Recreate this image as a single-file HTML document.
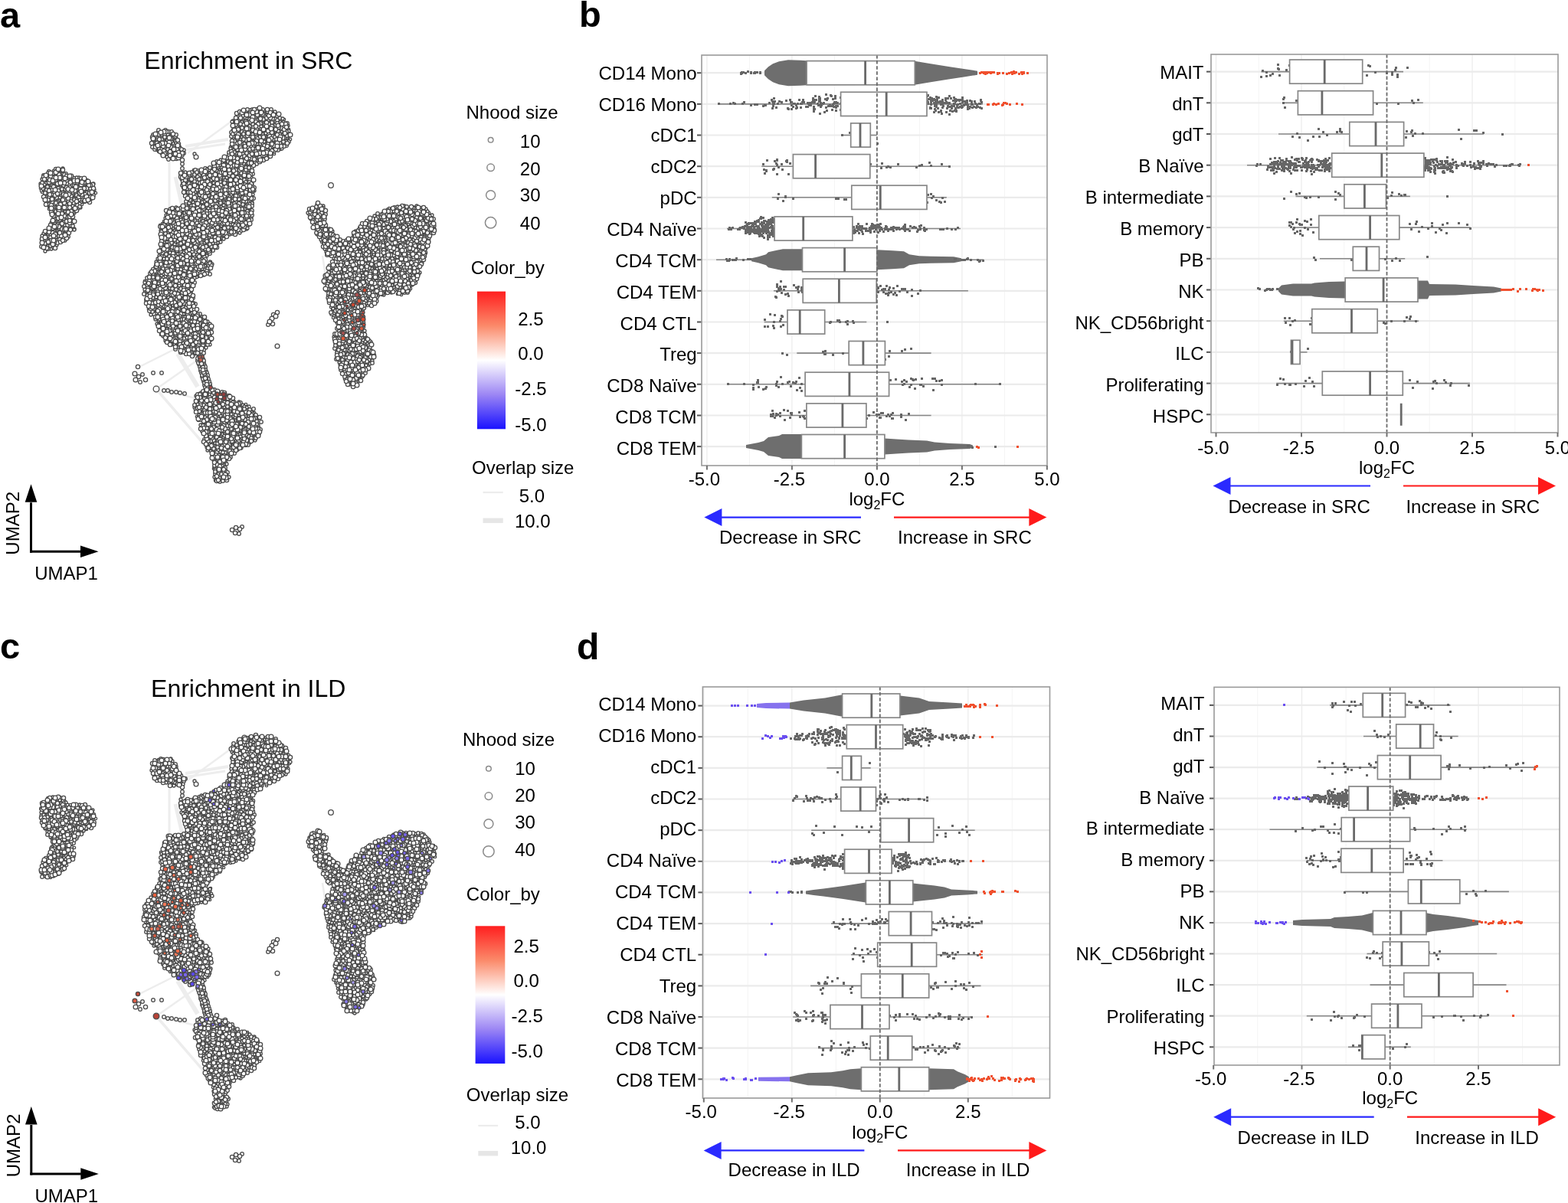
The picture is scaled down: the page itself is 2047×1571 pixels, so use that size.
<!DOCTYPE html>
<html><head><meta charset="utf-8"><title>Figure</title><style>html,body{margin:0;padding:0;background:#fff;overflow:hidden}svg{display:block}</style></head><body>
<svg width="2047" height="1571" viewBox="0 0 2047 1571" font-family='"Liberation Sans", Arial, Helvetica, sans-serif' font-size="24">
<rect width="2047" height="1571" fill="#fff"/>
<text x="0" y="35.6" font-size="47" font-weight="bold">a</text>
<text x="756" y="34.9" font-size="47" font-weight="bold">b</text>
<text x="0" y="860" font-size="47" font-weight="bold">c</text>
<text x="753" y="861" font-size="48" font-weight="bold">d</text>
<text x="324.4" y="89.8" font-size="32" text-anchor="middle">Enrichment in SRC</text>
<text x="324.2" y="909.8" font-size="32" text-anchor="middle">Enrichment in ILD</text>
<line x1="204" y1="508" x2="268" y2="582" stroke="#ededed" stroke-width="3.5"/>
<line x1="204" y1="508" x2="258" y2="470" stroke="#ededed" stroke-width="2.5"/>
<line x1="242" y1="191" x2="298" y2="182" stroke="#ededed" stroke-width="4"/>
<line x1="240" y1="196" x2="294" y2="188" stroke="#ededed" stroke-width="3"/>
<line x1="221" y1="211" x2="221" y2="271" stroke="#ededed" stroke-width="3"/>
<line x1="229" y1="231" x2="238" y2="270" stroke="#ededed" stroke-width="5"/>
<line x1="180" y1="480" x2="230" y2="455" stroke="#ededed" stroke-width="2.5"/>
<line x1="421" y1="334" x2="425" y2="360" stroke="#ededed" stroke-width="2.5"/>
<line x1="214" y1="510" x2="255" y2="520" stroke="#ededed" stroke-width="2.5"/>
<line x1="232" y1="462" x2="258" y2="505" stroke="#ededed" stroke-width="6"/>
<line x1="268" y1="330" x2="262" y2="345" stroke="#ededed" stroke-width="5"/>
<line x1="300" y1="160" x2="245" y2="200" stroke="#ededed" stroke-width="2.5"/>
<g class="q0a" fill="#ffffff" stroke="#4a4a4a" stroke-width="1.3"><circle cx=207 cy=198 r=1.7 /><circle cx=308 cy=212 r=1.7 /><circle cx=276 cy=222 r=1.7 /><circle cx=205 cy=374 r=1.7 /><circle cx=332 cy=160 r=1.7 /><circle cx=211 cy=385 r=1.7 /><circle cx=233 cy=276 r=1.7 /><circle cx=313 cy=159 r=1.7 /><circle cx=465 cy=362 r=1.7 /><circle cx=492 cy=338 r=1.7 /><circle cx=245 cy=384 r=1.7 /><circle cx=352 cy=159 r=1.7 /><circle cx=282 cy=324 r=1.7 /><circle cx=292 cy=607 r=1.7 /><circle cx=113 cy=263 r=1.7 /><circle cx=358 cy=152 r=1.7 /><circle cx=93 cy=266 r=1.7 /><circle cx=329 cy=538 r=1.7 /><circle cx=494 cy=386 r=1.7 /><circle cx=341 cy=173 r=1.7 /><circle cx=488 cy=347 r=1.7 /><circle cx=283 cy=252 r=1.7 /><circle cx=279 cy=273 r=1.7 /><circle cx=199 cy=360 r=1.7 /><circle cx=529 cy=354 r=1.7 /><circle cx=314 cy=581 r=1.7 /><circle cx=420 cy=316 r=1.7 /><circle cx=219 cy=409 r=1.7 /><circle cx=436 cy=412 r=1.7 /><circle cx=540 cy=318 r=1.7 /><circle cx=368 cy=172 r=1.7 /><circle cx=357 cy=184 r=1.7 /><circle cx=524 cy=385 r=1.7 /><circle cx=364 cy=153 r=1.7 /><circle cx=307 cy=195 r=1.7 /><circle cx=514 cy=362 r=1.7 /><circle cx=312 cy=558 r=1.7 /><circle cx=230 cy=441 r=1.7 /><circle cx=215 cy=317 r=1.7 /><circle cx=530 cy=322 r=1.7 /><circle cx=502 cy=333 r=1.7 /><circle cx=297 cy=213 r=1.7 /><circle cx=501 cy=374 r=1.7 /><circle cx=452 cy=323 r=1.7 /><circle cx=319 cy=185 r=1.7 /><circle cx=289 cy=625 r=1.7 /><circle cx=255 cy=272 r=1.7 /><circle cx=472 cy=450 r=1.7 /><circle cx=249 cy=413 r=1.7 /><circle cx=476 cy=308 r=1.7 /><circle cx=254 cy=348 r=1.7 /><circle cx=319 cy=556 r=1.7 /><circle cx=516 cy=355 r=1.7 /><circle cx=360 cy=185 r=1.7 /><circle cx=297 cy=572 r=1.7 /><circle cx=473 cy=366 r=1.7 /><circle cx=289 cy=589 r=1.7 /><circle cx=460 cy=408 r=1.7 /><circle cx=474 cy=334 r=1.7 /><circle cx=499 cy=385 r=1.7 /><circle cx=454 cy=391 r=1.7 /><circle cx=247 cy=366 r=1.7 /><circle cx=247 cy=423 r=1.7 /><circle cx=295 cy=273 r=1.7 /><circle cx=311 cy=219 r=1.7 /><circle cx=464 cy=446 r=1.7 /><circle cx=322 cy=564 r=1.7 /><circle cx=558 cy=307 r=1.7 /><circle cx=80 cy=310 r=1.7 /><circle cx=450 cy=495 r=1.7 /><circle cx=514 cy=352 r=1.7 /><circle cx=536 cy=377 r=1.7 /><circle cx=275 cy=589 r=1.7 /><circle cx=546 cy=326 r=1.7 /><circle cx=483 cy=329 r=1.7 /><circle cx=323 cy=565 r=1.7 /><circle cx=208 cy=373 r=1.7 /><circle cx=492 cy=356 r=1.7 /><circle cx=475 cy=321 r=1.7 /><circle cx=227 cy=396 r=1.7 /><circle cx=119 cy=260 r=1.7 /><circle cx=458 cy=404 r=1.7 /><circle cx=422 cy=277 r=1.7 /><circle cx=258 cy=278 r=1.7 /><circle cx=91 cy=237 r=1.7 /><circle cx=70 cy=277 r=1.7 /><circle cx=461 cy=382 r=1.7 /><circle cx=93 cy=286 r=1.7 /><circle cx=93 cy=274 r=1.7 /><circle cx=432 cy=401 r=1.7 /><circle cx=220 cy=304 r=1.7 /><circle cx=428 cy=386 r=1.7 /><circle cx=267 cy=343 r=1.7 /><circle cx=288 cy=599 r=1.7 /><circle cx=504 cy=358 r=1.7 /><circle cx=414 cy=277 r=1.7 /><circle cx=225 cy=411 r=1.7 /><circle cx=268 cy=349 r=1.7 /><circle cx=290 cy=243 r=1.7 /><circle cx=291 cy=298 r=1.7 /><circle cx=286 cy=273 r=1.7 /><circle cx=291 cy=521 r=1.7 /><circle cx=314 cy=282 r=1.7 /><circle cx=479 cy=304 r=1.7 /><circle cx=273 cy=310 r=1.7 /><circle cx=194 cy=361 r=1.7 /><circle cx=503 cy=317 r=1.7 /><circle cx=420 cy=291 r=1.7 /><circle cx=232 cy=427 r=1.7 /><circle cx=267 cy=450 r=1.7 /><circle cx=70 cy=223 r=1.7 /><circle cx=480 cy=399 r=1.7 /><circle cx=86 cy=285 r=1.7 /><circle cx=458 cy=335 r=1.7 /><circle cx=503 cy=326 r=1.7 /><circle cx=218 cy=328 r=1.7 /><circle cx=218 cy=196 r=1.7 /><circle cx=535 cy=295 r=1.7 /><circle cx=451 cy=443 r=1.7 /><circle cx=512 cy=321 r=1.7 /><circle cx=278 cy=297 r=1.7 /><circle cx=244 cy=311 r=1.7 /><circle cx=206 cy=388 r=1.7 /><circle cx=220 cy=339 r=1.7 /><circle cx=463 cy=359 r=1.7 /><circle cx=68 cy=252 r=1.7 /><circle cx=214 cy=289 r=1.7 /><circle cx=321 cy=543 r=1.7 /><circle cx=306 cy=173 r=1.7 /><circle cx=333 cy=209 r=1.7 /><circle cx=475 cy=421 r=1.7 /><circle cx=262 cy=335 r=1.7 /><circle cx=236 cy=311 r=1.7 /><circle cx=322 cy=163 r=1.7 /><circle cx=64 cy=273 r=1.7 /><circle cx=354 cy=158 r=1.7 /><circle cx=546 cy=351 r=1.7 /><circle cx=227 cy=439 r=1.7 /><circle cx=224 cy=326 r=1.7 /><circle cx=460 cy=376 r=1.7 /><circle cx=256 cy=408 r=1.7 /><circle cx=210 cy=437 r=1.7 /><circle cx=80 cy=274 r=1.7 /><circle cx=556 cy=302 r=1.7 /><circle cx=309 cy=184 r=1.7 /><circle cx=459 cy=430 r=1.7 /><circle cx=236 cy=433 r=1.7 /><circle cx=503 cy=378 r=1.7 /><circle cx=252 cy=411 r=1.7 /><circle cx=442 cy=346 r=1.7 /><circle cx=269 cy=272 r=1.7 /><circle cx=340 cy=194 r=1.7 /><circle cx=472 cy=440 r=1.7 /><circle cx=241 cy=348 r=1.7 /><circle cx=200 cy=391 r=1.7 /><circle cx=536 cy=338 r=1.7 /><circle cx=315 cy=560 r=1.7 /><circle cx=328 cy=563 r=1.7 /><circle cx=463 cy=348 r=1.7 /><circle cx=473 cy=466 r=1.7 /><circle cx=290 cy=537 r=1.7 /><circle cx=200 cy=370 r=1.7 /><circle cx=312 cy=570 r=1.7 /><circle cx=543 cy=332 r=1.7 /><circle cx=311 cy=226 r=1.7 /><circle cx=538 cy=311 r=1.7 /><circle cx=261 cy=431 r=1.7 /><circle cx=501 cy=349 r=1.7 /><circle cx=341 cy=154 r=1.7 /><circle cx=287 cy=624 r=1.7 /><circle cx=209 cy=294 r=1.7 /><circle cx=517 cy=308 r=1.7 /><circle cx=58 cy=255 r=1.7 /><circle cx=263 cy=413 r=1.7 /><circle cx=441 cy=442 r=1.7 /><circle cx=524 cy=284 r=1.7 /><circle cx=288 cy=554 r=1.7 /><circle cx=303 cy=556 r=1.7 /><circle cx=255 cy=523 r=1.7 /><circle cx=465 cy=354 r=1.7 /><circle cx=286 cy=594 r=1.7 /><circle cx=348 cy=145 r=1.7 /><circle cx=247 cy=308 r=1.7 /><circle cx=497 cy=295 r=1.7 /><circle cx=257 cy=544 r=1.7 /><circle cx=261 cy=428 r=1.7 /><circle cx=314 cy=264 r=1.7 /><circle cx=289 cy=295 r=1.7 /><circle cx=435 cy=415 r=1.7 /><circle cx=456 cy=442 r=1.7 /><circle cx=506 cy=368 r=1.7 /><circle cx=317 cy=232 r=1.7 /><circle cx=312 cy=210 r=1.7 /><circle cx=306 cy=288 r=1.7 /><circle cx=357 cy=175 r=1.7 /><circle cx=419 cy=296 r=1.7 /><circle cx=555 cy=284 r=1.7 /><circle cx=534 cy=310 r=1.7 /><circle cx=538 cy=354 r=1.7 /><circle cx=218 cy=316 r=1.7 /><circle cx=270 cy=240 r=1.7 /><circle cx=55 cy=251 r=1.7 /><circle cx=278 cy=215 r=1.7 /><circle cx=240 cy=351 r=1.7 /><circle cx=479 cy=374 r=1.7 /><circle cx=441 cy=328 r=1.7 /><circle cx=512 cy=358 r=1.7 /><circle cx=204 cy=196 r=1.7 /><circle cx=359 cy=172 r=1.7 /><circle cx=238 cy=276 r=1.7 /><circle cx=377 cy=169 r=1.7 /><circle cx=458 cy=388 r=1.7 /><circle cx=464 cy=396 r=1.7 /><circle cx=499 cy=300 r=1.7 /><circle cx=238 cy=322 r=1.7 /><circle cx=308 cy=292 r=1.7 /><circle cx=253 cy=222 r=1.7 /><circle cx=449 cy=377 r=1.7 /><circle cx=61 cy=235 r=1.7 /><circle cx=438 cy=358 r=1.7 /><circle cx=220 cy=332 r=1.7 /><circle cx=214 cy=376 r=1.7 /><circle cx=112 cy=248 r=1.7 /><circle cx=441 cy=393 r=1.7 /><circle cx=522 cy=326 r=1.7 /><circle cx=235 cy=192 r=1.7 /><circle cx=258 cy=254 r=1.7 /><circle cx=246 cy=295 r=1.7 /><circle cx=215 cy=382 r=1.7 /><circle cx=292 cy=232 r=1.7 /><circle cx=494 cy=373 r=1.7 /><circle cx=439 cy=330 r=1.7 /><circle cx=449 cy=438 r=1.7 /><circle cx=103 cy=265 r=1.7 /><circle cx=537 cy=329 r=1.7 /><circle cx=292 cy=235 r=1.7 /><circle cx=283 cy=617 r=1.7 /><circle cx=237 cy=366 r=1.7 /><circle cx=312 cy=240 r=1.7 /><circle cx=265 cy=538 r=1.7 /><circle cx=191 cy=384 r=1.7 /><circle cx=259 cy=361 r=1.7 /><circle cx=265 cy=553 r=1.7 /><circle cx=75 cy=246 r=1.7 /><circle cx=212 cy=342 r=1.7 /><circle cx=323 cy=152 r=1.7 /><circle cx=551 cy=276 r=1.7 /><circle cx=531 cy=273 r=1.7 /><circle cx=301 cy=192 r=1.7 /><circle cx=297 cy=287 r=1.7 /><circle cx=64 cy=252 r=1.7 /><circle cx=256 cy=462 r=1.7 /><circle cx=57 cy=248 r=1.7 /><circle cx=306 cy=159 r=1.7 /><circle cx=288 cy=235 r=1.7 /><circle cx=469 cy=326 r=1.7 /><circle cx=363 cy=178 r=1.7 /><circle cx=314 cy=531 r=1.7 /><circle cx=317 cy=220 r=1.7 /><circle cx=96 cy=256 r=1.7 /><circle cx=459 cy=470 r=1.7 /><circle cx=451 cy=324 r=1.7 /><circle cx=429 cy=374 r=1.7 /><circle cx=220 cy=325 r=1.7 /><circle cx=249 cy=231 r=1.7 /><circle cx=293 cy=275 r=1.7 /><circle cx=322 cy=225 r=1.7 /><circle cx=481 cy=342 r=1.7 /><circle cx=209 cy=430 r=1.7 /><circle cx=219 cy=292 r=1.7 /><circle cx=313 cy=567 r=1.7 /><circle cx=90 cy=299 r=1.7 /><circle cx=238 cy=432 r=1.7 /><circle cx=287 cy=270 r=1.7 /><circle cx=84 cy=293 r=1.7 /><circle cx=481 cy=478 r=1.7 /><circle cx=322 cy=190 r=1.7 /><circle cx=112 cy=241 r=1.7 /><circle cx=270 cy=569 r=1.7 /><circle cx=265 cy=550 r=1.7 /><circle cx=295 cy=604 r=1.7 /><circle cx=270 cy=220 r=1.7 /><circle cx=498 cy=341 r=1.7 /><circle cx=290 cy=542 r=1.7 /><circle cx=238 cy=318 r=1.7 /><circle cx=464 cy=426 r=1.7 /><circle cx=540 cy=288 r=1.7 /><circle cx=212 cy=292 r=1.7 /><circle cx=546 cy=345 r=1.7 /><circle cx=221 cy=364 r=1.7 /><circle cx=259 cy=549 r=1.7 /><circle cx=513 cy=305 r=1.7 /><circle cx=214 cy=392 r=1.7 /><circle cx=223 cy=400 r=1.7 /><circle cx=366 cy=156 r=1.7 /><circle cx=438 cy=401 r=1.7 /><circle cx=417 cy=299 r=1.7 /><circle cx=508 cy=336 r=1.7 /><circle cx=310 cy=149 r=1.7 /><circle cx=449 cy=470 r=1.7 /><circle cx=454 cy=414 r=1.7 /><circle cx=323 cy=210 r=1.7 /><circle cx=560 cy=313 r=1.7 /><circle cx=308 cy=232 r=1.7 /><circle cx=300 cy=570 r=1.7 /><circle cx=475 cy=427 r=1.7 /><circle cx=193 cy=397 r=1.7 /><circle cx=257 cy=362 r=1.7 /><circle cx=459 cy=487 r=1.7 /><circle cx=306 cy=237 r=1.7 /><circle cx=446 cy=468 r=1.7 /><circle cx=271 cy=302 r=1.7 /><circle cx=301 cy=203 r=1.7 /><circle cx=515 cy=374 r=1.7 /><circle cx=216 cy=428 r=1.7 /><circle cx=501 cy=341 r=1.7 /><circle cx=446 cy=329 r=1.7 /><circle cx=288 cy=579 r=1.7 /><circle cx=265 cy=267 r=1.7 /><circle cx=227 cy=352 r=1.7 /><circle cx=252 cy=360 r=1.7 /><circle cx=264 cy=306 r=1.7 /><circle cx=495 cy=360 r=1.7 /><circle cx=222 cy=303 r=1.7 /><circle cx=231 cy=320 r=1.7 /><circle cx=223 cy=378 r=1.7 /><circle cx=53 cy=246 r=1.7 /><circle cx=452 cy=349 r=1.7 /><circle cx=291 cy=266 r=1.7 /><circle cx=499 cy=295 r=1.7 /><circle cx=260 cy=535 r=1.7 /><circle cx=515 cy=319 r=1.7 /><circle cx=247 cy=395 r=1.7 /><circle cx=240 cy=246 r=1.7 /><circle cx=514 cy=295 r=1.7 /><circle cx=321 cy=582 r=1.7 /><circle cx=440 cy=344 r=1.7 /><circle cx=342 cy=164 r=1.7 /><circle cx=327 cy=561 r=1.7 /><circle cx=450 cy=385 r=1.7 /><circle cx=300 cy=550 r=1.7 /><circle cx=546 cy=318 r=1.7 /><circle cx=224 cy=319 r=1.7 /><circle cx=472 cy=420 r=1.7 /><circle cx=301 cy=259 r=1.7 /><circle cx=215 cy=324 r=1.7 /><circle cx=461 cy=492 r=1.7 /><circle cx=343 cy=175 r=1.7 /><circle cx=365 cy=168 r=1.7 /><circle cx=250 cy=316 r=1.7 /><circle cx=243 cy=391 r=1.7 /><circle cx=277 cy=240 r=1.7 /><circle cx=211 cy=351 r=1.7 /><circle cx=201 cy=380 r=1.7 /><circle cx=297 cy=600 r=1.7 /><circle cx=68 cy=307 r=1.7 /><circle cx=288 cy=214 r=1.7 /><circle cx=75 cy=305 r=1.7 /><circle cx=460 cy=484 r=1.7 /><circle cx=374 cy=184 r=1.7 /><circle cx=314 cy=155 r=1.7 /><circle cx=493 cy=289 r=1.7 /><circle cx=249 cy=406 r=1.7 /><circle cx=252 cy=275 r=1.7 /><circle cx=451 cy=417 r=1.7 /><circle cx=258 cy=435 r=1.7 /><circle cx=470 cy=327 r=1.7 /><circle cx=293 cy=532 r=1.7 /><circle cx=476 cy=305 r=1.7 /><circle cx=261 cy=355 r=1.7 /><circle cx=250 cy=336 r=1.7 /><circle cx=366 cy=195 r=1.7 /><circle cx=64 cy=270 r=1.7 /><circle cx=227 cy=344 r=1.7 /><circle cx=303 cy=227 r=1.7 /><circle cx=202 cy=408 r=1.7 /><circle cx=226 cy=298 r=1.7 /><circle cx=478 cy=321 r=1.7 /><circle cx=444 cy=379 r=1.7 /><circle cx=256 cy=338 r=1.7 /><circle cx=300 cy=531 r=1.7 /><circle cx=265 cy=547 r=1.7 /><circle cx=274 cy=284 r=1.7 /><circle cx=305 cy=291 r=1.7 /><circle cx=220 cy=200 r=1.7 /><circle cx=107 cy=267 r=1.7 /><circle cx=314 cy=256 r=1.7 /><circle cx=250 cy=356 r=1.7 /><circle cx=291 cy=584 r=1.7 /><circle cx=287 cy=239 r=1.7 /><circle cx=223 cy=359 r=1.7 /><circle cx=279 cy=533 r=1.7 /><circle cx=211 cy=179 r=1.7 /><circle cx=528 cy=356 r=1.7 /><circle cx=264 cy=532 r=1.7 /><circle cx=535 cy=283 r=1.7 /><circle cx=299 cy=553 r=1.7 /><circle cx=550 cy=271 r=1.7 /><circle cx=481 cy=356 r=1.7 /><circle cx=433 cy=367 r=1.7 /><circle cx=261 cy=464 r=1.7 /><circle cx=463 cy=392 r=1.7 /><circle cx=321 cy=528 r=1.7 /><circle cx=337 cy=197 r=1.7 /><circle cx=271 cy=345 r=1.7 /><circle cx=504 cy=383 r=1.7 /><circle cx=275 cy=554 r=1.7 /><circle cx=451 cy=367 r=1.7 /><circle cx=458 cy=438 r=1.7 /><circle cx=233 cy=353 r=1.7 /><circle cx=420 cy=283 r=1.7 /><circle cx=289 cy=569 r=1.7 /><circle cx=189 cy=381 r=1.7 /><circle cx=243 cy=444 r=1.7 /><circle cx=292 cy=299 r=1.7 /><circle cx=260 cy=310 r=1.7 /><circle cx=211 cy=370 r=1.7 /><circle cx=307 cy=568 r=1.7 /><circle cx=321 cy=248 r=1.7 /><circle cx=438 cy=409 r=1.7 /><circle cx=340 cy=149 r=1.7 /><circle cx=422 cy=317 r=1.7 /><circle cx=527 cy=279 r=1.7 /><circle cx=286 cy=264 r=1.7 /><circle cx=490 cy=317 r=1.7 /><circle cx=225 cy=377 r=1.7 /><circle cx=445 cy=409 r=1.7 /><circle cx=269 cy=320 r=1.7 /><circle cx=268 cy=329 r=1.7 /><circle cx=334 cy=190 r=1.7 /><circle cx=209 cy=332 r=1.7 /><circle cx=508 cy=272 r=1.7 /><circle cx=317 cy=239 r=1.7 /><circle cx=484 cy=347 r=1.7 /><circle cx=321 cy=288 r=1.7 /><circle cx=294 cy=523 r=1.7 /><circle cx=285 cy=300 r=1.7 /><circle cx=329 cy=226 r=1.7 /><circle cx=432 cy=392 r=1.7 /><circle cx=213 cy=426 r=1.7 /><circle cx=504 cy=294 r=1.7 /><circle cx=72 cy=242 r=1.7 /><circle cx=340 cy=168 r=1.7 /><circle cx=555 cy=286 r=1.7 /><circle cx=215 cy=345 r=1.7 /><circle cx=546 cy=322 r=1.7 /><circle cx=306 cy=233 r=1.7 /><circle cx=527 cy=318 r=1.7 /><circle cx=272 cy=347 r=1.7 /><circle cx=215 cy=416 r=1.7 /><circle cx=504 cy=282 r=1.7 /><circle cx=262 cy=540 r=1.7 /><circle cx=451 cy=398 r=1.7 /><circle cx=267 cy=317 r=1.7 /><circle cx=454 cy=461 r=1.7 /><circle cx=344 cy=165 r=1.7 /><circle cx=254 cy=335 r=1.7 /><circle cx=189 cy=367 r=1.7 /><circle cx=471 cy=368 r=1.7 /><circle cx=495 cy=307 r=1.7 /><circle cx=494 cy=349 r=1.7 /><circle cx=512 cy=349 r=1.7 /><circle cx=546 cy=289 r=1.7 /><circle cx=96 cy=255 r=1.7 /><circle cx=337 cy=174 r=1.7 /><circle cx=565 cy=289 r=1.7 /><circle cx=451 cy=404 r=1.7 /><circle cx=240 cy=410 r=1.7 /><circle cx=448 cy=320 r=1.7 /><circle cx=555 cy=318 r=1.7 /><circle cx=338 cy=558 r=1.7 /><circle cx=214 cy=312 r=1.7 /><circle cx=252 cy=261 r=1.7 /><circle cx=533 cy=294 r=1.7 /><circle cx=429 cy=379 r=1.7 /><circle cx=484 cy=379 r=1.7 /><circle cx=480 cy=391 r=1.7 /><circle cx=426 cy=297 r=1.7 /><circle cx=222 cy=444 r=1.7 /><circle cx=461 cy=354 r=1.7 /><circle cx=230 cy=359 r=1.7 /><circle cx=318 cy=206 r=1.7 /><circle cx=519 cy=384 r=1.7 /><circle cx=207 cy=419 r=1.7 /><circle cx=301 cy=300 r=1.7 /><circle cx=555 cy=335 r=1.7 /><circle cx=548 cy=309 r=1.7 /><circle cx=412 cy=299 r=1.7 /><circle cx=90 cy=262 r=1.7 /><circle cx=371 cy=156 r=1.7 /><circle cx=295 cy=210 r=1.7 /><circle cx=233 cy=285 r=1.7 /><circle cx=479 cy=382 r=1.7 /><circle cx=296 cy=548 r=1.7 /><circle cx=476 cy=361 r=1.7 /><circle cx=236 cy=403 r=1.7 /><circle cx=439 cy=378 r=1.7 /><circle cx=216 cy=363 r=1.7 /><circle cx=268 cy=347 r=1.7 /><circle cx=210 cy=325 r=1.7 /><circle cx=469 cy=415 r=1.7 /><circle cx=279 cy=612 r=1.7 /><circle cx=560 cy=278 r=1.7 /><circle cx=255 cy=282 r=1.7 /><circle cx=274 cy=323 r=1.7 /><circle cx=227 cy=192 r=1.7 /><circle cx=125 cy=252 r=1.7 /><circle cx=481 cy=327 r=1.7 /><circle cx=250 cy=362 r=1.7 /><circle cx=323 cy=580 r=1.7 /><circle cx=446 cy=339 r=1.7 /><circle cx=272 cy=526 r=1.7 /><circle cx=551 cy=285 r=1.7 /><circle cx=249 cy=450 r=1.7 /><circle cx=54 cy=249 r=1.7 /><circle cx=345 cy=171 r=1.7 /><circle cx=442 cy=388 r=1.7 /><circle cx=457 cy=349 r=1.7 /><circle cx=412 cy=284 r=1.7 /><circle cx=81 cy=300 r=1.7 /><circle cx=434 cy=404 r=1.7 /><circle cx=525 cy=295 r=1.7 /><circle cx=60 cy=244 r=1.7 /><circle cx=211 cy=313 r=1.7 /><circle cx=216 cy=328 r=1.7 /><circle cx=261 cy=448 r=1.7 /><circle cx=519 cy=321 r=1.7 /><circle cx=259 cy=231 r=1.7 /><circle cx=60 cy=239 r=1.7 /><circle cx=86 cy=292 r=1.7 /><circle cx=223 cy=174 r=1.7 /><circle cx=379 cy=182 r=1.7 /><circle cx=310 cy=251 r=1.7 /><circle cx=445 cy=446 r=1.7 /><circle cx=263 cy=310 r=1.7 /><circle cx=465 cy=374 r=1.7 /><circle cx=472 cy=359 r=1.7 /><circle cx=228 cy=301 r=1.7 /><circle cx=82 cy=280 r=1.7 /><circle cx=451 cy=448 r=1.7 /><circle cx=324 cy=259 r=1.7 /><circle cx=520 cy=353 r=1.7 /><circle cx=358 cy=201 r=1.7 /><circle cx=497 cy=367 r=1.7 /><circle cx=232 cy=439 r=1.7 /><circle cx=246 cy=275 r=1.7 /><circle cx=231 cy=281 r=1.7 /><circle cx=297 cy=586 r=1.7 /><circle cx=525 cy=277 r=1.7 /><circle cx=223 cy=423 r=1.7 /><circle cx=63 cy=306 r=1.7 /><circle cx=335 cy=557 r=1.7 /><circle cx=503 cy=288 r=1.7 /><circle cx=499 cy=336 r=1.7 /><circle cx=236 cy=407 r=1.7 /><circle cx=319 cy=538 r=1.7 /><circle cx=231 cy=445 r=1.7 /><circle cx=250 cy=265 r=1.7 /><circle cx=62 cy=253 r=1.7 /><circle cx=484 cy=333 r=1.7 /><circle cx=249 cy=455 r=1.7 /><circle cx=482 cy=300 r=1.7 /><circle cx=69 cy=228 r=1.7 /><circle cx=327 cy=208 r=1.7 /><circle cx=272 cy=308 r=1.7 /><circle cx=533 cy=293 r=1.7 /><circle cx=419 cy=309 r=1.7 /><circle cx=254 cy=437 r=1.7 /><circle cx=245 cy=370 r=1.7 /><circle cx=480 cy=468 r=1.7 /><circle cx=478 cy=389 r=1.7 /><circle cx=321 cy=257 r=1.7 /><circle cx=197 cy=380 r=1.7 /><circle cx=275 cy=342 r=1.7 /><circle cx=474 cy=405 r=1.7 /><circle cx=346 cy=187 r=1.7 /><circle cx=494 cy=315 r=1.7 /><circle cx=236 cy=284 r=1.7 /><circle cx=442 cy=439 r=1.7 /><circle cx=459 cy=324 r=1.7 /><circle cx=226 cy=360 r=1.7 /><circle cx=323 cy=157 r=1.7 /><circle cx=476 cy=448 r=1.7 /><circle cx=489 cy=388 r=1.7 /><circle cx=459 cy=417 r=1.7 /><circle cx=332 cy=539 r=1.7 /><circle cx=282 cy=320 r=1.7 /><circle cx=349 cy=178 r=1.7 /><circle cx=194 cy=404 r=1.7 /><circle cx=467 cy=322 r=1.7 /><circle cx=190 cy=372 r=1.7 /><circle cx=224 cy=370 r=1.7 /><circle cx=479 cy=451 r=1.7 /><circle cx=100 cy=258 r=1.7 /><circle cx=265 cy=522 r=1.7 /><circle cx=468 cy=383 r=1.7 /><circle cx=289 cy=270 r=1.7 /><circle cx=508 cy=351 r=1.7 /><circle cx=463 cy=404 r=1.7 /><circle cx=85 cy=276 r=1.7 /><circle cx=316 cy=294 r=1.7 /><circle cx=282 cy=231 r=1.7 /></g>
<g class="q1a" fill="#ffffff" stroke="#4a4a4a" stroke-width="1.3"><circle cx=332 cy=249 r=2 /><circle cx=331 cy=191 r=2 /><circle cx=226 cy=203 r=2 /><circle cx=324 cy=275 r=2 /><circle cx=322 cy=568 r=2 /><circle cx=296 cy=606 r=2 /><circle cx=488 cy=313 r=2 /><circle cx=267 cy=263 r=2 /><circle cx=214 cy=400 r=2 /><circle cx=247 cy=426 r=2 /><circle cx=358 cy=162 r=2 /><circle cx=482 cy=388 r=2 /><circle cx=261 cy=356 r=2 /><circle cx=337 cy=555 r=2 /><circle cx=233 cy=328 r=2 /><circle cx=315 cy=174 r=2 /><circle cx=71 cy=267 r=2 /><circle cx=329 cy=143 r=2 /><circle cx=376 cy=164 r=2 /><circle cx=488 cy=364 r=2 /><circle cx=472 cy=328 r=2 /><circle cx=440 cy=397 r=2 /><circle cx=302 cy=212 r=2 /><circle cx=241 cy=318 r=2 /><circle cx=296 cy=249 r=2 /><circle cx=489 cy=282 r=2 /><circle cx=295 cy=264 r=2 /><circle cx=489 cy=345 r=2 /><circle cx=220 cy=187 r=2 /><circle cx=422 cy=282 r=2 /><circle cx=447 cy=370 r=2 /><circle cx=297 cy=236 r=2 /><circle cx=265 cy=425 r=2 /><circle cx=445 cy=414 r=2 /><circle cx=252 cy=264 r=2 /><circle cx=192 cy=389 r=2 /><circle cx=452 cy=408 r=2 /><circle cx=316 cy=203 r=2 /><circle cx=485 cy=357 r=2 /><circle cx=435 cy=309 r=2 /><circle cx=273 cy=573 r=2 /><circle cx=197 cy=411 r=2 /><circle cx=285 cy=572 r=2 /><circle cx=562 cy=294 r=2 /><circle cx=232 cy=197 r=2 /><circle cx=304 cy=193 r=2 /><circle cx=444 cy=476 r=2 /><circle cx=406 cy=286 r=2 /><circle cx=546 cy=282 r=2 /><circle cx=525 cy=351 r=2 /><circle cx=262 cy=286 r=2 /><circle cx=312 cy=550 r=2 /><circle cx=226 cy=202 r=2 /><circle cx=218 cy=369 r=2 /><circle cx=211 cy=414 r=2 /><circle cx=288 cy=543 r=2 /><circle cx=63 cy=321 r=2 /><circle cx=249 cy=342 r=2 /><circle cx=81 cy=276 r=2 /><circle cx=455 cy=499 r=2 /><circle cx=481 cy=344 r=2 /><circle cx=264 cy=338 r=2 /><circle cx=445 cy=431 r=2 /><circle cx=429 cy=367 r=2 /><circle cx=354 cy=202 r=2 /><circle cx=440 cy=385 r=2 /><circle cx=252 cy=353 r=2 /><circle cx=254 cy=363 r=2 /><circle cx=236 cy=228 r=2 /><circle cx=375 cy=180 r=2 /><circle cx=344 cy=182 r=2 /><circle cx=302 cy=279 r=2 /><circle cx=484 cy=374 r=2 /><circle cx=347 cy=174 r=2 /><circle cx=514 cy=288 r=2 /><circle cx=245 cy=348 r=2 /><circle cx=236 cy=372 r=2 /><circle cx=312 cy=278 r=2 /><circle cx=325 cy=531 r=2 /><circle cx=67 cy=325 r=2 /><circle cx=518 cy=289 r=2 /><circle cx=103 cy=232 r=2 /><circle cx=315 cy=236 r=2 /><circle cx=304 cy=539 r=2 /><circle cx=226 cy=187 r=2 /><circle cx=262 cy=535 r=2 /><circle cx=294 cy=259 r=2 /><circle cx=511 cy=382 r=2 /><circle cx=272 cy=581 r=2 /><circle cx=538 cy=372 r=2 /><circle cx=290 cy=600 r=2 /><circle cx=310 cy=534 r=2 /><circle cx=272 cy=559 r=2 /><circle cx=313 cy=304 r=2 /><circle cx=345 cy=204 r=2 /><circle cx=324 cy=165 r=2 /><circle cx=66 cy=257 r=2 /><circle cx=487 cy=335 r=2 /><circle cx=260 cy=542 r=2 /><circle cx=470 cy=336 r=2 /><circle cx=422 cy=305 r=2 /><circle cx=322 cy=532 r=2 /><circle cx=443 cy=411 r=2 /><circle cx=522 cy=352 r=2 /><circle cx=265 cy=299 r=2 /><circle cx=467 cy=458 r=2 /><circle cx=288 cy=209 r=2 /><circle cx=512 cy=372 r=2 /><circle cx=75 cy=301 r=2 /><circle cx=205 cy=183 r=2 /><circle cx=258 cy=528 r=2 /><circle cx=450 cy=427 r=2 /><circle cx=208 cy=334 r=2 /><circle cx=201 cy=360 r=2 /><circle cx=248 cy=304 r=2 /><circle cx=259 cy=242 r=2 /><circle cx=57 cy=305 r=2 /><circle cx=255 cy=461 r=2 /><circle cx=227 cy=442 r=2 /><circle cx=281 cy=237 r=2 /><circle cx=216 cy=445 r=2 /><circle cx=511 cy=293 r=2 /><circle cx=528 cy=289 r=2 /><circle cx=416 cy=271 r=2 /><circle cx=315 cy=572 r=2 /><circle cx=315 cy=535 r=2 /><circle cx=294 cy=576 r=2 /><circle cx=440 cy=413 r=2 /><circle cx=247 cy=416 r=2 /><circle cx=444 cy=460 r=2 /><circle cx=284 cy=260 r=2 /><circle cx=264 cy=418 r=2 /><circle cx=544 cy=329 r=2 /><circle cx=544 cy=269 r=2 /><circle cx=271 cy=289 r=2 /><circle cx=463 cy=501 r=2 /><circle cx=376 cy=178 r=2 /><circle cx=285 cy=295 r=2 /><circle cx=261 cy=251 r=2 /><circle cx=231 cy=381 r=2 /><circle cx=445 cy=417 r=2 /><circle cx=329 cy=240 r=2 /><circle cx=443 cy=452 r=2 /><circle cx=514 cy=327 r=2 /><circle cx=282 cy=575 r=2 /><circle cx=404 cy=280 r=2 /><circle cx=471 cy=444 r=2 /><circle cx=102 cy=241 r=2 /><circle cx=251 cy=436 r=2 /><circle cx=555 cy=304 r=2 /><circle cx=192 cy=381 r=2 /><circle cx=109 cy=241 r=2 /><circle cx=501 cy=365 r=2 /><circle cx=210 cy=192 r=2 /><circle cx=476 cy=463 r=2 /><circle cx=271 cy=268 r=2 /><circle cx=270 cy=529 r=2 /><circle cx=435 cy=403 r=2 /><circle cx=306 cy=525 r=2 /><circle cx=341 cy=165 r=2 /><circle cx=311 cy=165 r=2 /><circle cx=282 cy=227 r=2 /><circle cx=73 cy=274 r=2 /><circle cx=316 cy=191 r=2 /><circle cx=288 cy=312 r=2 /><circle cx=81 cy=260 r=2 /><circle cx=524 cy=355 r=2 /><circle cx=259 cy=224 r=2 /><circle cx=75 cy=289 r=2 /><circle cx=351 cy=169 r=2 /><circle cx=324 cy=161 r=2 /><circle cx=299 cy=283 r=2 /><circle cx=297 cy=522 r=2 /><circle cx=270 cy=514 r=2 /><circle cx=254 cy=201 r=2 /><circle cx=496 cy=354 r=2 /><circle cx=70 cy=285 r=2 /><circle cx=256 cy=517 r=2 /><circle cx=250 cy=325 r=2 /><circle cx=460 cy=465 r=2 /><circle cx=333 cy=212 r=2 /><circle cx=465 cy=349 r=2 /><circle cx=483 cy=475 r=2 /><circle cx=443 cy=473 r=2 /><circle cx=430 cy=299 r=2 /><circle cx=462 cy=328 r=2 /><circle cx=232 cy=375 r=2 /><circle cx=235 cy=331 r=2 /><circle cx=485 cy=297 r=2 /><circle cx=476 cy=342 r=2 /><circle cx=453 cy=457 r=2 /><circle cx=472 cy=335 r=2 /><circle cx=62 cy=264 r=2 /><circle cx=263 cy=228 r=2 /><circle cx=510 cy=294 r=2 /><circle cx=567 cy=299 r=2 /><circle cx=206 cy=338 r=2 /><circle cx=304 cy=564 r=2 /><circle cx=328 cy=569 r=2 /><circle cx=436 cy=322 r=2 /><circle cx=222 cy=330 r=2 /><circle cx=266 cy=453 r=2 /><circle cx=304 cy=582 r=2 /><circle cx=467 cy=432 r=2 /><circle cx=248 cy=376 r=2 /><circle cx=288 cy=264 r=2 /><circle cx=347 cy=150 r=2 /><circle cx=330 cy=254 r=2 /><circle cx=232 cy=295 r=2 /><circle cx=554 cy=308 r=2 /><circle cx=456 cy=458 r=2 /><circle cx=508 cy=301 r=2 /><circle cx=447 cy=354 r=2 /><circle cx=259 cy=354 r=2 /><circle cx=413 cy=273 r=2 /><circle cx=283 cy=266 r=2 /><circle cx=548 cy=313 r=2 /><circle cx=68 cy=310 r=2 /><circle cx=116 cy=254 r=2 /><circle cx=498 cy=373 r=2 /><circle cx=254 cy=300 r=2 /><circle cx=290 cy=311 r=2 /><circle cx=528 cy=292 r=2 /><circle cx=209 cy=360 r=2 /><circle cx=299 cy=304 r=2 /><circle cx=524 cy=348 r=2 /><circle cx=481 cy=308 r=2 /><circle cx=549 cy=274 r=2 /><circle cx=107 cy=248 r=2 /><circle cx=551 cy=343 r=2 /><circle cx=475 cy=346 r=2 /><circle cx=479 cy=294 r=2 /><circle cx=238 cy=425 r=2 /><circle cx=528 cy=315 r=2 /><circle cx=440 cy=421 r=2 /><circle cx=222 cy=428 r=2 /><circle cx=307 cy=157 r=2 /><circle cx=447 cy=351 r=2 /><circle cx=260 cy=256 r=2 /><circle cx=288 cy=299 r=2 /><circle cx=275 cy=444 r=2 /><circle cx=219 cy=367 r=2 /><circle cx=468 cy=440 r=2 /><circle cx=470 cy=323 r=2 /><circle cx=441 cy=324 r=2 /><circle cx=257 cy=444 r=2 /><circle cx=245 cy=269 r=2 /><circle cx=232 cy=360 r=2 /><circle cx=355 cy=154 r=2 /><circle cx=453 cy=394 r=2 /><circle cx=338 cy=202 r=2 /><circle cx=283 cy=542 r=2 /><circle cx=438 cy=360 r=2 /><circle cx=247 cy=433 r=2 /><circle cx=325 cy=543 r=2 /><circle cx=303 cy=276 r=2 /><circle cx=320 cy=273 r=2 /><circle cx=521 cy=276 r=2 /><circle cx=265 cy=234 r=2 /><circle cx=80 cy=222 r=2 /><circle cx=531 cy=317 r=2 /><circle cx=465 cy=476 r=2 /><circle cx=438 cy=448 r=2 /><circle cx=269 cy=229 r=2 /><circle cx=448 cy=477 r=2 /><circle cx=301 cy=222 r=2 /><circle cx=472 cy=465 r=2 /><circle cx=540 cy=362 r=2 /><circle cx=476 cy=377 r=2 /><circle cx=448 cy=414 r=2 /><circle cx=276 cy=564 r=2 /><circle cx=225 cy=389 r=2 /><circle cx=548 cy=331 r=2 /><circle cx=272 cy=318 r=2 /><circle cx=558 cy=276 r=2 /><circle cx=308 cy=566 r=2 /><circle cx=280 cy=559 r=2 /><circle cx=341 cy=196 r=2 /><circle cx=278 cy=261 r=2 /><circle cx=204 cy=404 r=2 /><circle cx=489 cy=376 r=2 /><circle cx=444 cy=386 r=2 /><circle cx=238 cy=203 r=2 /><circle cx=258 cy=324 r=2 /><circle cx=488 cy=343 r=2 /><circle cx=249 cy=335 r=2 /><circle cx=506 cy=274 r=2 /><circle cx=295 cy=554 r=2 /><circle cx=540 cy=301 r=2 /><circle cx=310 cy=262 r=2 /><circle cx=295 cy=535 r=2 /><circle cx=443 cy=470 r=2 /><circle cx=460 cy=379 r=2 /><circle cx=222 cy=273 r=2 /><circle cx=525 cy=382 r=2 /><circle cx=536 cy=332 r=2 /><circle cx=237 cy=304 r=2 /><circle cx=272 cy=540 r=2 /><circle cx=465 cy=460 r=2 /><circle cx=282 cy=219 r=2 /><circle cx=455 cy=454 r=2 /><circle cx=450 cy=433 r=2 /><circle cx=77 cy=301 r=2 /><circle cx=285 cy=278 r=2 /><circle cx=243 cy=429 r=2 /><circle cx=281 cy=579 r=2 /><circle cx=247 cy=418 r=2 /><circle cx=326 cy=578 r=2 /><circle cx=527 cy=311 r=2 /><circle cx=234 cy=420 r=2 /><circle cx=314 cy=173 r=2 /><circle cx=224 cy=431 r=2 /><circle cx=273 cy=548 r=2 /><circle cx=556 cy=324 r=2 /><circle cx=319 cy=216 r=2 /><circle cx=285 cy=254 r=2 /><circle cx=258 cy=522 r=2 /><circle cx=315 cy=585 r=2 /><circle cx=71 cy=280 r=2 /><circle cx=53 cy=240 r=2 /><circle cx=470 cy=347 r=2 /><circle cx=465 cy=332 r=2 /><circle cx=357 cy=189 r=2 /><circle cx=222 cy=194 r=2 /><circle cx=477 cy=473 r=2 /><circle cx=276 cy=429 r=2 /><circle cx=309 cy=266 r=2 /><circle cx=271 cy=235 r=2 /><circle cx=317 cy=282 r=2 /><circle cx=314 cy=150 r=2 /><circle cx=61 cy=264 r=2 /><circle cx=532 cy=334 r=2 /><circle cx=238 cy=447 r=2 /><circle cx=283 cy=552 r=2 /><circle cx=307 cy=181 r=2 /><circle cx=237 cy=278 r=2 /><circle cx=533 cy=286 r=2 /><circle cx=67 cy=233 r=2 /><circle cx=275 cy=232 r=2 /><circle cx=238 cy=377 r=2 /><circle cx=499 cy=348 r=2 /><circle cx=241 cy=278 r=2 /><circle cx=328 cy=232 r=2 /><circle cx=448 cy=349 r=2 /><circle cx=293 cy=264 r=2 /><circle cx=480 cy=449 r=2 /><circle cx=494 cy=366 r=2 /><circle cx=305 cy=179 r=2 /><circle cx=216 cy=404 r=2 /><circle cx=484 cy=462 r=2 /><circle cx=269 cy=454 r=2 /><circle cx=522 cy=316 r=2 /><circle cx=526 cy=333 r=2 /><circle cx=295 cy=257 r=2 /><circle cx=214 cy=396 r=2 /><circle cx=539 cy=273 r=2 /><circle cx=490 cy=347 r=2 /><circle cx=490 cy=323 r=2 /><circle cx=311 cy=163 r=2 /><circle cx=293 cy=525 r=2 /><circle cx=328 cy=191 r=2 /><circle cx=301 cy=194 r=2 /><circle cx=249 cy=347 r=2 /><circle cx=325 cy=540 r=2 /><circle cx=228 cy=413 r=2 /><circle cx=472 cy=389 r=2 /><circle cx=450 cy=346 r=2 /><circle cx=243 cy=363 r=2 /><circle cx=534 cy=379 r=2 /><circle cx=495 cy=285 r=2 /><circle cx=487 cy=303 r=2 /><circle cx=66 cy=241 r=2 /><circle cx=332 cy=181 r=2 /><circle cx=464 cy=338 r=2 /><circle cx=84 cy=304 r=2 /><circle cx=254 cy=410 r=2 /><circle cx=434 cy=364 r=2 /><circle cx=310 cy=544 r=2 /><circle cx=318 cy=169 r=2 /><circle cx=234 cy=440 r=2 /><circle cx=229 cy=386 r=2 /><circle cx=329 cy=203 r=2 /><circle cx=265 cy=525 r=2 /><circle cx=468 cy=495 r=2 /><circle cx=537 cy=324 r=2 /><circle cx=301 cy=578 r=2 /><circle cx=520 cy=379 r=2 /><circle cx=507 cy=339 r=2 /><circle cx=271 cy=588 r=2 /><circle cx=520 cy=291 r=2 /><circle cx=270 cy=334 r=2 /><circle cx=452 cy=316 r=2 /><circle cx=319 cy=148 r=2 /><circle cx=531 cy=305 r=2 /><circle cx=355 cy=174 r=2 /><circle cx=211 cy=176 r=2 /><circle cx=95 cy=236 r=2 /><circle cx=429 cy=302 r=2 /><circle cx=349 cy=146 r=2 /><circle cx=292 cy=312 r=2 /><circle cx=319 cy=249 r=2 /><circle cx=93 cy=260 r=2 /><circle cx=278 cy=220 r=2 /><circle cx=261 cy=412 r=2 /><circle cx=247 cy=243 r=2 /><circle cx=238 cy=452 r=2 /><circle cx=314 cy=563 r=2 /><circle cx=537 cy=325 r=2 /><circle cx=461 cy=454 r=2 /><circle cx=223 cy=200 r=2 /><circle cx=63 cy=315 r=2 /><circle cx=452 cy=320 r=2 /><circle cx=200 cy=389 r=2 /><circle cx=324 cy=573 r=2 /><circle cx=303 cy=262 r=2 /><circle cx=273 cy=291 r=2 /><circle cx=477 cy=446 r=2 /><circle cx=453 cy=339 r=2 /><circle cx=279 cy=263 r=2 /><circle cx=59 cy=320 r=2 /><circle cx=317 cy=529 r=2 /><circle cx=402 cy=278 r=2 /><circle cx=290 cy=306 r=2 /><circle cx=470 cy=364 r=2 /><circle cx=450 cy=455 r=2 /><circle cx=231 cy=370 r=2 /><circle cx=469 cy=399 r=2 /><circle cx=423 cy=303 r=2 /><circle cx=329 cy=219 r=2 /><circle cx=301 cy=293 r=2 /><circle cx=306 cy=166 r=2 /><circle cx=239 cy=287 r=2 /><circle cx=461 cy=313 r=2 /><circle cx=240 cy=455 r=2 /><circle cx=239 cy=448 r=2 /><circle cx=216 cy=361 r=2 /><circle cx=454 cy=445 r=2 /><circle cx=328 cy=257 r=2 /><circle cx=207 cy=184 r=2 /><circle cx=504 cy=307 r=2 /><circle cx=233 cy=453 r=2 /><circle cx=274 cy=275 r=2 /><circle cx=290 cy=567 r=2 /><circle cx=316 cy=159 r=2 /><circle cx=296 cy=299 r=2 /><circle cx=304 cy=158 r=2 /><circle cx=542 cy=338 r=2 /><circle cx=359 cy=146 r=2 /><circle cx=446 cy=324 r=2 /><circle cx=542 cy=296 r=2 /><circle cx=250 cy=420 r=2 /><circle cx=358 cy=194 r=2 /><circle cx=276 cy=256 r=2 /><circle cx=334 cy=552 r=2 /><circle cx=465 cy=367 r=2 /><circle cx=250 cy=394 r=2 /><circle cx=443 cy=468 r=2 /><circle cx=551 cy=333 r=2 /><circle cx=430 cy=333 r=2 /><circle cx=97 cy=299 r=2 /><circle cx=80 cy=255 r=2 /><circle cx=242 cy=439 r=2 /><circle cx=280 cy=588 r=2 /><circle cx=207 cy=370 r=2 /><circle cx=242 cy=312 r=2 /><circle cx=446 cy=375 r=2 /><circle cx=264 cy=351 r=2 /><circle cx=61 cy=311 r=2 /><circle cx=431 cy=378 r=2 /><circle cx=75 cy=292 r=2 /><circle cx=278 cy=319 r=2 /><circle cx=268 cy=314 r=2 /><circle cx=448 cy=386 r=2 /><circle cx=312 cy=525 r=2 /><circle cx=341 cy=159 r=2 /><circle cx=305 cy=541 r=2 /><circle cx=204 cy=399 r=2 /><circle cx=247 cy=328 r=2 /><circle cx=231 cy=300 r=2 /><circle cx=191 cy=370 r=2 /><circle cx=488 cy=332 r=2 /><circle cx=216 cy=388 r=2 /><circle cx=267 cy=259 r=2 /><circle cx=82 cy=220 r=2 /><circle cx=521 cy=329 r=2 /><circle cx=305 cy=191 r=2 /><circle cx=548 cy=356 r=2 /><circle cx=215 cy=333 r=2 /><circle cx=468 cy=498 r=2 /><circle cx=286 cy=537 r=2 /><circle cx=282 cy=518 r=2 /><circle cx=257 cy=264 r=2 /><circle cx=274 cy=342 r=2 /><circle cx=262 cy=259 r=2 /><circle cx=288 cy=552 r=2 /><circle cx=196 cy=372 r=2 /><circle cx=319 cy=266 r=2 /><circle cx=229 cy=316 r=2 /><circle cx=284 cy=318 r=2 /><circle cx=288 cy=316 r=2 /><circle cx=560 cy=311 r=2 /><circle cx=249 cy=429 r=2 /><circle cx=263 cy=265 r=2 /><circle cx=246 cy=451 r=2 /><circle cx=471 cy=402 r=2 /><circle cx=300 cy=237 r=2 /><circle cx=229 cy=184 r=2 /><circle cx=564 cy=281 r=2 /><circle cx=466 cy=342 r=2 /><circle cx=266 cy=359 r=2 /><circle cx=274 cy=269 r=2 /><circle cx=332 cy=163 r=2 /><circle cx=470 cy=380 r=2 /><circle cx=254 cy=352 r=2 /><circle cx=272 cy=234 r=2 /><circle cx=293 cy=544 r=2 /><circle cx=504 cy=314 r=2 /><circle cx=359 cy=166 r=2 /><circle cx=269 cy=437 r=2 /><circle cx=203 cy=186 r=2 /><circle cx=317 cy=552 r=2 /><circle cx=470 cy=329 r=2 /><circle cx=71 cy=301 r=2 /><circle cx=352 cy=191 r=2 /><circle cx=464 cy=458 r=2 /><circle cx=226 cy=353 r=2 /><circle cx=274 cy=238 r=2 /><circle cx=291 cy=553 r=2 /><circle cx=450 cy=457 r=2 /><circle cx=291 cy=278 r=2 /><circle cx=538 cy=292 r=2 /><circle cx=259 cy=259 r=2 /><circle cx=457 cy=453 r=2 /><circle cx=236 cy=316 r=2 /><circle cx=240 cy=335 r=2 /><circle cx=542 cy=297 r=2 /><circle cx=245 cy=360 r=2 /><circle cx=293 cy=214 r=2 /><circle cx=216 cy=307 r=2 /><circle cx=83 cy=311 r=2 /><circle cx=64 cy=258 r=2 /><circle cx=556 cy=273 r=2 /><circle cx=472 cy=408 r=2 /><circle cx=267 cy=237 r=2 /><circle cx=230 cy=405 r=2 /><circle cx=218 cy=430 r=2 /><circle cx=282 cy=589 r=2 /><circle cx=452 cy=467 r=2 /><circle cx=294 cy=589 r=2 /><circle cx=210 cy=301 r=2 /><circle cx=494 cy=304 r=2 /><circle cx=537 cy=351 r=2 /><circle cx=518 cy=314 r=2 /><circle cx=61 cy=313 r=2 /><circle cx=307 cy=243 r=2 /><circle cx=309 cy=227 r=2 /><circle cx=249 cy=333 r=2 /><circle cx=250 cy=228 r=2 /><circle cx=249 cy=239 r=2 /><circle cx=267 cy=288 r=2 /><circle cx=519 cy=286 r=2 /><circle cx=245 cy=439 r=2 /><circle cx=292 cy=248 r=2 /><circle cx=326 cy=144 r=2 /><circle cx=304 cy=577 r=2 /><circle cx=461 cy=337 r=2 /><circle cx=267 cy=275 r=2 /><circle cx=251 cy=425 r=2 /><circle cx=253 cy=231 r=2 /><circle cx=456 cy=436 r=2 /><circle cx=261 cy=331 r=2 /><circle cx=436 cy=440 r=2 /><circle cx=296 cy=232 r=2 /><circle cx=442 cy=413 r=2 /><circle cx=313 cy=254 r=2 /><circle cx=492 cy=351 r=2 /><circle cx=314 cy=570 r=2 /><circle cx=303 cy=243 r=2 /><circle cx=287 cy=222 r=2 /><circle cx=323 cy=197 r=2 /><circle cx=86 cy=273 r=2 /><circle cx=232 cy=314 r=2 /><circle cx=316 cy=548 r=2 /><circle cx=254 cy=340 r=2 /><circle cx=304 cy=544 r=2 /><circle cx=280 cy=610 r=2 /><circle cx=516 cy=310 r=2 /><circle cx=449 cy=486 r=2 /><circle cx=284 cy=309 r=2 /><circle cx=540 cy=271 r=2 /><circle cx=119 cy=255 r=2 /><circle cx=300 cy=306 r=2 /><circle cx=284 cy=603 r=2 /><circle cx=269 cy=298 r=2 /><circle cx=360 cy=159 r=2 /><circle cx=452 cy=376 r=2 /><circle cx=225 cy=182 r=2 /><circle cx=279 cy=582 r=2 /><circle cx=254 cy=306 r=2 /><circle cx=315 cy=179 r=2 /><circle cx=315 cy=169 r=2 /><circle cx=231 cy=387 r=2 /><circle cx=467 cy=344 r=2 /><circle cx=461 cy=370 r=2 /><circle cx=316 cy=185 r=2 /><circle cx=272 cy=281 r=2 /><circle cx=476 cy=432 r=2 /><circle cx=339 cy=160 r=2 /><circle cx=286 cy=549 r=2 /><circle cx=323 cy=272 r=2 /><circle cx=461 cy=479 r=2 /><circle cx=233 cy=203 r=2 /><circle cx=228 cy=432 r=2 /><circle cx=263 cy=293 r=2 /><circle cx=328 cy=284 r=2 /><circle cx=227 cy=198 r=2 /><circle cx=67 cy=291 r=2 /><circle cx=254 cy=292 r=2 /><circle cx=264 cy=264 r=2 /><circle cx=215 cy=378 r=2 /><circle cx=309 cy=209 r=2 /><circle cx=95 cy=254 r=2 /><circle cx=252 cy=464 r=2 /><circle cx=319 cy=531 r=2 /><circle cx=468 cy=474 r=2 /><circle cx=70 cy=257 r=2 /><circle cx=563 cy=305 r=2 /><circle cx=274 cy=226 r=2 /><circle cx=77 cy=289 r=2 /><circle cx=201 cy=398 r=2 /><circle cx=269 cy=435 r=2 /><circle cx=304 cy=293 r=2 /><circle cx=333 cy=569 r=2 /><circle cx=285 cy=588 r=2 /><circle cx=217 cy=425 r=2 /><circle cx=79 cy=230 r=2 /><circle cx=206 cy=375 r=2 /><circle cx=322 cy=248 r=2 /><circle cx=478 cy=441 r=2 /><circle cx=333 cy=544 r=2 /><circle cx=540 cy=358 r=2 /><circle cx=272 cy=272 r=2 /><circle cx=528 cy=269 r=2 /><circle cx=280 cy=247 r=2 /><circle cx=282 cy=556 r=2 /><circle cx=301 cy=534 r=2 /><circle cx=216 cy=301 r=2 /><circle cx=333 cy=575 r=2 /><circle cx=218 cy=205 r=2 /><circle cx=281 cy=573 r=2 /><circle cx=547 cy=302 r=2 /><circle cx=261 cy=514 r=2 /><circle cx=454 cy=363 r=2 /><circle cx=216 cy=285 r=2 /><circle cx=324 cy=215 r=2 /><circle cx=512 cy=351 r=2 /><circle cx=236 cy=197 r=2 /><circle cx=243 cy=331 r=2 /><circle cx=433 cy=369 r=2 /><circle cx=238 cy=387 r=2 /><circle cx=293 cy=307 r=2 /><circle cx=212 cy=378 r=2 /><circle cx=464 cy=302 r=2 /><circle cx=542 cy=357 r=2 /><circle cx=552 cy=298 r=2 /><circle cx=456 cy=502 r=2 /><circle cx=510 cy=311 r=2 /><circle cx=456 cy=383 r=2 /><circle cx=440 cy=459 r=2 /><circle cx=447 cy=389 r=2 /><circle cx=316 cy=259 r=2 /><circle cx=375 cy=176 r=2 /><circle cx=300 cy=594 r=2 /><circle cx=422 cy=269 r=2 /><circle cx=307 cy=545 r=2 /><circle cx=516 cy=274 r=2 /><circle cx=92 cy=295 r=2 /><circle cx=245 cy=298 r=2 /><circle cx=477 cy=324 r=2 /><circle cx=208 cy=417 r=2 /><circle cx=430 cy=347 r=2 /><circle cx=258 cy=238 r=2 /><circle cx=205 cy=423 r=2 /><circle cx=501 cy=298 r=2 /><circle cx=426 cy=379 r=2 /><circle cx=282 cy=213 r=2 /><circle cx=225 cy=285 r=2 /><circle cx=105 cy=271 r=2 /><circle cx=104 cy=266 r=2 /><circle cx=244 cy=441 r=2 /><circle cx=309 cy=204 r=2 /><circle cx=271 cy=443 r=2 /><circle cx=276 cy=512 r=2 /><circle cx=283 cy=223 r=2 /><circle cx=528 cy=371 r=2 /><circle cx=107 cy=257 r=2 /><circle cx=313 cy=291 r=2 /><circle cx=216 cy=296 r=2 /><circle cx=377 cy=171 r=2 /><circle cx=228 cy=450 r=2 /><circle cx=250 cy=337 r=2 /><circle cx=422 cy=287 r=2 /><circle cx=290 cy=610 r=2 /><circle cx=305 cy=297 r=2 /><circle cx=227 cy=275 r=2 /><circle cx=517 cy=358 r=2 /><circle cx=240 cy=329 r=2 /><circle cx=214 cy=335 r=2 /><circle cx=74 cy=320 r=2 /><circle cx=430 cy=309 r=2 /><circle cx=495 cy=379 r=2 /><circle cx=355 cy=146 r=2 /><circle cx=246 cy=376 r=2 /><circle cx=304 cy=170 r=2 /><circle cx=459 cy=385 r=2 /><circle cx=189 cy=369 r=2 /><circle cx=239 cy=291 r=2 /><circle cx=508 cy=293 r=2 /><circle cx=275 cy=525 r=2 /><circle cx=467 cy=311 r=2 /><circle cx=555 cy=326 r=2 /><circle cx=443 cy=454 r=2 /><circle cx=303 cy=256 r=2 /><circle cx=304 cy=228 r=2 /><circle cx=326 cy=575 r=2 /><circle cx=426 cy=329 r=2 /><circle cx=301 cy=228 r=2 /><circle cx=231 cy=328 r=2 /><circle cx=67 cy=245 r=2 /><circle cx=217 cy=295 r=2 /><circle cx=260 cy=439 r=2 /><circle cx=274 cy=423 r=2 /><circle cx=527 cy=344 r=2 /><circle cx=485 cy=301 r=2 /><circle cx=314 cy=551 r=2 /><circle cx=424 cy=325 r=2 /><circle cx=497 cy=324 r=2 /><circle cx=445 cy=459 r=2 /><circle cx=369 cy=155 r=2 /><circle cx=534 cy=305 r=2 /><circle cx=288 cy=590 r=2 /><circle cx=261 cy=440 r=2 /><circle cx=313 cy=297 r=2 /><circle cx=286 cy=246 r=2 /><circle cx=249 cy=312 r=2 /><circle cx=467 cy=388 r=2 /><circle cx=487 cy=379 r=2 /><circle cx=98 cy=267 r=2 /><circle cx=450 cy=485 r=2 /><circle cx=462 cy=486 r=2 /><circle cx=68 cy=242 r=2 /><circle cx=302 cy=541 r=2 /><circle cx=436 cy=337 r=2 /><circle cx=284 cy=317 r=2 /><circle cx=358 cy=198 r=2 /><circle cx=285 cy=619 r=2 /><circle cx=307 cy=250 r=2 /><circle cx=232 cy=332 r=2 /><circle cx=514 cy=276 r=2 /><circle cx=541 cy=286 r=2 /><circle cx=301 cy=527 r=2 /><circle cx=547 cy=339 r=2 /><circle cx=235 cy=381 r=2 /><circle cx=256 cy=454 r=2 /><circle cx=433 cy=354 r=2 /><circle cx=213 cy=439 r=2 /><circle cx=550 cy=325 r=2 /><circle cx=287 cy=290 r=2 /><circle cx=468 cy=477 r=2 /><circle cx=230 cy=181 r=2 /><circle cx=211 cy=185 r=2 /><circle cx=228 cy=319 r=2 /><circle cx=472 cy=353 r=2 /><circle cx=345 cy=197 r=2 /><circle cx=203 cy=364 r=2 /><circle cx=281 cy=535 r=2 /><circle cx=322 cy=187 r=2 /><circle cx=240 cy=414 r=2 /><circle cx=478 cy=477 r=2 /><circle cx=353 cy=193 r=2 /><circle cx=78 cy=226 r=2 /><circle cx=68 cy=254 r=2 /><circle cx=250 cy=453 r=2 /><circle cx=557 cy=293 r=2 /><circle cx=446 cy=356 r=2 /><circle cx=264 cy=456 r=2 /><circle cx=433 cy=316 r=2 /><circle cx=260 cy=426 r=2 /><circle cx=254 cy=253 r=2 /><circle cx=334 cy=203 r=2 /><circle cx=519 cy=364 r=2 /><circle cx=322 cy=550 r=2 /><circle cx=272 cy=354 r=2 /><circle cx=286 cy=298 r=2 /><circle cx=518 cy=345 r=2 /><circle cx=490 cy=320 r=2 /><circle cx=276 cy=235 r=2 /><circle cx=254 cy=234 r=2 /><circle cx=467 cy=479 r=2 /><circle cx=368 cy=194 r=2 /><circle cx=510 cy=345 r=2 /><circle cx=216 cy=386 r=2 /><circle cx=323 cy=185 r=2 /><circle cx=55 cy=234 r=2 /><circle cx=441 cy=456 r=2 /><circle cx=343 cy=188 r=2 /><circle cx=519 cy=270 r=2 /><circle cx=240 cy=196 r=2 /><circle cx=453 cy=326 r=2 /><circle cx=433 cy=357 r=2 /><circle cx=307 cy=560 r=2 /><circle cx=427 cy=311 r=2 /><circle cx=264 cy=231 r=2 /><circle cx=304 cy=522 r=2 /><circle cx=214 cy=338 r=2 /><circle cx=502 cy=354 r=2 /><circle cx=274 cy=515 r=2 /><circle cx=300 cy=256 r=2 /><circle cx=438 cy=395 r=2 /><circle cx=196 cy=381 r=2 /><circle cx=257 cy=269 r=2 /><circle cx=219 cy=278 r=2 /><circle cx=279 cy=239 r=2 /><circle cx=262 cy=279 r=2 /><circle cx=218 cy=379 r=2 /><circle cx=497 cy=376 r=2 /><circle cx=97 cy=300 r=2 /><circle cx=277 cy=232 r=2 /><circle cx=496 cy=314 r=2 /><circle cx=293 cy=563 r=2 /><circle cx=523 cy=291 r=2 /><circle cx=237 cy=234 r=2 /><circle cx=260 cy=445 r=2 /><circle cx=410 cy=294 r=2 /><circle cx=523 cy=312 r=2 /><circle cx=55 cy=308 r=2 /><circle cx=515 cy=305 r=2 /><circle cx=205 cy=365 r=2 /><circle cx=431 cy=351 r=2 /><circle cx=232 cy=315 r=2 /><circle cx=291 cy=272 r=2 /><circle cx=204 cy=194 r=2 /><circle cx=297 cy=306 r=2 /><circle cx=243 cy=375 r=2 /><circle cx=225 cy=295 r=2 /><circle cx=252 cy=444 r=2 /><circle cx=270 cy=226 r=2 /><circle cx=261 cy=339 r=2 /><circle cx=436 cy=326 r=2 /><circle cx=474 cy=363 r=2 /><circle cx=234 cy=303 r=2 /><circle cx=494 cy=343 r=2 /><circle cx=221 cy=295 r=2 /><circle cx=276 cy=309 r=2 /><circle cx=310 cy=240 r=2 /><circle cx=447 cy=404 r=2 /><circle cx=271 cy=420 r=2 /><circle cx=459 cy=318 r=2 /><circle cx=426 cy=311 r=2 /><circle cx=495 cy=338 r=2 /><circle cx=429 cy=307 r=2 /><circle cx=243 cy=228 r=2 /><circle cx=232 cy=401 r=2 /><circle cx=73 cy=224 r=2 /><circle cx=259 cy=419 r=2 /><circle cx=119 cy=248 r=2 /><circle cx=427 cy=303 r=2 /><circle cx=285 cy=272 r=2 /><circle cx=316 cy=240 r=2 /><circle cx=280 cy=298 r=2 /><circle cx=348 cy=182 r=2 /><circle cx=537 cy=299 r=2 /><circle cx=242 cy=414 r=2 /><circle cx=201 cy=366 r=2 /><circle cx=482 cy=470 r=2 /><circle cx=82 cy=273 r=2 /><circle cx=530 cy=293 r=2 /><circle cx=223 cy=290 r=2 /><circle cx=467 cy=314 r=2 /><circle cx=234 cy=307 r=2 /><circle cx=466 cy=404 r=2 /><circle cx=205 cy=392 r=2 /><circle cx=204 cy=409 r=2 /><circle cx=224 cy=450 r=2 /><circle cx=56 cy=319 r=2 /><circle cx=479 cy=396 r=2 /><circle cx=330 cy=540 r=2 /><circle cx=245 cy=355 r=2 /><circle cx=250 cy=415 r=2 /><circle cx=474 cy=393 r=2 /><circle cx=315 cy=578 r=2 /><circle cx=469 cy=412 r=2 /><circle cx=271 cy=535 r=2 /><circle cx=481 cy=379 r=2 /><circle cx=221 cy=381 r=2 /><circle cx=204 cy=388 r=2 /><circle cx=454 cy=489 r=2 /><circle cx=312 cy=284 r=2 /><circle cx=236 cy=287 r=2 /><circle cx=338 cy=153 r=2 /><circle cx=494 cy=323 r=2 /><circle cx=294 cy=574 r=2 /><circle cx=82 cy=227 r=2 /><circle cx=533 cy=331 r=2 /><circle cx=315 cy=269 r=2 /><circle cx=300 cy=245 r=2 /><circle cx=272 cy=545 r=2 /><circle cx=252 cy=278 r=2 /><circle cx=503 cy=351 r=2 /><circle cx=295 cy=265 r=2 /><circle cx=345 cy=148 r=2 /><circle cx=292 cy=616 r=2 /><circle cx=567 cy=295 r=2 /><circle cx=267 cy=299 r=2 /><circle cx=314 cy=251 r=2 /><circle cx=324 cy=547 r=2 /><circle cx=437 cy=334 r=2 /><circle cx=230 cy=187 r=2 /><circle cx=450 cy=354 r=2 /><circle cx=436 cy=351 r=2 /><circle cx=224 cy=301 r=2 /><circle cx=509 cy=329 r=2 /><circle cx=271 cy=551 r=2 /><circle cx=469 cy=492 r=2 /><circle cx=64 cy=323 r=2 /><circle cx=323 cy=536 r=2 /><circle cx=86 cy=280 r=2 /><circle cx=561 cy=289 r=2 /><circle cx=501 cy=366 r=2 /><circle cx=292 cy=284 r=2 /><circle cx=80 cy=235 r=2 /><circle cx=459 cy=449 r=2 /><circle cx=66 cy=306 r=2 /><circle cx=264 cy=463 r=2 /><circle cx=280 cy=290 r=2 /><circle cx=486 cy=471 r=2 /><circle cx=244 cy=247 r=2 /><circle cx=474 cy=360 r=2 /><circle cx=450 cy=462 r=2 /><circle cx=453 cy=351 r=2 /><circle cx=326 cy=565 r=2 /><circle cx=224 cy=185 r=2 /><circle cx=243 cy=345 r=2 /><circle cx=328 cy=153 r=2 /><circle cx=328 cy=237 r=2 /><circle cx=273 cy=266 r=2 /><circle cx=449 cy=329 r=2 /><circle cx=324 cy=264 r=2 /><circle cx=250 cy=424 r=2 /><circle cx=247 cy=310 r=2 /><circle cx=331 cy=572 r=2 /><circle cx=257 cy=450 r=2 /><circle cx=218 cy=373 r=2 /><circle cx=62 cy=243 r=2 /><circle cx=243 cy=266 r=2 /><circle cx=58 cy=241 r=2 /><circle cx=302 cy=523 r=2 /><circle cx=289 cy=526 r=2 /><circle cx=287 cy=310 r=2 /><circle cx=519 cy=318 r=2 /><circle cx=419 cy=275 r=2 /><circle cx=271 cy=231 r=2 /><circle cx=247 cy=350 r=2 /><circle cx=506 cy=324 r=2 /><circle cx=295 cy=595 r=2 /><circle cx=409 cy=287 r=2 /><circle cx=197 cy=376 r=2 /><circle cx=238 cy=419 r=2 /><circle cx=292 cy=268 r=2 /><circle cx=478 cy=377 r=2 /><circle cx=290 cy=608 r=2 /><circle cx=431 cy=324 r=2 /><circle cx=321 cy=231 r=2 /><circle cx=553 cy=289 r=2 /><circle cx=245 cy=404 r=2 /><circle cx=475 cy=330 r=2 /><circle cx=419 cy=313 r=2 /><circle cx=276 cy=542 r=2 /><circle cx=263 cy=303 r=2 /><circle cx=353 cy=163 r=2 /><circle cx=230 cy=428 r=2 /><circle cx=535 cy=359 r=2 /><circle cx=463 cy=402 r=2 /><circle cx=434 cy=302 r=2 /><circle cx=271 cy=556 r=2 /><circle cx=217 cy=281 r=2 /><circle cx=345 cy=185 r=2 /><circle cx=541 cy=272 r=2 /><circle cx=219 cy=359 r=2 /><circle cx=484 cy=464 r=2 /><circle cx=274 cy=580 r=2 /><circle cx=322 cy=299 r=2 /><circle cx=465 cy=499 r=2 /><circle cx=229 cy=420 r=2 /><circle cx=237 cy=361 r=2 /><circle cx=414 cy=306 r=2 /><circle cx=302 cy=254 r=2 /><circle cx=260 cy=287 r=2 /><circle cx=297 cy=240 r=2 /><circle cx=215 cy=342 r=2 /><circle cx=442 cy=416 r=2 /><circle cx=438 cy=438 r=2 /><circle cx=222 cy=322 r=2 /><circle cx=298 cy=560 r=2 /><circle cx=231 cy=354 r=2 /><circle cx=123 cy=248 r=2 /><circle cx=461 cy=400 r=2 /><circle cx=225 cy=316 r=2 /><circle cx=501 cy=385 r=2 /><circle cx=476 cy=439 r=2 /><circle cx=100 cy=232 r=2 /><circle cx=280 cy=529 r=2 /><circle cx=321 cy=165 r=2 /><circle cx=260 cy=343 r=2 /><circle cx=516 cy=324 r=2 /><circle cx=410 cy=278 r=2 /><circle cx=280 cy=623 r=2 /><circle cx=311 cy=573 r=2 /><circle cx=211 cy=328 r=2 /><circle cx=273 cy=222 r=2 /><circle cx=292 cy=571 r=2 /><circle cx=297 cy=270 r=2 /><circle cx=210 cy=395 r=2 /><circle cx=209 cy=354 r=2 /><circle cx=486 cy=351 r=2 /><circle cx=223 cy=385 r=2 /><circle cx=302 cy=298 r=2 /><circle cx=307 cy=188 r=2 /><circle cx=246 cy=263 r=2 /><circle cx=480 cy=473 r=2 /><circle cx=242 cy=275 r=2 /><circle cx=314 cy=553 r=2 /><circle cx=512 cy=315 r=2 /><circle cx=301 cy=290 r=2 /><circle cx=301 cy=232 r=2 /><circle cx=81 cy=290 r=2 /><circle cx=473 cy=492 r=2 /><circle cx=298 cy=548 r=2 /><circle cx=231 cy=448 r=2 /><circle cx=308 cy=264 r=2 /><circle cx=541 cy=275 r=2 /><circle cx=238 cy=439 r=2 /><circle cx=326 cy=179 r=2 /><circle cx=367 cy=185 r=2 /><circle cx=449 cy=369 r=2 /><circle cx=209 cy=348 r=2 /><circle cx=249 cy=300 r=2 /><circle cx=434 cy=396 r=2 /><circle cx=221 cy=405 r=2 /><circle cx=82 cy=258 r=2 /><circle cx=254 cy=284 r=2 /><circle cx=122 cy=240 r=2 /><circle cx=455 cy=493 r=2 /><circle cx=449 cy=343 r=2 /><circle cx=232 cy=335 r=2 /><circle cx=99 cy=271 r=2 /><circle cx=323 cy=295 r=2 /><circle cx=561 cy=282 r=2 /><circle cx=528 cy=287 r=2 /><circle cx=222 cy=448 r=2 /><circle cx=275 cy=550 r=2 /><circle cx=78 cy=265 r=2 /><circle cx=87 cy=241 r=2 /><circle cx=283 cy=601 r=2 /><circle cx=303 cy=159 r=2 /><circle cx=457 cy=363 r=2 /><circle cx=459 cy=340 r=2 /><circle cx=317 cy=156 r=2 /><circle cx=508 cy=299 r=2 /><circle cx=234 cy=403 r=2 /><circle cx=497 cy=327 r=2 /><circle cx=461 cy=435 r=2 /><circle cx=277 cy=580 r=2 /><circle cx=281 cy=540 r=2 /><circle cx=204 cy=342 r=2 /><circle cx=277 cy=595 r=2 /><circle cx=252 cy=431 r=2 /><circle cx=83 cy=286 r=2 /><circle cx=97 cy=278 r=2 /><circle cx=371 cy=173 r=2 /><circle cx=95 cy=269 r=2 /><circle cx=490 cy=291 r=2 /><circle cx=234 cy=323 r=2 /><circle cx=474 cy=301 r=2 /><circle cx=349 cy=184 r=2 /><circle cx=453 cy=420 r=2 /><circle cx=276 cy=278 r=2 /><circle cx=296 cy=295 r=2 /><circle cx=473 cy=486 r=2 /><circle cx=259 cy=466 r=2 /><circle cx=78 cy=258 r=2 /><circle cx=237 cy=386 r=2 /><circle cx=238 cy=313 r=2 /><circle cx=334 cy=199 r=2 /><circle cx=230 cy=411 r=2 /><circle cx=225 cy=357 r=2 /><circle cx=89 cy=263 r=2 /><circle cx=428 cy=389 r=2 /><circle cx=423 cy=298 r=2 /><circle cx=459 cy=497 r=2 /><circle cx=526 cy=343 r=2 /><circle cx=371 cy=187 r=2 /><circle cx=470 cy=312 r=2 /><circle cx=230 cy=452 r=2 /><circle cx=257 cy=287 r=2 /><circle cx=272 cy=519 r=2 /><circle cx=304 cy=300 r=2 /><circle cx=270 cy=448 r=2 /><circle cx=75 cy=260 r=2 /><circle cx=189 cy=378 r=2 /><circle cx=497 cy=359 r=2 /><circle cx=104 cy=261 r=2 /><circle cx=291 cy=561 r=2 /><circle cx=262 cy=272 r=2 /><circle cx=364 cy=183 r=2 /><circle cx=454 cy=405 r=2 /><circle cx=457 cy=346 r=2 /><circle cx=346 cy=152 r=2 /><circle cx=285 cy=568 r=2 /><circle cx=273 cy=315 r=2 /><circle cx=300 cy=562 r=2 /><circle cx=236 cy=295 r=2 /><circle cx=436 cy=409 r=2 /><circle cx=284 cy=290 r=2 /><circle cx=272 cy=331 r=2 /><circle cx=512 cy=280 r=2 /><circle cx=111 cy=252 r=2 /><circle cx=295 cy=615 r=2 /><circle cx=243 cy=338 r=2 /><circle cx=474 cy=444 r=2 /><circle cx=100 cy=260 r=2 /><circle cx=59 cy=308 r=2 /><circle cx=295 cy=529 r=2 /><circle cx=479 cy=324 r=2 /><circle cx=473 cy=298 r=2 /><circle cx=463 cy=447 r=2 /><circle cx=456 cy=317 r=2 /><circle cx=303 cy=272 r=2 /><circle cx=317 cy=274 r=2 /><circle cx=278 cy=295 r=2 /><circle cx=444 cy=399 r=2 /><circle cx=244 cy=254 r=2 /><circle cx=440 cy=335 r=2 /><circle cx=466 cy=378 r=2 /><circle cx=308 cy=259 r=2 /><circle cx=516 cy=279 r=2 /><circle cx=430 cy=361 r=2 /><circle cx=305 cy=196 r=2 /><circle cx=521 cy=324 r=2 /><circle cx=508 cy=344 r=2 /><circle cx=442 cy=449 r=2 /><circle cx=459 cy=357 r=2 /><circle cx=290 cy=604 r=2 /><circle cx=274 cy=450 r=2 /><circle cx=70 cy=263 r=2 /><circle cx=449 cy=463 r=2 /><circle cx=278 cy=306 r=2 /><circle cx=449 cy=411 r=2 /><circle cx=539 cy=335 r=2 /><circle cx=532 cy=314 r=2 /><circle cx=81 cy=233 r=2 /><circle cx=75 cy=267 r=2 /><circle cx=509 cy=287 r=2 /><circle cx=230 cy=271 r=2 /><circle cx=492 cy=367 r=2 /><circle cx=329 cy=264 r=2 /><circle cx=451 cy=327 r=2 /><circle cx=547 cy=297 r=2 /><circle cx=227 cy=436 r=2 /><circle cx=414 cy=267 r=2 /><circle cx=277 cy=345 r=2 /><circle cx=446 cy=396 r=2 /><circle cx=211 cy=200 r=2 /><circle cx=368 cy=168 r=2 /><circle cx=294 cy=286 r=2 /><circle cx=204 cy=345 r=2 /><circle cx=242 cy=369 r=2 /><circle cx=299 cy=623 r=2 /><circle cx=490 cy=288 r=2 /><circle cx=489 cy=352 r=2 /><circle cx=242 cy=225 r=2 /><circle cx=324 cy=148 r=2 /><circle cx=481 cy=386 r=2 /><circle cx=250 cy=370 r=2 /><circle cx=477 cy=345 r=2 /><circle cx=540 cy=313 r=2 /><circle cx=334 cy=567 r=2 /><circle cx=463 cy=416 r=2 /><circle cx=446 cy=319 r=2 /><circle cx=472 cy=473 r=2 /><circle cx=346 cy=160 r=2 /><circle cx=254 cy=532 r=2 /><circle cx=323 cy=298 r=2 /><circle cx=270 cy=584 r=2 /><circle cx=433 cy=387 r=2 /><circle cx=434 cy=349 r=2 /><circle cx=258 cy=458 r=2 /><circle cx=551 cy=320 r=2 /><circle cx=221 cy=438 r=2 /><circle cx=298 cy=535 r=2 /><circle cx=450 cy=357 r=2 /><circle cx=263 cy=513 r=2 /><circle cx=82 cy=296 r=2 /><circle cx=93 cy=298 r=2 /><circle cx=304 cy=525 r=2 /><circle cx=496 cy=363 r=2 /><circle cx=525 cy=301 r=2 /><circle cx=303 cy=269 r=2 /><circle cx=203 cy=417 r=2 /><circle cx=308 cy=576 r=2 /><circle cx=276 cy=528 r=2 /><circle cx=431 cy=322 r=2 /><circle cx=85 cy=314 r=2 /><circle cx=509 cy=347 r=2 /><circle cx=461 cy=445 r=2 /><circle cx=59 cy=328 r=2 /><circle cx=282 cy=583 r=2 /><circle cx=308 cy=197 r=2 /><circle cx=479 cy=335 r=2 /><circle cx=274 cy=557 r=2 /><circle cx=234 cy=373 r=2 /><circle cx=262 cy=555 r=2 /><circle cx=323 cy=555 r=2 /><circle cx=221 cy=188 r=2 /><circle cx=314 cy=229 r=2 /><circle cx=203 cy=357 r=2 /><circle cx=297 cy=255 r=2 /><circle cx=287 cy=514 r=2 /><circle cx=73 cy=260 r=2 /><circle cx=369 cy=176 r=2 /><circle cx=224 cy=197 r=2 /><circle cx=244 cy=422 r=2 /><circle cx=326 cy=251 r=2 /><circle cx=291 cy=578 r=2 /><circle cx=326 cy=172 r=2 /><circle cx=279 cy=601 r=2 /><circle cx=282 cy=274 r=2 /><circle cx=268 cy=286 r=2 /><circle cx=248 cy=354 r=2 /><circle cx=73 cy=312 r=2 /><circle cx=293 cy=569 r=2 /><circle cx=76 cy=310 r=2 /><circle cx=226 cy=367 r=2 /><circle cx=539 cy=360 r=2 /><circle cx=95 cy=244 r=2 /><circle cx=207 cy=385 r=2 /><circle cx=325 cy=226 r=2 /></g>
<g class="q2a" fill="#ffffff" stroke="#4a4a4a" stroke-width="1.3"><circle cx=117 cy=248 r=2.3 /><circle cx=286 cy=518 r=2.3 /><circle cx=324 cy=581 r=2.3 /><circle cx=245 cy=454 r=2.3 /><circle cx=366 cy=160 r=2.3 /><circle cx=447 cy=427 r=2.3 /><circle cx=262 cy=320 r=2.3 /><circle cx=213 cy=363 r=2.3 /><circle cx=253 cy=226 r=2.3 /><circle cx=492 cy=388 r=2.3 /><circle cx=313 cy=575 r=2.3 /><circle cx=253 cy=430 r=2.3 /><circle cx=340 cy=561 r=2.3 /><circle cx=324 cy=290 r=2.3 /><circle cx=302 cy=560 r=2.3 /><circle cx=416 cy=276 r=2.3 /><circle cx=438 cy=406 r=2.3 /><circle cx=341 cy=178 r=2.3 /><circle cx=232 cy=394 r=2.3 /><circle cx=411 cy=289 r=2.3 /><circle cx=488 cy=329 r=2.3 /><circle cx=234 cy=193 r=2.3 /><circle cx=99 cy=252 r=2.3 /><circle cx=278 cy=525 r=2.3 /><circle cx=82 cy=245 r=2.3 /><circle cx=313 cy=182 r=2.3 /><circle cx=464 cy=439 r=2.3 /><circle cx=321 cy=183 r=2.3 /><circle cx=293 cy=293 r=2.3 /><circle cx=520 cy=279 r=2.3 /><circle cx=350 cy=424 r=2.3 /><circle cx=245 cy=345 r=2.3 /><circle cx=530 cy=335 r=2.3 /><circle cx=463 cy=465 r=2.3 /><circle cx=422 cy=312 r=2.3 /><circle cx=116 cy=239 r=2.3 /><circle cx=310 cy=587 r=2.3 /><circle cx=236 cy=350 r=2.3 /><circle cx=278 cy=252 r=2.3 /><circle cx=530 cy=308 r=2.3 /><circle cx=329 cy=266 r=2.3 /><circle cx=222 cy=278 r=2.3 /><circle cx=357 cy=182 r=2.3 /><circle cx=331 cy=534 r=2.3 /><circle cx=288 cy=531 r=2.3 /><circle cx=293 cy=537 r=2.3 /><circle cx=254 cy=228 r=2.3 /><circle cx=227 cy=389 r=2.3 /><circle cx=285 cy=581 r=2.3 /><circle cx=219 cy=510 r=2.3 /><circle cx=64 cy=224 r=2.3 /><circle cx=238 cy=333 r=2.3 /><circle cx=236 cy=346 r=2.3 /><circle cx=264 cy=492 r=2.3 /><circle cx=306 cy=199 r=2.3 /><circle cx=440 cy=429 r=2.3 /><circle cx=497 cy=298 r=2.3 /><circle cx=261 cy=248 r=2.3 /><circle cx=535 cy=313 r=2.3 /><circle cx=59 cy=257 r=2.3 /><circle cx=413 cy=270 r=2.3 /><circle cx=237 cy=423 r=2.3 /><circle cx=68 cy=248 r=2.3 /><circle cx=482 cy=451 r=2.3 /><circle cx=240 cy=442 r=2.3 /><circle cx=475 cy=352 r=2.3 /><circle cx=236 cy=352 r=2.3 /><circle cx=526 cy=354 r=2.3 /><circle cx=312 cy=697 r=2.3 /><circle cx=371 cy=166 r=2.3 /><circle cx=471 cy=333 r=2.3 /><circle cx=259 cy=451 r=2.3 /><circle cx=278 cy=327 r=2.3 /><circle cx=446 cy=316 r=2.3 /><circle cx=270 cy=559 r=2.3 /><circle cx=199 cy=192 r=2.3 /><circle cx=461 cy=341 r=2.3 /><circle cx=212 cy=431 r=2.3 /><circle cx=246 cy=287 r=2.3 /><circle cx=214 cy=320 r=2.3 /><circle cx=86 cy=227 r=2.3 /><circle cx=341 cy=192 r=2.3 /><circle cx=515 cy=376 r=2.3 /><circle cx=198 cy=397 r=2.3 /><circle cx=286 cy=257 r=2.3 /><circle cx=551 cy=289 r=2.3 /><circle cx=315 cy=301 r=2.3 /><circle cx=462 cy=306 r=2.3 /><circle cx=332 cy=564 r=2.3 /><circle cx=233 cy=345 r=2.3 /><circle cx=234 cy=379 r=2.3 /><circle cx=485 cy=364 r=2.3 /><circle cx=439 cy=338 r=2.3 /><circle cx=269 cy=485 r=2.3 /><circle cx=87 cy=236 r=2.3 /><circle cx=298 cy=590 r=2.3 /><circle cx=196 cy=357 r=2.3 /><circle cx=311 cy=287 r=2.3 /><circle cx=484 cy=355 r=2.3 /><circle cx=258 cy=296 r=2.3 /><circle cx=247 cy=265 r=2.3 /><circle cx=250 cy=269 r=2.3 /><circle cx=454 cy=474 r=2.3 /><circle cx=288 cy=238 r=2.3 /><circle cx=227 cy=369 r=2.3 /><circle cx=303 cy=305 r=2.3 /><circle cx=303 cy=585 r=2.3 /><circle cx=331 cy=196 r=2.3 /><circle cx=335 cy=554 r=2.3 /><circle cx=446 cy=363 r=2.3 /><circle cx=455 cy=448 r=2.3 /><circle cx=441 cy=342 r=2.3 /><circle cx=297 cy=556 r=2.3 /><circle cx=459 cy=363 r=2.3 /><circle cx=529 cy=279 r=2.3 /><circle cx=465 cy=468 r=2.3 /><circle cx=348 cy=203 r=2.3 /><circle cx=330 cy=172 r=2.3 /><circle cx=268 cy=325 r=2.3 /><circle cx=326 cy=535 r=2.3 /><circle cx=490 cy=337 r=2.3 /><circle cx=270 cy=431 r=2.3 /><circle cx=280 cy=509 r=2.3 /><circle cx=300 cy=577 r=2.3 /><circle cx=329 cy=281 r=2.3 /><circle cx=85 cy=294 r=2.3 /><circle cx=64 cy=267 r=2.3 /><circle cx=193 cy=376 r=2.3 /><circle cx=481 cy=463 r=2.3 /><circle cx=70 cy=323 r=2.3 /><circle cx=93 cy=256 r=2.3 /><circle cx=62 cy=244 r=2.3 /><circle cx=316 cy=172 r=2.3 /><circle cx=330 cy=185 r=2.3 /><circle cx=284 cy=584 r=2.3 /><circle cx=283 cy=307 r=2.3 /><circle cx=276 cy=250 r=2.3 /><circle cx=238 cy=382 r=2.3 /><circle cx=316 cy=228 r=2.3 /><circle cx=214 cy=181 r=2.3 /><circle cx=317 cy=258 r=2.3 /><circle cx=326 cy=165 r=2.3 /><circle cx=339 cy=182 r=2.3 /><circle cx=537 cy=364 r=2.3 /><circle cx=374 cy=172 r=2.3 /><circle cx=474 cy=323 r=2.3 /><circle cx=467 cy=482 r=2.3 /><circle cx=494 cy=307 r=2.3 /><circle cx=515 cy=271 r=2.3 /><circle cx=261 cy=240 r=2.3 /><circle cx=327 cy=197 r=2.3 /><circle cx=319 cy=188 r=2.3 /><circle cx=343 cy=143 r=2.3 /><circle cx=332 cy=245 r=2.3 /><circle cx=286 cy=225 r=2.3 /><circle cx=301 cy=545 r=2.3 /><circle cx=260 cy=476 r=2.3 /><circle cx=240 cy=316 r=2.3 /><circle cx=326 cy=195 r=2.3 /><circle cx=557 cy=282 r=2.3 /><circle cx=487 cy=367 r=2.3 /><circle cx=222 cy=366 r=2.3 /><circle cx=437 cy=373 r=2.3 /><circle cx=277 cy=258 r=2.3 /><circle cx=303 cy=283 r=2.3 /><circle cx=250 cy=441 r=2.3 /><circle cx=77 cy=282 r=2.3 /><circle cx=318 cy=182 r=2.3 /><circle cx=507 cy=314 r=2.3 /><circle cx=84 cy=247 r=2.3 /><circle cx=322 cy=269 r=2.3 /><circle cx=262 cy=234 r=2.3 /><circle cx=267 cy=417 r=2.3 /><circle cx=254 cy=319 r=2.3 /><circle cx=207 cy=172 r=2.3 /><circle cx=321 cy=219 r=2.3 /><circle cx=255 cy=397 r=2.3 /><circle cx=277 cy=516 r=2.3 /><circle cx=207 cy=358 r=2.3 /><circle cx=483 cy=393 r=2.3 /><circle cx=465 cy=469 r=2.3 /><circle cx=293 cy=581 r=2.3 /><circle cx=298 cy=282 r=2.3 /><circle cx=528 cy=382 r=2.3 /><circle cx=289 cy=613 r=2.3 /><circle cx=63 cy=233 r=2.3 /><circle cx=280 cy=592 r=2.3 /><circle cx=292 cy=254 r=2.3 /><circle cx=485 cy=396 r=2.3 /><circle cx=446 cy=402 r=2.3 /><circle cx=248 cy=240 r=2.3 /><circle cx=236 cy=338 r=2.3 /><circle cx=559 cy=291 r=2.3 /><circle cx=312 cy=179 r=2.3 /><circle cx=337 cy=546 r=2.3 /><circle cx=268 cy=545 r=2.3 /><circle cx=407 cy=280 r=2.3 /><circle cx=66 cy=302 r=2.3 /><circle cx=452 cy=335 r=2.3 /><circle cx=450 cy=482 r=2.3 /><circle cx=505 cy=355 r=2.3 /><circle cx=285 cy=218 r=2.3 /><circle cx=245 cy=241 r=2.3 /><circle cx=263 cy=487 r=2.3 /><circle cx=216 cy=179 r=2.3 /><circle cx=453 cy=319 r=2.3 /><circle cx=258 cy=333 r=2.3 /><circle cx=246 cy=363 r=2.3 /><circle cx=229 cy=178 r=2.3 /><circle cx=352 cy=166 r=2.3 /><circle cx=263 cy=436 r=2.3 /><circle cx=218 cy=434 r=2.3 /><circle cx=496 cy=350 r=2.3 /><circle cx=81 cy=247 r=2.3 /><circle cx=492 cy=363 r=2.3 /><circle cx=523 cy=299 r=2.3 /><circle cx=476 cy=386 r=2.3 /><circle cx=283 cy=228 r=2.3 /><circle cx=529 cy=352 r=2.3 /><circle cx=460 cy=393 r=2.3 /><circle cx=265 cy=469 r=2.3 /><circle cx=470 cy=449 r=2.3 /><circle cx=332 cy=150 r=2.3 /><circle cx=254 cy=414 r=2.3 /><circle cx=479 cy=298 r=2.3 /><circle cx=431 cy=318 r=2.3 /><circle cx=463 cy=385 r=2.3 /><circle cx=261 cy=479 r=2.3 /><circle cx=237 cy=429 r=2.3 /><circle cx=200 cy=362 r=2.3 /><circle cx=325 cy=570 r=2.3 /><circle cx=219 cy=336 r=2.3 /><circle cx=281 cy=619 r=2.3 /><circle cx=271 cy=351 r=2.3 /><circle cx=274 cy=503 r=2.3 /><circle cx=88 cy=284 r=2.3 /><circle cx=481 cy=370 r=2.3 /><circle cx=265 cy=511 r=2.3 /><circle cx=533 cy=321 r=2.3 /><circle cx=299 cy=229 r=2.3 /><circle cx=328 cy=572 r=2.3 /><circle cx=317 cy=567 r=2.3 /><circle cx=483 cy=288 r=2.3 /><circle cx=405 cy=277 r=2.3 /><circle cx=531 cy=270 r=2.3 /><circle cx=333 cy=195 r=2.3 /><circle cx=266 cy=540 r=2.3 /><circle cx=483 cy=454 r=2.3 /><circle cx=513 cy=336 r=2.3 /><circle cx=435 cy=388 r=2.3 /><circle cx=299 cy=202 r=2.3 /><circle cx=233 cy=341 r=2.3 /><circle cx=101 cy=268 r=2.3 /><circle cx=480 cy=360 r=2.3 /><circle cx=336 cy=545 r=2.3 /><circle cx=505 cy=280 r=2.3 /><circle cx=274 cy=358 r=2.3 /><circle cx=495 cy=318 r=2.3 /><circle cx=294 cy=236 r=2.3 /><circle cx=205 cy=179 r=2.3 /><circle cx=223 cy=286 r=2.3 /><circle cx=199 cy=376 r=2.3 /><circle cx=510 cy=364 r=2.3 /><circle cx=242 cy=394 r=2.3 /><circle cx=515 cy=369 r=2.3 /><circle cx=215 cy=193 r=2.3 /><circle cx=478 cy=457 r=2.3 /><circle cx=249 cy=456 r=2.3 /><circle cx=324 cy=203 r=2.3 /><circle cx=217 cy=420 r=2.3 /><circle cx=451 cy=328 r=2.3 /><circle cx=86 cy=268 r=2.3 /><circle cx=470 cy=305 r=2.3 /><circle cx=305 cy=529 r=2.3 /><circle cx=256 cy=314 r=2.3 /><circle cx=547 cy=341 r=2.3 /><circle cx=524 cy=360 r=2.3 /><circle cx=289 cy=249 r=2.3 /><circle cx=528 cy=337 r=2.3 /><circle cx=274 cy=439 r=2.3 /><circle cx=438 cy=317 r=2.3 /><circle cx=288 cy=261 r=2.3 /><circle cx=296 cy=220 r=2.3 /><circle cx=202 cy=382 r=2.3 /><circle cx=320 cy=253 r=2.3 /><circle cx=535 cy=279 r=2.3 /><circle cx=333 cy=557 r=2.3 /><circle cx=271 cy=533 r=2.3 /><circle cx=215 cy=410 r=2.3 /><circle cx=266 cy=457 r=2.3 /><circle cx=472 cy=441 r=2.3 /><circle cx=329 cy=544 r=2.3 /><circle cx=503 cy=335 r=2.3 /><circle cx=316 cy=688 r=2.3 /><circle cx=216 cy=170 r=2.3 /><circle cx=221 cy=335 r=2.3 /><circle cx=266 cy=222 r=2.3 /><circle cx=207 cy=379 r=2.3 /><circle cx=329 cy=150 r=2.3 /><circle cx=278 cy=271 r=2.3 /><circle cx=483 cy=375 r=2.3 /><circle cx=238 cy=242 r=2.3 /><circle cx=305 cy=203 r=2.3 /><circle cx=458 cy=367 r=2.3 /><circle cx=527 cy=367 r=2.3 /><circle cx=306 cy=301 r=2.3 /><circle cx=68 cy=264 r=2.3 /><circle cx=264 cy=344 r=2.3 /><circle cx=460 cy=414 r=2.3 /><circle cx=59 cy=318 r=2.3 /><circle cx=250 cy=225 r=2.3 /><circle cx=308 cy=304 r=2.3 /><circle cx=413 cy=304 r=2.3 /><circle cx=221 cy=398 r=2.3 /><circle cx=327 cy=147 r=2.3 /><circle cx=202 cy=195 r=2.3 /><circle cx=263 cy=313 r=2.3 /><circle cx=522 cy=329 r=2.3 /><circle cx=549 cy=316 r=2.3 /><circle cx=236 cy=328 r=2.3 /><circle cx=200 cy=176 r=2.3 /><circle cx=470 cy=487 r=2.3 /><circle cx=339 cy=188 r=2.3 /><circle cx=287 cy=215 r=2.3 /><circle cx=304 cy=220 r=2.3 /><circle cx=315 cy=188 r=2.3 /><circle cx=77 cy=298 r=2.3 /><circle cx=224 cy=382 r=2.3 /><circle cx=319 cy=235 r=2.3 /><circle cx=311 cy=294 r=2.3 /><circle cx=263 cy=292 r=2.3 /><circle cx=61 cy=248 r=2.3 /><circle cx=281 cy=317 r=2.3 /><circle cx=308 cy=207 r=2.3 /><circle cx=54 cy=322 r=2.3 /><circle cx=228 cy=332 r=2.3 /><circle cx=80 cy=238 r=2.3 /><circle cx=66 cy=261 r=2.3 /><circle cx=320 cy=285 r=2.3 /><circle cx=75 cy=271 r=2.3 /><circle cx=256 cy=250 r=2.3 /><circle cx=233 cy=429 r=2.3 /><circle cx=73 cy=309 r=2.3 /><circle cx=454 cy=382 r=2.3 /><circle cx=191 cy=392 r=2.3 /><circle cx=441 cy=374 r=2.3 /><circle cx=246 cy=446 r=2.3 /><circle cx=517 cy=286 r=2.3 /><circle cx=71 cy=251 r=2.3 /><circle cx=435 cy=377 r=2.3 /><circle cx=238 cy=220 r=2.3 /><circle cx=246 cy=239 r=2.3 /><circle cx=356 cy=178 r=2.3 /><circle cx=530 cy=330 r=2.3 /><circle cx=320 cy=540 r=2.3 /><circle cx=349 cy=206 r=2.3 /><circle cx=443 cy=330 r=2.3 /><circle cx=214 cy=510 r=2.3 /><circle cx=75 cy=234 r=2.3 /><circle cx=484 cy=343 r=2.3 /><circle cx=299 cy=578 r=2.3 /><circle cx=333 cy=153 r=2.3 /><circle cx=424 cy=369 r=2.3 /><circle cx=237 cy=195 r=2.3 /><circle cx=360 cy=163 r=2.3 /><circle cx=321 cy=263 r=2.3 /><circle cx=273 cy=279 r=2.3 /><circle cx=314 cy=526 r=2.3 /><circle cx=279 cy=575 r=2.3 /><circle cx=271 cy=262 r=2.3 /><circle cx=260 cy=229 r=2.3 /><circle cx=227 cy=446 r=2.3 /><circle cx=326 cy=201 r=2.3 /><circle cx=522 cy=290 r=2.3 /><circle cx=294 cy=591 r=2.3 /><circle cx=535 cy=346 r=2.3 /><circle cx=256 cy=256 r=2.3 /><circle cx=279 cy=513 r=2.3 /><circle cx=547 cy=296 r=2.3 /><circle cx=433 cy=410 r=2.3 /><circle cx=550 cy=302 r=2.3 /><circle cx=225 cy=276 r=2.3 /><circle cx=532 cy=382 r=2.3 /><circle cx=489 cy=362 r=2.3 /><circle cx=330 cy=249 r=2.3 /><circle cx=279 cy=284 r=2.3 /><circle cx=331 cy=166 r=2.3 /><circle cx=451 cy=489 r=2.3 /><circle cx=241 cy=514 r=2.3 /><circle cx=482 cy=350 r=2.3 /><circle cx=305 cy=182 r=2.3 /><circle cx=510 cy=307 r=2.3 /><circle cx=449 cy=363 r=2.3 /><circle cx=236 cy=280 r=2.3 /><circle cx=432 cy=408 r=2.3 /><circle cx=444 cy=404 r=2.3 /><circle cx=258 cy=471 r=2.3 /><circle cx=326 cy=271 r=2.3 /><circle cx=278 cy=568 r=2.3 /><circle cx=298 cy=527 r=2.3 /><circle cx=224 cy=512 r=2.3 /><circle cx=267 cy=251 r=2.3 /><circle cx=274 cy=219 r=2.3 /><circle cx=335 cy=157 r=2.3 /><circle cx=261 cy=410 r=2.3 /><circle cx=492 cy=295 r=2.3 /><circle cx=254 cy=244 r=2.3 /><circle cx=557 cy=294 r=2.3 /><circle cx=105 cy=237 r=2.3 /><circle cx=540 cy=339 r=2.3 /><circle cx=220 cy=389 r=2.3 /><circle cx=197 cy=366 r=2.3 /><circle cx=256 cy=351 r=2.3 /><circle cx=249 cy=262 r=2.3 /><circle cx=531 cy=374 r=2.3 /><circle cx=536 cy=287 r=2.3 /><circle cx=274 cy=501 r=2.3 /><circle cx=454 cy=430 r=2.3 /><circle cx=201 cy=410 r=2.3 /><circle cx=285 cy=600 r=2.3 /><circle cx=283 cy=591 r=2.3 /><circle cx=375 cy=161 r=2.3 /><circle cx=240 cy=417 r=2.3 /><circle cx=470 cy=490 r=2.3 /><circle cx=254 cy=237 r=2.3 /><circle cx=441 cy=315 r=2.3 /><circle cx=317 cy=222 r=2.3 /><circle cx=516 cy=343 r=2.3 /><circle cx=529 cy=321 r=2.3 /><circle cx=220 cy=340 r=2.3 /><circle cx=248 cy=247 r=2.3 /><circle cx=265 cy=289 r=2.3 /><circle cx=514 cy=340 r=2.3 /><circle cx=482 cy=396 r=2.3 /><circle cx=218 cy=184 r=2.3 /><circle cx=281 cy=614 r=2.3 /><circle cx=317 cy=201 r=2.3 /><circle cx=282 cy=563 r=2.3 /><circle cx=546 cy=358 r=2.3 /><circle cx=425 cy=280 r=2.3 /><circle cx=228 cy=313 r=2.3 /><circle cx=503 cy=338 r=2.3 /><circle cx=280 cy=260 r=2.3 /><circle cx=330 cy=194 r=2.3 /><circle cx=306 cy=210 r=2.3 /><circle cx=441 cy=411 r=2.3 /><circle cx=550 cy=282 r=2.3 /><circle cx=258 cy=223 r=2.3 /><circle cx=319 cy=173 r=2.3 /><circle cx=233 cy=435 r=2.3 /><circle cx=317 cy=268 r=2.3 /><circle cx=323 cy=276 r=2.3 /><circle cx=248 cy=254 r=2.3 /><circle cx=303 cy=237 r=2.3 /><circle cx=255 cy=248 r=2.3 /><circle cx=262 cy=298 r=2.3 /><circle cx=474 cy=490 r=2.3 /><circle cx=500 cy=308 r=2.3 /><circle cx=491 cy=328 r=2.3 /><circle cx=350 cy=157 r=2.3 /><circle cx=314 cy=275 r=2.3 /><circle cx=248 cy=307 r=2.3 /><circle cx=325 cy=281 r=2.3 /><circle cx=252 cy=345 r=2.3 /><circle cx=485 cy=326 r=2.3 /><circle cx=519 cy=347 r=2.3 /><circle cx=308 cy=220 r=2.3 /><circle cx=472 cy=469 r=2.3 /><circle cx=55 cy=239 r=2.3 /><circle cx=448 cy=361 r=2.3 /><circle cx=219 cy=384 r=2.3 /><circle cx=417 cy=287 r=2.3 /><circle cx=267 cy=536 r=2.3 /><circle cx=266 cy=498 r=2.3 /><circle cx=222 cy=376 r=2.3 /><circle cx=95 cy=277 r=2.3 /><circle cx=441 cy=405 r=2.3 /><circle cx=270 cy=554 r=2.3 /><circle cx=279 cy=282 r=2.3 /><circle cx=314 cy=217 r=2.3 /><circle cx=495 cy=302 r=2.3 /><circle cx=436 cy=384 r=2.3 /><circle cx=333 cy=170 r=2.3 /><circle cx=272 cy=252 r=2.3 /><circle cx=326 cy=156 r=2.3 /><circle cx=237 cy=445 r=2.3 /><circle cx=88 cy=250 r=2.3 /><circle cx=243 cy=419 r=2.3 /><circle cx=271 cy=293 r=2.3 /><circle cx=453 cy=478 r=2.3 /><circle cx=186 cy=489 r=2.3 /><circle cx=285 cy=281 r=2.3 /><circle cx=330 cy=209 r=2.3 /><circle cx=222 cy=206 r=2.3 /><circle cx=457 cy=420 r=2.3 /><circle cx=218 cy=191 r=2.3 /><circle cx=250 cy=462 r=2.3 /><circle cx=264 cy=490 r=2.3 /><circle cx=274 cy=344 r=2.3 /><circle cx=230 cy=512 r=2.3 /><circle cx=84 cy=290 r=2.3 /><circle cx=490 cy=310 r=2.3 /><circle cx=229 cy=362 r=2.3 /><circle cx=248 cy=290 r=2.3 /><circle cx=263 cy=317 r=2.3 /><circle cx=213 cy=308 r=2.3 /><circle cx=476 cy=337 r=2.3 /><circle cx=242 cy=458 r=2.3 /><circle cx=78 cy=287 r=2.3 /><circle cx=107 cy=245 r=2.3 /><circle cx=302 cy=178 r=2.3 /><circle cx=335 cy=550 r=2.3 /><circle cx=316 cy=273 r=2.3 /><circle cx=88 cy=240 r=2.3 /><circle cx=429 cy=383 r=2.3 /><circle cx=295 cy=216 r=2.3 /><circle cx=534 cy=335 r=2.3 /><circle cx=313 cy=289 r=2.3 /><circle cx=287 cy=629 r=2.3 /><circle cx=363 cy=196 r=2.3 /><circle cx=317 cy=298 r=2.3 /><circle cx=479 cy=456 r=2.3 /><circle cx=273 cy=523 r=2.3 /><circle cx=356 cy=191 r=2.3 /><circle cx=277 cy=585 r=2.3 /><circle cx=537 cy=366 r=2.3 /><circle cx=339 cy=179 r=2.3 /><circle cx=504 cy=348 r=2.3 /><circle cx=542 cy=323 r=2.3 /><circle cx=322 cy=556 r=2.3 /><circle cx=89 cy=232 r=2.3 /><circle cx=510 cy=278 r=2.3 /><circle cx=231 cy=420 r=2.3 /><circle cx=287 cy=566 r=2.3 /><circle cx=219 cy=195 r=2.3 /><circle cx=218 cy=397 r=2.3 /><circle cx=200 cy=357 r=2.3 /><circle cx=272 cy=260 r=2.3 /><circle cx=255 cy=329 r=2.3 /><circle cx=219 cy=175 r=2.3 /><circle cx=267 cy=444 r=2.3 /><circle cx=508 cy=327 r=2.3 /><circle cx=545 cy=285 r=2.3 /><circle cx=294 cy=611 r=2.3 /><circle cx=288 cy=265 r=2.3 /><circle cx=548 cy=335 r=2.3 /><circle cx=440 cy=461 r=2.3 /><circle cx=268 cy=220 r=2.3 /><circle cx=274 cy=440 r=2.3 /><circle cx=230 cy=416 r=2.3 /><circle cx=301 cy=251 r=2.3 /><circle cx=238 cy=298 r=2.3 /><circle cx=319 cy=195 r=2.3 /><circle cx=511 cy=330 r=2.3 /><circle cx=441 cy=422 r=2.3 /><circle cx=204 cy=355 r=2.3 /><circle cx=313 cy=544 r=2.3 /><circle cx=218 cy=312 r=2.3 /><circle cx=250 cy=448 r=2.3 /><circle cx=209 cy=382 r=2.3 /><circle cx=324 cy=222 r=2.3 /><circle cx=213 cy=185 r=2.3 /><circle cx=233 cy=309 r=2.3 /><circle cx=437 cy=436 r=2.3 /><circle cx=475 cy=327 r=2.3 /><circle cx=280 cy=252 r=2.3 /><circle cx=272 cy=255 r=2.3 /><circle cx=546 cy=321 r=2.3 /><circle cx=340 cy=144 r=2.3 /><circle cx=222 cy=309 r=2.3 /><circle cx=458 cy=332 r=2.3 /><circle cx=320 cy=176 r=2.3 /><circle cx=502 cy=305 r=2.3 /><circle cx=294 cy=542 r=2.3 /><circle cx=262 cy=484 r=2.3 /><circle cx=319 cy=177 r=2.3 /><circle cx=118 cy=246 r=2.3 /><circle cx=224 cy=364 r=2.3 /><circle cx=533 cy=317 r=2.3 /><circle cx=219 cy=183 r=2.3 /><circle cx=553 cy=272 r=2.3 /><circle cx=363 cy=171 r=2.3 /><circle cx=66 cy=310 r=2.3 /><circle cx=537 cy=316 r=2.3 /><circle cx=276 cy=322 r=2.3 /><circle cx=529 cy=281 r=2.3 /><circle cx=76 cy=246 r=2.3 /><circle cx=330 cy=162 r=2.3 /><circle cx=335 cy=214 r=2.3 /><circle cx=220 cy=347 r=2.3 /><circle cx=331 cy=259 r=2.3 /><circle cx=323 cy=279 r=2.3 /><circle cx=258 cy=515 r=2.3 /><circle cx=319 cy=153 r=2.3 /><circle cx=257 cy=357 r=2.3 /><circle cx=477 cy=464 r=2.3 /><circle cx=57 cy=229 r=2.3 /><circle cx=238 cy=392 r=2.3 /><circle cx=211 cy=487 r=2.3 /><circle cx=106 cy=233 r=2.3 /><circle cx=328 cy=182 r=2.3 /><circle cx=457 cy=371 r=2.3 /><circle cx=227 cy=294 r=2.3 /><circle cx=239 cy=364 r=2.3 /><circle cx=482 cy=457 r=2.3 /><circle cx=451 cy=429 r=2.3 /><circle cx=457 cy=338 r=2.3 /><circle cx=337 cy=146 r=2.3 /><circle cx=337 cy=166 r=2.3 /><circle cx=445 cy=483 r=2.3 /><circle cx=238 cy=290 r=2.3 /><circle cx=437 cy=455 r=2.3 /><circle cx=493 cy=284 r=2.3 /><circle cx=319 cy=197 r=2.3 /><circle cx=247 cy=392 r=2.3 /><circle cx=269 cy=508 r=2.3 /><circle cx=281 cy=293 r=2.3 /><circle cx=311 cy=276 r=2.3 /><circle cx=540 cy=348 r=2.3 /><circle cx=225 cy=371 r=2.3 /><circle cx=263 cy=275 r=2.3 /><circle cx=544 cy=272 r=2.3 /><circle cx=243 cy=289 r=2.3 /><circle cx=550 cy=339 r=2.3 /><circle cx=236 cy=417 r=2.3 /><circle cx=238 cy=214 r=2.3 /><circle cx=270 cy=354 r=2.3 /><circle cx=223 cy=296 r=2.3 /><circle cx=472 cy=479 r=2.3 /><circle cx=208 cy=194 r=2.3 /><circle cx=454 cy=432 r=2.3 /><circle cx=321 cy=222 r=2.3 /><circle cx=97 cy=261 r=2.3 /><circle cx=312 cy=156 r=2.3 /><circle cx=102 cy=239 r=2.3 /><circle cx=315 cy=226 r=2.3 /><circle cx=370 cy=178 r=2.3 /><circle cx=466 cy=329 r=2.3 /><circle cx=310 cy=239 r=2.3 /><circle cx=453 cy=483 r=2.3 /><circle cx=477 cy=467 r=2.3 /><circle cx=542 cy=279 r=2.3 /><circle cx=250 cy=320 r=2.3 /><circle cx=429 cy=356 r=2.3 /><circle cx=256 cy=319 r=2.3 /><circle cx=88 cy=294 r=2.3 /><circle cx=226 cy=329 r=2.3 /><circle cx=441 cy=321 r=2.3 /><circle cx=319 cy=226 r=2.3 /><circle cx=86 cy=260 r=2.3 /><circle cx=471 cy=344 r=2.3 /><circle cx=240 cy=429 r=2.3 /><circle cx=454 cy=463 r=2.3 /><circle cx=284 cy=232 r=2.3 /><circle cx=460 cy=326 r=2.3 /><circle cx=286 cy=540 r=2.3 /><circle cx=513 cy=298 r=2.3 /><circle cx=84 cy=252 r=2.3 /><circle cx=73 cy=276 r=2.3 /><circle cx=472 cy=376 r=2.3 /><circle cx=258 cy=231 r=2.3 /><circle cx=321 cy=238 r=2.3 /><circle cx=323 cy=173 r=2.3 /><circle cx=253 cy=456 r=2.3 /><circle cx=288 cy=529 r=2.3 /><circle cx=211 cy=335 r=2.3 /><circle cx=461 cy=457 r=2.3 /><circle cx=506 cy=371 r=2.3 /><circle cx=346 cy=155 r=2.3 /><circle cx=316 cy=154 r=2.3 /><circle cx=326 cy=215 r=2.3 /><circle cx=493 cy=279 r=2.3 /><circle cx=350 cy=188 r=2.3 /><circle cx=456 cy=401 r=2.3 /><circle cx=234 cy=447 r=2.3 /><circle cx=452 cy=452 r=2.3 /><circle cx=95 cy=295 r=2.3 /><circle cx=476 cy=316 r=2.3 /><circle cx=263 cy=519 r=2.3 /><circle cx=228 cy=338 r=2.3 /><circle cx=544 cy=284 r=2.3 /><circle cx=312 cy=579 r=2.3 /><circle cx=335 cy=179 r=2.3 /><circle cx=243 cy=401 r=2.3 /><circle cx=200 cy=184 r=2.3 /><circle cx=310 cy=201 r=2.3 /><circle cx=440 cy=368 r=2.3 /><circle cx=327 cy=222 r=2.3 /><circle cx=535 cy=297 r=2.3 /><circle cx=478 cy=326 r=2.3 /><circle cx=315 cy=205 r=2.3 /><circle cx=255 cy=222 r=2.3 /><circle cx=328 cy=551 r=2.3 /><circle cx=71 cy=298 r=2.3 /><circle cx=290 cy=229 r=2.3 /><circle cx=248 cy=234 r=2.3 /><circle cx=199 cy=407 r=2.3 /><circle cx=318 cy=163 r=2.3 /><circle cx=229 cy=349 r=2.3 /><circle cx=71 cy=286 r=2.3 /><circle cx=258 cy=438 r=2.3 /><circle cx=300 cy=262 r=2.3 /><circle cx=460 cy=426 r=2.3 /><circle cx=276 cy=347 r=2.3 /><circle cx=195 cy=406 r=2.3 /><circle cx=243 cy=263 r=2.3 /><circle cx=266 cy=474 r=2.3 /><circle cx=270 cy=222 r=2.3 /><circle cx=247 cy=410 r=2.3 /><circle cx=192 cy=372 r=2.3 /><circle cx=212 cy=348 r=2.3 /><circle cx=458 cy=456 r=2.3 /><circle cx=281 cy=517 r=2.3 /><circle cx=282 cy=594 r=2.3 /><circle cx=492 cy=326 r=2.3 /><circle cx=255 cy=297 r=2.3 /><circle cx=297 cy=280 r=2.3 /><circle cx=497 cy=318 r=2.3 /><circle cx=263 cy=459 r=2.3 /><circle cx=338 cy=184 r=2.3 /><circle cx=199 cy=396 r=2.3 /><circle cx=220 cy=425 r=2.3 /><circle cx=487 cy=288 r=2.3 /><circle cx=323 cy=143 r=2.3 /><circle cx=297 cy=617 r=2.3 /><circle cx=295 cy=239 r=2.3 /><circle cx=217 cy=332 r=2.3 /><circle cx=532 cy=351 r=2.3 /><circle cx=239 cy=282 r=2.3 /><circle cx=450 cy=320 r=2.3 /><circle cx=316 cy=167 r=2.3 /><circle cx=374 cy=190 r=2.3 /><circle cx=552 cy=303 r=2.3 /><circle cx=236 cy=318 r=2.3 /><circle cx=267 cy=503 r=2.3 /><circle cx=296 cy=226 r=2.3 /><circle cx=484 cy=447 r=2.3 /><circle cx=340 cy=161 r=2.3 /><circle cx=215 cy=292 r=2.3 /><circle cx=225 cy=342 r=2.3 /><circle cx=525 cy=289 r=2.3 /><circle cx=346 cy=163 r=2.3 /><circle cx=232 cy=351 r=2.3 /><circle cx=448 cy=479 r=2.3 /><circle cx=242 cy=251 r=2.3 /><circle cx=58 cy=233 r=2.3 /><circle cx=84 cy=228 r=2.3 /><circle cx=254 cy=293 r=2.3 /><circle cx=468 cy=338 r=2.3 /><circle cx=329 cy=275 r=2.3 /><circle cx=200 cy=187 r=2.3 /><circle cx=225 cy=344 r=2.3 /><circle cx=268 cy=482 r=2.3 /><circle cx=304 cy=531 r=2.3 /><circle cx=356 cy=155 r=2.3 /><circle cx=435 cy=319 r=2.3 /><circle cx=318 cy=175 r=2.3 /><circle cx=102 cy=247 r=2.3 /><circle cx=267 cy=556 r=2.3 /><circle cx=217 cy=401 r=2.3 /><circle cx=203 cy=349 r=2.3 /><circle cx=95 cy=251 r=2.3 /><circle cx=265 cy=556 r=2.3 /><circle cx=200 cy=487 r=2.3 /><circle cx=79 cy=241 r=2.3 /><circle cx=275 cy=576 r=2.3 /><circle cx=324 cy=234 r=2.3 /><circle cx=501 cy=324 r=2.3 /><circle cx=298 cy=297 r=2.3 /><circle cx=266 cy=529 r=2.3 /><circle cx=220 cy=414 r=2.3 /><circle cx=322 cy=200 r=2.3 /><circle cx=321 cy=538 r=2.3 /><circle cx=359 cy=179 r=2.3 /><circle cx=462 cy=368 r=2.3 /><circle cx=428 cy=371 r=2.3 /><circle cx=464 cy=364 r=2.3 /><circle cx=488 cy=316 r=2.3 /><circle cx=281 cy=606 r=2.3 /><circle cx=228 cy=376 r=2.3 /><circle cx=220 cy=172 r=2.3 /><circle cx=100 cy=239 r=2.3 /><circle cx=122 cy=255 r=2.3 /><circle cx=218 cy=338 r=2.3 /><circle cx=249 cy=282 r=2.3 /><circle cx=74 cy=258 r=2.3 /><circle cx=308 cy=586 r=2.3 /><circle cx=268 cy=525 r=2.3 /><circle cx=280 cy=608 r=2.3 /><circle cx=528 cy=365 r=2.3 /><circle cx=270 cy=313 r=2.3 /><circle cx=267 cy=247 r=2.3 /><circle cx=265 cy=495 r=2.3 /><circle cx=515 cy=357 r=2.3 /><circle cx=537 cy=349 r=2.3 /><circle cx=499 cy=286 r=2.3 /><circle cx=493 cy=377 r=2.3 /><circle cx=254 cy=369 r=2.3 /><circle cx=230 cy=296 r=2.3 /><circle cx=210 cy=433 r=2.3 /><circle cx=446 cy=451 r=2.3 /><circle cx=244 cy=379 r=2.3 /><circle cx=470 cy=484 r=2.3 /><circle cx=349 cy=194 r=2.3 /><circle cx=221 cy=312 r=2.3 /><circle cx=491 cy=286 r=2.3 /><circle cx=286 cy=249 r=2.3 /><circle cx=267 cy=336 r=2.3 /><circle cx=257 cy=303 r=2.3 /><circle cx=522 cy=380 r=2.3 /><circle cx=451 cy=423 r=2.3 /><circle cx=205 cy=378 r=2.3 /><circle cx=266 cy=292 r=2.3 /><circle cx=312 cy=527 r=2.3 /><circle cx=268 cy=270 r=2.3 /><circle cx=311 cy=283 r=2.3 /><circle cx=499 cy=338 r=2.3 /><circle cx=76 cy=274 r=2.3 /><circle cx=370 cy=160 r=2.3 /><circle cx=486 cy=320 r=2.3 /><circle cx=225 cy=412 r=2.3 /><circle cx=420 cy=271 r=2.3 /><circle cx=504 cy=364 r=2.3 /><circle cx=308 cy=222 r=2.3 /><circle cx=265 cy=348 r=2.3 /><circle cx=482 cy=445 r=2.3 /><circle cx=273 cy=498 r=2.3 /><circle cx=257 cy=225 r=2.3 /><circle cx=236 cy=377 r=2.3 /><circle cx=442 cy=457 r=2.3 /><circle cx=211 cy=359 r=2.3 /><circle cx=246 cy=251 r=2.3 /><circle cx=305 cy=284 r=2.3 /><circle cx=438 cy=342 r=2.3 /><circle cx=459 cy=466 r=2.3 /><circle cx=266 cy=471 r=2.3 /><circle cx=367 cy=187 r=2.3 /><circle cx=512 cy=338 r=2.3 /><circle cx=319 cy=204 r=2.3 /><circle cx=541 cy=342 r=2.3 /><circle cx=262 cy=548 r=2.3 /><circle cx=519 cy=339 r=2.3 /><circle cx=299 cy=199 r=2.3 /><circle cx=291 cy=591 r=2.3 /><circle cx=334 cy=198 r=2.3 /><circle cx=241 cy=366 r=2.3 /><circle cx=525 cy=320 r=2.3 /><circle cx=241 cy=284 r=2.3 /><circle cx=454 cy=355 r=2.3 /><circle cx=318 cy=263 r=2.3 /><circle cx=306 cy=592 r=2.3 /><circle cx=234 cy=409 r=2.3 /><circle cx=235 cy=400 r=2.3 /><circle cx=271 cy=450 r=2.3 /><circle cx=268 cy=506 r=2.3 /><circle cx=228 cy=307 r=2.3 /><circle cx=255 cy=422 r=2.3 /><circle cx=477 cy=487 r=2.3 /><circle cx=225 cy=391 r=2.3 /><circle cx=447 cy=448 r=2.3 /><circle cx=371 cy=191 r=2.3 /><circle cx=208 cy=390 r=2.3 /><circle cx=542 cy=352 r=2.3 /><circle cx=328 cy=555 r=2.3 /><circle cx=258 cy=294 r=2.3 /><circle cx=215 cy=176 r=2.3 /><circle cx=270 cy=487 r=2.3 /><circle cx=248 cy=261 r=2.3 /><circle cx=100 cy=255 r=2.3 /><circle cx=320 cy=213 r=2.3 /><circle cx=205 cy=350 r=2.3 /><circle cx=450 cy=492 r=2.3 /><circle cx=261 cy=239 r=2.3 /><circle cx=324 cy=267 r=2.3 /><circle cx=439 cy=361 r=2.3 /><circle cx=261 cy=269 r=2.3 /><circle cx=408 cy=283 r=2.3 /><circle cx=278 cy=317 r=2.3 /><circle cx=275 cy=532 r=2.3 /><circle cx=456 cy=409 r=2.3 /><circle cx=323 cy=285 r=2.3 /><circle cx=327 cy=184 r=2.3 /><circle cx=268 cy=342 r=2.3 /><circle cx=270 cy=566 r=2.3 /><circle cx=545 cy=311 r=2.3 /><circle cx=320 cy=548 r=2.3 /><circle cx=77 cy=308 r=2.3 /><circle cx=504 cy=320 r=2.3 /><circle cx=231 cy=391 r=2.3 /><circle cx=257 cy=248 r=2.3 /><circle cx=508 cy=363 r=2.3 /><circle cx=245 cy=411 r=2.3 /><circle cx=66 cy=321 r=2.3 /><circle cx=476 cy=298 r=2.3 /><circle cx=229 cy=456 r=2.3 /><circle cx=253 cy=268 r=2.3 /><circle cx=118 cy=257 r=2.3 /><circle cx=260 cy=234 r=2.3 /><circle cx=535 cy=349 r=2.3 /><circle cx=318 cy=569 r=2.3 /><circle cx=235 cy=513 r=2.3 /><circle cx=302 cy=173 r=2.3 /><circle cx=274 cy=519 r=2.3 /><circle cx=249 cy=272 r=2.3 /><circle cx=218 cy=438 r=2.3 /><circle cx=301 cy=597 r=2.3 /><circle cx=188 cy=374 r=2.3 /><circle cx=493 cy=301 r=2.3 /><circle cx=267 cy=574 r=2.3 /><circle cx=351 cy=198 r=2.3 /><circle cx=223 cy=416 r=2.3 /><circle cx=238 cy=456 r=2.3 /><circle cx=91 cy=242 r=2.3 /><circle cx=258 cy=315 r=2.3 /><circle cx=220 cy=208 r=2.3 /><circle cx=298 cy=248 r=2.3 /><circle cx=256 cy=420 r=2.3 /><circle cx=226 cy=403 r=2.3 /><circle cx=473 cy=460 r=2.3 /><circle cx=317 cy=267 r=2.3 /><circle cx=439 cy=469 r=2.3 /><circle cx=225 cy=323 r=2.3 /><circle cx=336 cy=181 r=2.3 /><circle cx=522 cy=321 r=2.3 /><circle cx=430 cy=325 r=2.3 /><circle cx=355 cy=160 r=2.3 /><circle cx=250 cy=460 r=2.3 /><circle cx=234 cy=299 r=2.3 /><circle cx=310 cy=548 r=2.3 /><circle cx=345 cy=190 r=2.3 /><circle cx=495 cy=336 r=2.3 /><circle cx=507 cy=296 r=2.3 /><circle cx=317 cy=151 r=2.3 /><circle cx=290 cy=512 r=2.3 /><circle cx=259 cy=447 r=2.3 /><circle cx=256 cy=265 r=2.3 /><circle cx=524 cy=375 r=2.3 /><circle cx=279 cy=586 r=2.3 /><circle cx=274 cy=331 r=2.3 /><circle cx=272 cy=298 r=2.3 /><circle cx=250 cy=294 r=2.3 /><circle cx=279 cy=537 r=2.3 /><circle cx=354 cy=143 r=2.3 /><circle cx=280 cy=563 r=2.3 /><circle cx=207 cy=170 r=2.3 /><circle cx=484 cy=366 r=2.3 /><circle cx=461 cy=390 r=2.3 /><circle cx=271 cy=493 r=2.3 /><circle cx=526 cy=346 r=2.3 /><circle cx=524 cy=272 r=2.3 /><circle cx=419 cy=302 r=2.3 /><circle cx=454 cy=410 r=2.3 /><circle cx=420 cy=278 r=2.3 /><circle cx=230 cy=378 r=2.3 /><circle cx=241 cy=326 r=2.3 /><circle cx=540 cy=346 r=2.3 /><circle cx=299 cy=260 r=2.3 /><circle cx=208 cy=366 r=2.3 /><circle cx=476 cy=356 r=2.3 /><circle cx=428 cy=377 r=2.3 /><circle cx=528 cy=349 r=2.3 /><circle cx=323 cy=560 r=2.3 /><circle cx=249 cy=461 r=2.3 /><circle cx=287 cy=523 r=2.3 /><circle cx=442 cy=369 r=2.3 /><circle cx=334 cy=572 r=2.3 /><circle cx=293 cy=250 r=2.3 /><circle cx=240 cy=200 r=2.3 /><circle cx=90 cy=273 r=2.3 /><circle cx=104 cy=270 r=2.3 /><circle cx=73 cy=265 r=2.3 /><circle cx=90 cy=286 r=2.3 /><circle cx=63 cy=261 r=2.3 /><circle cx=85 cy=305 r=2.3 /><circle cx=81 cy=270 r=2.3 /><circle cx=261 cy=515 r=2.3 /><circle cx=216 cy=347 r=2.3 /><circle cx=553 cy=310 r=2.3 /><circle cx=506 cy=379 r=2.3 /><circle cx=338 cy=566 r=2.3 /><circle cx=515 cy=379 r=2.3 /><circle cx=262 cy=482 r=2.3 /><circle cx=84 cy=258 r=2.3 /><circle cx=456 cy=320 r=2.3 /><circle cx=295 cy=566 r=2.3 /><circle cx=284 cy=216 r=2.3 /><circle cx=510 cy=276 r=2.3 /><circle cx=293 cy=625 r=2.3 /><circle cx=254 cy=317 r=2.3 /><circle cx=271 cy=490 r=2.3 /><circle cx=436 cy=367 r=2.3 /><circle cx=292 cy=243 r=2.3 /><circle cx=543 cy=302 r=2.3 /><circle cx=441 cy=335 r=2.3 /><circle cx=201 cy=403 r=2.3 /><circle cx=281 cy=242 r=2.3 /><circle cx=85 cy=245 r=2.3 /><circle cx=469 cy=460 r=2.3 /><circle cx=216 cy=422 r=2.3 /><circle cx=252 cy=323 r=2.3 /><circle cx=265 cy=451 r=2.3 /><circle cx=275 cy=433 r=2.3 /><circle cx=249 cy=381 r=2.3 /><circle cx=468 cy=369 r=2.3 /><circle cx=221 cy=343 r=2.3 /><circle cx=295 cy=241 r=2.3 /><circle cx=486 cy=474 r=2.3 /><circle cx=443 cy=407 r=2.3 /><circle cx=281 cy=262 r=2.3 /><circle cx=448 cy=373 r=2.3 /><circle cx=463 cy=424 r=2.3 /><circle cx=305 cy=535 r=2.3 /><circle cx=470 cy=477 r=2.3 /><circle cx=89 cy=309 r=2.3 /><circle cx=254 cy=355 r=2.3 /><circle cx=354 cy=151 r=2.3 /><circle cx=358 cy=170 r=2.3 /><circle cx=449 cy=419 r=2.3 /><circle cx=229 cy=279 r=2.3 /><circle cx=439 cy=388 r=2.3 /><circle cx=298 cy=211 r=2.3 /><circle cx=245 cy=281 r=2.3 /><circle cx=274 cy=307 r=2.3 /><circle cx=512 cy=318 r=2.3 /><circle cx=476 cy=296 r=2.3 /><circle cx=301 cy=211 r=2.3 /><circle cx=238 cy=406 r=2.3 /><circle cx=505 cy=317 r=2.3 /><circle cx=231 cy=323 r=2.3 /><circle cx=107 cy=263 r=2.3 /><circle cx=75 cy=251 r=2.3 /><circle cx=83 cy=242 r=2.3 /><circle cx=438 cy=365 r=2.3 /><circle cx=432 cy=312 r=2.3 /><circle cx=290 cy=287 r=2.3 /><circle cx=432 cy=384 r=2.3 /><circle cx=267 cy=500 r=2.3 /><circle cx=422 cy=272 r=2.3 /><circle cx=330 cy=227 r=2.3 /><circle cx=278 cy=268 r=2.3 /><circle cx=279 cy=554 r=2.3 /><circle cx=204 cy=400 r=2.3 /><circle cx=264 cy=563 r=2.3 /><circle cx=96 cy=265 r=2.3 /><circle cx=303 cy=589 r=2.3 /><circle cx=480 cy=291 r=2.3 /><circle cx=434 cy=357 r=2.3 /><circle cx=227 cy=425 r=2.3 /><circle cx=350 cy=182 r=2.3 /><circle cx=258 cy=468 r=2.3 /><circle cx=462 cy=373 r=2.3 /><circle cx=252 cy=311 r=2.3 /><circle cx=518 cy=376 r=2.3 /><circle cx=262 cy=529 r=2.3 /><circle cx=243 cy=294 r=2.3 /><circle cx=423 cy=295 r=2.3 /><circle cx=417 cy=291 r=2.3 /><circle cx=224 cy=317 r=2.3 /><circle cx=230 cy=176 r=2.3 /><circle cx=424 cy=286 r=2.3 /><circle cx=326 cy=267 r=2.3 /><circle cx=473 cy=310 r=2.3 /><circle cx=332 cy=156 r=2.3 /><circle cx=314 cy=162 r=2.3 /><circle cx=240 cy=391 r=2.3 /><circle cx=478 cy=349 r=2.3 /><circle cx=344 cy=156 r=2.3 /><circle cx=445 cy=374 r=2.3 /><circle cx=275 cy=244 r=2.3 /><circle cx=445 cy=336 r=2.3 /><circle cx=334 cy=159 r=2.3 /><circle cx=474 cy=339 r=2.3 /><circle cx=351 cy=162 r=2.3 /><circle cx=370 cy=185 r=2.3 /><circle cx=291 cy=628 r=2.3 /><circle cx=235 cy=364 r=2.3 /><circle cx=306 cy=266 r=2.3 /><circle cx=336 cy=189 r=2.3 /><circle cx=281 cy=616 r=2.3 /><circle cx=365 cy=154 r=2.3 /><circle cx=211 cy=195 r=2.3 /><circle cx=85 cy=247 r=2.3 /><circle cx=216 cy=305 r=2.3 /><circle cx=463 cy=452 r=2.3 /><circle cx=506 cy=362 r=2.3 /><circle cx=73 cy=235 r=2.3 /><circle cx=282 cy=538 r=2.3 /><circle cx=93 cy=263 r=2.3 /><circle cx=269 cy=311 r=2.3 /><circle cx=301 cy=218 r=2.3 /><circle cx=240 cy=376 r=2.3 /><circle cx=310 cy=187 r=2.3 /><circle cx=254 cy=529 r=2.3 /><circle cx=488 cy=297 r=2.3 /><circle cx=516 cy=335 r=2.3 /><circle cx=329 cy=269 r=2.3 /><circle cx=263 cy=341 r=2.3 /><circle cx=223 cy=179 r=2.3 /><circle cx=465 cy=399 r=2.3 /><circle cx=519 cy=367 r=2.3 /><circle cx=192 cy=395 r=2.3 /><circle cx=290 cy=536 r=2.3 /><circle cx=250 cy=388 r=2.3 /><circle cx=283 cy=211 r=2.3 /><circle cx=472 cy=454 r=2.3 /><circle cx=79 cy=252 r=2.3 /><circle cx=192 cy=363 r=2.3 /><circle cx=229 cy=292 r=2.3 /><circle cx=215 cy=179 r=2.3 /><circle cx=448 cy=315 r=2.3 /><circle cx=289 cy=619 r=2.3 /><circle cx=247 cy=317 r=2.3 /><circle cx=510 cy=301 r=2.3 /><circle cx=443 cy=465 r=2.3 /><circle cx=337 cy=206 r=2.3 /><circle cx=464 cy=369 r=2.3 /><circle cx=183 cy=499 r=2.3 /><circle cx=427 cy=374 r=2.3 /><circle cx=447 cy=470 r=2.3 /><circle cx=278 cy=544 r=2.3 /><circle cx=329 cy=243 r=2.3 /><circle cx=61 cy=303 r=2.3 /><circle cx=362 cy=157 r=2.3 /><circle cx=83 cy=298 r=2.3 /><circle cx=334 cy=542 r=2.3 /><circle cx=257 cy=291 r=2.3 /><circle cx=113 cy=252 r=2.3 /><circle cx=258 cy=421 r=2.3 /><circle cx=264 cy=328 r=2.3 /><circle cx=228 cy=407 r=2.3 /><circle cx=319 cy=534 r=2.3 /><circle cx=467 cy=411 r=2.3 /><circle cx=448 cy=474 r=2.3 /><circle cx=377 cy=185 r=2.3 /><circle cx=477 cy=393 r=2.3 /><circle cx=444 cy=368 r=2.3 /><circle cx=305 cy=216 r=2.3 /><circle cx=308 cy=174 r=2.3 /><circle cx=234 cy=390 r=2.3 /><circle cx=456 cy=349 r=2.3 /><circle cx=297 cy=531 r=2.3 /><circle cx=215 cy=354 r=2.3 /><circle cx=308 cy=163 r=2.3 /><circle cx=501 cy=311 r=2.3 /><circle cx=463 cy=413 r=2.3 /><circle cx=284 cy=579 r=2.3 /><circle cx=297 cy=588 r=2.3 /><circle cx=251 cy=303 r=2.3 /><circle cx=56 cy=246 r=2.3 /><circle cx=270 cy=276 r=2.3 /><circle cx=310 cy=167 r=2.3 /><circle cx=108 cy=261 r=2.3 /><circle cx=277 cy=572 r=2.3 /><circle cx=524 cy=373 r=2.3 /><circle cx=325 cy=219 r=2.3 /><circle cx=477 cy=356 r=2.3 /><circle cx=519 cy=274 r=2.3 /><circle cx=75 cy=314 r=2.3 /><circle cx=361 cy=182 r=2.3 /><circle cx=260 cy=351 r=2.3 /><circle cx=280 cy=267 r=2.3 /><circle cx=244 cy=317 r=2.3 /><circle cx=470 cy=442 r=2.3 /><circle cx=456 cy=361 r=2.3 /><circle cx=101 cy=273 r=2.3 /><circle cx=433 cy=327 r=2.3 /><circle cx=427 cy=333 r=2.3 /><circle cx=474 cy=424 r=2.3 /><circle cx=293 cy=551 r=2.3 /><circle cx=63 cy=226 r=2.3 /><circle cx=209 cy=400 r=2.3 /><circle cx=206 cy=400 r=2.3 /><circle cx=290 cy=259 r=2.3 /><circle cx=209 cy=296 r=2.3 /><circle cx=438 cy=451 r=2.3 /><circle cx=83 cy=236 r=2.3 /><circle cx=465 cy=496 r=2.3 /><circle cx=272 cy=495 r=2.3 /><circle cx=348 cy=154 r=2.3 /><circle cx=320 cy=241 r=2.3 /><circle cx=476 cy=368 r=2.3 /><circle cx=259 cy=474 r=2.3 /><circle cx=266 cy=461 r=2.3 /><circle cx=196 cy=391 r=2.3 /><circle cx=265 cy=355 r=2.3 /><circle cx=263 cy=225 r=2.3 /><circle cx=211 cy=182 r=2.3 /><circle cx=92 cy=232 r=2.3 /><circle cx=566 cy=286 r=2.3 /><circle cx=448 cy=422 r=2.3 /><circle cx=304 cy=175 r=2.3 /><circle cx=306 cy=279 r=2.3 /><circle cx=274 cy=319 r=2.3 /><circle cx=276 cy=293 r=2.3 /><circle cx=533 cy=368 r=2.3 /><circle cx=63 cy=325 r=2.3 /><circle cx=319 cy=278 r=2.3 /><circle cx=267 cy=477 r=2.3 /><circle cx=254 cy=288 r=2.3 /><circle cx=224 cy=172 r=2.3 /><circle cx=337 cy=560 r=2.3 /><circle cx=229 cy=435 r=2.3 /><circle cx=59 cy=252 r=2.3 /><circle cx=82 cy=252 r=2.3 /><circle cx=533 cy=362 r=2.3 /><circle cx=249 cy=321 r=2.3 /><circle cx=521 cy=359 r=2.3 /><circle cx=312 cy=260 r=2.3 /><circle cx=499 cy=332 r=2.3 /><circle cx=520 cy=361 r=2.3 /><circle cx=252 cy=338 r=2.3 /><circle cx=270 cy=279 r=2.3 /><circle cx=218 cy=326 r=2.3 /><circle cx=459 cy=491 r=2.3 /><circle cx=258 cy=454 r=2.3 /><circle cx=313 cy=561 r=2.3 /><circle cx=308 cy=542 r=2.3 /><circle cx=444 cy=313 r=2.3 /><circle cx=270 cy=315 r=2.3 /><circle cx=527 cy=324 r=2.3 /><circle cx=291 cy=240 r=2.3 /><circle cx=546 cy=298 r=2.3 /><circle cx=249 cy=285 r=2.3 /><circle cx=499 cy=313 r=2.3 /><circle cx=213 cy=405 r=2.3 /><circle cx=272 cy=426 r=2.3 /><circle cx=531 cy=277 r=2.3 /><circle cx=483 cy=304 r=2.3 /><circle cx=531 cy=349 r=2.3 /><circle cx=487 cy=373 r=2.3 /><circle cx=262 cy=423 r=2.3 /><circle cx=270 cy=438 r=2.3 /><circle cx=274 cy=511 r=2.3 /><circle cx=341 cy=551 r=2.3 /><circle cx=251 cy=348 r=2.3 /><circle cx=213 cy=351 r=2.3 /><circle cx=188 cy=384 r=2.3 /><circle cx=268 cy=479 r=2.3 /><circle cx=449 cy=453 r=2.3 /><circle cx=285 cy=609 r=2.3 /><circle cx=501 cy=379 r=2.3 /><circle cx=252 cy=389 r=2.3 /><circle cx=272 cy=576 r=2.3 /><circle cx=69 cy=238 r=2.3 /><circle cx=69 cy=270 r=2.3 /><circle cx=454 cy=342 r=2.3 /><circle cx=522 cy=375 r=2.3 /><circle cx=471 cy=432 r=2.3 /><circle cx=76 cy=241 r=2.3 /><circle cx=270 cy=253 r=2.3 /><circle cx=282 cy=244 r=2.3 /><circle cx=279 cy=558 r=2.3 /><circle cx=238 cy=226 r=2.3 /><circle cx=312 cy=532 r=2.3 /><circle cx=494 cy=382 r=2.3 /><circle cx=487 cy=382 r=2.3 /><circle cx=456 cy=418 r=2.3 /><circle cx=225 cy=377 r=2.3 /><circle cx=362 cy=161 r=2.3 /><circle cx=330 cy=176 r=2.3 /><circle cx=456 cy=380 r=2.3 /><circle cx=277 cy=229 r=2.3 /><circle cx=479 cy=472 r=2.3 /><circle cx=483 cy=336 r=2.3 /><circle cx=328 cy=287 r=2.3 /><circle cx=434 cy=379 r=2.3 /><circle cx=446 cy=321 r=2.3 /><circle cx=507 cy=310 r=2.3 /><circle cx=253 cy=332 r=2.3 /><circle cx=206 cy=381 r=2.3 /><circle cx=265 cy=447 r=2.3 /><circle cx=231 cy=356 r=2.3 /><circle cx=325 cy=293 r=2.3 /><circle cx=270 cy=357 r=2.3 /><circle cx=443 cy=394 r=2.3 /><circle cx=94 cy=291 r=2.3 /><circle cx=414 cy=287 r=2.3 /><circle cx=535 cy=373 r=2.3 /><circle cx=305 cy=573 r=2.3 /><circle cx=479 cy=351 r=2.3 /><circle cx=495 cy=310 r=2.3 /></g>
<g class="q3a" fill="#ffffff" stroke="#4a4a4a" stroke-width="1.3"><circle cx=326 cy=235 r=2.6 /><circle cx=324 cy=230 r=2.6 /><circle cx=535 cy=371 r=2.6 /><circle cx=328 cy=207 r=2.6 /><circle cx=316 cy=216 r=2.6 /><circle cx=509 cy=341 r=2.6 /><circle cx=472 cy=451 r=2.6 /><circle cx=307 cy=696 r=2.6 /><circle cx=327 cy=159 r=2.6 /><circle cx=272 cy=507 r=2.6 /><circle cx=336 cy=150 r=2.6 /><circle cx=247 cy=300 r=2.6 /><circle cx=275 cy=570 r=2.6 /><circle cx=484 cy=387 r=2.6 /><circle cx=555 cy=319 r=2.6 /><circle cx=324 cy=551 r=2.6 /><circle cx=268 cy=491 r=2.6 /><circle cx=255 cy=436 r=2.6 /><circle cx=269 cy=496 r=2.6 /><circle cx=488 cy=464 r=2.6 /><circle cx=214 cy=357 r=2.6 /><circle cx=296 cy=575 r=2.6 /><circle cx=270 cy=541 r=2.6 /><circle cx=292 cy=595 r=2.6 /><circle cx=312 cy=266 r=2.6 /><circle cx=311 cy=582 r=2.6 /><circle cx=519 cy=335 r=2.6 /><circle cx=514 cy=333 r=2.6 /><circle cx=231 cy=195 r=2.6 /><circle cx=422 cy=322 r=2.6 /><circle cx=241 cy=406 r=2.6 /><circle cx=427 cy=308 r=2.6 /><circle cx=467 cy=465 r=2.6 /><circle cx=362 cy=408 r=2.6 /><circle cx=293 cy=513 r=2.6 /><circle cx=238 cy=400 r=2.6 /><circle cx=295 cy=577 r=2.6 /><circle cx=448 cy=329 r=2.6 /><circle cx=271 cy=251 r=2.6 /><circle cx=228 cy=395 r=2.6 /><circle cx=531 cy=364 r=2.6 /><circle cx=88 cy=271 r=2.6 /><circle cx=550 cy=279 r=2.6 /><circle cx=454 cy=324 r=2.6 /><circle cx=269 cy=322 r=2.6 /><circle cx=81 cy=263 r=2.6 /><circle cx=296 cy=627 r=2.6 /><circle cx=459 cy=342 r=2.6 /><circle cx=71 cy=230 r=2.6 /><circle cx=221 cy=401 r=2.6 /><circle cx=68 cy=317 r=2.6 /><circle cx=432 cy=306 r=2.6 /><circle cx=550 cy=306 r=2.6 /><circle cx=290 cy=583 r=2.6 /><circle cx=268 cy=539 r=2.6 /><circle cx=486 cy=308 r=2.6 /><circle cx=465 cy=304 r=2.6 /><circle cx=506 cy=330 r=2.6 /><circle cx=456 cy=446 r=2.6 /><circle cx=204 cy=348 r=2.6 /><circle cx=246 cy=257 r=2.6 /><circle cx=113 cy=236 r=2.6 /><circle cx=266 cy=254 r=2.6 /><circle cx=404 cy=273 r=2.6 /><circle cx=283 cy=571 r=2.6 /><circle cx=328 cy=259 r=2.6 /><circle cx=314 cy=191 r=2.6 /><circle cx=468 cy=301 r=2.6 /><circle cx=450 cy=401 r=2.6 /><circle cx=373 cy=162 r=2.6 /><circle cx=222 cy=342 r=2.6 /><circle cx=235 cy=445 r=2.6 /><circle cx=243 cy=237 r=2.6 /><circle cx=534 cy=343 r=2.6 /><circle cx=285 cy=575 r=2.6 /><circle cx=470 cy=298 r=2.6 /><circle cx=214 cy=197 r=2.6 /><circle cx=465 cy=419 r=2.6 /><circle cx=226 cy=428 r=2.6 /><circle cx=457 cy=489 r=2.6 /><circle cx=91 cy=251 r=2.6 /><circle cx=322 cy=282 r=2.6 /><circle cx=260 cy=537 r=2.6 /><circle cx=209 cy=409 r=2.6 /><circle cx=535 cy=308 r=2.6 /><circle cx=203 cy=414 r=2.6 /><circle cx=553 cy=339 r=2.6 /><circle cx=82 cy=222 r=2.6 /><circle cx=245 cy=416 r=2.6 /><circle cx=456 cy=377 r=2.6 /><circle cx=450 cy=437 r=2.6 /><circle cx=280 cy=604 r=2.6 /><circle cx=236 cy=336 r=2.6 /><circle cx=445 cy=343 r=2.6 /><circle cx=533 cy=356 r=2.6 /><circle cx=218 cy=311 r=2.6 /><circle cx=462 cy=443 r=2.6 /><circle cx=312 cy=541 r=2.6 /><circle cx=316 cy=291 r=2.6 /><circle cx=72 cy=255 r=2.6 /><circle cx=471 cy=296 r=2.6 /><circle cx=484 cy=324 r=2.6 /><circle cx=245 cy=231 r=2.6 /><circle cx=535 cy=354 r=2.6 /><circle cx=453 cy=496 r=2.6 /><circle cx=471 cy=459 r=2.6 /><circle cx=439 cy=312 r=2.6 /><circle cx=308 cy=226 r=2.6 /><circle cx=276 cy=434 r=2.6 /><circle cx=233 cy=188 r=2.6 /><circle cx=348 cy=169 r=2.6 /><circle cx=408 cy=290 r=2.6 /><circle cx=303 cy=692 r=2.6 /><circle cx=444 cy=355 r=2.6 /><circle cx=67 cy=277 r=2.6 /><circle cx=334 cy=174 r=2.6 /><circle cx=316 cy=553 r=2.6 /><circle cx=276 cy=534 r=2.6 /><circle cx=243 cy=321 r=2.6 /><circle cx=313 cy=539 r=2.6 /><circle cx=191 cy=396 r=2.6 /><circle cx=308 cy=254 r=2.6 /><circle cx=498 cy=283 r=2.6 /><circle cx=241 cy=297 r=2.6 /><circle cx=226 cy=348 r=2.6 /><circle cx=490 cy=358 r=2.6 /><circle cx=434 cy=342 r=2.6 /><circle cx=440 cy=371 r=2.6 /><circle cx=459 cy=480 r=2.6 /><circle cx=322 cy=575 r=2.6 /><circle cx=305 cy=206 r=2.6 /><circle cx=314 cy=233 r=2.6 /><circle cx=248 cy=384 r=2.6 /><circle cx=447 cy=330 r=2.6 /><circle cx=304 cy=570 r=2.6 /><circle cx=465 cy=456 r=2.6 /><circle cx=258 cy=442 r=2.6 /><circle cx=467 cy=359 r=2.6 /><circle cx=121 cy=241 r=2.6 /><circle cx=301 cy=276 r=2.6 /><circle cx=236 cy=435 r=2.6 /><circle cx=286 cy=278 r=2.6 /><circle cx=328 cy=278 r=2.6 /><circle cx=271 cy=539 r=2.6 /><circle cx=501 cy=352 r=2.6 /><circle cx=535 cy=274 r=2.6 /><circle cx=461 cy=380 r=2.6 /><circle cx=469 cy=360 r=2.6 /><circle cx=229 cy=400 r=2.6 /><circle cx=493 cy=370 r=2.6 /><circle cx=514 cy=307 r=2.6 /><circle cx=305 cy=273 r=2.6 /><circle cx=306 cy=184 r=2.6 /><circle cx=462 cy=462 r=2.6 /><circle cx=277 cy=509 r=2.6 /><circle cx=555 cy=330 r=2.6 /><circle cx=481 cy=333 r=2.6 /><circle cx=57 cy=231 r=2.6 /><circle cx=507 cy=358 r=2.6 /><circle cx=229 cy=288 r=2.6 /><circle cx=469 cy=428 r=2.6 /><circle cx=480 cy=311 r=2.6 /><circle cx=417 cy=309 r=2.6 /><circle cx=296 cy=309 r=2.6 /><circle cx=352 cy=171 r=2.6 /><circle cx=321 cy=554 r=2.6 /><circle cx=472 cy=338 r=2.6 /><circle cx=335 cy=169 r=2.6 /><circle cx=539 cy=295 r=2.6 /><circle cx=443 cy=445 r=2.6 /><circle cx=430 cy=395 r=2.6 /><circle cx=347 cy=195 r=2.6 /><circle cx=199 cy=179 r=2.6 /><circle cx=205 cy=187 r=2.6 /><circle cx=312 cy=547 r=2.6 /><circle cx=458 cy=470 r=2.6 /><circle cx=455 cy=385 r=2.6 /><circle cx=306 cy=537 r=2.6 /><circle cx=295 cy=244 r=2.6 /><circle cx=267 cy=520 r=2.6 /><circle cx=351 cy=176 r=2.6 /><circle cx=82 cy=266 r=2.6 /><circle cx=273 cy=247 r=2.6 /><circle cx=435 cy=307 r=2.6 /><circle cx=326 cy=238 r=2.6 /><circle cx=274 cy=327 r=2.6 /><circle cx=257 cy=276 r=2.6 /><circle cx=533 cy=325 r=2.6 /><circle cx=231 cy=341 r=2.6 /><circle cx=314 cy=196 r=2.6 /><circle cx=447 cy=420 r=2.6 /><circle cx=473 cy=387 r=2.6 /><circle cx=274 cy=534 r=2.6 /><circle cx=306 cy=252 r=2.6 /><circle cx=465 cy=488 r=2.6 /><circle cx=248 cy=404 r=2.6 /><circle cx=252 cy=396 r=2.6 /><circle cx=483 cy=313 r=2.6 /><circle cx=229 cy=453 r=2.6 /><circle cx=454 cy=370 r=2.6 /><circle cx=218 cy=442 r=2.6 /><circle cx=266 cy=331 r=2.6 /><circle cx=499 cy=383 r=2.6 /><circle cx=367 cy=167 r=2.6 /><circle cx=360 cy=169 r=2.6 /><circle cx=536 cy=319 r=2.6 /><circle cx=485 cy=459 r=2.6 /><circle cx=353 cy=204 r=2.6 /><circle cx=519 cy=283 r=2.6 /><circle cx=211 cy=406 r=2.6 /><circle cx=471 cy=352 r=2.6 /><circle cx=288 cy=231 r=2.6 /><circle cx=302 cy=198 r=2.6 /><circle cx=254 cy=251 r=2.6 /><circle cx=240 cy=396 r=2.6 /><circle cx=477 cy=454 r=2.6 /><circle cx=284 cy=607 r=2.6 /><circle cx=286 cy=286 r=2.6 /><circle cx=453 cy=359 r=2.6 /><circle cx=471 cy=315 r=2.6 /><circle cx=341 cy=203 r=2.6 /><circle cx=463 cy=473 r=2.6 /><circle cx=267 cy=488 r=2.6 /><circle cx=475 cy=470 r=2.6 /><circle cx=305 cy=223 r=2.6 /><circle cx=297 cy=566 r=2.6 /><circle cx=333 cy=546 r=2.6 /><circle cx=238 cy=209 r=2.6 /><circle cx=303 cy=201 r=2.6 /><circle cx=280 cy=217 r=2.6 /><circle cx=320 cy=195 r=2.6 /><circle cx=264 cy=238 r=2.6 /><circle cx=547 cy=332 r=2.6 /><circle cx=281 cy=302 r=2.6 /><circle cx=69 cy=232 r=2.6 /><circle cx=310 cy=256 r=2.6 /><circle cx=466 cy=442 r=2.6 /><circle cx=229 cy=335 r=2.6 /><circle cx=478 cy=301 r=2.6 /><circle cx=433 cy=361 r=2.6 /><circle cx=320 cy=191 r=2.6 /><circle cx=283 cy=323 r=2.6 /><circle cx=111 cy=258 r=2.6 /><circle cx=217 cy=172 r=2.6 /><circle cx=95 cy=242 r=2.6 /><circle cx=297 cy=541 r=2.6 /><circle cx=513 cy=381 r=2.6 /><circle cx=554 cy=332 r=2.6 /><circle cx=471 cy=497 r=2.6 /><circle cx=103 cy=257 r=2.6 /><circle cx=454 cy=389 r=2.6 /><circle cx=344 cy=208 r=2.6 /><circle cx=525 cy=307 r=2.6 /><circle cx=454 cy=471 r=2.6 /><circle cx=69 cy=298 r=2.6 /><circle cx=318 cy=300 r=2.6 /><circle cx=297 cy=526 r=2.6 /><circle cx=473 cy=292 r=2.6 /><circle cx=258 cy=425 r=2.6 /><circle cx=325 cy=557 r=2.6 /><circle cx=550 cy=345 r=2.6 /><circle cx=195 cy=367 r=2.6 /><circle cx=327 cy=248 r=2.6 /><circle cx=561 cy=308 r=2.6 /><circle cx=470 cy=431 r=2.6 /><circle cx=223 cy=347 r=2.6 /><circle cx=242 cy=451 r=2.6 /><circle cx=195 cy=395 r=2.6 /><circle cx=217 cy=343 r=2.6 /><circle cx=457 cy=432 r=2.6 /><circle cx=256 cy=535 r=2.6 /><circle cx=318 cy=213 r=2.6 /><circle cx=294 cy=248 r=2.6 /><circle cx=448 cy=368 r=2.6 /><circle cx=308 cy=285 r=2.6 /><circle cx=510 cy=360 r=2.6 /><circle cx=291 cy=292 r=2.6 /><circle cx=335 cy=184 r=2.6 /><circle cx=292 cy=219 r=2.6 /><circle cx=343 cy=149 r=2.6 /><circle cx=280 cy=519 r=2.6 /><circle cx=286 cy=275 r=2.6 /><circle cx=232 cy=337 r=2.6 /><circle cx=87 cy=230 r=2.6 /><circle cx=368 cy=162 r=2.6 /><circle cx=225 cy=304 r=2.6 /><circle cx=224 cy=307 r=2.6 /><circle cx=424 cy=318 r=2.6 /><circle cx=230 cy=304 r=2.6 /><circle cx=320 cy=561 r=2.6 /><circle cx=466 cy=423 r=2.6 /><circle cx=447 cy=391 r=2.6 /><circle cx=551 cy=279 r=2.6 /><circle cx=360 cy=195 r=2.6 /><circle cx=559 cy=315 r=2.6 /><circle cx=541 cy=306 r=2.6 /><circle cx=454 cy=479 r=2.6 /><circle cx=544 cy=315 r=2.6 /><circle cx=66 cy=270 r=2.6 /><circle cx=105 cy=254 r=2.6 /><circle cx=478 cy=339 r=2.6 /><circle cx=225 cy=349 r=2.6 /><circle cx=258 cy=411 r=2.6 /><circle cx=415 cy=293 r=2.6 /><circle cx=311 cy=576 r=2.6 /><circle cx=328 cy=576 r=2.6 /><circle cx=75 cy=317 r=2.6 /><circle cx=111 cy=254 r=2.6 /><circle cx=365 cy=187 r=2.6 /><circle cx=490 cy=386 r=2.6 /><circle cx=364 cy=166 r=2.6 /><circle cx=223 cy=181 r=2.6 /><circle cx=263 cy=320 r=2.6 /><circle cx=517 cy=371 r=2.6 /><circle cx=87 cy=289 r=2.6 /><circle cx=266 cy=229 r=2.6 /><circle cx=309 cy=148 r=2.6 /><circle cx=258 cy=284 r=2.6 /><circle cx=311 cy=300 r=2.6 /><circle cx=226 cy=331 r=2.6 /><circle cx=450 cy=389 r=2.6 /><circle cx=250 cy=391 r=2.6 /><circle cx=511 cy=286 r=2.6 /><circle cx=425 cy=367 r=2.6 /><circle cx=521 cy=284 r=2.6 /><circle cx=566 cy=304 r=2.6 /><circle cx=118 cy=242 r=2.6 /><circle cx=251 cy=328 r=2.6 /><circle cx=538 cy=308 r=2.6 /><circle cx=267 cy=432 r=2.6 /><circle cx=245 cy=407 r=2.6 /><circle cx=225 cy=415 r=2.6 /><circle cx=443 cy=382 r=2.6 /><circle cx=349 cy=143 r=2.6 /><circle cx=559 cy=299 r=2.6 /><circle cx=250 cy=274 r=2.6 /><circle cx=458 cy=476 r=2.6 /><circle cx=193 cy=386 r=2.6 /><circle cx=447 cy=330 r=2.6 /><circle cx=497 cy=380 r=2.6 /><circle cx=318 cy=577 r=2.6 /><circle cx=299 cy=537 r=2.6 /><circle cx=266 cy=486 r=2.6 /><circle cx=486 cy=376 r=2.6 /><circle cx=319 cy=296 r=2.6 /><circle cx=491 cy=343 r=2.6 /><circle cx=371 cy=169 r=2.6 /><circle cx=243 cy=236 r=2.6 /><circle cx=315 cy=212 r=2.6 /><circle cx=254 cy=309 r=2.6 /><circle cx=448 cy=462 r=2.6 /><circle cx=541 cy=330 r=2.6 /><circle cx=228 cy=204 r=2.6 /><circle cx=344 cy=179 r=2.6 /><circle cx=308 cy=689 r=2.6 /><circle cx=557 cy=288 r=2.6 /><circle cx=232 cy=384 r=2.6 /><circle cx=447 cy=454 r=2.6 /><circle cx=258 cy=461 r=2.6 /><circle cx=279 cy=244 r=2.6 /><circle cx=521 cy=313 r=2.6 /><circle cx=550 cy=310 r=2.6 /><circle cx=77 cy=228 r=2.6 /><circle cx=462 cy=310 r=2.6 /><circle cx=281 cy=289 r=2.6 /><circle cx=356 cy=423 r=2.6 /><circle cx=202 cy=375 r=2.6 /><circle cx=417 cy=301 r=2.6 /><circle cx=337 cy=162 r=2.6 /><circle cx=492 cy=346 r=2.6 /><circle cx=250 cy=404 r=2.6 /><circle cx=270 cy=548 r=2.6 /><circle cx=331 cy=547 r=2.6 /><circle cx=308 cy=588 r=2.6 /><circle cx=424 cy=365 r=2.6 /><circle cx=264 cy=478 r=2.6 /><circle cx=233 cy=422 r=2.6 /><circle cx=251 cy=465 r=2.6 /><circle cx=488 cy=354 r=2.6 /><circle cx=541 cy=293 r=2.6 /><circle cx=240 cy=434 r=2.6 /><circle cx=236 cy=410 r=2.6 /><circle cx=437 cy=309 r=2.6 /><circle cx=220 cy=352 r=2.6 /><circle cx=290 cy=276 r=2.6 /><circle cx=293 cy=291 r=2.6 /><circle cx=247 cy=228 r=2.6 /><circle cx=292 cy=556 r=2.6 /><circle cx=258 cy=533 r=2.6 /><circle cx=545 cy=291 r=2.6 /><circle cx=541 cy=319 r=2.6 /><circle cx=245 cy=389 r=2.6 /><circle cx=198 cy=187 r=2.6 /><circle cx=308 cy=256 r=2.6 /><circle cx=209 cy=198 r=2.6 /><circle cx=81 cy=299 r=2.6 /><circle cx=497 cy=320 r=2.6 /><circle cx=252 cy=450 r=2.6 /><circle cx=307 cy=306 r=2.6 /><circle cx=243 cy=270 r=2.6 /><circle cx=76 cy=249 r=2.6 /><circle cx=481 cy=329 r=2.6 /><circle cx=485 cy=399 r=2.6 /><circle cx=443 cy=377 r=2.6 /><circle cx=278 cy=275 r=2.6 /><circle cx=209 cy=364 r=2.6 /><circle cx=328 cy=240 r=2.6 /><circle cx=500 cy=321 r=2.6 /><circle cx=306 cy=549 r=2.6 /><circle cx=284 cy=546 r=2.6 /><circle cx=200 cy=352 r=2.6 /><circle cx=288 cy=560 r=2.6 /><circle cx=240 cy=422 r=2.6 /><circle cx=444 cy=349 r=2.6 /><circle cx=487 cy=311 r=2.6 /><circle cx=479 cy=369 r=2.6 /><circle cx=454 cy=424 r=2.6 /><circle cx=252 cy=253 r=2.6 /><circle cx=264 cy=432 r=2.6 /><circle cx=299 cy=581 r=2.6 /><circle cx=266 cy=279 r=2.6 /><circle cx=479 cy=289 r=2.6 /><circle cx=455 cy=487 r=2.6 /><circle cx=444 cy=423 r=2.6 /><circle cx=507 cy=276 r=2.6 /><circle cx=516 cy=299 r=2.6 /><circle cx=355 cy=165 r=2.6 /><circle cx=531 cy=360 r=2.6 /><circle cx=294 cy=560 r=2.6 /><circle cx=274 cy=566 r=2.6 /><circle cx=240 cy=379 r=2.6 /><circle cx=451 cy=391 r=2.6 /><circle cx=321 cy=159 r=2.6 /><circle cx=256 cy=431 r=2.6 /><circle cx=516 cy=349 r=2.6 /><circle cx=448 cy=445 r=2.6 /><circle cx=245 cy=460 r=2.6 /><circle cx=58 cy=234 r=2.6 /><circle cx=240 cy=324 r=2.6 /><circle cx=248 cy=434 r=2.6 /><circle cx=280 cy=523 r=2.6 /><circle cx=84 cy=300 r=2.6 /><circle cx=467 cy=448 r=2.6 /><circle cx=491 cy=374 r=2.6 /><circle cx=265 cy=356 r=2.6 /><circle cx=254 cy=359 r=2.6 /><circle cx=266 cy=245 r=2.6 /><circle cx=504 cy=346 r=2.6 /><circle cx=278 cy=247 r=2.6 /><circle cx=223 cy=192 r=2.6 /><circle cx=512 cy=283 r=2.6 /><circle cx=478 cy=461 r=2.6 /><circle cx=433 cy=334 r=2.6 /><circle cx=309 cy=579 r=2.6 /><circle cx=84 cy=265 r=2.6 /><circle cx=270 cy=573 r=2.6 /><circle cx=498 cy=330 r=2.6 /><circle cx=281 cy=565 r=2.6 /><circle cx=523 cy=335 r=2.6 /><circle cx=66 cy=294 r=2.6 /><circle cx=215 cy=201 r=2.6 /><circle cx=490 cy=305 r=2.6 /><circle cx=250 cy=399 r=2.6 /><circle cx=238 cy=341 r=2.6 /><circle cx=84 cy=282 r=2.6 /><circle cx=238 cy=294 r=2.6 /><circle cx=286 cy=615 r=2.6 /><circle cx=365 cy=176 r=2.6 /><circle cx=505 cy=374 r=2.6 /><circle cx=271 cy=504 r=2.6 /><circle cx=272 cy=245 r=2.6 /><circle cx=305 cy=288 r=2.6 /><circle cx=284 cy=285 r=2.6 /><circle cx=241 cy=372 r=2.6 /><circle cx=282 cy=283 r=2.6 /><circle cx=332 cy=208 r=2.6 /><circle cx=291 cy=528 r=2.6 /><circle cx=331 cy=216 r=2.6 /><circle cx=415 cy=296 r=2.6 /><circle cx=462 cy=360 r=2.6 /><circle cx=450 cy=338 r=2.6 /><circle cx=506 cy=382 r=2.6 /><circle cx=270 cy=499 r=2.6 /><circle cx=443 cy=338 r=2.6 /><circle cx=59 cy=302 r=2.6 /><circle cx=114 cy=239 r=2.6 /><circle cx=289 cy=585 r=2.6 /><circle cx=325 cy=213 r=2.6 /><circle cx=304 cy=251 r=2.6 /><circle cx=285 cy=529 r=2.6 /><circle cx=459 cy=425 r=2.6 /><circle cx=263 cy=282 r=2.6 /><circle cx=226 cy=385 r=2.6 /><circle cx=413 cy=281 r=2.6 /><circle cx=474 cy=382 r=2.6 /><circle cx=247 cy=356 r=2.6 /><circle cx=327 cy=228 r=2.6 /><circle cx=328 cy=542 r=2.6 /><circle cx=91 cy=266 r=2.6 /><circle cx=524 cy=371 r=2.6 /><circle cx=418 cy=269 r=2.6 /><circle cx=456 cy=373 r=2.6 /><circle cx=292 cy=613 r=2.6 /><circle cx=309 cy=554 r=2.6 /><circle cx=254 cy=420 r=2.6 /><circle cx=255 cy=440 r=2.6 /><circle cx=510 cy=289 r=2.6 /><circle cx=300 cy=226 r=2.6 /><circle cx=468 cy=355 r=2.6 /><circle cx=478 cy=332 r=2.6 /><circle cx=312 cy=248 r=2.6 /><circle cx=256 cy=524 r=2.6 /><circle cx=294 cy=586 r=2.6 /><circle cx=232 cy=183 r=2.6 /><circle cx=271 cy=237 r=2.6 /><circle cx=84 cy=239 r=2.6 /><circle cx=73 cy=221 r=2.6 /><circle cx=501 cy=293 r=2.6 /><circle cx=274 cy=539 r=2.6 /><circle cx=78 cy=313 r=2.6 /><circle cx=68 cy=260 r=2.6 /><circle cx=483 cy=358 r=2.6 /><circle cx=501 cy=327 r=2.6 /><circle cx=299 cy=273 r=2.6 /><circle cx=207 cy=398 r=2.6 /><circle cx=249 cy=372 r=2.6 /><circle cx=249 cy=432 r=2.6 /><circle cx=236 cy=398 r=2.6 /><circle cx=458 cy=441 r=2.6 /><circle cx=529 cy=301 r=2.6 /><circle cx=540 cy=335 r=2.6 /><circle cx=549 cy=296 r=2.6 /><circle cx=259 cy=348 r=2.6 /><circle cx=529 cy=367 r=2.6 /><circle cx=553 cy=302 r=2.6 /><circle cx=301 cy=556 r=2.6 /><circle cx=544 cy=348 r=2.6 /><circle cx=310 cy=563 r=2.6 /><circle cx=498 cy=311 r=2.6 /><circle cx=203 cy=192 r=2.6 /><circle cx=314 cy=154 r=2.6 /><circle cx=533 cy=308 r=2.6 /><circle cx=285 cy=548 r=2.6 /><circle cx=262 cy=525 r=2.6 /><circle cx=65 cy=254 r=2.6 /><circle cx=472 cy=308 r=2.6 /><circle cx=559 cy=285 r=2.6 /><circle cx=261 cy=329 r=2.6 /><circle cx=212 cy=391 r=2.6 /><circle cx=544 cy=342 r=2.6 /><circle cx=235 cy=276 r=2.6 /><circle cx=374 cy=177 r=2.6 /><circle cx=542 cy=288 r=2.6 /><circle cx=526 cy=273 r=2.6 /><circle cx=270 cy=248 r=2.6 /><circle cx=232 cy=407 r=2.6 /><circle cx=304 cy=520 r=2.6 /><circle cx=216 cy=187 r=2.6 /><circle cx=242 cy=307 r=2.6 /><circle cx=474 cy=378 r=2.6 /><circle cx=563 cy=286 r=2.6 /><circle cx=469 cy=343 r=2.6 /><circle cx=304 cy=549 r=2.6 /><circle cx=280 cy=314 r=2.6 /><circle cx=266 cy=577 r=2.6 /><circle cx=541 cy=350 r=2.6 /><circle cx=293 cy=256 r=2.6 /><circle cx=87 cy=301 r=2.6 /><circle cx=312 cy=203 r=2.6 /><circle cx=461 cy=505 r=2.6 /><circle cx=532 cy=380 r=2.6 /><circle cx=221 cy=408 r=2.6 /><circle cx=117 cy=264 r=2.6 /><circle cx=553 cy=271 r=2.6 /><circle cx=234 cy=395 r=2.6 /><circle cx=523 cy=322 r=2.6 /><circle cx=530 cy=342 r=2.6 /><circle cx=91 cy=291 r=2.6 /><circle cx=474 cy=390 r=2.6 /><circle cx=262 cy=322 r=2.6 /><circle cx=552 cy=336 r=2.6 /><circle cx=340 cy=155 r=2.6 /><circle cx=440 cy=347 r=2.6 /><circle cx=269 cy=441 r=2.6 /><circle cx=91 cy=280 r=2.6 /><circle cx=301 cy=217 r=2.6 /><circle cx=434 cy=371 r=2.6 /><circle cx=289 cy=562 r=2.6 /><circle cx=239 cy=338 r=2.6 /><circle cx=203 cy=395 r=2.6 /><circle cx=500 cy=361 r=2.6 /><circle cx=73 cy=282 r=2.6 /><circle cx=242 cy=256 r=2.6 /><circle cx=454 cy=330 r=2.6 /><circle cx=216 cy=441 r=2.6 /><circle cx=274 cy=229 r=2.6 /><circle cx=55 cy=313 r=2.6 /><circle cx=91 cy=245 r=2.6 /><circle cx=522 cy=343 r=2.6 /><circle cx=447 cy=336 r=2.6 /><circle cx=260 cy=306 r=2.6 /><circle cx=218 cy=447 r=2.6 /><circle cx=461 cy=432 r=2.6 /><circle cx=117 cy=252 r=2.6 /><circle cx=313 cy=186 r=2.6 /><circle cx=564 cy=300 r=2.6 /><circle cx=250 cy=344 r=2.6 /><circle cx=209 cy=356 r=2.6 /><circle cx=516 cy=330 r=2.6 /><circle cx=66 cy=316 r=2.6 /><circle cx=280 cy=304 r=2.6 /><circle cx=281 cy=310 r=2.6 /><circle cx=224 cy=439 r=2.6 /><circle cx=249 cy=351 r=2.6 /><circle cx=305 cy=584 r=2.6 /><circle cx=211 cy=322 r=2.6 /><circle cx=75 cy=240 r=2.6 /><circle cx=290 cy=558 r=2.6 /><circle cx=251 cy=287 r=2.6 /><circle cx=523 cy=285 r=2.6 /><circle cx=476 cy=481 r=2.6 /><circle cx=268 cy=424 r=2.6 /><circle cx=81 cy=292 r=2.6 /><circle cx=239 cy=237 r=2.6 /><circle cx=274 cy=303 r=2.6 /><circle cx=466 cy=486 r=2.6 /><circle cx=426 cy=316 r=2.6 /><circle cx=430 cy=327 r=2.6 /><circle cx=266 cy=559 r=2.6 /><circle cx=501 cy=370 r=2.6 /><circle cx=262 cy=560 r=2.6 /><circle cx=411 cy=280 r=2.6 /><circle cx=206 cy=361 r=2.6 /><circle cx=267 cy=358 r=2.6 /><circle cx=493 cy=329 r=2.6 /><circle cx=260 cy=295 r=2.6 /><circle cx=525 cy=364 r=2.6 /><circle cx=417 cy=281 r=2.6 /><circle cx=263 cy=523 r=2.6 /><circle cx=236 cy=231 r=2.6 /><circle cx=242 cy=235 r=2.6 /><circle cx=82 cy=261 r=2.6 /><circle cx=298 cy=284 r=2.6 /><circle cx=466 cy=430 r=2.6 /><circle cx=567 cy=301 r=2.6 /><circle cx=241 cy=354 r=2.6 /><circle cx=548 cy=322 r=2.6 /><circle cx=249 cy=439 r=2.6 /><circle cx=497 cy=360 r=2.6 /><circle cx=64 cy=303 r=2.6 /><circle cx=454 cy=502 r=2.6 /><circle cx=268 cy=420 r=2.6 /><circle cx=328 cy=213 r=2.6 /><circle cx=339 cy=174 r=2.6 /><circle cx=350 cy=200 r=2.6 /><circle cx=485 cy=389 r=2.6 /><circle cx=220 cy=281 r=2.6 /><circle cx=259 cy=416 r=2.6 /><circle cx=246 cy=449 r=2.6 /><circle cx=261 cy=519 r=2.6 /><circle cx=308 cy=273 r=2.6 /><circle cx=296 cy=206 r=2.6 /><circle cx=297 cy=564 r=2.6 /><circle cx=266 cy=272 r=2.6 /><circle cx=66 cy=238 r=2.6 /><circle cx=464 cy=389 r=2.6 /><circle cx=276 cy=560 r=2.6 /><circle cx=241 cy=342 r=2.6 /><circle cx=202 cy=354 r=2.6 /><circle cx=514 cy=313 r=2.6 /><circle cx=285 cy=558 r=2.6 /><circle cx=476 cy=437 r=2.6 /><circle cx=508 cy=355 r=2.6 /><circle cx=525 cy=269 r=2.6 /><circle cx=543 cy=327 r=2.6 /><circle cx=432 cy=300 r=2.6 /><circle cx=230 cy=399 r=2.6 /><circle cx=411 cy=275 r=2.6 /><circle cx=465 cy=318 r=2.6 /><circle cx=236 cy=272 r=2.6 /><circle cx=352 cy=178 r=2.6 /><circle cx=311 cy=169 r=2.6 /><circle cx=330 cy=170 r=2.6 /><circle cx=545 cy=354 r=2.6 /><circle cx=235 cy=426 r=2.6 /><circle cx=242 cy=282 r=2.6 /><circle cx=310 cy=195 r=2.6 /><circle cx=470 cy=317 r=2.6 /><circle cx=116 cy=242 r=2.6 /><circle cx=415 cy=265 r=2.6 /><circle cx=260 cy=532 r=2.6 /><circle cx=472 cy=320 r=2.6 /><circle cx=464 cy=382 r=2.6 /><circle cx=312 cy=235 r=2.6 /><circle cx=334 cy=165 r=2.6 /><circle cx=254 cy=404 r=2.6 /><circle cx=374 cy=166 r=2.6 /><circle cx=540 cy=281 r=2.6 /><circle cx=560 cy=301 r=2.6 /><circle cx=77 cy=296 r=2.6 /><circle cx=77 cy=275 r=2.6 /><circle cx=258 cy=519 r=2.6 /><circle cx=57 cy=257 r=2.6 /><circle cx=60 cy=267 r=2.6 /><circle cx=452 cy=474 r=2.6 /><circle cx=221 cy=420 r=2.6 /><circle cx=317 cy=287 r=2.6 /><circle cx=263 cy=325 r=2.6 /><circle cx=513 cy=342 r=2.6 /><circle cx=225 cy=423 r=2.6 /><circle cx=91 cy=271 r=2.6 /><circle cx=268 cy=494 r=2.6 /><circle cx=260 cy=327 r=2.6 /><circle cx=522 cy=340 r=2.6 /><circle cx=287 cy=603 r=2.6 /><circle cx=483 cy=292 r=2.6 /><circle cx=475 cy=402 r=2.6 /><circle cx=336 cy=143 r=2.6 /><circle cx=240 cy=240 r=2.6 /><circle cx=208 cy=424 r=2.6 /><circle cx=209 cy=377 r=2.6 /><circle cx=299 cy=599 r=2.6 /><circle cx=371 cy=180 r=2.6 /><circle cx=226 cy=426 r=2.6 /><circle cx=480 cy=317 r=2.6 /><circle cx=505 cy=291 r=2.6 /><circle cx=238 cy=232 r=2.6 /><circle cx=309 cy=216 r=2.6 /><circle cx=431 cy=315 r=2.6 /><circle cx=278 cy=253 r=2.6 /><circle cx=122 cy=246 r=2.6 /><circle cx=458 cy=473 r=2.6 /><circle cx=252 cy=314 r=2.6 /><circle cx=93 cy=276 r=2.6 /><circle cx=91 cy=283 r=2.6 /><circle cx=72 cy=324 r=2.6 /><circle cx=239 cy=273 r=2.6 /><circle cx=467 cy=337 r=2.6 /><circle cx=244 cy=292 r=2.6 /><circle cx=193 cy=379 r=2.6 /><circle cx=461 cy=396 r=2.6 /><circle cx=440 cy=464 r=2.6 /><circle cx=244 cy=305 r=2.6 /><circle cx=197 cy=403 r=2.6 /><circle cx=320 cy=210 r=2.6 /><circle cx=297 cy=292 r=2.6 /><circle cx=443 cy=363 r=2.6 /><circle cx=256 cy=538 r=2.6 /><circle cx=305 cy=303 r=2.6 /><circle cx=288 cy=242 r=2.6 /><circle cx=273 cy=328 r=2.6 /><circle cx=64 cy=238 r=2.6 /><circle cx=195 cy=362 r=2.6 /><circle cx=90 cy=254 r=2.6 /><circle cx=418 cy=306 r=2.6 /><circle cx=542 cy=369 r=2.6 /><circle cx=522 cy=304 r=2.6 /><circle cx=424 cy=308 r=2.6 /><circle cx=222 cy=450 r=2.6 /><circle cx=500 cy=287 r=2.6 /><circle cx=507 cy=297 r=2.6 /><circle cx=308 cy=173 r=2.6 /><circle cx=542 cy=321 r=2.6 /><circle cx=533 cy=338 r=2.6 /><circle cx=232 cy=273 r=2.6 /><circle cx=296 cy=275 r=2.6 /><circle cx=272 cy=326 r=2.6 /><circle cx=302 cy=303 r=2.6 /><circle cx=506 cy=288 r=2.6 /><circle cx=260 cy=328 r=2.6 /><circle cx=358 cy=190 r=2.6 /><circle cx=276 cy=582 r=2.6 /><circle cx=310 cy=269 r=2.6 /><circle cx=436 cy=399 r=2.6 /><circle cx=499 cy=280 r=2.6 /><circle cx=349 cy=197 r=2.6 /><circle cx=437 cy=443 r=2.6 /><circle cx=490 cy=326 r=2.6 /><circle cx=211 cy=355 r=2.6 /><circle cx=310 cy=181 r=2.6 /><circle cx=297 cy=537 r=2.6 /><circle cx=249 cy=379 r=2.6 /><circle cx=238 cy=394 r=2.6 /><circle cx=452 cy=498 r=2.6 /><circle cx=261 cy=417 r=2.6 /><circle cx=448 cy=324 r=2.6 /><circle cx=215 cy=434 r=2.6 /><circle cx=316 cy=252 r=2.6 /><circle cx=452 cy=342 r=2.6 /><circle cx=458 cy=396 r=2.6 /><circle cx=461 cy=352 r=2.6 /><circle cx=258 cy=272 r=2.6 /><circle cx=468 cy=353 r=2.6 /><circle cx=335 cy=146 r=2.6 /><circle cx=322 cy=254 r=2.6 /><circle cx=279 cy=233 r=2.6 /><circle cx=496 cy=370 r=2.6 /><circle cx=70 cy=226 r=2.6 /><circle cx=310 cy=232 r=2.6 /><circle cx=415 cy=299 r=2.6 /><circle cx=249 cy=256 r=2.6 /><circle cx=265 cy=441 r=2.6 /><circle cx=537 cy=343 r=2.6 /><circle cx=313 cy=691 r=2.6 /><circle cx=211 cy=303 r=2.6 /><circle cx=254 cy=408 r=2.6 /><circle cx=301 cy=547 r=2.6 /><circle cx=497 cy=290 r=2.6 /><circle cx=207 cy=394 r=2.6 /><circle cx=293 cy=239 r=2.6 /><circle cx=245 cy=277 r=2.6 /><circle cx=474 cy=414 r=2.6 /><circle cx=450 cy=381 r=2.6 /><circle cx=252 cy=325 r=2.6 /><circle cx=265 cy=434 r=2.6 /><circle cx=300 cy=589 r=2.6 /><circle cx=235 cy=450 r=2.6 /><circle cx=200 cy=383 r=2.6 /><circle cx=497 cy=333 r=2.6 /><circle cx=282 cy=627 r=2.6 /><circle cx=260 cy=335 r=2.6 /><circle cx=305 cy=240 r=2.6 /><circle cx=234 cy=369 r=2.6 /><circle cx=295 cy=620 r=2.6 /><circle cx=438 cy=418 r=2.6 /><circle cx=218 cy=417 r=2.6 /><circle cx=240 cy=304 r=2.6 /><circle cx=296 cy=549 r=2.6 /><circle cx=462 cy=304 r=2.6 /><circle cx=298 cy=217 r=2.6 /><circle cx=473 cy=305 r=2.6 /><circle cx=353 cy=154 r=2.6 /><circle cx=231 cy=285 r=2.6 /><circle cx=310 cy=248 r=2.6 /><circle cx=234 cy=366 r=2.6 /><circle cx=222 cy=358 r=2.6 /><circle cx=524 cy=278 r=2.6 /><circle cx=554 cy=311 r=2.6 /><circle cx=246 cy=381 r=2.6 /><circle cx=95 cy=283 r=2.6 /><circle cx=461 cy=468 r=2.6 /><circle cx=332 cy=143 r=2.6 /><circle cx=87 cy=311 r=2.6 /><circle cx=304 cy=230 r=2.6 /><circle cx=97 cy=242 r=2.6 /><circle cx=326 cy=564 r=2.6 /><circle cx=310 cy=212 r=2.6 /><circle cx=549 cy=313 r=2.6 /><circle cx=243 cy=350 r=2.6 /><circle cx=262 cy=472 r=2.6 /><circle cx=475 cy=396 r=2.6 /><circle cx=310 cy=207 r=2.6 /><circle cx=461 cy=498 r=2.6 /><circle cx=539 cy=325 r=2.6 /><circle cx=211 cy=315 r=2.6 /><circle cx=194 cy=370 r=2.6 /><circle cx=243 cy=231 r=2.6 /><circle cx=354 cy=181 r=2.6 /><circle cx=268 cy=308 r=2.6 /><circle cx=444 cy=441 r=2.6 /><circle cx=431 cy=389 r=2.6 /><circle cx=457 cy=427 r=2.6 /><circle cx=301 cy=267 r=2.6 /><circle cx=459 cy=360 r=2.6 /><circle cx=281 cy=314 r=2.6 /><circle cx=351 cy=151 r=2.6 /><circle cx=501 cy=330 r=2.6 /><circle cx=348 cy=160 r=2.6 /><circle cx=476 cy=310 r=2.6 /><circle cx=243 cy=462 r=2.6 /><circle cx=532 cy=300 r=2.6 /><circle cx=269 cy=569 r=2.6 /><circle cx=538 cy=286 r=2.6 /><circle cx=469 cy=405 r=2.6 /><circle cx=522 cy=307 r=2.6 /><circle cx=445 cy=392 r=2.6 /><circle cx=190 cy=496 r=2.6 /><circle cx=508 cy=379 r=2.6 /><circle cx=252 cy=242 r=2.6 /><circle cx=512 cy=354 r=2.6 /><circle cx=216 cy=376 r=2.6 /><circle cx=233 cy=362 r=2.6 /><circle cx=96 cy=233 r=2.6 /><circle cx=303 cy=576 r=2.6 /><circle cx=67 cy=314 r=2.6 /><circle cx=267 cy=232 r=2.6 /><circle cx=355 cy=188 r=2.6 /><circle cx=66 cy=230 r=2.6 /><circle cx=544 cy=276 r=2.6 /><circle cx=292 cy=282 r=2.6 /><circle cx=280 cy=597 r=2.6 /><circle cx=334 cy=560 r=2.6 /><circle cx=483 cy=294 r=2.6 /><circle cx=222 cy=301 r=2.6 /><circle cx=325 cy=206 r=2.6 /><circle cx=71 cy=316 r=2.6 /><circle cx=326 cy=203 r=2.6 /><circle cx=445 cy=463 r=2.6 /><circle cx=214 cy=389 r=2.6 /><circle cx=521 cy=296 r=2.6 /><circle cx=223 cy=436 r=2.6 /><circle cx=224 cy=395 r=2.6 /><circle cx=69 cy=304 r=2.6 /><circle cx=321 cy=580 r=2.6 /><circle cx=310 cy=279 r=2.6 /><circle cx=463 cy=407 r=2.6 /><circle cx=362 cy=151 r=2.6 /><circle cx=227 cy=282 r=2.6 /><circle cx=558 cy=304 r=2.6 /><circle cx=541 cy=355 r=2.6 /><circle cx=223 cy=282 r=2.6 /><circle cx=287 cy=229 r=2.6 /><circle cx=63 cy=316 r=2.6 /><circle cx=508 cy=367 r=2.6 /><circle cx=225 cy=444 r=2.6 /><circle cx=303 cy=184 r=2.6 /><circle cx=81 cy=279 r=2.6 /><circle cx=277 cy=224 r=2.6 /><circle cx=459 cy=353 r=2.6 /><circle cx=465 cy=494 r=2.6 /><circle cx=215 cy=372 r=2.6 /><circle cx=238 cy=357 r=2.6 /><circle cx=519 cy=295 r=2.6 /><circle cx=530 cy=299 r=2.6 /><circle cx=256 cy=306 r=2.6 /><circle cx=501 cy=377 r=2.6 /><circle cx=211 cy=421 r=2.6 /><circle cx=220 cy=297 r=2.6 /><circle cx=226 cy=290 r=2.6 /><circle cx=267 cy=414 r=2.6 /><circle cx=459 cy=312 r=2.6 /><circle cx=216 cy=406 r=2.6 /><circle cx=321 cy=291 r=2.6 /><circle cx=285 cy=535 r=2.6 /><circle cx=319 cy=573 r=2.6 /><circle cx=286 cy=307 r=2.6 /><circle cx=265 cy=480 r=2.6 /><circle cx=506 cy=336 r=2.6 /><circle cx=497 cy=291 r=2.6 /><circle cx=456 cy=414 r=2.6 /><circle cx=514 cy=364 r=2.6 /><circle cx=510 cy=333 r=2.6 /><circle cx=265 cy=483 r=2.6 /><circle cx=357 cy=411 r=2.6 /><circle cx=425 cy=294 r=2.6 /><circle cx=229 cy=373 r=2.6 /><circle cx=543 cy=345 r=2.6 /><circle cx=83 cy=254 r=2.6 /><circle cx=221 cy=432 r=2.6 /><circle cx=484 cy=310 r=2.6 /><circle cx=110 cy=238 r=2.6 /><circle cx=536 cy=300 r=2.6 /><circle cx=471 cy=394 r=2.6 /><circle cx=273 cy=428 r=2.6 /><circle cx=270 cy=502 r=2.6 /><circle cx=479 cy=364 r=2.6 /><circle cx=445 cy=346 r=2.6 /><circle cx=336 cy=564 r=2.6 /><circle cx=486 cy=340 r=2.6 /><circle cx=238 cy=306 r=2.6 /><circle cx=454 cy=332 r=2.6 /><circle cx=249 cy=251 r=2.6 /><circle cx=478 cy=357 r=2.6 /><circle cx=459 cy=319 r=2.6 /><circle cx=349 cy=191 r=2.6 /><circle cx=467 cy=472 r=2.6 /><circle cx=490 cy=296 r=2.6 /><circle cx=107 cy=254 r=2.6 /><circle cx=519 cy=297 r=2.6 /><circle cx=508 cy=305 r=2.6 /><circle cx=208 cy=404 r=2.6 /><circle cx=208 cy=182 r=2.6 /><circle cx=501 cy=279 r=2.6 /><circle cx=271 cy=564 r=2.6 /><circle cx=97 cy=238 r=2.6 /><circle cx=355 cy=197 r=2.6 /><circle cx=222 cy=198 r=2.6 /><circle cx=110 cy=263 r=2.6 /><circle cx=521 cy=383 r=2.6 /><circle cx=243 cy=284 r=2.6 /><circle cx=284 cy=297 r=2.6 /><circle cx=485 cy=345 r=2.6 /><circle cx=297 cy=545 r=2.6 /><circle cx=470 cy=467 r=2.6 /><circle cx=194 cy=400 r=2.6 /><circle cx=307 cy=260 r=2.6 /><circle cx=209 cy=425 r=2.6 /><circle cx=562 cy=292 r=2.6 /><circle cx=272 cy=585 r=2.6 /><circle cx=289 cy=258 r=2.6 /><circle cx=225 cy=407 r=2.6 /><circle cx=375 cy=187 r=2.6 /><circle cx=310 cy=538 r=2.6 /><circle cx=274 cy=241 r=2.6 /><circle cx=474 cy=453 r=2.6 /><circle cx=269 cy=291 r=2.6 /><circle cx=250 cy=378 r=2.6 /><circle cx=538 cy=280 r=2.6 /><circle cx=505 cy=286 r=2.6 /><circle cx=339 cy=564 r=2.6 /><circle cx=302 cy=573 r=2.6 /><circle cx=489 cy=302 r=2.6 /><circle cx=518 cy=326 r=2.6 /><circle cx=344 cy=209 r=2.6 /><circle cx=472 cy=437 r=2.6 /><circle cx=70 cy=282 r=2.6 /><circle cx=453 cy=314 r=2.6 /><circle cx=113 cy=246 r=2.6 /><circle cx=251 cy=397 r=2.6 /><circle cx=283 cy=622 r=2.6 /><circle cx=222 cy=203 r=2.6 /><circle cx=67 cy=268 r=2.6 /><circle cx=326 cy=150 r=2.6 /><circle cx=275 cy=350 r=2.6 /><circle cx=542 cy=310 r=2.6 /><circle cx=475 cy=399 r=2.6 /><circle cx=530 cy=311 r=2.6 /><circle cx=240 cy=245 r=2.6 /><circle cx=362 cy=176 r=2.6 /><circle cx=209 cy=342 r=2.6 /><circle cx=490 cy=381 r=2.6 /><circle cx=104 cy=245 r=2.6 /><circle cx=367 cy=191 r=2.6 /><circle cx=70 cy=244 r=2.6 /><circle cx=283 cy=628 r=2.6 /><circle cx=528 cy=372 r=2.6 /><circle cx=325 cy=182 r=2.6 /><circle cx=303 cy=188 r=2.6 /><circle cx=236 cy=226 r=2.6 /><circle cx=277 cy=266 r=2.6 /><circle cx=307 cy=295 r=2.6 /><circle cx=65 cy=235 r=2.6 /><circle cx=224 cy=288 r=2.6 /><circle cx=269 cy=580 r=2.6 /><circle cx=529 cy=295 r=2.6 /><circle cx=508 cy=317 r=2.6 /><circle cx=180 cy=479 r=2.6 /><circle cx=450 cy=332 r=2.6 /><circle cx=528 cy=329 r=2.6 /><circle cx=339 cy=545 r=2.6 /><circle cx=453 cy=427 r=2.6 /><circle cx=492 cy=320 r=2.6 /><circle cx=425 cy=322 r=2.6 /><circle cx=469 cy=445 r=2.6 /><circle cx=321 cy=251 r=2.6 /><circle cx=79 cy=267 r=2.6 /><circle cx=252 cy=425 r=2.6 /><circle cx=280 cy=221 r=2.6 /><circle cx=372 cy=174 r=2.6 /><circle cx=330 cy=247 r=2.6 /><circle cx=266 cy=550 r=2.6 /><circle cx=217 cy=275 r=2.6 /><circle cx=495 cy=293 r=2.6 /><circle cx=259 cy=244 r=2.6 /><circle cx=322 cy=207 r=2.6 /><circle cx=266 cy=284 r=2.6 /><circle cx=518 cy=276 r=2.6 /><circle cx=228 cy=383 r=2.6 /><circle cx=526 cy=313 r=2.6 /><circle cx=424 cy=314 r=2.6 /><circle cx=220 cy=394 r=2.6 /><circle cx=282 cy=270 r=2.6 /><circle cx=260 cy=275 r=2.6 /><circle cx=233 cy=199 r=2.6 /><circle cx=220 cy=422 r=2.6 /><circle cx=227 cy=309 r=2.6 /><circle cx=451 cy=412 r=2.6 /><circle cx=223 cy=313 r=2.6 /><circle cx=457 cy=352 r=2.6 /><circle cx=324 cy=257 r=2.6 /><circle cx=527 cy=297 r=2.6 /><circle cx=447 cy=488 r=2.6 /><circle cx=236 cy=460 r=2.6 /><circle cx=260 cy=545 r=2.6 /><circle cx=226 cy=175 r=2.6 /><circle cx=91 cy=288 r=2.6 /><circle cx=265 cy=424 r=2.6 /><circle cx=429 cy=363 r=2.6 /><circle cx=299 cy=222 r=2.6 /><circle cx=425 cy=275 r=2.6 /><circle cx=502 cy=286 r=2.6 /><circle cx=244 cy=328 r=2.6 /><circle cx=290 cy=281 r=2.6 /><circle cx=225 cy=419 r=2.6 /><circle cx=90 cy=304 r=2.6 /><circle cx=242 cy=385 r=2.6 /><circle cx=214 cy=294 r=2.6 /><circle cx=87 cy=245 r=2.6 /><circle cx=263 cy=475 r=2.6 /><circle cx=55 cy=312 r=2.6 /><circle cx=79 cy=316 r=2.6 /><circle cx=355 cy=173 r=2.6 /><circle cx=218 cy=392 r=2.6 /><circle cx=274 cy=289 r=2.6 /><circle cx=472 cy=349 r=2.6 /><circle cx=479 cy=348 r=2.6 /><circle cx=487 cy=313 r=2.6 /><circle cx=244 cy=272 r=2.6 /><circle cx=313 cy=146 r=2.6 /><circle cx=76 cy=285 r=2.6 /><circle cx=100 cy=275 r=2.6 /><circle cx=287 cy=609 r=2.6 /><circle cx=510 cy=369 r=2.6 /><circle cx=256 cy=447 r=2.6 /><circle cx=292 cy=209 r=2.6 /><circle cx=299 cy=268 r=2.6 /><circle cx=466 cy=377 r=2.6 /><circle cx=329 cy=201 r=2.6 /><circle cx=181 cy=492 r=2.6 /><circle cx=353 cy=147 r=2.6 /><circle cx=198 cy=355 r=2.6 /><circle cx=259 cy=456 r=2.6 /><circle cx=531 cy=286 r=2.6 /><circle cx=465 cy=320 r=2.6 /><circle cx=443 cy=433 r=2.6 /><circle cx=325 cy=539 r=2.6 /><circle cx=301 cy=285 r=2.6 /><circle cx=269 cy=532 r=2.6 /><circle cx=265 cy=323 r=2.6 /><circle cx=350 cy=171 r=2.6 /><circle cx=233 cy=417 r=2.6 /><circle cx=329 cy=223 r=2.6 /><circle cx=253 cy=400 r=2.6 /><circle cx=265 cy=270 r=2.6 /><circle cx=270 cy=267 r=2.6 /><circle cx=474 cy=458 r=2.6 /><circle cx=541 cy=366 r=2.6 /><circle cx=196 cy=384 r=2.6 /><circle cx=309 cy=528 r=2.6 /><circle cx=269 cy=564 r=2.6 /><circle cx=519 cy=374 r=2.6 /><circle cx=315 cy=248 r=2.6 /><circle cx=206 cy=406 r=2.6 /><circle cx=313 cy=222 r=2.6 /><circle cx=517 cy=361 r=2.6 /><circle cx=257 cy=299 r=2.6 /><circle cx=104 cy=252 r=2.6 /><circle cx=480 cy=367 r=2.6 /><circle cx=428 cy=319 r=2.6 /><circle cx=521 cy=364 r=2.6 /><circle cx=313 cy=585 r=2.6 /><circle cx=437 cy=349 r=2.6 /><circle cx=248 cy=441 r=2.6 /><circle cx=513 cy=272 r=2.6 /><circle cx=89 cy=277 r=2.6 /><circle cx=268 cy=339 r=2.6 /><circle cx=468 cy=480 r=2.6 /><circle cx=109 cy=235 r=2.6 /><circle cx=447 cy=400 r=2.6 /><circle cx=544 cy=364 r=2.6 /><circle cx=266 cy=341 r=2.6 /><circle cx=480 cy=443 r=2.6 /><circle cx=203 cy=177 r=2.6 /><circle cx=206 cy=384 r=2.6 /><circle cx=465 cy=432 r=2.6 /><circle cx=251 cy=297 r=2.6 /><circle cx=440 cy=381 r=2.6 /><circle cx=235 cy=356 r=2.6 /><circle cx=286 cy=245 r=2.6 /><circle cx=431 cy=331 r=2.6 /><circle cx=477 cy=315 r=2.6 /><circle cx=405 cy=284 r=2.6 /><circle cx=511 cy=327 r=2.6 /><circle cx=262 cy=360 r=2.6 /><circle cx=533 cy=370 r=2.6 /><circle cx=506 cy=319 r=2.6 /><circle cx=259 cy=262 r=2.6 /><circle cx=301 cy=248 r=2.6 /><circle cx=290 cy=596 r=2.6 /><circle cx=247 cy=337 r=2.6 /><circle cx=210 cy=345 r=2.6 /><circle cx=323 cy=177 r=2.6 /><circle cx=451 cy=479 r=2.6 /><circle cx=247 cy=226 r=2.6 /><circle cx=261 cy=254 r=2.6 /><circle cx=230 cy=309 r=2.6 /><circle cx=225 cy=272 r=2.6 /><circle cx=226 cy=278 r=2.6 /><circle cx=92 cy=238 r=2.6 /><circle cx=514 cy=301 r=2.6 /><circle cx=312 cy=273 r=2.6 /><circle cx=200 cy=385 r=2.6 /><circle cx=307 cy=563 r=2.6 /><circle cx=498 cy=305 r=2.6 /><circle cx=283 cy=234 r=2.6 /><circle cx=295 cy=253 r=2.6 /><circle cx=469 cy=470 r=2.6 /><circle cx=75 cy=253 r=2.6 /><circle cx=250 cy=234 r=2.6 /><circle cx=240 cy=251 r=2.6 /><circle cx=525 cy=357 r=2.6 /><circle cx=80 cy=308 r=2.6 /><circle cx=540 cy=363 r=2.6 /><circle cx=330 cy=179 r=2.6 /><circle cx=467 cy=392 r=2.6 /><circle cx=456 cy=313 r=2.6 /><circle cx=461 cy=496 r=2.6 /><circle cx=475 cy=314 r=2.6 /><circle cx=438 cy=392 r=2.6 /><circle cx=549 cy=285 r=2.6 /><circle cx=213 cy=191 r=2.6 /><circle cx=535 cy=324 r=2.6 /><circle cx=230 cy=207 r=2.6 /><circle cx=257 cy=344 r=2.6 /><circle cx=522 cy=271 r=2.6 /><circle cx=110 cy=246 r=2.6 /><circle cx=281 cy=545 r=2.6 /><circle cx=363 cy=164 r=2.6 /><circle cx=547 cy=276 r=2.6 /><circle cx=100 cy=263 r=2.6 /><circle cx=468 cy=401 r=2.6 /><circle cx=299 cy=517 r=2.6 /><circle cx=64 cy=249 r=2.6 /><circle cx=407 cy=274 r=2.6 /><circle cx=238 cy=200 r=2.6 /><circle cx=72 cy=293 r=2.6 /><circle cx=247 cy=462 r=2.6 /><circle cx=553 cy=330 r=2.6 /><circle cx=484 cy=466 r=2.6 /><circle cx=61 cy=324 r=2.6 /><circle cx=548 cy=348 r=2.6 /><circle cx=285 cy=627 r=2.6 /><circle cx=537 cy=270 r=2.6 /><circle cx=277 cy=291 r=2.6 /><circle cx=521 cy=332 r=2.6 /><circle cx=332 cy=187 r=2.6 /><circle cx=482 cy=365 r=2.6 /><circle cx=448 cy=380 r=2.6 /><circle cx=89 cy=259 r=2.6 /><circle cx=257 cy=404 r=2.6 /><circle cx=92 cy=300 r=2.6 /><circle cx=277 cy=284 r=2.6 /><circle cx=441 cy=468 r=2.6 /><circle cx=464 cy=325 r=2.6 /><circle cx=98 cy=249 r=2.6 /><circle cx=301 cy=213 r=2.6 /><circle cx=325 cy=288 r=2.6 /><circle cx=211 cy=397 r=2.6 /><circle cx=252 cy=386 r=2.6 /><circle cx=275 cy=300 r=2.6 /><circle cx=264 cy=439 r=2.6 /><circle cx=499 cy=358 r=2.6 /><circle cx=471 cy=383 r=2.6 /><circle cx=443 cy=449 r=2.6 /><circle cx=82 cy=314 r=2.6 /><circle cx=247 cy=326 r=2.6 /><circle cx=449 cy=429 r=2.6 /><circle cx=78 cy=304 r=2.6 /><circle cx=314 cy=558 r=2.6 /><circle cx=261 cy=313 r=2.6 /><circle cx=305 cy=553 r=2.6 /><circle cx=303 cy=566 r=2.6 /><circle cx=284 cy=287 r=2.6 /><circle cx=474 cy=373 r=2.6 /><circle cx=449 cy=384 r=2.6 /><circle cx=257 cy=244 r=2.6 /><circle cx=212 cy=411 r=2.6 /><circle cx=223 cy=353 r=2.6 /><circle cx=348 cy=207 r=2.6 /><circle cx=460 cy=462 r=2.6 /><circle cx=314 cy=193 r=2.6 /><circle cx=467 cy=452 r=2.6 /><circle cx=217 cy=357 r=2.6 /><circle cx=486 cy=291 r=2.6 /><circle cx=208 cy=432 r=2.6 /><circle cx=470 cy=370 r=2.6 /><circle cx=339 cy=206 r=2.6 /><circle cx=450 cy=328 r=2.6 /><circle cx=482 cy=383 r=2.6 /><circle cx=308 cy=154 r=2.6 /><circle cx=226 cy=335 r=2.6 /><circle cx=476 cy=372 r=2.6 /><circle cx=464 cy=308 r=2.6 /><circle cx=544 cy=307 r=2.6 /><circle cx=293 cy=298 r=2.6 /><circle cx=442 cy=357 r=2.6 /></g>
<g class="q4a" fill="#ffffff" stroke="#4a4a4a" stroke-width="1.3"><circle cx=552 cy=323 r=2.9 /><circle cx=244 cy=367 r=2.9 /><circle cx=331 cy=565 r=2.9 /><circle cx=296 cy=597 r=2.9 /><circle cx=460 cy=490 r=2.9 /><circle cx=495 cy=298 r=2.9 /><circle cx=440 cy=309 r=2.9 /><circle cx=291 cy=597 r=2.9 /><circle cx=199 cy=401 r=2.9 /><circle cx=316 cy=540 r=2.9 /><circle cx=275 cy=544 r=2.9 /><circle cx=477 cy=292 r=2.9 /><circle cx=246 cy=314 r=2.9 /><circle cx=243 cy=425 r=2.9 /><circle cx=362 cy=187 r=2.9 /><circle cx=519 cy=341 r=2.9 /><circle cx=524 cy=338 r=2.9 /><circle cx=326 cy=254 r=2.9 /><circle cx=468 cy=333 r=2.9 /><circle cx=434 cy=398 r=2.9 /><circle cx=304 cy=247 r=2.9 /><circle cx=501 cy=345 r=2.9 /><circle cx=121 cy=258 r=2.9 /><circle cx=245 cy=398 r=2.9 /><circle cx=241 cy=229 r=2.9 /><circle cx=111 cy=262 r=2.9 /><circle cx=266 cy=309 r=2.9 /><circle cx=531 cy=283 r=2.9 /><circle cx=289 cy=536 r=2.9 /><circle cx=113 cy=257 r=2.9 /><circle cx=229 cy=201 r=2.9 /><circle cx=305 cy=566 r=2.9 /><circle cx=526 cy=380 r=2.9 /><circle cx=256 cy=325 r=2.9 /><circle cx=275 cy=522 r=2.9 /><circle cx=232 cy=289 r=2.9 /><circle cx=339 cy=200 r=2.9 /><circle cx=289 cy=225 r=2.9 /><circle cx=313 cy=534 r=2.9 /><circle cx=235 cy=325 r=2.9 /><circle cx=284 cy=240 r=2.9 /><circle cx=498 cy=354 r=2.9 /><circle cx=339 cy=211 r=2.9 /><circle cx=283 cy=247 r=2.9 /><circle cx=275 cy=263 r=2.9 /><circle cx=454 cy=367 r=2.9 /><circle cx=528 cy=305 r=2.9 /><circle cx=97 cy=236 r=2.9 /><circle cx=270 cy=260 r=2.9 /><circle cx=292 cy=216 r=2.9 /><circle cx=306 cy=532 r=2.9 /><circle cx=254 cy=430 r=2.9 /><circle cx=487 cy=323 r=2.9 /><circle cx=66 cy=226 r=2.9 /><circle cx=242 cy=383 r=2.9 /><circle cx=274 cy=528 r=2.9 /><circle cx=287 cy=574 r=2.9 /><circle cx=210 cy=306 r=2.9 /><circle cx=492 cy=380 r=2.9 /><circle cx=244 cy=448 r=2.9 /><circle cx=552 cy=316 r=2.9 /><circle cx=348 cy=199 r=2.9 /><circle cx=325 cy=230 r=2.9 /><circle cx=233 cy=298 r=2.9 /><circle cx=218 cy=414 r=2.9 /><circle cx=325 cy=270 r=2.9 /><circle cx=202 cy=369 r=2.9 /><circle cx=532 cy=287 r=2.9 /><circle cx=218 cy=433 r=2.9 /><circle cx=252 cy=248 r=2.9 /><circle cx=294 cy=620 r=2.9 /><circle cx=241 cy=358 r=2.9 /><circle cx=263 cy=222 r=2.9 /><circle cx=282 cy=526 r=2.9 /><circle cx=207 cy=175 r=2.9 /><circle cx=214 cy=325 r=2.9 /><circle cx=240 cy=323 r=2.9 /><circle cx=319 cy=563 r=2.9 /><circle cx=302 cy=528 r=2.9 /><circle cx=473 cy=343 r=2.9 /><circle cx=294 cy=288 r=2.9 /><circle cx=306 cy=275 r=2.9 /><circle cx=491 cy=393 r=2.9 /><circle cx=503 cy=302 r=2.9 /><circle cx=200 cy=181 r=2.9 /><circle cx=482 cy=338 r=2.9 /><circle cx=536 cy=277 r=2.9 /><circle cx=214 cy=172 r=2.9 /><circle cx=337 cy=192 r=2.9 /><circle cx=320 cy=259 r=2.9 /><circle cx=267 cy=241 r=2.9 /><circle cx=324 cy=168 r=2.9 /><circle cx=316 cy=147 r=2.9 /><circle cx=501 cy=283 r=2.9 /><circle cx=213 cy=407 r=2.9 /><circle cx=458 cy=330 r=2.9 /><circle cx=473 cy=477 r=2.9 /><circle cx=64 cy=298 r=2.9 /><circle cx=80 cy=284 r=2.9 /><circle cx=101 cy=236 r=2.9 /><circle cx=538 cy=305 r=2.9 /><circle cx=215 cy=311 r=2.9 /><circle cx=437 cy=379 r=2.9 /><circle cx=218 cy=352 r=2.9 /><circle cx=73 cy=295 r=2.9 /><circle cx=438 cy=385 r=2.9 /><circle cx=487 cy=460 r=2.9 /><circle cx=259 cy=342 r=2.9 /><circle cx=334 cy=172 r=2.9 /><circle cx=232 cy=432 r=2.9 /><circle cx=259 cy=547 r=2.9 /><circle cx=201 cy=374 r=2.9 /><circle cx=230 cy=367 r=2.9 /><circle cx=239 cy=459 r=2.9 /><circle cx=248 cy=297 r=2.9 /><circle cx=466 cy=503 r=2.9 /><circle cx=284 cy=511 r=2.9 /><circle cx=205 cy=345 r=2.9 /><circle cx=456 cy=483 r=2.9 /><circle cx=433 cy=322 r=2.9 /><circle cx=491 cy=299 r=2.9 /><circle cx=59 cy=261 r=2.9 /><circle cx=93 cy=230 r=2.9 /><circle cx=270 cy=302 r=2.9 /><circle cx=270 cy=523 r=2.9 /><circle cx=212 cy=414 r=2.9 /><circle cx=278 cy=304 r=2.9 /><circle cx=514 cy=282 r=2.9 /><circle cx=522 cy=344 r=2.9 /><circle cx=217 cy=320 r=2.9 /><circle cx=469 cy=455 r=2.9 /><circle cx=379 cy=176 r=2.9 /><circle cx=488 cy=307 r=2.9 /><circle cx=506 cy=305 r=2.9 /><circle cx=324 cy=174 r=2.9 /><circle cx=337 cy=193 r=2.9 /><circle cx=251 cy=292 r=2.9 /><circle cx=284 cy=597 r=2.9 /><circle cx=213 cy=203 r=2.9 /><circle cx=268 cy=514 r=2.9 /><circle cx=69 cy=288 r=2.9 /><circle cx=59 cy=310 r=2.9 /><circle cx=99 cy=244 r=2.9 /><circle cx=318 cy=144 r=2.9 /><circle cx=295 cy=624 r=2.9 /><circle cx=234 cy=413 r=2.9 /><circle cx=330 cy=147 r=2.9 /><circle cx=486 cy=295 r=2.9 /><circle cx=503 cy=370 r=2.9 /><circle cx=431 cy=363 r=2.9 /><circle cx=446 cy=477 r=2.9 /><circle cx=208 cy=328 r=2.9 /><circle cx=324 cy=242 r=2.9 /><circle cx=530 cy=276 r=2.9 /><circle cx=564 cy=294 r=2.9 /><circle cx=425 cy=360 r=2.9 /><circle cx=330 cy=557 r=2.9 /><circle cx=297 cy=520 r=2.9 /><circle cx=517 cy=366 r=2.9 /><circle cx=262 cy=348 r=2.9 /><circle cx=507 cy=377 r=2.9 /><circle cx=455 cy=312 r=2.9 /><circle cx=243 cy=301 r=2.9 /><circle cx=255 cy=277 r=2.9 /><circle cx=283 cy=561 r=2.9 /><circle cx=294 cy=304 r=2.9 /><circle cx=115 cy=237 r=2.9 /><circle cx=322 cy=168 r=2.9 /><circle cx=468 cy=435 r=2.9 /><circle cx=249 cy=445 r=2.9 /><circle cx=239 cy=269 r=2.9 /><circle cx=241 cy=245 r=2.9 /><circle cx=328 cy=547 r=2.9 /><circle cx=557 cy=280 r=2.9 /><circle cx=539 cy=332 r=2.9 /><circle cx=462 cy=316 r=2.9 /><circle cx=558 cy=321 r=2.9 /><circle cx=247 cy=400 r=2.9 /><circle cx=286 cy=531 r=2.9 /><circle cx=348 cy=165 r=2.9 /><circle cx=286 cy=212 r=2.9 /><circle cx=57 cy=323 r=2.9 /><circle cx=520 cy=310 r=2.9 /><circle cx=306 cy=170 r=2.9 /><circle cx=450 cy=374 r=2.9 /><circle cx=226 cy=207 r=2.9 /><circle cx=486 cy=286 r=2.9 /><circle cx=239 cy=344 r=2.9 /><circle cx=457 cy=358 r=2.9 /><circle cx=435 cy=330 r=2.9 /><circle cx=246 cy=457 r=2.9 /><circle cx=228 cy=357 r=2.9 /><circle cx=467 cy=320 r=2.9 /><circle cx=467 cy=364 r=2.9 /><circle cx=250 cy=341 r=2.9 /><circle cx=267 cy=516 r=2.9 /><circle cx=441 cy=355 r=2.9 /><circle cx=229 cy=324 r=2.9 /><circle cx=213 cy=373 r=2.9 /><circle cx=232 cy=347 r=2.9 /><circle cx=263 cy=544 r=2.9 /><circle cx=464 cy=313 r=2.9 /><circle cx=307 cy=281 r=2.9 /><circle cx=276 cy=426 r=2.9 /><circle cx=69 cy=236 r=2.9 /><circle cx=275 cy=282 r=2.9 /><circle cx=303 cy=550 r=2.9 /><circle cx=284 cy=554 r=2.9 /><circle cx=222 cy=442 r=2.9 /><circle cx=468 cy=490 r=2.9 /><circle cx=76 cy=279 r=2.9 /><circle cx=206 cy=363 r=2.9 /><circle cx=217 cy=382 r=2.9 /><circle cx=483 cy=285 r=2.9 /><circle cx=439 cy=382 r=2.9 /><circle cx=427 cy=359 r=2.9 /><circle cx=69 cy=319 r=2.9 /><circle cx=518 cy=302 r=2.9 /><circle cx=192 cy=390 r=2.9 /><circle cx=472 cy=316 r=2.9 /><circle cx=288 cy=518 r=2.9 /><circle cx=554 cy=313 r=2.9 /><circle cx=460 cy=477 r=2.9 /><circle cx=212 cy=187 r=2.9 /><circle cx=258 cy=266 r=2.9 /><circle cx=290 cy=220 r=2.9 /><circle cx=362 cy=452 r=2.9 /><circle cx=310 cy=561 r=2.9 /><circle cx=465 cy=375 r=2.9 /><circle cx=554 cy=294 r=2.9 /><circle cx=489 cy=391 r=2.9 /><circle cx=266 cy=428 r=2.9 /><circle cx=279 cy=279 r=2.9 /><circle cx=213 cy=417 r=2.9 /><circle cx=279 cy=287 r=2.9 /><circle cx=248 cy=244 r=2.9 /><circle cx=415 cy=283 r=2.9 /><circle cx=304 cy=164 r=2.9 /><circle cx=458 cy=326 r=2.9 /><circle cx=515 cy=293 r=2.9 /><circle cx=520 cy=303 r=2.9 /><circle cx=308 cy=298 r=2.9 /><circle cx=263 cy=455 r=2.9 /><circle cx=85 cy=307 r=2.9 /><circle cx=354 cy=168 r=2.9 /><circle cx=288 cy=254 r=2.9 /><circle cx=472 cy=301 r=2.9 /><circle cx=528 cy=332 r=2.9 /><circle cx=489 cy=370 r=2.9 /><circle cx=443 cy=361 r=2.9 /><circle cx=340 cy=209 r=2.9 /><circle cx=552 cy=292 r=2.9 /><circle cx=270 cy=509 r=2.9 /><circle cx=302 cy=592 r=2.9 /><circle cx=442 cy=332 r=2.9 /><circle cx=369 cy=180 r=2.9 /><circle cx=265 cy=256 r=2.9 /><circle cx=72 cy=306 r=2.9 /><circle cx=220 cy=369 r=2.9 /><circle cx=223 cy=391 r=2.9 /><circle cx=446 cy=439 r=2.9 /><circle cx=464 cy=345 r=2.9 /><circle cx=254 cy=281 r=2.9 /><circle cx=479 cy=307 r=2.9 /><circle cx=292 cy=623 r=2.9 /><circle cx=301 cy=287 r=2.9 /><circle cx=483 cy=361 r=2.9 /><circle cx=286 cy=613 r=2.9 /><circle cx=351 cy=183 r=2.9 /><circle cx=481 cy=481 r=2.9 /><circle cx=245 cy=373 r=2.9 /><circle cx=105 cy=247 r=2.9 /><circle cx=78 cy=232 r=2.9 /><circle cx=329 cy=187 r=2.9 /><circle cx=291 cy=222 r=2.9 /><circle cx=463 cy=411 r=2.9 /><circle cx=309 cy=159 r=2.9 /><circle cx=429 cy=350 r=2.9 /><circle cx=68 cy=280 r=2.9 /><circle cx=252 cy=373 r=2.9 /><circle cx=497 cy=383 r=2.9 /><circle cx=232 cy=190 r=2.9 /><circle cx=423 cy=367 r=2.9 /><circle cx=528 cy=361 r=2.9 /><circle cx=71 cy=296 r=2.9 /><circle cx=357 cy=150 r=2.9 /><circle cx=322 cy=150 r=2.9 /><circle cx=72 cy=248 r=2.9 /><circle cx=248 cy=360 r=2.9 /><circle cx=212 cy=423 r=2.9 /><circle cx=232 cy=414 r=2.9 /><circle cx=317 cy=581 r=2.9 /><circle cx=472 cy=400 r=2.9 /><circle cx=343 cy=194 r=2.9 /><circle cx=265 cy=445 r=2.9 /><circle cx=508 cy=372 r=2.9 /><circle cx=67 cy=272 r=2.9 /><circle cx=485 cy=369 r=2.9 /><circle cx=213 cy=394 r=2.9 /><circle cx=514 cy=346 r=2.9 /><circle cx=235 cy=312 r=2.9 /><circle cx=508 cy=307 r=2.9 /><circle cx=423 cy=283 r=2.9 /><circle cx=267 cy=295 r=2.9 /><circle cx=301 cy=235 r=2.9 /><circle cx=303 cy=554 r=2.9 /><circle cx=272 cy=554 r=2.9 /><circle cx=313 cy=201 r=2.9 /><circle cx=214 cy=420 r=2.9 /><circle cx=445 cy=480 r=2.9 /><circle cx=549 cy=304 r=2.9 /><circle cx=266 cy=425 r=2.9 /><circle cx=269 cy=428 r=2.9 /><circle cx=453 cy=344 r=2.9 /><circle cx=315 cy=220 r=2.9 /><circle cx=355 cy=416 r=2.9 /><circle cx=227 cy=195 r=2.9 /><circle cx=77 cy=271 r=2.9 /><circle cx=457 cy=495 r=2.9 /><circle cx=285 cy=551 r=2.9 /><circle cx=256 cy=205 r=2.9 /><circle cx=84 cy=271 r=2.9 /><circle cx=255 cy=260 r=2.9 /><circle cx=546 cy=305 r=2.9 /><circle cx=440 cy=436 r=2.9 /><circle cx=485 cy=316 r=2.9 /><circle cx=330 cy=153 r=2.9 /><circle cx=487 cy=386 r=2.9 /><circle cx=86 cy=255 r=2.9 /><circle cx=421 cy=294 r=2.9 /><circle cx=120 cy=251 r=2.9 /><circle cx=247 cy=396 r=2.9 /><circle cx=490 cy=362 r=2.9 /><circle cx=325 cy=188 r=2.9 /><circle cx=280 cy=551 r=2.9 /><circle cx=315 cy=210 r=2.9 /><circle cx=106 cy=250 r=2.9 /><circle cx=98 cy=272 r=2.9 /><circle cx=295 cy=278 r=2.9 /><circle cx=319 cy=565 r=2.9 /><circle cx=222 cy=289 r=2.9 /><circle cx=528 cy=327 r=2.9 /><circle cx=279 cy=548 r=2.9 /><circle cx=209 cy=389 r=2.9 /><circle cx=75 cy=223 r=2.9 /><circle cx=106 cy=241 r=2.9 /><circle cx=260 cy=281 r=2.9 /><circle cx=277 cy=598 r=2.9 /><circle cx=435 cy=346 r=2.9 /><circle cx=247 cy=332 r=2.9 /><circle cx=443 cy=401 r=2.9 /><circle cx=308 cy=235 r=2.9 /><circle cx=208 cy=189 r=2.9 /><circle cx=442 cy=427 r=2.9 /><circle cx=341 cy=184 r=2.9 /><circle cx=545 cy=279 r=2.9 /><circle cx=301 cy=241 r=2.9 /><circle cx=364 cy=149 r=2.9 /><circle cx=454 cy=335 r=2.9 /><circle cx=252 cy=273 r=2.9 /><circle cx=297 cy=583 r=2.9 /><circle cx=73 cy=225 r=2.9 /><circle cx=322 cy=243 r=2.9 /><circle cx=258 cy=429 r=2.9 /><circle cx=493 cy=333 r=2.9 /><circle cx=244 cy=340 r=2.9 /><circle cx=254 cy=242 r=2.9 /><circle cx=60 cy=229 r=2.9 /><circle cx=452 cy=360 r=2.9 /><circle cx=467 cy=407 r=2.9 /><circle cx=331 cy=553 r=2.9 /><circle cx=533 cy=375 r=2.9 /><circle cx=462 cy=322 r=2.9 /><circle cx=461 cy=501 r=2.9 /><circle cx=231 cy=325 r=2.9 /><circle cx=212 cy=366 r=2.9 /><circle cx=276 cy=314 r=2.9 /><circle cx=223 cy=411 r=2.9 /><circle cx=457 cy=465 r=2.9 /><circle cx=215 cy=300 r=2.9 /><circle cx=242 cy=432 r=2.9 /><circle cx=326 cy=292 r=2.9 /><circle cx=224 cy=338 r=2.9 /><circle cx=247 cy=278 r=2.9 /><circle cx=196 cy=387 r=2.9 /><circle cx=530 cy=376 r=2.9 /><circle cx=230 cy=422 r=2.9 /><circle cx=221 cy=186 r=2.9 /><circle cx=444 cy=319 r=2.9 /><circle cx=89 cy=247 r=2.9 /><circle cx=242 cy=311 r=2.9 /><circle cx=310 cy=572 r=2.9 /><circle cx=216 cy=366 r=2.9 /><circle cx=292 cy=225 r=2.9 /><circle cx=267 cy=282 r=2.9 /><circle cx=530 cy=339 r=2.9 /><circle cx=563 cy=299 r=2.9 /><circle cx=445 cy=333 r=2.9 /><circle cx=516 cy=317 r=2.9 /><circle cx=238 cy=368 r=2.9 /><circle cx=240 cy=405 r=2.9 /><circle cx=461 cy=451 r=2.9 /><circle cx=268 cy=515 r=2.9 /><circle cx=319 cy=229 r=2.9 /><circle cx=288 cy=303 r=2.9 /><circle cx=452 cy=438 r=2.9 /><circle cx=206 cy=190 r=2.9 /><circle cx=335 cy=201 r=2.9 /><circle cx=428 cy=331 r=2.9 /><circle cx=548 cy=292 r=2.9 /><circle cx=110 cy=233 r=2.9 /><circle cx=461 cy=346 r=2.9 /><circle cx=292 cy=601 r=2.9 /><circle cx=235 cy=397 r=2.9 /><circle cx=546 cy=271 r=2.9 /><circle cx=207 cy=426 r=2.9 /><circle cx=483 cy=321 r=2.9 /><circle cx=322 cy=161 r=2.9 /><circle cx=250 cy=285 r=2.9 /><circle cx=420 cy=273 r=2.9 /><circle cx=456 cy=467 r=2.9 /><circle cx=282 cy=533 r=2.9 /><circle cx=474 cy=369 r=2.9 /><circle cx=265 cy=331 r=2.9 /><circle cx=317 cy=545 r=2.9 /><circle cx=236 cy=441 r=2.9 /><circle cx=213 cy=429 r=2.9 /><circle cx=259 cy=300 r=2.9 /><circle cx=285 cy=312 r=2.9 /><circle cx=553 cy=277 r=2.9 /><circle cx=209 cy=337 r=2.9 /><circle cx=254 cy=302 r=2.9 /><circle cx=254 cy=358 r=2.9 /><circle cx=263 cy=244 r=2.9 /><circle cx=461 cy=332 r=2.9 /><circle cx=442 cy=332 r=2.9 /><circle cx=442 cy=325 r=2.9 /><circle cx=556 cy=297 r=2.9 /><circle cx=307 cy=269 r=2.9 /><circle cx=545 cy=360 r=2.9 /><circle cx=315 cy=196 r=2.9 /><circle cx=539 cy=370 r=2.9 /><circle cx=512 cy=367 r=2.9 /><circle cx=221 cy=277 r=2.9 /><circle cx=219 cy=354 r=2.9 /><circle cx=447 cy=382 r=2.9 /><circle cx=469 cy=424 r=2.9 /><circle cx=495 cy=345 r=2.9 /><circle cx=219 cy=284 r=2.9 /><circle cx=234 cy=388 r=2.9 /><circle cx=317 cy=294 r=2.9 /><circle cx=311 cy=176 r=2.9 /><circle cx=522 cy=371 r=2.9 /><circle cx=489 cy=396 r=2.9 /><circle cx=488 cy=466 r=2.9 /><circle cx=94 cy=248 r=2.9 /><circle cx=281 cy=228 r=2.9 /><circle cx=505 cy=343 r=2.9 /><circle cx=329 cy=157 r=2.9 /><circle cx=468 cy=421 r=2.9 /><circle cx=219 cy=403 r=2.9 /><circle cx=439 cy=314 r=2.9 /><circle cx=73 cy=232 r=2.9 /><circle cx=257 cy=413 r=2.9 /><circle cx=266 cy=566 r=2.9 /><circle cx=454 cy=399 r=2.9 /><circle cx=432 cy=373 r=2.9 /><circle cx=91 cy=230 r=2.9 /><circle cx=331 cy=235 r=2.9 /><circle cx=308 cy=192 r=2.9 /><circle cx=86 cy=299 r=2.9 /><circle cx=277 cy=301 r=2.9 /><circle cx=430 cy=392 r=2.9 /><circle cx=222 cy=372 r=2.9 /><circle cx=220 cy=190 r=2.9 /><circle cx=206 cy=414 r=2.9 /><circle cx=310 cy=245 r=2.9 /><circle cx=438 cy=446 r=2.9 /><circle cx=460 cy=372 r=2.9 /><circle cx=408 cy=272 r=2.9 /><circle cx=512 cy=312 r=2.9 /><circle cx=316 cy=278 r=2.9 /><circle cx=435 cy=312 r=2.9 /><circle cx=425 cy=377 r=2.9 /><circle cx=255 cy=323 r=2.9 /><circle cx=301 cy=206 r=2.9 /><circle cx=85 cy=233 r=2.9 /><circle cx=237 cy=453 r=2.9 /><circle cx=467 cy=307 r=2.9 /><circle cx=266 cy=304 r=2.9 /><circle cx=245 cy=435 r=2.9 /><circle cx=423 cy=291 r=2.9 /><circle cx=220 cy=308 r=2.9 /><circle cx=282 cy=257 r=2.9 /><circle cx=507 cy=333 r=2.9 /><circle cx=418 cy=292 r=2.9 /><circle cx=236 cy=344 r=2.9 /><circle cx=308 cy=581 r=2.9 /><circle cx=238 cy=301 r=2.9 /><circle cx=444 cy=436 r=2.9 /><circle cx=210 cy=173 r=2.9 /><circle cx=277 cy=592 r=2.9 /><circle cx=502 cy=276 r=2.9 /><circle cx=437 cy=324 r=2.9 /><circle cx=234 cy=279 r=2.9 /><circle cx=458 cy=435 r=2.9 /><circle cx=426 cy=306 r=2.9 /><circle cx=268 cy=257 r=2.9 /><circle cx=291 cy=548 r=2.9 /><circle cx=425 cy=300 r=2.9 /><circle cx=255 cy=415 r=2.9 /><circle cx=76 cy=221 r=2.9 /><circle cx=229 cy=446 r=2.9 /><circle cx=272 cy=446 r=2.9 /><circle cx=341 cy=147 r=2.9 /><circle cx=514 cy=324 r=2.9 /><circle cx=297 cy=570 r=2.9 /><circle cx=366 cy=179 r=2.9 /><circle cx=177 cy=496 r=2.9 /><circle cx=293 cy=221 r=2.9 /><circle cx=310 cy=179 r=2.9 /><circle cx=279 cy=213 r=2.9 /><circle cx=93 cy=280 r=2.9 /><circle cx=107 cy=238 r=2.9 /><circle cx=414 cy=296 r=2.9 /><circle cx=344 cy=200 r=2.9 /><circle cx=211 cy=310 r=2.9 /><circle cx=272 cy=435 r=2.9 /><circle cx=212 cy=296 r=2.9 /><circle cx=437 cy=355 r=2.9 /><circle cx=464 cy=483 r=2.9 /><circle cx=443 cy=351 r=2.9 /><circle cx=216 cy=393 r=2.9 /><circle cx=277 cy=547 r=2.9 /><circle cx=220 cy=320 r=2.9 /><circle cx=115 cy=261 r=2.9 /><circle cx=233 cy=206 r=2.9 /><circle cx=235 cy=439 r=2.9 /><circle cx=508 cy=282 r=2.9 /><circle cx=490 cy=355 r=2.9 /><circle cx=566 cy=292 r=2.9 /><circle cx=245 cy=259 r=2.9 /><circle cx=472 cy=427 r=2.9 /><circle cx=217 cy=289 r=2.9 /><circle cx=55 cy=317 r=2.9 /><circle cx=525 cy=327 r=2.9 /><circle cx=544 cy=335 r=2.9 /><circle cx=450 cy=352 r=2.9 /><circle cx=459 cy=438 r=2.9 /><circle cx=263 cy=251 r=2.9 /><circle cx=464 cy=351 r=2.9 /><circle cx=286 cy=563 r=2.9 /><circle cx=293 cy=205 r=2.9 /><circle cx=339 cy=173 r=2.9 /><circle cx=285 cy=566 r=2.9 /><circle cx=519 cy=352 r=2.9 /><circle cx=439 cy=352 r=2.9 /><circle cx=265 cy=298 r=2.9 /><circle cx=70 cy=308 r=2.9 /><circle cx=314 cy=237 r=2.9 /><circle cx=523 cy=367 r=2.9 /><circle cx=360 cy=413 r=2.9 /><circle cx=559 cy=316 r=2.9 /><circle cx=285 cy=304 r=2.9 /><circle cx=308 cy=557 r=2.9 /><circle cx=242 cy=389 r=2.9 /><circle cx=352 cy=420 r=2.9 /><circle cx=244 cy=335 r=2.9 /><circle cx=54 cy=243 r=2.9 /><circle cx=470 cy=372 r=2.9 /><circle cx=240 cy=359 r=2.9 /><circle cx=276 cy=442 r=2.9 /><circle cx=409 cy=297 r=2.9 /><circle cx=176 cy=488 r=2.9 /><circle cx=300 cy=518 r=2.9 /><circle cx=509 cy=323 r=2.9 /><circle cx=339 cy=141 r=2.9 /><circle cx=314 cy=243 r=2.9 /><circle cx=97 cy=289 r=2.9 /><circle cx=268 cy=224 r=2.9 /><circle cx=203 cy=175 r=2.9 /><circle cx=477 cy=483 r=2.9 /><circle cx=246 cy=414 r=2.9 /><circle cx=212 cy=436 r=2.9 /><circle cx=233 cy=307 r=2.9 /><circle cx=70 cy=314 r=2.9 /><circle cx=519 cy=331 r=2.9 /><circle cx=353 cy=200 r=2.9 /><circle cx=315 cy=286 r=2.9 /><circle cx=532 cy=345 r=2.9 /><circle cx=234 cy=203 r=2.9 /><circle cx=212 cy=370 r=2.9 /><circle cx=277 cy=566 r=2.9 /><circle cx=362 cy=191 r=2.9 /><circle cx=344 cy=169 r=2.9 /><circle cx=337 cy=569 r=2.9 /><circle cx=330 cy=560 r=2.9 /><circle cx=474 cy=483 r=2.9 /><circle cx=236 cy=458 r=2.9 /><circle cx=79 cy=239 r=2.9 /><circle cx=245 cy=319 r=2.9 /><circle cx=288 cy=577 r=2.9 /><circle cx=210 cy=319 r=2.9 /><circle cx=522 cy=301 r=2.9 /><circle cx=485 cy=450 r=2.9 /><circle cx=451 cy=318 r=2.9 /><circle cx=298 cy=265 r=2.9 /><circle cx=490 cy=338 r=2.9 /><circle cx=221 cy=180 r=2.9 /><circle cx=443 cy=421 r=2.9 /><circle cx=294 cy=227 r=2.9 /><circle cx=291 cy=303 r=2.9 /><circle cx=281 cy=322 r=2.9 /><circle cx=218 cy=321 r=2.9 /><circle cx=233 cy=292 r=2.9 /><circle cx=510 cy=377 r=2.9 /><circle cx=365 cy=182 r=2.9 /><circle cx=318 cy=245 r=2.9 /><circle cx=480 cy=462 r=2.9 /><circle cx=251 cy=366 r=2.9 /><circle cx=254 cy=258 r=2.9 /><circle cx=326 cy=243 r=2.9 /></g>
<g class="q5a" fill="#ffffff" stroke="#4a4a4a" stroke-width="1.3"><circle cx=432 cy=242 r=3.3 /></g>
<g class="q6a" fill="#ffffff" stroke="#4a4a4a" stroke-width="1.3"><circle cx=204 cy=508 r=3.8 /></g>
<g class="q0a" fill="#b85040" stroke="#4a4a4a" stroke-width="1.3"><circle cx=288 cy=515 r=1.7 /></g>
<g class="q0a" fill="#b84a44" stroke="#4a4a4a" stroke-width="1.3"><circle cx=449 cy=418 r=1.7 /><circle cx=453 cy=400 r=1.7 /></g>
<g class="q1a" fill="#e05a3a" stroke="#4a4a4a" stroke-width="1.3"><circle cx=459 cy=412 r=2 /><circle cx=460 cy=421 r=2 /></g>
<g class="q1a" fill="#a85050" stroke="#4a4a4a" stroke-width="1.3"><circle cx=466 cy=435 r=2 /></g>
<g class="q1a" fill="#983c3c" stroke="#4a4a4a" stroke-width="1.3"><circle cx=294 cy=515 r=2 /><circle cx=285 cy=525 r=2 /><circle cx=283 cy=514 r=2 /></g>
<g class="q1a" fill="#d8482e" stroke="#4a4a4a" stroke-width="1.3"><circle cx=469 cy=386 r=2 /><circle cx=475 cy=424 r=2 /></g>
<g class="q1a" fill="#b84a44" stroke="#4a4a4a" stroke-width="1.3"><circle cx=474 cy=408 r=2 /><circle cx=450 cy=394 r=2 /></g>
<g class="q2a" fill="#b84a44" stroke="#4a4a4a" stroke-width="1.3"><circle cx=467 cy=396 r=2.3 /></g>
<g class="q2a" fill="#a84848" stroke="#4a4a4a" stroke-width="1.3"><circle cx=275 cy=506 r=2.3 /></g>
<g class="q2a" fill="#a85050" stroke="#4a4a4a" stroke-width="1.3"><circle cx=446 cy=434 r=2.3 /><circle cx=468 cy=418 r=2.3 /></g>
<g class="q2a" fill="#e05a3a" stroke="#4a4a4a" stroke-width="1.3"><circle cx=460 cy=398 r=2.3 /></g>
<g class="q2a" fill="#983c3c" stroke="#4a4a4a" stroke-width="1.3"><circle cx=283 cy=521 r=2.3 /></g>
<g class="q2a" fill="#c06050" stroke="#4a4a4a" stroke-width="1.3"><circle cx=264 cy=466 r=2.3 /></g>
<g class="q2a" fill="#b85040" stroke="#4a4a4a" stroke-width="1.3"><circle cx=284 cy=515 r=2.3 /></g>
<g class="q2a" fill="#d8482e" stroke="#4a4a4a" stroke-width="1.3"><circle cx=473 cy=412 r=2.3 /><circle cx=450 cy=409 r=2.3 /></g>
<g class="q3a" fill="#983c3c" stroke="#4a4a4a" stroke-width="1.3"><circle cx=293 cy=520 r=2.6 /><circle cx=292 cy=515 r=2.6 /></g>
<g class="q3a" fill="#b84a44" stroke="#4a4a4a" stroke-width="1.3"><circle cx=467 cy=418 r=2.6 /><circle cx=462 cy=429 r=2.6 /><circle cx=472 cy=415 r=2.6 /></g>
<g class="q3a" fill="#d8482e" stroke="#4a4a4a" stroke-width="1.3"><circle cx=476 cy=379 r=2.6 /><circle cx=461 cy=398 r=2.6 /></g>
<g class="q3a" fill="#e05a3a" stroke="#4a4a4a" stroke-width="1.3"><circle cx=472 cy=429 r=2.6 /></g>
<g class="q3a" fill="#a85050" stroke="#4a4a4a" stroke-width="1.3"><circle cx=448 cy=435 r=2.6 /></g>
<g class="q3a" fill="#c06050" stroke="#4a4a4a" stroke-width="1.3"><circle cx=261 cy=467 r=2.6 /><circle cx=262 cy=470 r=2.6 /></g>
<g class="q4a" fill="#e05a3a" stroke="#4a4a4a" stroke-width="1.3"><circle cx=448 cy=442 r=2.9 /><circle cx=469 cy=393 r=2.9 /></g>
<g class="q4a" fill="#d8482e" stroke="#4a4a4a" stroke-width="1.3"><circle cx=474 cy=417 r=2.9 /></g>
<g class="q4a" fill="#a85050" stroke="#4a4a4a" stroke-width="1.3"><circle cx=466 cy=385 r=2.9 /></g>
<line x1="204" y1="1327" x2="268" y2="1401" stroke="#ededed" stroke-width="3.5"/>
<line x1="204" y1="1327" x2="258" y2="1289" stroke="#ededed" stroke-width="2.5"/>
<line x1="242" y1="1010" x2="298" y2="1001" stroke="#ededed" stroke-width="4"/>
<line x1="240" y1="1015" x2="294" y2="1007" stroke="#ededed" stroke-width="3"/>
<line x1="221" y1="1030" x2="221" y2="1090" stroke="#ededed" stroke-width="3"/>
<line x1="229" y1="1050" x2="238" y2="1089" stroke="#ededed" stroke-width="5"/>
<line x1="180" y1="1299" x2="230" y2="1274" stroke="#ededed" stroke-width="2.5"/>
<line x1="421" y1="1153" x2="425" y2="1179" stroke="#ededed" stroke-width="2.5"/>
<line x1="214" y1="1329" x2="255" y2="1339" stroke="#ededed" stroke-width="2.5"/>
<line x1="232" y1="1281" x2="258" y2="1324" stroke="#ededed" stroke-width="6"/>
<line x1="268" y1="1149" x2="262" y2="1164" stroke="#ededed" stroke-width="5"/>
<line x1="300" y1="979" x2="245" y2="1019" stroke="#ededed" stroke-width="2.5"/>
<g class="q0c" fill="#ffffff" stroke="#4a4a4a" stroke-width="1.3"><circle cx=411 cy=1098 r=1.7 /><circle cx=293 cy=1366 r=1.7 /><circle cx=313 cy=1122 r=1.7 /><circle cx=191 cy=1197 r=1.7 /><circle cx=227 cy=1161 r=1.7 /><circle cx=225 cy=1012 r=1.7 /><circle cx=422 cy=1137 r=1.7 /><circle cx=526 cy=1182 r=1.7 /><circle cx=66 cy=1146 r=1.7 /><circle cx=218 cy=1169 r=1.7 /><circle cx=317 cy=985 r=1.7 /><circle cx=508 cy=1155 r=1.7 /><circle cx=239 cy=1269 r=1.7 /><circle cx=207 cy=1223 r=1.7 /><circle cx=265 cy=1044 r=1.7 /><circle cx=339 cy=985 r=1.7 /><circle cx=276 cy=1350 r=1.7 /><circle cx=255 cy=1051 r=1.7 /><circle cx=452 cy=1214 r=1.7 /><circle cx=69 cy=1079 r=1.7 /><circle cx=449 cy=1141 r=1.7 /><circle cx=308 cy=994 r=1.7 /><circle cx=447 cy=1162 r=1.7 /><circle cx=452 cy=1317 r=1.7 /><circle cx=485 cy=1274 r=1.7 /><circle cx=249 cy=1076 r=1.7 /><circle cx=434 cy=1180 r=1.7 /><circle cx=275 cy=1160 r=1.7 /><circle cx=457 cy=1271 r=1.7 /><circle cx=295 cy=1420 r=1.7 /><circle cx=91 cy=1120 r=1.7 /><circle cx=339 cy=1386 r=1.7 /><circle cx=300 cy=1087 r=1.7 /><circle cx=483 cy=1143 r=1.7 /><circle cx=302 cy=1348 r=1.7 /><circle cx=326 cy=1013 r=1.7 /><circle cx=298 cy=1338 r=1.7 /><circle cx=508 cy=1167 r=1.7 /><circle cx=274 cy=1271 r=1.7 /><circle cx=470 cy=1185 r=1.7 /><circle cx=287 cy=1416 r=1.7 /><circle cx=244 cy=1054 r=1.7 /><circle cx=355 cy=1004 r=1.7 /><circle cx=485 cy=1205 r=1.7 /><circle cx=241 cy=1106 r=1.7 /><circle cx=491 cy=1198 r=1.7 /><circle cx=333 cy=981 r=1.7 /><circle cx=506 cy=1149 r=1.7 /><circle cx=269 cy=1239 r=1.7 /><circle cx=67 cy=1126 r=1.7 /><circle cx=520 cy=1179 r=1.7 /><circle cx=444 cy=1174 r=1.7 /><circle cx=298 cy=1336 r=1.7 /><circle cx=225 cy=1164 r=1.7 /><circle cx=461 cy=1152 r=1.7 /><circle cx=444 cy=1287 r=1.7 /><circle cx=500 cy=1177 r=1.7 /><circle cx=486 cy=1170 r=1.7 /><circle cx=337 cy=1360 r=1.7 /><circle cx=242 cy=1144 r=1.7 /><circle cx=433 cy=1133 r=1.7 /><circle cx=259 cy=1248 r=1.7 /><circle cx=473 cy=1285 r=1.7 /><circle cx=293 cy=1094 r=1.7 /><circle cx=499 cy=1174 r=1.7 /><circle cx=253 cy=1230 r=1.7 /><circle cx=321 cy=1082 r=1.7 /><circle cx=332 cy=1369 r=1.7 /><circle cx=349 cy=992 r=1.7 /><circle cx=441 cy=1291 r=1.7 /><circle cx=257 cy=1232 r=1.7 /><circle cx=278 cy=1120 r=1.7 /><circle cx=412 cy=1097 r=1.7 /><circle cx=425 cy=1194 r=1.7 /><circle cx=324 cy=987 r=1.7 /><circle cx=82 cy=1084 r=1.7 /><circle cx=326 cy=975 r=1.7 /><circle cx=290 cy=1400 r=1.7 /><circle cx=459 cy=1276 r=1.7 /><circle cx=70 cy=1121 r=1.7 /><circle cx=71 cy=1114 r=1.7 /><circle cx=224 cy=1010 r=1.7 /><circle cx=272 cy=1242 r=1.7 /><circle cx=445 cy=1141 r=1.7 /><circle cx=367 cy=996 r=1.7 /><circle cx=286 cy=1121 r=1.7 /><circle cx=306 cy=1390 r=1.7 /><circle cx=455 cy=1168 r=1.7 /><circle cx=205 cy=1172 r=1.7 /><circle cx=445 cy=1185 r=1.7 /><circle cx=210 cy=1113 r=1.7 /><circle cx=566 cy=1104 r=1.7 /><circle cx=249 cy=1202 r=1.7 /><circle cx=318 cy=1357 r=1.7 /><circle cx=348 cy=973 r=1.7 /><circle cx=89 cy=1058 r=1.7 /><circle cx=351 cy=1017 r=1.7 /><circle cx=242 cy=1245 r=1.7 /><circle cx=105 cy=1074 r=1.7 /><circle cx=107 cy=1078 r=1.7 /><circle cx=496 cy=1165 r=1.7 /><circle cx=337 cy=991 r=1.7 /><circle cx=292 cy=1348 r=1.7 /><circle cx=218 cy=1144 r=1.7 /><circle cx=453 cy=1296 r=1.7 /><circle cx=522 cy=1198 r=1.7 /><circle cx=447 cy=1185 r=1.7 /><circle cx=324 cy=995 r=1.7 /><circle cx=424 cy=1116 r=1.7 /><circle cx=281 cy=1435 r=1.7 /><circle cx=419 cy=1128 r=1.7 /><circle cx=333 cy=1024 r=1.7 /><circle cx=531 cy=1170 r=1.7 /><circle cx=546 cy=1110 r=1.7 /><circle cx=512 cy=1187 r=1.7 /><circle cx=211 cy=1170 r=1.7 /><circle cx=250 cy=1195 r=1.7 /><circle cx=258 cy=1250 r=1.7 /><circle cx=533 cy=1114 r=1.7 /><circle cx=271 cy=1081 r=1.7 /><circle cx=266 cy=1054 r=1.7 /><circle cx=376 cy=994 r=1.7 /><circle cx=317 cy=1363 r=1.7 /><circle cx=310 cy=1357 r=1.7 /><circle cx=421 cy=1112 r=1.7 /><circle cx=262 cy=1361 r=1.7 /><circle cx=256 cy=1134 r=1.7 /><circle cx=237 cy=1254 r=1.7 /><circle cx=301 cy=1410 r=1.7 /><circle cx=276 cy=1404 r=1.7 /><circle cx=218 cy=1209 r=1.7 /><circle cx=236 cy=1199 r=1.7 /><circle cx=436 cy=1162 r=1.7 /><circle cx=551 cy=1138 r=1.7 /><circle cx=475 cy=1158 r=1.7 /><circle cx=533 cy=1093 r=1.7 /><circle cx=324 cy=1028 r=1.7 /><circle cx=263 cy=1377 r=1.7 /><circle cx=443 cy=1195 r=1.7 /><circle cx=253 cy=1182 r=1.7 /><circle cx=295 cy=1076 r=1.7 /><circle cx=303 cy=1045 r=1.7 /><circle cx=248 cy=1169 r=1.7 /><circle cx=457 cy=1195 r=1.7 /><circle cx=272 cy=1175 r=1.7 /><circle cx=478 cy=1261 r=1.7 /><circle cx=278 cy=1066 r=1.7 /><circle cx=252 cy=1079 r=1.7 /><circle cx=237 cy=1249 r=1.7 /><circle cx=218 cy=1177 r=1.7 /><circle cx=305 cy=1067 r=1.7 /><circle cx=313 cy=1110 r=1.7 /><circle cx=272 cy=1137 r=1.7 /><circle cx=315 cy=1024 r=1.7 /><circle cx=435 cy=1131 r=1.7 /><circle cx=204 cy=1197 r=1.7 /><circle cx=263 cy=1109 r=1.7 /><circle cx=499 cy=1107 r=1.7 /><circle cx=549 cy=1110 r=1.7 /><circle cx=464 cy=1220 r=1.7 /><circle cx=309 cy=1004 r=1.7 /><circle cx=436 cy=1218 r=1.7 /><circle cx=458 cy=1248 r=1.7 /><circle cx=219 cy=1166 r=1.7 /><circle cx=269 cy=1101 r=1.7 /><circle cx=513 cy=1146 r=1.7 /><circle cx=251 cy=1266 r=1.7 /><circle cx=512 cy=1142 r=1.7 /><circle cx=225 cy=1099 r=1.7 /><circle cx=518 cy=1178 r=1.7 /><circle cx=328 cy=1041 r=1.7 /><circle cx=492 cy=1145 r=1.7 /><circle cx=262 cy=1154 r=1.7 /><circle cx=311 cy=1040 r=1.7 /><circle cx=125 cy=1069 r=1.7 /><circle cx=476 cy=1222 r=1.7 /><circle cx=319 cy=1117 r=1.7 /><circle cx=216 cy=1003 r=1.7 /><circle cx=493 cy=1151 r=1.7 /><circle cx=378 cy=997 r=1.7 /><circle cx=568 cy=1115 r=1.7 /><circle cx=253 cy=1043 r=1.7 /><circle cx=255 cy=1215 r=1.7 /><circle cx=448 cy=1218 r=1.7 /><circle cx=457 cy=1212 r=1.7 /><circle cx=261 cy=1133 r=1.7 /><circle cx=540 cy=1152 r=1.7 /><circle cx=258 cy=1131 r=1.7 /><circle cx=218 cy=1173 r=1.7 /><circle cx=500 cy=1101 r=1.7 /><circle cx=466 cy=1319 r=1.7 /><circle cx=283 cy=1141 r=1.7 /><circle cx=248 cy=1217 r=1.7 /><circle cx=434 cy=1169 r=1.7 /><circle cx=297 cy=1069 r=1.7 /><circle cx=308 cy=1344 r=1.7 /><circle cx=450 cy=1214 r=1.7 /><circle cx=500 cy=1115 r=1.7 /><circle cx=209 cy=1191 r=1.7 /><circle cx=532 cy=1109 r=1.7 /><circle cx=517 cy=1102 r=1.7 /><circle cx=308 cy=1103 r=1.7 /><circle cx=467 cy=1146 r=1.7 /><circle cx=447 cy=1206 r=1.7 /><circle cx=472 cy=1302 r=1.7 /><circle cx=458 cy=1222 r=1.7 /><circle cx=459 cy=1295 r=1.7 /><circle cx=450 cy=1223 r=1.7 /><circle cx=518 cy=1165 r=1.7 /><circle cx=469 cy=1261 r=1.7 /><circle cx=325 cy=1049 r=1.7 /><circle cx=273 cy=1411 r=1.7 /><circle cx=224 cy=1225 r=1.7 /><circle cx=509 cy=1130 r=1.7 /><circle cx=328 cy=1012 r=1.7 /><circle cx=75 cy=1095 r=1.7 /><circle cx=473 cy=1128 r=1.7 /><circle cx=265 cy=1385 r=1.7 /><circle cx=246 cy=1219 r=1.7 /><circle cx=287 cy=1342 r=1.7 /><circle cx=478 cy=1271 r=1.7 /><circle cx=235 cy=1144 r=1.7 /><circle cx=419 cy=1097 r=1.7 /><circle cx=511 cy=1171 r=1.7 /><circle cx=540 cy=1133 r=1.7 /><circle cx=490 cy=1169 r=1.7 /><circle cx=531 cy=1160 r=1.7 /><circle cx=469 cy=1167 r=1.7 /><circle cx=271 cy=1125 r=1.7 /><circle cx=446 cy=1239 r=1.7 /><circle cx=247 cy=1192 r=1.7 /><circle cx=276 cy=1169 r=1.7 /><circle cx=266 cy=1248 r=1.7 /><circle cx=277 cy=1408 r=1.7 /><circle cx=449 cy=1192 r=1.7 /><circle cx=254 cy=1270 r=1.7 /><circle cx=263 cy=1236 r=1.7 /><circle cx=227 cy=1119 r=1.7 /><circle cx=81 cy=1127 r=1.7 /><circle cx=515 cy=1200 r=1.7 /><circle cx=261 cy=1064 r=1.7 /><circle cx=533 cy=1196 r=1.7 /><circle cx=269 cy=1360 r=1.7 /><circle cx=310 cy=1032 r=1.7 /><circle cx=501 cy=1157 r=1.7 /><circle cx=427 cy=1116 r=1.7 /><circle cx=261 cy=1130 r=1.7 /><circle cx=87 cy=1130 r=1.7 /><circle cx=218 cy=1119 r=1.7 /><circle cx=258 cy=1278 r=1.7 /><circle cx=519 cy=1098 r=1.7 /><circle cx=454 cy=1313 r=1.7 /><circle cx=222 cy=1269 r=1.7 /><circle cx=59 cy=1064 r=1.7 /><circle cx=292 cy=1133 r=1.7 /><circle cx=323 cy=1385 r=1.7 /><circle cx=259 cy=1084 r=1.7 /><circle cx=412 cy=1109 r=1.7 /><circle cx=282 cy=1414 r=1.7 /><circle cx=250 cy=1207 r=1.7 /><circle cx=295 cy=1035 r=1.7 /><circle cx=78 cy=1061 r=1.7 /><circle cx=454 cy=1192 r=1.7 /><circle cx=327 cy=991 r=1.7 /><circle cx=100 cy=1064 r=1.7 /><circle cx=190 cy=1204 r=1.7 /><circle cx=321 cy=1062 r=1.7 /><circle cx=211 cy=1229 r=1.7 /><circle cx=459 cy=1254 r=1.7 /><circle cx=440 cy=1141 r=1.7 /><circle cx=461 cy=1322 r=1.7 /><circle cx=326 cy=970 r=1.7 /><circle cx=320 cy=1391 r=1.7 /><circle cx=301 cy=1127 r=1.7 /><circle cx=501 cy=1095 r=1.7 /><circle cx=565 cy=1119 r=1.7 /><circle cx=517 cy=1117 r=1.7 /><circle cx=568 cy=1119 r=1.7 /><circle cx=207 cy=992 r=1.7 /><circle cx=520 cy=1198 r=1.7 /><circle cx=529 cy=1174 r=1.7 /><circle cx=274 cy=1401 r=1.7 /><circle cx=322 cy=1395 r=1.7 /><circle cx=80 cy=1099 r=1.7 /><circle cx=483 cy=1145 r=1.7 /><circle cx=538 cy=1120 r=1.7 /><circle cx=442 cy=1132 r=1.7 /><circle cx=306 cy=1072 r=1.7 /><circle cx=463 cy=1143 r=1.7 /><circle cx=228 cy=1251 r=1.7 /><circle cx=289 cy=1381 r=1.7 /><circle cx=247 cy=1161 r=1.7 /><circle cx=524 cy=1189 r=1.7 /><circle cx=271 cy=1276 r=1.7 /><circle cx=256 cy=1240 r=1.7 /><circle cx=526 cy=1102 r=1.7 /><circle cx=469 cy=1292 r=1.7 /><circle cx=440 cy=1218 r=1.7 /><circle cx=439 cy=1214 r=1.7 /><circle cx=253 cy=1213 r=1.7 /><circle cx=550 cy=1092 r=1.7 /><circle cx=466 cy=1236 r=1.7 /><circle cx=282 cy=1069 r=1.7 /><circle cx=466 cy=1223 r=1.7 /><circle cx=322 cy=1038 r=1.7 /><circle cx=238 cy=1159 r=1.7 /><circle cx=286 cy=1382 r=1.7 /><circle cx=227 cy=1186 r=1.7 /><circle cx=73 cy=1128 r=1.7 /><circle cx=333 cy=1391 r=1.7 /><circle cx=319 cy=1370 r=1.7 /><circle cx=268 cy=1066 r=1.7 /><circle cx=300 cy=1402 r=1.7 /><circle cx=430 cy=1200 r=1.7 /><circle cx=270 cy=1079 r=1.7 /><circle cx=246 cy=1188 r=1.7 /><circle cx=441 cy=1212 r=1.7 /><circle cx=260 cy=1331 r=1.7 /><circle cx=470 cy=1120 r=1.7 /><circle cx=200 cy=1200 r=1.7 /><circle cx=265 cy=1381 r=1.7 /><circle cx=97 cy=1107 r=1.7 /><circle cx=370 cy=977 r=1.7 /><circle cx=272 cy=1106 r=1.7 /><circle cx=515 cy=1126 r=1.7 /><circle cx=304 cy=1376 r=1.7 /><circle cx=465 cy=1212 r=1.7 /><circle cx=229 cy=1227 r=1.7 /><circle cx=544 cy=1180 r=1.7 /><circle cx=314 cy=982 r=1.7 /><circle cx=336 cy=1370 r=1.7 /><circle cx=252 cy=1092 r=1.7 /><circle cx=197 cy=1190 r=1.7 /><circle cx=216 cy=1188 r=1.7 /><circle cx=81 cy=1114 r=1.7 /><circle cx=336 cy=1020 r=1.7 /><circle cx=425 cy=1180 r=1.7 /><circle cx=332 cy=1389 r=1.7 /><circle cx=524 cy=1130 r=1.7 /><circle cx=550 cy=1133 r=1.7 /><circle cx=231 cy=1190 r=1.7 /><circle cx=238 cy=1107 r=1.7 /><circle cx=77 cy=1040 r=1.7 /><circle cx=442 cy=1138 r=1.7 /><circle cx=435 cy=1214 r=1.7 /><circle cx=64 cy=1070 r=1.7 /><circle cx=408 cy=1110 r=1.7 /><circle cx=113 cy=1083 r=1.7 /><circle cx=427 cy=1174 r=1.7 /><circle cx=463 cy=1311 r=1.7 /><circle cx=298 cy=1085 r=1.7 /><circle cx=410 cy=1112 r=1.7 /><circle cx=476 cy=1173 r=1.7 /><circle cx=273 cy=1348 r=1.7 /><circle cx=248 cy=1154 r=1.7 /><circle cx=247 cy=1092 r=1.7 /><circle cx=547 cy=1171 r=1.7 /><circle cx=216 cy=1244 r=1.7 /><circle cx=231 cy=1138 r=1.7 /><circle cx=328 cy=1392 r=1.7 /><circle cx=325 cy=1394 r=1.7 /><circle cx=541 cy=1136 r=1.7 /><circle cx=242 cy=1201 r=1.7 /><circle cx=248 cy=1046 r=1.7 /><circle cx=231 cy=1122 r=1.7 /><circle cx=296 cy=1424 r=1.7 /><circle cx=295 cy=1116 r=1.7 /><circle cx=310 cy=1090 r=1.7 /><circle cx=201 cy=1192 r=1.7 /><circle cx=505 cy=1098 r=1.7 /><circle cx=258 cy=1144 r=1.7 /><circle cx=220 cy=1214 r=1.7 /><circle cx=442 cy=1222 r=1.7 /><circle cx=200 cy=1168 r=1.7 /><circle cx=291 cy=1105 r=1.7 /><circle cx=250 cy=1063 r=1.7 /><circle cx=432 cy=1201 r=1.7 /><circle cx=273 cy=1366 r=1.7 /><circle cx=453 cy=1195 r=1.7 /><circle cx=209 cy=1167 r=1.7 /><circle cx=263 cy=1251 r=1.7 /><circle cx=492 cy=1139 r=1.7 /><circle cx=245 cy=1222 r=1.7 /><circle cx=246 cy=1119 r=1.7 /><circle cx=83 cy=1118 r=1.7 /><circle cx=475 cy=1164 r=1.7 /><circle cx=517 cy=1150 r=1.7 /><circle cx=466 cy=1295 r=1.7 /><circle cx=340 cy=982 r=1.7 /><circle cx=237 cy=1178 r=1.7 /><circle cx=285 cy=1135 r=1.7 /><circle cx=236 cy=1147 r=1.7 /><circle cx=205 cy=1006 r=1.7 /><circle cx=445 cy=1227 r=1.7 /><circle cx=246 cy=1170 r=1.7 /><circle cx=359 cy=973 r=1.7 /><circle cx=212 cy=1247 r=1.7 /><circle cx=437 cy=1205 r=1.7 /><circle cx=545 cy=1122 r=1.7 /><circle cx=377 cy=986 r=1.7 /><circle cx=474 cy=1289 r=1.7 /><circle cx=512 cy=1189 r=1.7 /><circle cx=243 cy=1251 r=1.7 /><circle cx=296 cy=1401 r=1.7 /><circle cx=287 cy=1360 r=1.7 /><circle cx=567 cy=1112 r=1.7 /><circle cx=340 cy=962 r=1.7 /><circle cx=472 cy=1217 r=1.7 /><circle cx=299 cy=1100 r=1.7 /><circle cx=236 cy=1023 r=1.7 /><circle cx=250 cy=1182 r=1.7 /><circle cx=526 cy=1185 r=1.7 /><circle cx=441 cy=1258 r=1.7 /><circle cx=223 cy=1154 r=1.7 /><circle cx=244 cy=1159 r=1.7 /><circle cx=247 cy=1105 r=1.7 /><circle cx=274 cy=1175 r=1.7 /><circle cx=224 cy=1268 r=1.7 /><circle cx=265 cy=1359 r=1.7 /><circle cx=319 cy=1004 r=1.7 /><circle cx=229 cy=1019 r=1.7 /><circle cx=337 cy=998 r=1.7 /><circle cx=213 cy=1162 r=1.7 /><circle cx=443 cy=1273 r=1.7 /><circle cx=425 cy=1131 r=1.7 /><circle cx=269 cy=1122 r=1.7 /><circle cx=221 cy=1022 r=1.7 /><circle cx=459 cy=1290 r=1.7 /><circle cx=276 cy=1061 r=1.7 /><circle cx=348 cy=1026 r=1.7 /><circle cx=76 cy=1106 r=1.7 /><circle cx=488 cy=1199 r=1.7 /><circle cx=262 cy=1102 r=1.7 /><circle cx=469 cy=1248 r=1.7 /><circle cx=559 cy=1125 r=1.7 /><circle cx=230 cy=1233 r=1.7 /><circle cx=280 cy=1111 r=1.7 /><circle cx=423 cy=1090 r=1.7 /><circle cx=480 cy=1155 r=1.7 /><circle cx=311 cy=1051 r=1.7 /><circle cx=463 cy=1127 r=1.7 /><circle cx=523 cy=1148 r=1.7 /><circle cx=256 cy=1166 r=1.7 /><circle cx=509 cy=1120 r=1.7 /><circle cx=308 cy=1404 r=1.7 /><circle cx=218 cy=1182 r=1.7 /><circle cx=233 cy=1103 r=1.7 /><circle cx=249 cy=1049 r=1.7 /><circle cx=515 cy=1177 r=1.7 /><circle cx=541 cy=1129 r=1.7 /><circle cx=316 cy=1355 r=1.7 /><circle cx=528 cy=1151 r=1.7 /><circle cx=515 cy=1194 r=1.7 /><circle cx=329 cy=1388 r=1.7 /><circle cx=279 cy=1094 r=1.7 /><circle cx=276 cy=1255 r=1.7 /><circle cx=64 cy=1059 r=1.7 /><circle cx=457 cy=1214 r=1.7 /><circle cx=303 cy=1369 r=1.7 /><circle cx=547 cy=1151 r=1.7 /><circle cx=263 cy=1255 r=1.7 /><circle cx=296 cy=1091 r=1.7 /><circle cx=245 cy=1238 r=1.7 /><circle cx=506 cy=1160 r=1.7 /><circle cx=445 cy=1298 r=1.7 /><circle cx=284 cy=1130 r=1.7 /><circle cx=245 cy=1062 r=1.7 /><circle cx=306 cy=1020 r=1.7 /><circle cx=231 cy=1013 r=1.7 /><circle cx=231 cy=1104 r=1.7 /><circle cx=234 cy=1230 r=1.7 /><circle cx=452 cy=1229 r=1.7 /><circle cx=546 cy=1138 r=1.7 /><circle cx=96 cy=1081 r=1.7 /><circle cx=279 cy=1446 r=1.7 /><circle cx=189 cy=1192 r=1.7 /><circle cx=323 cy=1354 r=1.7 /><circle cx=360 cy=986 r=1.7 /><circle cx=85 cy=1103 r=1.7 /><circle cx=92 cy=1051 r=1.7 /><circle cx=70 cy=1073 r=1.7 /><circle cx=506 cy=1133 r=1.7 /><circle cx=462 cy=1174 r=1.7 /><circle cx=284 cy=1055 r=1.7 /><circle cx=215 cy=1018 r=1.7 /><circle cx=510 cy=1163 r=1.7 /><circle cx=500 cy=1165 r=1.7 /><circle cx=312 cy=1069 r=1.7 /><circle cx=458 cy=1229 r=1.7 /><circle cx=263 cy=1071 r=1.7 /><circle cx=548 cy=1149 r=1.7 /><circle cx=297 cy=1095 r=1.7 /><circle cx=243 cy=1173 r=1.7 /><circle cx=404 cy=1103 r=1.7 /><circle cx=248 cy=1082 r=1.7 /><circle cx=557 cy=1108 r=1.7 /><circle cx=117 cy=1057 r=1.7 /><circle cx=282 cy=1375 r=1.7 /><circle cx=193 cy=1204 r=1.7 /><circle cx=292 cy=1041 r=1.7 /><circle cx=290 cy=1073 r=1.7 /><circle cx=502 cy=1205 r=1.7 /><circle cx=206 cy=1194 r=1.7 /><circle cx=211 cy=1007 r=1.7 /><circle cx=222 cy=1255 r=1.7 /><circle cx=532 cy=1102 r=1.7 /><circle cx=444 cy=1249 r=1.7 /><circle cx=423 cy=1096 r=1.7 /><circle cx=258 cy=1169 r=1.7 /><circle cx=284 cy=1073 r=1.7 /><circle cx=91 cy=1077 r=1.7 /><circle cx=497 cy=1102 r=1.7 /><circle cx=324 cy=1004 r=1.7 /><circle cx=359 cy=998 r=1.7 /><circle cx=87 cy=1086 r=1.7 /><circle cx=295 cy=1389 r=1.7 /><circle cx=67 cy=1075 r=1.7 /><circle cx=451 cy=1210 r=1.7 /><circle cx=335 cy=1383 r=1.7 /><circle cx=264 cy=1270 r=1.7 /><circle cx=267 cy=1362 r=1.7 /><circle cx=333 cy=984 r=1.7 /><circle cx=309 cy=1384 r=1.7 /><circle cx=294 cy=1343 r=1.7 /><circle cx=278 cy=1420 r=1.7 /><circle cx=334 cy=1010 r=1.7 /><circle cx=297 cy=1381 r=1.7 /><circle cx=436 cy=1223 r=1.7 /><circle cx=296 cy=1439 r=1.7 /><circle cx=292 cy=1366 r=1.7 /><circle cx=227 cy=1145 r=1.7 /><circle cx=255 cy=1260 r=1.7 /><circle cx=286 cy=1109 r=1.7 /><circle cx=475 cy=1240 r=1.7 /><circle cx=117 cy=1065 r=1.7 /><circle cx=443 cy=1242 r=1.7 /><circle cx=210 cy=1143 r=1.7 /><circle cx=501 cy=1126 r=1.7 /><circle cx=319 cy=1112 r=1.7 /><circle cx=493 cy=1177 r=1.7 /><circle cx=476 cy=1117 r=1.7 /><circle cx=304 cy=1077 r=1.7 /><circle cx=285 cy=1355 r=1.7 /><circle cx=267 cy=1342 r=1.7 /><circle cx=82 cy=1124 r=1.7 /><circle cx=70 cy=1133 r=1.7 /><circle cx=530 cy=1087 r=1.7 /><circle cx=347 cy=963 r=1.7 /><circle cx=71 cy=1054 r=1.7 /><circle cx=237 cy=1116 r=1.7 /><circle cx=419 cy=1133 r=1.7 /><circle cx=488 cy=1215 r=1.7 /><circle cx=68 cy=1045 r=1.7 /><circle cx=265 cy=1047 r=1.7 /><circle cx=467 cy=1230 r=1.7 /><circle cx=319 cy=1017 r=1.7 /><circle cx=433 cy=1146 r=1.7 /><circle cx=323 cy=1348 r=1.7 /><circle cx=317 cy=1087 r=1.7 /><circle cx=272 cy=1362 r=1.7 /><circle cx=83 cy=1079 r=1.7 /><circle cx=236 cy=1096 r=1.7 /><circle cx=256 cy=1101 r=1.7 /><circle cx=522 cy=1145 r=1.7 /><circle cx=223 cy=1138 r=1.7 /><circle cx=101 cy=1087 r=1.7 /><circle cx=249 cy=1176 r=1.7 /><circle cx=77 cy=1103 r=1.7 /><circle cx=456 cy=1240 r=1.7 /><circle cx=198 cy=1210 r=1.7 /><circle cx=527 cy=1122 r=1.7 /><circle cx=276 cy=1167 r=1.7 /><circle cx=478 cy=1120 r=1.7 /><circle cx=279 cy=1440 r=1.7 /><circle cx=279 cy=1397 r=1.7 /><circle cx=444 cy=1206 r=1.7 /></g>
<g class="q1c" fill="#ffffff" stroke="#4a4a4a" stroke-width="1.3"><circle cx=313 cy=1060 r=2 /><circle cx=254 cy=1263 r=2 /><circle cx=469 cy=1154 r=2 /><circle cx=302 cy=1116 r=2 /><circle cx=442 cy=1153 r=2 /><circle cx=449 cy=1145 r=2 /><circle cx=295 cy=1104 r=2 /><circle cx=84 cy=1046 r=2 /><circle cx=519 cy=1193 r=2 /><circle cx=539 cy=1104 r=2 /><circle cx=258 cy=1335 r=2 /><circle cx=344 cy=1022 r=2 /><circle cx=290 cy=1100 r=2 /><circle cx=483 cy=1290 r=2 /><circle cx=328 cy=1053 r=2 /><circle cx=312 cy=1092 r=2 /><circle cx=513 cy=1125 r=2 /><circle cx=472 cy=1139 r=2 /><circle cx=458 cy=1135 r=2 /><circle cx=295 cy=1079 r=2 /><circle cx=76 cy=1092 r=2 /><circle cx=430 cy=1140 r=2 /><circle cx=356 cy=997 r=2 /><circle cx=443 cy=1149 r=2 /><circle cx=223 cy=1210 r=2 /><circle cx=494 cy=1186 r=2 /><circle cx=252 cy=1278 r=2 /><circle cx=470 cy=1232 r=2 /><circle cx=362 cy=1006 r=2 /><circle cx=490 cy=1202 r=2 /><circle cx=454 cy=1289 r=2 /><circle cx=472 cy=1276 r=2 /><circle cx=445 cy=1200 r=2 /><circle cx=274 cy=1163 r=2 /><circle cx=429 cy=1208 r=2 /><circle cx=373 cy=1011 r=2 /><circle cx=248 cy=1141 r=2 /><circle cx=480 cy=1174 r=2 /><circle cx=235 cy=1271 r=2 /><circle cx=465 cy=1136 r=2 /><circle cx=298 cy=1410 r=2 /><circle cx=446 cy=1143 r=2 /><circle cx=326 cy=1063 r=2 /><circle cx=296 cy=1089 r=2 /><circle cx=308 cy=1036 r=2 /><circle cx=62 cy=1086 r=2 /><circle cx=526 cy=1149 r=2 /><circle cx=242 cy=1275 r=2 /><circle cx=468 cy=1136 r=2 /><circle cx=255 cy=1111 r=2 /><circle cx=445 cy=1292 r=2 /><circle cx=509 cy=1123 r=2 /><circle cx=327 cy=1030 r=2 /><circle cx=238 cy=1230 r=2 /><circle cx=220 cy=1130 r=2 /><circle cx=445 cy=1148 r=2 /><circle cx=277 cy=1391 r=2 /><circle cx=472 cy=1259 r=2 /><circle cx=205 cy=1235 r=2 /><circle cx=303 cy=1073 r=2 /><circle cx=272 cy=1168 r=2 /><circle cx=414 cy=1124 r=2 /><circle cx=465 cy=1158 r=2 /><circle cx=299 cy=1045 r=2 /><circle cx=478 cy=1208 r=2 /><circle cx=292 cy=1050 r=2 /><circle cx=554 cy=1096 r=2 /><circle cx=246 cy=1212 r=2 /><circle cx=254 cy=1071 r=2 /><circle cx=272 cy=1096 r=2 /><circle cx=464 cy=1201 r=2 /><circle cx=448 cy=1231 r=2 /><circle cx=314 cy=1377 r=2 /><circle cx=254 cy=1281 r=2 /><circle cx=476 cy=1266 r=2 /><circle cx=308 cy=974 r=2 /><circle cx=259 cy=1148 r=2 /><circle cx=457 cy=1265 r=2 /><circle cx=265 cy=1067 r=2 /><circle cx=429 cy=1116 r=2 /><circle cx=267 cy=1132 r=2 /><circle cx=404 cy=1094 r=2 /><circle cx=325 cy=1074 r=2 /><circle cx=249 cy=1242 r=2 /><circle cx=514 cy=1157 r=2 /><circle cx=526 cy=1195 r=2 /><circle cx=294 cy=1354 r=2 /><circle cx=228 cy=1022 r=2 /><circle cx=438 cy=1267 r=2 /><circle cx=255 cy=1097 r=2 /><circle cx=530 cy=1148 r=2 /><circle cx=292 cy=1359 r=2 /><circle cx=279 cy=1425 r=2 /><circle cx=246 cy=1100 r=2 /><circle cx=214 cy=1193 r=2 /><circle cx=451 cy=1137 r=2 /><circle cx=266 cy=1379 r=2 /><circle cx=326 cy=977 r=2 /><circle cx=201 cy=1218 r=2 /><circle cx=430 cy=1136 r=2 /><circle cx=89 cy=1077 r=2 /><circle cx=54 cy=1065 r=2 /><circle cx=268 cy=1369 r=2 /><circle cx=319 cy=977 r=2 /><circle cx=258 cy=1065 r=2 /><circle cx=491 cy=1155 r=2 /><circle cx=320 cy=973 r=2 /><circle cx=267 cy=1127 r=2 /><circle cx=493 cy=1179 r=2 /><circle cx=261 cy=1145 r=2 /><circle cx=291 cy=1403 r=2 /><circle cx=198 cy=1196 r=2 /><circle cx=528 cy=1190 r=2 /><circle cx=476 cy=1180 r=2 /><circle cx=470 cy=1176 r=2 /><circle cx=225 cy=1156 r=2 /><circle cx=70 cy=1102 r=2 /><circle cx=320 cy=1380 r=2 /><circle cx=368 cy=981 r=2 /><circle cx=209 cy=1181 r=2 /><circle cx=414 cy=1119 r=2 /><circle cx=299 cy=1023 r=2 /><circle cx=292 cy=1119 r=2 /><circle cx=358 cy=1010 r=2 /><circle cx=326 cy=963 r=2 /><circle cx=431 cy=1147 r=2 /><circle cx=224 cy=1022 r=2 /><circle cx=536 cy=1177 r=2 /><circle cx=369 cy=1006 r=2 /><circle cx=279 cy=1128 r=2 /><circle cx=100 cy=1095 r=2 /><circle cx=303 cy=982 r=2 /><circle cx=243 cy=1268 r=2 /><circle cx=330 cy=1366 r=2 /><circle cx=490 cy=1126 r=2 /><circle cx=426 cy=1176 r=2 /><circle cx=446 cy=1232 r=2 /><circle cx=438 cy=1195 r=2 /><circle cx=273 cy=1353 r=2 /><circle cx=439 cy=1149 r=2 /><circle cx=220 cy=1114 r=2 /><circle cx=459 cy=1308 r=2 /><circle cx=280 cy=1047 r=2 /><circle cx=291 cy=1397 r=2 /><circle cx=272 cy=1050 r=2 /><circle cx=465 cy=1278 r=2 /><circle cx=226 cy=1255 r=2 /><circle cx=539 cy=1108 r=2 /><circle cx=440 cy=1170 r=2 /><circle cx=59 cy=1082 r=2 /><circle cx=293 cy=1351 r=2 /><circle cx=290 cy=1333 r=2 /><circle cx=464 cy=1265 r=2 /><circle cx=228 cy=1101 r=2 /><circle cx=544 cy=1166 r=2 /><circle cx=519 cy=1157 r=2 /><circle cx=375 cy=989 r=2 /><circle cx=445 cy=1193 r=2 /><circle cx=510 cy=1151 r=2 /><circle cx=283 cy=1329 r=2 /><circle cx=333 cy=1378 r=2 /><circle cx=283 cy=1443 r=2 /><circle cx=93 cy=1087 r=2 /><circle cx=240 cy=1188 r=2 /><circle cx=215 cy=1111 r=2 /><circle cx=425 cy=1123 r=2 /><circle cx=533 cy=1098 r=2 /><circle cx=445 cy=1135 r=2 /><circle cx=279 cy=1125 r=2 /><circle cx=441 cy=1176 r=2 /><circle cx=483 cy=1198 r=2 /><circle cx=504 cy=1199 r=2 /><circle cx=366 cy=1008 r=2 /><circle cx=560 cy=1117 r=2 /><circle cx=260 cy=1251 r=2 /><circle cx=333 cy=1013 r=2 /><circle cx=558 cy=1133 r=2 /><circle cx=462 cy=1136 r=2 /><circle cx=236 cy=1183 r=2 /><circle cx=287 cy=1442 r=2 /><circle cx=337 cy=979 r=2 /><circle cx=263 cy=1039 r=2 /><circle cx=342 cy=1026 r=2 /><circle cx=469 cy=1286 r=2 /><circle cx=497 cy=1184 r=2 /><circle cx=259 cy=1129 r=2 /><circle cx=249 cy=1112 r=2 /><circle cx=225 cy=994 r=2 /><circle cx=193 cy=1192 r=2 /><circle cx=324 cy=1058 r=2 /><circle cx=278 cy=1077 r=2 /><circle cx=411 cy=1105 r=2 /><circle cx=542 cy=1089 r=2 /><circle cx=316 cy=1035 r=2 /><circle cx=82 cy=1046 r=2 /><circle cx=245 cy=1060 r=2 /><circle cx=285 cy=1385 r=2 /><circle cx=198 cy=1006 r=2 /><circle cx=359 cy=1003 r=2 /><circle cx=263 cy=1142 r=2 /><circle cx=479 cy=1205 r=2 /><circle cx=254 cy=1174 r=2 /><circle cx=449 cy=1299 r=2 /><circle cx=245 cy=1082 r=2 /><circle cx=253 cy=1145 r=2 /><circle cx=225 cy=1112 r=2 /><circle cx=300 cy=1414 r=2 /><circle cx=352 cy=998 r=2 /><circle cx=454 cy=1298 r=2 /><circle cx=284 cy=1074 r=2 /><circle cx=483 cy=1162 r=2 /><circle cx=274 cy=1106 r=2 /><circle cx=90 cy=1062 r=2 /><circle cx=284 cy=1372 r=2 /><circle cx=362 cy=988 r=2 /><circle cx=228 cy=1004 r=2 /><circle cx=292 cy=1423 r=2 /><circle cx=546 cy=1165 r=2 /><circle cx=272 cy=1239 r=2 /><circle cx=450 cy=1142 r=2 /><circle cx=75 cy=1063 r=2 /><circle cx=77 cy=1113 r=2 /><circle cx=302 cy=1091 r=2 /><circle cx=213 cy=1214 r=2 /><circle cx=463 cy=1217 r=2 /><circle cx=322 cy=1105 r=2 /><circle cx=79 cy=1054 r=2 /><circle cx=545 cy=1148 r=2 /><circle cx=291 cy=1115 r=2 /><circle cx=452 cy=1160 r=2 /><circle cx=308 cy=1387 r=2 /><circle cx=310 cy=1088 r=2 /><circle cx=291 cy=1059 r=2 /><circle cx=226 cy=1191 r=2 /><circle cx=319 cy=1383 r=2 /><circle cx=296 cy=1379 r=2 /><circle cx=221 cy=1116 r=2 /><circle cx=456 cy=1244 r=2 /><circle cx=361 cy=982 r=2 /><circle cx=263 cy=1244 r=2 /><circle cx=278 cy=1370 r=2 /><circle cx=514 cy=1090 r=2 /><circle cx=267 cy=1095 r=2 /><circle cx=344 cy=1012 r=2 /><circle cx=315 cy=1058 r=2 /><circle cx=308 cy=1084 r=2 /><circle cx=305 cy=1342 r=2 /><circle cx=216 cy=1141 r=2 /><circle cx=452 cy=1151 r=2 /><circle cx=447 cy=1273 r=2 /><circle cx=361 cy=994 r=2 /><circle cx=200 cy=1203 r=2 /><circle cx=302 cy=1354 r=2 /><circle cx=324 cy=1101 r=2 /><circle cx=258 cy=1230 r=2 /><circle cx=242 cy=1132 r=2 /><circle cx=323 cy=1091 r=2 /><circle cx=522 cy=1167 r=2 /><circle cx=300 cy=1388 r=2 /><circle cx=78 cy=1074 r=2 /><circle cx=477 cy=1299 r=2 /><circle cx=294 cy=1429 r=2 /><circle cx=272 cy=1056 r=2 /><circle cx=67 cy=1094 r=2 /><circle cx=294 cy=1408 r=2 /><circle cx=263 cy=1280 r=2 /><circle cx=479 cy=1283 r=2 /><circle cx=221 cy=1003 r=2 /><circle cx=339 cy=968 r=2 /><circle cx=490 cy=1152 r=2 /><circle cx=241 cy=1154 r=2 /><circle cx=317 cy=978 r=2 /><circle cx=79 cy=1042 r=2 /><circle cx=254 cy=1053 r=2 /><circle cx=493 cy=1198 r=2 /><circle cx=233 cy=1013 r=2 /><circle cx=227 cy=1133 r=2 /><circle cx=73 cy=1083 r=2 /><circle cx=347 cy=970 r=2 /><circle cx=292 cy=1426 r=2 /><circle cx=359 cy=1007 r=2 /><circle cx=234 cy=1263 r=2 /><circle cx=497 cy=1133 r=2 /><circle cx=109 cy=1084 r=2 /><circle cx=327 cy=1072 r=2 /><circle cx=506 cy=1114 r=2 /><circle cx=432 cy=1217 r=2 /><circle cx=298 cy=1054 r=2 /><circle cx=83 cy=1067 r=2 /><circle cx=211 cy=1115 r=2 /><circle cx=239 cy=1233 r=2 /><circle cx=438 cy=1134 r=2 /><circle cx=518 cy=1127 r=2 /><circle cx=480 cy=1180 r=2 /><circle cx=486 cy=1292 r=2 /><circle cx=82 cy=1129 r=2 /><circle cx=67 cy=1068 r=2 /><circle cx=434 cy=1153 r=2 /><circle cx=326 cy=1376 r=2 /><circle cx=302 cy=1084 r=2 /><circle cx=371 cy=996 r=2 /><circle cx=457 cy=1228 r=2 /><circle cx=227 cy=1257 r=2 /><circle cx=447 cy=1251 r=2 /><circle cx=75 cy=1134 r=2 /><circle cx=262 cy=1161 r=2 /><circle cx=302 cy=1385 r=2 /><circle cx=456 cy=1189 r=2 /><circle cx=272 cy=1070 r=2 /><circle cx=274 cy=1115 r=2 /><circle cx=453 cy=1264 r=2 /><circle cx=72 cy=1137 r=2 /><circle cx=232 cy=1219 r=2 /><circle cx=338 cy=1001 r=2 /><circle cx=212 cy=1187 r=2 /><circle cx=469 cy=1211 r=2 /><circle cx=560 cy=1097 r=2 /><circle cx=269 cy=1246 r=2 /><circle cx=229 cy=1161 r=2 /><circle cx=433 cy=1205 r=2 /><circle cx=502 cy=1124 r=2 /><circle cx=456 cy=1165 r=2 /><circle cx=497 cy=1139 r=2 /><circle cx=289 cy=1132 r=2 /><circle cx=449 cy=1179 r=2 /><circle cx=231 cy=1011 r=2 /><circle cx=338 cy=1021 r=2 /><circle cx=273 cy=1084 r=2 /><circle cx=224 cy=1147 r=2 /><circle cx=355 cy=1009 r=2 /><circle cx=551 cy=1111 r=2 /><circle cx=223 cy=991 r=2 /><circle cx=251 cy=1242 r=2 /><circle cx=321 cy=995 r=2 /><circle cx=219 cy=1001 r=2 /><circle cx=100 cy=1073 r=2 /><circle cx=283 cy=1086 r=2 /><circle cx=330 cy=1380 r=2 /><circle cx=449 cy=1152 r=2 /><circle cx=511 cy=1199 r=2 /><circle cx=463 cy=1152 r=2 /><circle cx=263 cy=1171 r=2 /><circle cx=554 cy=1132 r=2 /><circle cx=506 cy=1180 r=2 /><circle cx=473 cy=1306 r=2 /><circle cx=457 cy=1277 r=2 /><circle cx=245 cy=1229 r=2 /><circle cx=264 cy=1231 r=2 /><circle cx=516 cy=1112 r=2 /><circle cx=523 cy=1091 r=2 /><circle cx=506 cy=1170 r=2 /><circle cx=465 cy=1216 r=2 /><circle cx=291 cy=1435 r=2 /><circle cx=311 cy=968 r=2 /><circle cx=442 cy=1151 r=2 /><circle cx=255 cy=1066 r=2 /><circle cx=275 cy=1364 r=2 /><circle cx=519 cy=1195 r=2 /><circle cx=294 cy=1086 r=2 /><circle cx=225 cy=1108 r=2 /><circle cx=244 cy=1204 r=2 /><circle cx=468 cy=1279 r=2 /><circle cx=308 cy=1053 r=2 /><circle cx=448 cy=1237 r=2 /><circle cx=468 cy=1190 r=2 /><circle cx=330 cy=1103 r=2 /><circle cx=230 cy=1148 r=2 /><circle cx=494 cy=1122 r=2 /><circle cx=102 cy=1075 r=2 /><circle cx=227 cy=1026 r=2 /><circle cx=439 cy=1189 r=2 /><circle cx=220 cy=1104 r=2 /><circle cx=211 cy=1255 r=2 /><circle cx=538 cy=1187 r=2 /><circle cx=470 cy=1201 r=2 /><circle cx=244 cy=1104 r=2 /><circle cx=332 cy=990 r=2 /><circle cx=329 cy=974 r=2 /><circle cx=507 cy=1188 r=2 /><circle cx=559 cy=1115 r=2 /><circle cx=192 cy=1201 r=2 /><circle cx=544 cy=1152 r=2 /><circle cx=295 cy=1417 r=2 /><circle cx=471 cy=1164 r=2 /><circle cx=474 cy=1301 r=2 /><circle cx=62 cy=1063 r=2 /><circle cx=261 cy=1114 r=2 /><circle cx=486 cy=1174 r=2 /><circle cx=465 cy=1261 r=2 /><circle cx=470 cy=1256 r=2 /><circle cx=283 cy=1351 r=2 /><circle cx=276 cy=1138 r=2 /><circle cx=528 cy=1170 r=2 /><circle cx=546 cy=1145 r=2 /><circle cx=499 cy=1183 r=2 /><circle cx=472 cy=1288 r=2 /><circle cx=266 cy=1259 r=2 /><circle cx=312 cy=1034 r=2 /><circle cx=508 cy=1126 r=2 /><circle cx=275 cy=1092 r=2 /><circle cx=322 cy=1014 r=2 /><circle cx=279 cy=1403 r=2 /><circle cx=267 cy=1097 r=2 /><circle cx=277 cy=1170 r=2 /><circle cx=295 cy=1062 r=2 /><circle cx=297 cy=1058 r=2 /><circle cx=80 cy=1068 r=2 /><circle cx=254 cy=1078 r=2 /><circle cx=229 cy=1198 r=2 /><circle cx=262 cy=1244 r=2 /><circle cx=57 cy=1062 r=2 /><circle cx=323 cy=1031 r=2 /><circle cx=504 cy=1202 r=2 /><circle cx=456 cy=1234 r=2 /><circle cx=493 cy=1158 r=2 /><circle cx=326 cy=982 r=2 /><circle cx=278 cy=1400 r=2 /><circle cx=248 cy=1277 r=2 /><circle cx=551 cy=1142 r=2 /><circle cx=485 cy=1145 r=2 /><circle cx=475 cy=1196 r=2 /><circle cx=479 cy=1292 r=2 /><circle cx=247 cy=1087 r=2 /><circle cx=278 cy=1380 r=2 /><circle cx=316 cy=1096 r=2 /><circle cx=314 cy=1100 r=2 /><circle cx=241 cy=1198 r=2 /><circle cx=308 cy=1377 r=2 /><circle cx=348 cy=1000 r=2 /><circle cx=70 cy=1069 r=2 /><circle cx=332 cy=1007 r=2 /><circle cx=281 cy=1136 r=2 /><circle cx=462 cy=1237 r=2 /><circle cx=482 cy=1126 r=2 /><circle cx=266 cy=1334 r=2 /><circle cx=245 cy=1068 r=2 /><circle cx=209 cy=1003 r=2 /><circle cx=285 cy=1414 r=2 /><circle cx=434 cy=1230 r=2 /><circle cx=239 cy=1050 r=2 /><circle cx=432 cy=1198 r=2 /><circle cx=87 cy=1126 r=2 /><circle cx=294 cy=1081 r=2 /><circle cx=352 cy=1010 r=2 /><circle cx=487 cy=1185 r=2 /><circle cx=91 cy=1089 r=2 /><circle cx=267 cy=1068 r=2 /><circle cx=223 cy=1234 r=2 /><circle cx=554 cy=1102 r=2 /><circle cx=500 cy=1146 r=2 /><circle cx=250 cy=1088 r=2 /><circle cx=506 cy=1139 r=2 /><circle cx=236 cy=1044 r=2 /><circle cx=328 cy=967 r=2 /><circle cx=308 cy=1060 r=2 /><circle cx=481 cy=1286 r=2 /><circle cx=406 cy=1091 r=2 /><circle cx=294 cy=1128 r=2 /><circle cx=451 cy=1207 r=2 /><circle cx=472 cy=1174 r=2 /><circle cx=275 cy=1337 r=2 /><circle cx=277 cy=1410 r=2 /><circle cx=207 cy=1003 r=2 /><circle cx=510 cy=1158 r=2 /><circle cx=242 cy=1112 r=2 /><circle cx=474 cy=1279 r=2 /><circle cx=314 cy=988 r=2 /><circle cx=106 cy=1057 r=2 /><circle cx=241 cy=1069 r=2 /><circle cx=297 cy=1358 r=2 /><circle cx=104 cy=1051 r=2 /><circle cx=449 cy=1239 r=2 /><circle cx=276 cy=1111 r=2 /><circle cx=252 cy=1075 r=2 /><circle cx=304 cy=1394 r=2 /><circle cx=441 cy=1215 r=2 /><circle cx=208 cy=1185 r=2 /><circle cx=294 cy=1097 r=2 /><circle cx=310 cy=982 r=2 /><circle cx=522 cy=1182 r=2 /><circle cx=79 cy=1125 r=2 /><circle cx=274 cy=1394 r=2 /><circle cx=249 cy=1163 r=2 /><circle cx=461 cy=1182 r=2 /><circle cx=433 cy=1193 r=2 /><circle cx=308 cy=1016 r=2 /><circle cx=483 cy=1298 r=2 /><circle cx=84 cy=1120 r=2 /><circle cx=294 cy=1369 r=2 /><circle cx=450 cy=1233 r=2 /><circle cx=526 cy=1130 r=2 /><circle cx=246 cy=1281 r=2 /><circle cx=229 cy=1265 r=2 /><circle cx=89 cy=1074 r=2 /><circle cx=299 cy=1095 r=2 /><circle cx=453 cy=1283 r=2 /><circle cx=534 cy=1191 r=2 /><circle cx=460 cy=1271 r=2 /><circle cx=247 cy=1178 r=2 /><circle cx=269 cy=1263 r=2 /><circle cx=111 cy=1068 r=2 /><circle cx=216 cy=1198 r=2 /><circle cx=513 cy=1191 r=2 /><circle cx=230 cy=1001 r=2 /><circle cx=243 cy=1210 r=2 /><circle cx=224 cy=1213 r=2 /><circle cx=80 cy=1112 r=2 /><circle cx=454 cy=1185 r=2 /><circle cx=487 cy=1137 r=2 /><circle cx=327 cy=1080 r=2 /><circle cx=272 cy=1389 r=2 /><circle cx=451 cy=1245 r=2 /><circle cx=75 cy=1139 r=2 /><circle cx=535 cy=1199 r=2 /><circle cx=253 cy=1058 r=2 /><circle cx=536 cy=1170 r=2 /><circle cx=216 cy=1128 r=2 /><circle cx=535 cy=1123 r=2 /><circle cx=450 cy=1183 r=2 /><circle cx=454 cy=1156 r=2 /><circle cx=332 cy=1372 r=2 /><circle cx=243 cy=1088 r=2 /><circle cx=328 cy=968 r=2 /><circle cx=110 cy=1076 r=2 /><circle cx=450 cy=1163 r=2 /><circle cx=526 cy=1116 r=2 /><circle cx=201 cy=1180 r=2 /><circle cx=470 cy=1142 r=2 /><circle cx=212 cy=1222 r=2 /><circle cx=301 cy=1391 r=2 /><circle cx=290 cy=1107 r=2 /><circle cx=80 cy=1118 r=2 /><circle cx=305 cy=984 r=2 /><circle cx=233 cy=1267 r=2 /><circle cx=484 cy=1286 r=2 /><circle cx=215 cy=1216 r=2 /><circle cx=458 cy=1126 r=2 /><circle cx=312 cy=1085 r=2 /><circle cx=94 cy=1092 r=2 /><circle cx=252 cy=1064 r=2 /><circle cx=465 cy=1248 r=2 /><circle cx=340 cy=1026 r=2 /><circle cx=231 cy=1272 r=2 /><circle cx=336 cy=987 r=2 /><circle cx=450 cy=1262 r=2 /><circle cx=297 cy=1393 r=2 /><circle cx=297 cy=1442 r=2 /><circle cx=278 cy=1416 r=2 /><circle cx=292 cy=1443 r=2 /><circle cx=552 cy=1160 r=2 /><circle cx=339 cy=1004 r=2 /><circle cx=267 cy=1153 r=2 /><circle cx=334 cy=980 r=2 /><circle cx=237 cy=1061 r=2 /><circle cx=239 cy=1264 r=2 /><circle cx=502 cy=1166 r=2 /><circle cx=271 cy=1075 r=2 /><circle cx=269 cy=1059 r=2 /><circle cx=301 cy=1029 r=2 /><circle cx=532 cy=1095 r=2 /><circle cx=455 cy=1174 r=2 /><circle cx=82 cy=1088 r=2 /><circle cx=247 cy=1133 r=2 /><circle cx=281 cy=1112 r=2 /><circle cx=314 cy=1408 r=2 /><circle cx=280 cy=1078 r=2 /><circle cx=316 cy=1356 r=2 /><circle cx=486 cy=1107 r=2 /><circle cx=197 cy=1172 r=2 /><circle cx=229 cy=1241 r=2 /><circle cx=226 cy=1218 r=2 /><circle cx=70 cy=1144 r=2 /><circle cx=246 cy=1145 r=2 /><circle cx=302 cy=1360 r=2 /><circle cx=503 cy=1170 r=2 /><circle cx=290 cy=1439 r=2 /><circle cx=476 cy=1186 r=2 /><circle cx=552 cy=1150 r=2 /><circle cx=240 cy=1053 r=2 /><circle cx=424 cy=1122 r=2 /><circle cx=486 cy=1162 r=2 /><circle cx=324 cy=1378 r=2 /><circle cx=91 cy=1068 r=2 /><circle cx=86 cy=1122 r=2 /><circle cx=307 cy=1025 r=2 /><circle cx=268 cy=1163 r=2 /><circle cx=446 cy=1152 r=2 /><circle cx=450 cy=1253 r=2 /><circle cx=324 cy=997 r=2 /><circle cx=298 cy=1034 r=2 /><circle cx=263 cy=1230 r=2 /><circle cx=73 cy=1119 r=2 /><circle cx=252 cy=1153 r=2 /><circle cx=474 cy=1260 r=2 /><circle cx=275 cy=1124 r=2 /><circle cx=234 cy=1217 r=2 /><circle cx=423 cy=1185 r=2 /><circle cx=250 cy=1157 r=2 /><circle cx=478 cy=1305 r=2 /><circle cx=483 cy=1130 r=2 /><circle cx=306 cy=1029 r=2 /><circle cx=468 cy=1307 r=2 /><circle cx=462 cy=1275 r=2 /><circle cx=545 cy=1161 r=2 /><circle cx=88 cy=1051 r=2 /><circle cx=117 cy=1075 r=2 /><circle cx=230 cy=1135 r=2 /><circle cx=206 cy=1000 r=2 /><circle cx=483 cy=1186 r=2 /><circle cx=250 cy=1135 r=2 /><circle cx=306 cy=1370 r=2 /><circle cx=297 cy=1106 r=2 /><circle cx=454 cy=1305 r=2 /><circle cx=483 cy=1174 r=2 /><circle cx=281 cy=1354 r=2 /><circle cx=532 cy=1090 r=2 /><circle cx=533 cy=1164 r=2 /><circle cx=238 cy=1174 r=2 /><circle cx=216 cy=1185 r=2 /><circle cx=494 cy=1173 r=2 /><circle cx=495 cy=1155 r=2 /><circle cx=282 cy=1075 r=2 /><circle cx=286 cy=1043 r=2 /><circle cx=201 cy=1235 r=2 /><circle cx=447 cy=1304 r=2 /><circle cx=271 cy=1372 r=2 /><circle cx=308 cy=1124 r=2 /><circle cx=276 cy=1078 r=2 /><circle cx=546 cy=1159 r=2 /><circle cx=254 cy=1048 r=2 /><circle cx=79 cy=1079 r=2 /><circle cx=219 cy=1132 r=2 /><circle cx=344 cy=982 r=2 /><circle cx=556 cy=1123 r=2 /><circle cx=223 cy=1006 r=2 /><circle cx=117 cy=1070 r=2 /><circle cx=346 cy=966 r=2 /><circle cx=227 cy=1151 r=2 /><circle cx=484 cy=1166 r=2 /><circle cx=441 cy=1192 r=2 /><circle cx=69 cy=1041 r=2 /><circle cx=257 cy=1070 r=2 /><circle cx=223 cy=1159 r=2 /><circle cx=320 cy=1385 r=2 /><circle cx=275 cy=1265 r=2 /><circle cx=499 cy=1186 r=2 /><circle cx=293 cy=1347 r=2 /><circle cx=75 cy=1115 r=2 /><circle cx=350 cy=1002 r=2 /><circle cx=375 cy=1000 r=2 /><circle cx=108 cy=1075 r=2 /><circle cx=256 cy=1343 r=2 /><circle cx=286 cy=1344 r=2 /><circle cx=231 cy=1017 r=2 /><circle cx=299 cy=1015 r=2 /><circle cx=447 cy=1195 r=2 /><circle cx=542 cy=1162 r=2 /><circle cx=259 cy=1173 r=2 /><circle cx=285 cy=1395 r=2 /><circle cx=220 cy=1237 r=2 /><circle cx=435 cy=1190 r=2 /><circle cx=212 cy=1177 r=2 /><circle cx=283 cy=1341 r=2 /><circle cx=60 cy=1052 r=2 /><circle cx=436 cy=1144 r=2 /><circle cx=254 cy=1107 r=2 /><circle cx=268 cy=1057 r=2 /><circle cx=80 cy=1120 r=2 /><circle cx=457 cy=1306 r=2 /><circle cx=296 cy=1051 r=2 /><circle cx=493 cy=1132 r=2 /><circle cx=341 cy=1016 r=2 /><circle cx=225 cy=1269 r=2 /><circle cx=323 cy=975 r=2 /><circle cx=263 cy=1178 r=2 /><circle cx=468 cy=1165 r=2 /><circle cx=59 cy=1127 r=2 /><circle cx=99 cy=1077 r=2 /><circle cx=189 cy=1194 r=2 /><circle cx=329 cy=1076 r=2 /><circle cx=543 cy=1139 r=2 /><circle cx=280 cy=1123 r=2 /><circle cx=249 cy=1147 r=2 /><circle cx=304 cy=1023 r=2 /><circle cx=277 cy=1115 r=2 /><circle cx=265 cy=1176 r=2 /><circle cx=325 cy=1365 r=2 /><circle cx=208 cy=1172 r=2 /><circle cx=535 cy=1184 r=2 /><circle cx=203 cy=1196 r=2 /><circle cx=269 cy=1342 r=2 /><circle cx=504 cy=1111 r=2 /><circle cx=522 cy=1136 r=2 /><circle cx=323 cy=1099 r=2 /><circle cx=456 cy=1308 r=2 /><circle cx=537 cy=1148 r=2 /><circle cx=312 cy=1400 r=2 /><circle cx=239 cy=1238 r=2 /><circle cx=287 cy=1372 r=2 /><circle cx=452 cy=1255 r=2 /><circle cx=455 cy=1285 r=2 /><circle cx=293 cy=1089 r=2 /><circle cx=429 cy=1174 r=2 /><circle cx=495 cy=1168 r=2 /><circle cx=428 cy=1203 r=2 /><circle cx=213 cy=1238 r=2 /><circle cx=269 cy=1091 r=2 /><circle cx=233 cy=1167 r=2 /><circle cx=81 cy=1064 r=2 /><circle cx=245 cy=1247 r=2 /><circle cx=297 cy=1020 r=2 /><circle cx=303 cy=1345 r=2 /><circle cx=219 cy=1099 r=2 /><circle cx=291 cy=1393 r=2 /><circle cx=284 cy=1397 r=2 /><circle cx=345 cy=972 r=2 /><circle cx=543 cy=1120 r=2 /><circle cx=329 cy=1083 r=2 /><circle cx=64 cy=1087 r=2 /><circle cx=267 cy=1089 r=2 /><circle cx=78 cy=1095 r=2 /><circle cx=65 cy=1060 r=2 /><circle cx=521 cy=1095 r=2 /><circle cx=541 cy=1123 r=2 /><circle cx=452 cy=1259 r=2 /><circle cx=367 cy=984 r=2 /><circle cx=328 cy=1044 r=2 /><circle cx=272 cy=1261 r=2 /><circle cx=202 cy=1201 r=2 /><circle cx=459 cy=1126 r=2 /><circle cx=517 cy=1104 r=2 /><circle cx=314 cy=1364 r=2 /><circle cx=328 cy=1022 r=2 /><circle cx=322 cy=1108 r=2 /><circle cx=319 cy=1365 r=2 /><circle cx=93 cy=1107 r=2 /><circle cx=315 cy=1060 r=2 /><circle cx=478 cy=1295 r=2 /><circle cx=248 cy=1122 r=2 /><circle cx=248 cy=1110 r=2 /><circle cx=464 cy=1258 r=2 /><circle cx=440 cy=1181 r=2 /><circle cx=516 cy=1154 r=2 /><circle cx=261 cy=1056 r=2 /><circle cx=267 cy=1373 r=2 /><circle cx=465 cy=1176 r=2 /><circle cx=78 cy=1045 r=2 /><circle cx=211 cy=1167 r=2 /><circle cx=233 cy=1116 r=2 /><circle cx=369 cy=1000 r=2 /><circle cx=466 cy=1173 r=2 /><circle cx=270 cy=1354 r=2 /><circle cx=69 cy=1117 r=2 /><circle cx=257 cy=1109 r=2 /><circle cx=281 cy=1034 r=2 /><circle cx=230 cy=1004 r=2 /><circle cx=448 cy=1311 r=2 /><circle cx=530 cy=1159 r=2 /><circle cx=254 cy=1228 r=2 /><circle cx=303 cy=1083 r=2 /><circle cx=474 cy=1312 r=2 /><circle cx=296 cy=1445 r=2 /><circle cx=455 cy=1130 r=2 /><circle cx=261 cy=1271 r=2 /><circle cx=547 cy=1121 r=2 /><circle cx=241 cy=1059 r=2 /><circle cx=551 cy=1135 r=2 /><circle cx=281 cy=1363 r=2 /><circle cx=258 cy=1116 r=2 /><circle cx=312 cy=979 r=2 /><circle cx=272 cy=1401 r=2 /><circle cx=215 cy=997 r=2 /><circle cx=534 cy=1136 r=2 /><circle cx=80 cy=1049 r=2 /><circle cx=273 cy=1042 r=2 /><circle cx=465 cy=1132 r=2 /><circle cx=87 cy=1098 r=2 /><circle cx=463 cy=1249 r=2 /><circle cx=220 cy=1015 r=2 /><circle cx=280 cy=1366 r=2 /><circle cx=325 cy=1094 r=2 /><circle cx=81 cy=1096 r=2 /><circle cx=231 cy=1258 r=2 /><circle cx=274 cy=1092 r=2 /><circle cx=245 cy=1122 r=2 /><circle cx=248 cy=1055 r=2 /><circle cx=310 cy=1381 r=2 /><circle cx=561 cy=1100 r=2 /><circle cx=526 cy=1092 r=2 /><circle cx=481 cy=1143 r=2 /><circle cx=549 cy=1160 r=2 /><circle cx=240 cy=1144 r=2 /><circle cx=322 cy=1051 r=2 /><circle cx=308 cy=1357 r=2 /><circle cx=236 cy=1165 r=2 /><circle cx=528 cy=1168 r=2 /><circle cx=517 cy=1134 r=2 /><circle cx=469 cy=1239 r=2 /><circle cx=332 cy=1354 r=2 /><circle cx=479 cy=1214 r=2 /><circle cx=230 cy=1143 r=2 /><circle cx=69 cy=1089 r=2 /><circle cx=317 cy=1004 r=2 /><circle cx=306 cy=1350 r=2 /><circle cx=334 cy=1360 r=2 /><circle cx=451 cy=1292 r=2 /><circle cx=267 cy=1280 r=2 /><circle cx=264 cy=1338 r=2 /><circle cx=460 cy=1141 r=2 /><circle cx=68 cy=1083 r=2 /><circle cx=110 cy=1058 r=2 /><circle cx=519 cy=1111 r=2 /><circle cx=78 cy=1132 r=2 /><circle cx=517 cy=1141 r=2 /><circle cx=254 cy=1345 r=2 /><circle cx=283 cy=1103 r=2 /><circle cx=57 cy=1064 r=2 /><circle cx=203 cy=1177 r=2 /><circle cx=439 cy=1263 r=2 /><circle cx=54 cy=1061 r=2 /><circle cx=222 cy=1203 r=2 /><circle cx=434 cy=1161 r=2 /><circle cx=68 cy=1135 r=2 /><circle cx=524 cy=1165 r=2 /><circle cx=256 cy=1061 r=2 /><circle cx=219 cy=1236 r=2 /><circle cx=212 cy=1186 r=2 /><circle cx=269 cy=1377 r=2 /><circle cx=64 cy=1073 r=2 /><circle cx=259 cy=1364 r=2 /><circle cx=494 cy=1147 r=2 /><circle cx=298 cy=1375 r=2 /><circle cx=311 cy=1083 r=2 /><circle cx=95 cy=1070 r=2 /><circle cx=314 cy=1087 r=2 /><circle cx=222 cy=1245 r=2 /><circle cx=202 cy=1010 r=2 /><circle cx=228 cy=1094 r=2 /><circle cx=453 cy=1176 r=2 /><circle cx=121 cy=1058 r=2 /><circle cx=493 cy=1103 r=2 /><circle cx=92 cy=1070 r=2 /><circle cx=556 cy=1111 r=2 /><circle cx=307 cy=1403 r=2 /><circle cx=56 cy=1132 r=2 /><circle cx=543 cy=1127 r=2 /><circle cx=460 cy=1190 r=2 /><circle cx=310 cy=1013 r=2 /><circle cx=274 cy=1161 r=2 /><circle cx=243 cy=1045 r=2 /><circle cx=324 cy=979 r=2 /><circle cx=243 cy=1080 r=2 /><circle cx=239 cy=1212 r=2 /><circle cx=463 cy=1224 r=2 /><circle cx=328 cy=1019 r=2 /><circle cx=376 cy=1004 r=2 /><circle cx=305 cy=1041 r=2 /><circle cx=460 cy=1174 r=2 /><circle cx=466 cy=1277 r=2 /><circle cx=272 cy=1383 r=2 /><circle cx=281 cy=1104 r=2 /><circle cx=445 cy=1208 r=2 /><circle cx=61 cy=1061 r=2 /><circle cx=301 cy=1104 r=2 /><circle cx=268 cy=1137 r=2 /><circle cx=324 cy=1398 r=2 /><circle cx=458 cy=1275 r=2 /><circle cx=530 cy=1181 r=2 /><circle cx=289 cy=1376 r=2 /><circle cx=250 cy=1250 r=2 /><circle cx=307 cy=982 r=2 /><circle cx=526 cy=1135 r=2 /><circle cx=198 cy=1227 r=2 /><circle cx=262 cy=1167 r=2 /><circle cx=475 cy=1176 r=2 /><circle cx=252 cy=1047 r=2 /><circle cx=445 cy=1255 r=2 /><circle cx=327 cy=1064 r=2 /><circle cx=263 cy=1344 r=2 /><circle cx=282 cy=1357 r=2 /><circle cx=310 cy=976 r=2 /><circle cx=117 cy=1066 r=2 /><circle cx=222 cy=1118 r=2 /><circle cx=461 cy=1138 r=2 /><circle cx=232 cy=1106 r=2 /><circle cx=341 cy=994 r=2 /><circle cx=301 cy=1111 r=2 /><circle cx=355 cy=1020 r=2 /><circle cx=474 cy=1192 r=2 /><circle cx=271 cy=1089 r=2 /><circle cx=206 cy=1227 r=2 /><circle cx=298 cy=1361 r=2 /><circle cx=535 cy=1166 r=2 /><circle cx=468 cy=1273 r=2 /><circle cx=467 cy=1177 r=2 /><circle cx=342 cy=1001 r=2 /><circle cx=461 cy=1165 r=2 /><circle cx=527 cy=1181 r=2 /><circle cx=274 cy=1129 r=2 /><circle cx=317 cy=1015 r=2 /><circle cx=227 cy=1214 r=2 /><circle cx=487 cy=1180 r=2 /><circle cx=247 cy=1126 r=2 /><circle cx=461 cy=1302 r=2 /><circle cx=243 cy=1217 r=2 /><circle cx=61 cy=1074 r=2 /><circle cx=321 cy=1075 r=2 /><circle cx=259 cy=1346 r=2 /><circle cx=227 cy=1092 r=2 /><circle cx=216 cy=1194 r=2 /><circle cx=251 cy=1186 r=2 /><circle cx=310 cy=1347 r=2 /><circle cx=235 cy=1169 r=2 /><circle cx=276 cy=1057 r=2 /><circle cx=359 cy=982 r=2 /><circle cx=73 cy=1109 r=2 /><circle cx=496 cy=1157 r=2 /><circle cx=369 cy=991 r=2 /><circle cx=326 cy=1351 r=2 /><circle cx=211 cy=1219 r=2 /><circle cx=356 cy=970 r=2 /><circle cx=245 cy=1232 r=2 /><circle cx=56 cy=1126 r=2 /><circle cx=322 cy=1381 r=2 /><circle cx=259 cy=1126 r=2 /><circle cx=478 cy=1188 r=2 /><circle cx=213 cy=1236 r=2 /><circle cx=71 cy=1139 r=2 /><circle cx=257 cy=1282 r=2 /><circle cx=214 cy=1150 r=2 /><circle cx=531 cy=1136 r=2 /><circle cx=229 cy=1017 r=2 /><circle cx=213 cy=1141 r=2 /><circle cx=513 cy=1172 r=2 /><circle cx=247 cy=1075 r=2 /><circle cx=211 cy=1152 r=2 /><circle cx=299 cy=1386 r=2 /><circle cx=472 cy=1298 r=2 /><circle cx=335 cy=993 r=2 /><circle cx=472 cy=1135 r=2 /><circle cx=430 cy=1204 r=2 /><circle cx=216 cy=1106 r=2 /><circle cx=74 cy=1057 r=2 /><circle cx=482 cy=1271 r=2 /><circle cx=429 cy=1119 r=2 /><circle cx=364 cy=997 r=2 /><circle cx=248 cy=1172 r=2 /><circle cx=86 cy=1048 r=2 /><circle cx=231 cy=1250 r=2 /><circle cx=320 cy=1372 r=2 /><circle cx=254 cy=1220 r=2 /><circle cx=520 cy=1123 r=2 /><circle cx=209 cy=1208 r=2 /><circle cx=271 cy=1131 r=2 /><circle cx=307 cy=1031 r=2 /><circle cx=462 cy=1168 r=2 /><circle cx=292 cy=1358 r=2 /><circle cx=231 cy=1208 r=2 /><circle cx=269 cy=1250 r=2 /><circle cx=483 cy=1217 r=2 /><circle cx=492 cy=1149 r=2 /><circle cx=309 cy=1398 r=2 /><circle cx=537 cy=1197 r=2 /><circle cx=332 cy=1377 r=2 /><circle cx=222 cy=1249 r=2 /><circle cx=478 cy=1139 r=2 /><circle cx=443 cy=1289 r=2 /><circle cx=310 cy=1360 r=2 /><circle cx=319 cy=992 r=2 /><circle cx=211 cy=1001 r=2 /><circle cx=264 cy=1063 r=2 /><circle cx=281 cy=1332 r=2 /><circle cx=247 cy=1084 r=2 /><circle cx=239 cy=1252 r=2 /><circle cx=258 cy=1234 r=2 /><circle cx=450 cy=1205 r=2 /><circle cx=491 cy=1117 r=2 /><circle cx=268 cy=1169 r=2 /><circle cx=483 cy=1180 r=2 /><circle cx=314 cy=1118 r=2 /><circle cx=68 cy=1106 r=2 /><circle cx=306 cy=1116 r=2 /><circle cx=347 cy=984 r=2 /><circle cx=289 cy=1389 r=2 /><circle cx=330 cy=1028 r=2 /><circle cx=63 cy=1126 r=2 /><circle cx=315 cy=1037 r=2 /><circle cx=66 cy=1093 r=2 /><circle cx=544 cy=1101 r=2 /><circle cx=463 cy=1208 r=2 /><circle cx=313 cy=1023 r=2 /><circle cx=296 cy=1041 r=2 /><circle cx=347 cy=1013 r=2 /><circle cx=254 cy=1020 r=2 /><circle cx=235 cy=1139 r=2 /><circle cx=235 cy=1232 r=2 /><circle cx=463 cy=1323 r=2 /><circle cx=265 cy=1128 r=2 /><circle cx=226 cy=1100 r=2 /><circle cx=496 cy=1190 r=2 /><circle cx=299 cy=1051 r=2 /><circle cx=481 cy=1108 r=2 /><circle cx=240 cy=1158 r=2 /><circle cx=227 cy=1189 r=2 /><circle cx=94 cy=1067 r=2 /><circle cx=329 cy=993 r=2 /><circle cx=288 cy=1434 r=2 /><circle cx=469 cy=1269 r=2 /><circle cx=241 cy=1109 r=2 /><circle cx=509 cy=1110 r=2 /><circle cx=282 cy=1063 r=2 /><circle cx=458 cy=1205 r=2 /><circle cx=287 cy=1367 r=2 /><circle cx=224 cy=1264 r=2 /><circle cx=79 cy=1137 r=2 /><circle cx=523 cy=1126 r=2 /><circle cx=459 cy=1267 r=2 /><circle cx=318 cy=1052 r=2 /><circle cx=222 cy=1001 r=2 /><circle cx=454 cy=1133 r=2 /><circle cx=455 cy=1161 r=2 /><circle cx=299 cy=1120 r=2 /><circle cx=210 cy=1009 r=2 /><circle cx=217 cy=1022 r=2 /><circle cx=247 cy=1117 r=2 /><circle cx=302 cy=1004 r=2 /><circle cx=288 cy=1122 r=2 /><circle cx=240 cy=1262 r=2 /><circle cx=308 cy=1041 r=2 /><circle cx=317 cy=1392 r=2 /><circle cx=109 cy=1085 r=2 /><circle cx=270 cy=1166 r=2 /><circle cx=536 cy=1096 r=2 /><circle cx=314 cy=1032 r=2 /><circle cx=457 cy=1171 r=2 /><circle cx=113 cy=1070 r=2 /><circle cx=520 cy=1167 r=2 /><circle cx=236 cy=1213 r=2 /><circle cx=239 cy=1124 r=2 /><circle cx=462 cy=1286 r=2 /><circle cx=115 cy=1074 r=2 /><circle cx=451 cy=1188 r=2 /><circle cx=286 cy=1089 r=2 /><circle cx=470 cy=1241 r=2 /><circle cx=438 cy=1147 r=2 /><circle cx=232 cy=1145 r=2 /><circle cx=256 cy=1126 r=2 /><circle cx=313 cy=1385 r=2 /><circle cx=351 cy=1006 r=2 /><circle cx=341 cy=984 r=2 /><circle cx=320 cy=1370 r=2 /><circle cx=409 cy=1097 r=2 /><circle cx=247 cy=1059 r=2 /><circle cx=89 cy=1070 r=2 /><circle cx=252 cy=1093 r=2 /><circle cx=205 cy=1217 r=2 /><circle cx=285 cy=1407 r=2 /><circle cx=456 cy=1158 r=2 /><circle cx=550 cy=1102 r=2 /><circle cx=540 cy=1184 r=2 /><circle cx=247 cy=1201 r=2 /><circle cx=333 cy=1383 r=2 /><circle cx=231 cy=1151 r=2 /><circle cx=239 cy=1204 r=2 /><circle cx=70 cy=1124 r=2 /><circle cx=210 cy=1163 r=2 /><circle cx=281 cy=1094 r=2 /><circle cx=287 cy=1039 r=2 /><circle cx=324 cy=1017 r=2 /><circle cx=209 cy=1205 r=2 /><circle cx=509 cy=1136 r=2 /><circle cx=474 cy=1233 r=2 /><circle cx=279 cy=1394 r=2 /><circle cx=487 cy=1276 r=2 /><circle cx=280 cy=1116 r=2 /><circle cx=480 cy=1198 r=2 /><circle cx=492 cy=1194 r=2 /><circle cx=225 cy=1007 r=2 /><circle cx=564 cy=1108 r=2 /><circle cx=214 cy=1139 r=2 /><circle cx=312 cy=1407 r=2 /><circle cx=455 cy=1141 r=2 /><circle cx=268 cy=1118 r=2 /><circle cx=520 cy=1150 r=2 /><circle cx=267 cy=1332 r=2 /><circle cx=312 cy=1116 r=2 /><circle cx=452 cy=1248 r=2 /><circle cx=314 cy=1075 r=2 /><circle cx=329 cy=1377 r=2 /><circle cx=265 cy=1040 r=2 /><circle cx=550 cy=1105 r=2 /><circle cx=319 cy=1376 r=2 /><circle cx=460 cy=1251 r=2 /><circle cx=239 cy=1024 r=2 /><circle cx=421 cy=1125 r=2 /><circle cx=466 cy=1191 r=2 /><circle cx=537 cy=1137 r=2 /><circle cx=64 cy=1066 r=2 /><circle cx=248 cy=1078 r=2 /><circle cx=287 cy=1405 r=2 /><circle cx=469 cy=1236 r=2 /><circle cx=489 cy=1146 r=2 /><circle cx=291 cy=1128 r=2 /><circle cx=304 cy=975 r=2 /><circle cx=241 cy=1056 r=2 /><circle cx=306 cy=1069 r=2 /><circle cx=424 cy=1138 r=2 /><circle cx=464 cy=1227 r=2 /><circle cx=287 cy=1378 r=2 /><circle cx=308 cy=1056 r=2 /><circle cx=414 cy=1091 r=2 /><circle cx=296 cy=1032 r=2 /><circle cx=90 cy=1118 r=2 /><circle cx=472 cy=1195 r=2 /><circle cx=80 cy=1130 r=2 /><circle cx=304 cy=1398 r=2 /><circle cx=259 cy=1272 r=2 /><circle cx=473 cy=1199 r=2 /><circle cx=558 cy=1095 r=2 /><circle cx=239 cy=1226 r=2 /><circle cx=320 cy=1091 r=2 /><circle cx=428 cy=1142 r=2 /><circle cx=543 cy=1179 r=2 /><circle cx=556 cy=1135 r=2 /><circle cx=244 cy=1109 r=2 /><circle cx=379 cy=995 r=2 /><circle cx=96 cy=1058 r=2 /><circle cx=538 cy=1173 r=2 /><circle cx=470 cy=1239 r=2 /><circle cx=273 cy=1397 r=2 /><circle cx=237 cy=1192 r=2 /><circle cx=433 cy=1122 r=2 /><circle cx=289 cy=1077 r=2 /><circle cx=261 cy=1061 r=2 /><circle cx=480 cy=1111 r=2 /><circle cx=540 cy=1092 r=2 /><circle cx=71 cy=1108 r=2 /><circle cx=487 cy=1129 r=2 /><circle cx=559 cy=1122 r=2 /><circle cx=447 cy=1286 r=2 /><circle cx=481 cy=1273 r=2 /><circle cx=313 cy=1078 r=2 /><circle cx=493 cy=1183 r=2 /><circle cx=517 cy=1092 r=2 /><circle cx=219 cy=1116 r=2 /><circle cx=339 cy=975 r=2 /><circle cx=435 cy=1209 r=2 /><circle cx=225 cy=1169 r=2 /><circle cx=326 cy=1372 r=2 /><circle cx=479 cy=1132 r=2 /><circle cx=461 cy=1195 r=2 /><circle cx=508 cy=1195 r=2 /><circle cx=537 cy=1142 r=2 /><circle cx=250 cy=1055 r=2 /><circle cx=261 cy=1157 r=2 /><circle cx=217 cy=1201 r=2 /><circle cx=548 cy=1130 r=2 /><circle cx=227 cy=1232 r=2 /><circle cx=265 cy=1151 r=2 /></g>
<g class="q2c" fill="#ffffff" stroke="#4a4a4a" stroke-width="1.3"><circle cx=261 cy=1298 r=2.3 /><circle cx=197 cy=1181 r=2.3 /><circle cx=451 cy=1236 r=2.3 /><circle cx=373 cy=1000 r=2.3 /><circle cx=431 cy=1216 r=2.3 /><circle cx=229 cy=1217 r=2.3 /><circle cx=266 cy=1241 r=2.3 /><circle cx=234 cy=1235 r=2.3 /><circle cx=310 cy=1063 r=2.3 /><circle cx=317 cy=1405 r=2.3 /><circle cx=481 cy=1189 r=2.3 /><circle cx=444 cy=1181 r=2.3 /><circle cx=305 cy=971 r=2.3 /><circle cx=95 cy=1095 r=2.3 /><circle cx=485 cy=1124 r=2.3 /><circle cx=319 cy=1066 r=2.3 /><circle cx=295 cy=1361 r=2.3 /><circle cx=225 cy=1205 r=2.3 /><circle cx=461 cy=1255 r=2.3 /><circle cx=290 cy=1409 r=2.3 /><circle cx=305 cy=988 r=2.3 /><circle cx=266 cy=1354 r=2.3 /><circle cx=360 cy=965 r=2.3 /><circle cx=71 cy=1129 r=2.3 /><circle cx=338 cy=1011 r=2.3 /><circle cx=431 cy=1196 r=2.3 /><circle cx=278 cy=1086 r=2.3 /><circle cx=288 cy=1350 r=2.3 /><circle cx=259 cy=1346 r=2.3 /><circle cx=260 cy=1296 r=2.3 /><circle cx=490 cy=1167 r=2.3 /><circle cx=269 cy=1328 r=2.3 /><circle cx=217 cy=1010 r=2.3 /><circle cx=282 cy=1100 r=2.3 /><circle cx=227 cy=1139 r=2.3 /><circle cx=510 cy=1118 r=2.3 /><circle cx=452 cy=1182 r=2.3 /><circle cx=105 cy=1065 r=2.3 /><circle cx=497 cy=1108 r=2.3 /><circle cx=432 cy=1209 r=2.3 /><circle cx=227 cy=1104 r=2.3 /><circle cx=481 cy=1136 r=2.3 /><circle cx=268 cy=1301 r=2.3 /><circle cx=312 cy=1516 r=2.3 /><circle cx=270 cy=1366 r=2.3 /><circle cx=510 cy=1149 r=2.3 /><circle cx=214 cy=1116 r=2.3 /><circle cx=318 cy=1070 r=2.3 /><circle cx=269 cy=1335 r=2.3 /><circle cx=267 cy=1296 r=2.3 /><circle cx=236 cy=1237 r=2.3 /><circle cx=537 cy=1121 r=2.3 /><circle cx=488 cy=1211 r=2.3 /><circle cx=206 cy=1220 r=2.3 /><circle cx=306 cy=1053 r=2.3 /><circle cx=292 cy=1079 r=2.3 /><circle cx=321 cy=1389 r=2.3 /><circle cx=231 cy=1118 r=2.3 /><circle cx=302 cy=1016 r=2.3 /><circle cx=235 cy=1125 r=2.3 /><circle cx=426 cy=1146 r=2.3 /><circle cx=251 cy=1085 r=2.3 /><circle cx=207 cy=1201 r=2.3 /><circle cx=77 cy=1129 r=2.3 /><circle cx=542 cy=1178 r=2.3 /><circle cx=283 cy=1344 r=2.3 /><circle cx=207 cy=1162 r=2.3 /><circle cx=479 cy=1161 r=2.3 /><circle cx=472 cy=1269 r=2.3 /><circle cx=249 cy=1128 r=2.3 /><circle cx=417 cy=1131 r=2.3 /><circle cx=441 cy=1167 r=2.3 /><circle cx=274 cy=1322 r=2.3 /><circle cx=512 cy=1099 r=2.3 /><circle cx=465 cy=1280 r=2.3 /><circle cx=349 cy=996 r=2.3 /><circle cx=485 cy=1139 r=2.3 /><circle cx=523 cy=1186 r=2.3 /><circle cx=288 cy=1336 r=2.3 /><circle cx=498 cy=1148 r=2.3 /><circle cx=492 cy=1110 r=2.3 /><circle cx=458 cy=1260 r=2.3 /><circle cx=274 cy=1143 r=2.3 /><circle cx=512 cy=1132 r=2.3 /><circle cx=250 cy=1232 r=2.3 /><circle cx=112 cy=1054 r=2.3 /><circle cx=282 cy=1044 r=2.3 /><circle cx=481 cy=1193 r=2.3 /><circle cx=79 cy=1093 r=2.3 /><circle cx=463 cy=1193 r=2.3 /><circle cx=270 cy=1390 r=2.3 /><circle cx=355 cy=965 r=2.3 /><circle cx=208 cy=1014 r=2.3 /><circle cx=444 cy=1237 r=2.3 /><circle cx=506 cy=1187 r=2.3 /><circle cx=219 cy=1154 r=2.3 /><circle cx=202 cy=1211 r=2.3 /><circle cx=480 cy=1148 r=2.3 /><circle cx=281 cy=1120 r=2.3 /><circle cx=341 cy=1023 r=2.3 /><circle cx=96 cy=1067 r=2.3 /><circle cx=242 cy=1017 r=2.3 /><circle cx=292 cy=1110 r=2.3 /><circle cx=299 cy=1078 r=2.3 /><circle cx=312 cy=1361 r=2.3 /><circle cx=319 cy=997 r=2.3 /><circle cx=482 cy=1120 r=2.3 /><circle cx=260 cy=1072 r=2.3 /><circle cx=275 cy=1070 r=2.3 /><circle cx=220 cy=1145 r=2.3 /><circle cx=431 cy=1137 r=2.3 /><circle cx=260 cy=1151 r=2.3 /><circle cx=247 cy=1196 r=2.3 /><circle cx=272 cy=1109 r=2.3 /><circle cx=288 cy=1129 r=2.3 /><circle cx=506 cy=1165 r=2.3 /><circle cx=230 cy=1172 r=2.3 /><circle cx=236 cy=1188 r=2.3 /><circle cx=256 cy=1063 r=2.3 /><circle cx=294 cy=1433 r=2.3 /><circle cx=440 cy=1145 r=2.3 /><circle cx=252 cy=1253 r=2.3 /><circle cx=467 cy=1257 r=2.3 /><circle cx=256 cy=1220 r=2.3 /><circle cx=488 cy=1188 r=2.3 /><circle cx=501 cy=1141 r=2.3 /><circle cx=298 cy=1047 r=2.3 /><circle cx=241 cy=1091 r=2.3 /><circle cx=339 cy=1368 r=2.3 /><circle cx=485 cy=1126 r=2.3 /><circle cx=440 cy=1253 r=2.3 /><circle cx=564 cy=1125 r=2.3 /><circle cx=356 cy=1016 r=2.3 /><circle cx=421 cy=1107 r=2.3 /><circle cx=76 cy=1116 r=2.3 /><circle cx=230 cy=1331 r=2.3 /><circle cx=265 cy=1172 r=2.3 /><circle cx=237 cy=1105 r=2.3 /><circle cx=339 cy=1029 r=2.3 /><circle cx=73 cy=1069 r=2.3 /><circle cx=241 cy=1332 r=2.3 /><circle cx=212 cy=1129 r=2.3 /><circle cx=284 cy=1436 r=2.3 /><circle cx=499 cy=1150 r=2.3 /><circle cx=73 cy=1079 r=2.3 /><circle cx=432 cy=1151 r=2.3 /><circle cx=552 cy=1124 r=2.3 /><circle cx=456 cy=1282 r=2.3 /><circle cx=481 cy=1267 r=2.3 /><circle cx=224 cy=1192 r=2.3 /><circle cx=225 cy=1238 r=2.3 /><circle cx=213 cy=1259 r=2.3 /><circle cx=250 cy=1161 r=2.3 /><circle cx=463 cy=1183 r=2.3 /><circle cx=322 cy=982 r=2.3 /><circle cx=465 cy=1181 r=2.3 /><circle cx=320 cy=1059 r=2.3 /><circle cx=294 cy=1107 r=2.3 /><circle cx=461 cy=1202 r=2.3 /><circle cx=307 cy=1121 r=2.3 /><circle cx=466 cy=1203 r=2.3 /><circle cx=365 cy=1000 r=2.3 /><circle cx=538 cy=1099 r=2.3 /><circle cx=219 cy=1165 r=2.3 /><circle cx=269 cy=1156 r=2.3 /><circle cx=263 cy=1051 r=2.3 /><circle cx=221 cy=1185 r=2.3 /><circle cx=334 cy=1385 r=2.3 /><circle cx=445 cy=1302 r=2.3 /><circle cx=456 cy=1177 r=2.3 /><circle cx=270 cy=1306 r=2.3 /><circle cx=529 cy=1196 r=2.3 /><circle cx=194 cy=1208 r=2.3 /><circle cx=540 cy=1140 r=2.3 /><circle cx=328 cy=1097 r=2.3 /><circle cx=439 cy=1283 r=2.3 /><circle cx=299 cy=1348 r=2.3 /><circle cx=485 cy=1115 r=2.3 /><circle cx=229 cy=998 r=2.3 /><circle cx=303 cy=1096 r=2.3 /><circle cx=413 cy=1114 r=2.3 /><circle cx=443 cy=1262 r=2.3 /><circle cx=242 cy=1282 r=2.3 /><circle cx=293 cy=1338 r=2.3 /><circle cx=59 cy=1134 r=2.3 /><circle cx=299 cy=1066 r=2.3 /><circle cx=236 cy=1091 r=2.3 /><circle cx=357 cy=976 r=2.3 /><circle cx=550 cy=1155 r=2.3 /><circle cx=439 cy=1165 r=2.3 /><circle cx=245 cy=1206 r=2.3 /><circle cx=461 cy=1221 r=2.3 /><circle cx=199 cy=1231 r=2.3 /><circle cx=242 cy=1256 r=2.3 /><circle cx=74 cy=1044 r=2.3 /><circle cx=301 cy=1377 r=2.3 /><circle cx=335 cy=1013 r=2.3 /><circle cx=458 cy=1148 r=2.3 /><circle cx=488 cy=1176 r=2.3 /><circle cx=441 cy=1230 r=2.3 /><circle cx=336 cy=1364 r=2.3 /><circle cx=339 cy=1020 r=2.3 /><circle cx=540 cy=1165 r=2.3 /><circle cx=300 cy=1394 r=2.3 /><circle cx=109 cy=1060 r=2.3 /><circle cx=191 cy=1208 r=2.3 /><circle cx=518 cy=1108 r=2.3 /><circle cx=84 cy=1108 r=2.3 /><circle cx=260 cy=1138 r=2.3 /><circle cx=442 cy=1165 r=2.3 /><circle cx=217 cy=1156 r=2.3 /><circle cx=511 cy=1195 r=2.3 /><circle cx=284 cy=1098 r=2.3 /><circle cx=316 cy=1380 r=2.3 /><circle cx=514 cy=1096 r=2.3 /><circle cx=251 cy=1246 r=2.3 /><circle cx=55 cy=1145 r=2.3 /><circle cx=278 cy=1037 r=2.3 /><circle cx=260 cy=1041 r=2.3 /><circle cx=292 cy=1438 r=2.3 /><circle cx=193 cy=1209 r=2.3 /><circle cx=409 cy=1088 r=2.3 /><circle cx=306 cy=1063 r=2.3 /><circle cx=452 cy=1273 r=2.3 /><circle cx=284 cy=1065 r=2.3 /><circle cx=448 cy=1249 r=2.3 /><circle cx=310 cy=1392 r=2.3 /><circle cx=254 cy=1083 r=2.3 /><circle cx=507 cy=1176 r=2.3 /><circle cx=519 cy=1160 r=2.3 /><circle cx=303 cy=1101 r=2.3 /><circle cx=364 cy=991 r=2.3 /><circle cx=280 cy=1379 r=2.3 /><circle cx=236 cy=1020 r=2.3 /><circle cx=452 cy=1272 r=2.3 /><circle cx=103 cy=1064 r=2.3 /><circle cx=96 cy=1101 r=2.3 /><circle cx=513 cy=1112 r=2.3 /><circle cx=565 cy=1114 r=2.3 /><circle cx=546 cy=1177 r=2.3 /><circle cx=544 cy=1093 r=2.3 /><circle cx=316 cy=1091 r=2.3 /><circle cx=77 cy=1074 r=2.3 /><circle cx=474 cy=1264 r=2.3 /><circle cx=270 cy=1162 r=2.3 /><circle cx=247 cy=1227 r=2.3 /><circle cx=313 cy=1029 r=2.3 /><circle cx=220 cy=1203 r=2.3 /><circle cx=437 cy=1192 r=2.3 /><circle cx=502 cy=1147 r=2.3 /><circle cx=298 cy=1435 r=2.3 /><circle cx=327 cy=1361 r=2.3 /><circle cx=231 cy=1222 r=2.3 /><circle cx=552 cy=1156 r=2.3 /><circle cx=277 cy=1105 r=2.3 /><circle cx=345 cy=1004 r=2.3 /><circle cx=329 cy=1009 r=2.3 /><circle cx=59 cy=1141 r=2.3 /><circle cx=222 cy=1260 r=2.3 /><circle cx=553 cy=1127 r=2.3 /><circle cx=331 cy=966 r=2.3 /><circle cx=429 cy=1211 r=2.3 /><circle cx=484 cy=1266 r=2.3 /><circle cx=522 cy=1132 r=2.3 /><circle cx=96 cy=1085 r=2.3 /><circle cx=288 cy=1120 r=2.3 /><circle cx=300 cy=1018 r=2.3 /><circle cx=293 cy=1388 r=2.3 /><circle cx=96 cy=1118 r=2.3 /><circle cx=472 cy=1265 r=2.3 /><circle cx=247 cy=1096 r=2.3 /><circle cx=218 cy=1239 r=2.3 /><circle cx=317 cy=1385 r=2.3 /><circle cx=323 cy=1040 r=2.3 /><circle cx=213 cy=1123 r=2.3 /><circle cx=465 cy=1155 r=2.3 /><circle cx=254 cy=1238 r=2.3 /><circle cx=482 cy=1171 r=2.3 /><circle cx=470 cy=1221 r=2.3 /><circle cx=419 cy=1091 r=2.3 /><circle cx=523 cy=1191 r=2.3 /><circle cx=311 cy=1094 r=2.3 /><circle cx=455 cy=1241 r=2.3 /><circle cx=487 cy=1287 r=2.3 /><circle cx=450 cy=1308 r=2.3 /><circle cx=285 cy=1095 r=2.3 /><circle cx=247 cy=1277 r=2.3 /><circle cx=237 cy=1241 r=2.3 /><circle cx=228 cy=1195 r=2.3 /><circle cx=534 cy=1154 r=2.3 /><circle cx=541 cy=1155 r=2.3 /><circle cx=277 cy=1042 r=2.3 /><circle cx=459 cy=1294 r=2.3 /><circle cx=283 cy=1396 r=2.3 /><circle cx=76 cy=1123 r=2.3 /><circle cx=269 cy=1255 r=2.3 /><circle cx=208 cy=1154 r=2.3 /><circle cx=550 cy=1164 r=2.3 /><circle cx=439 cy=1152 r=2.3 /><circle cx=451 cy=1159 r=2.3 /><circle cx=319 cy=1111 r=2.3 /><circle cx=249 cy=1045 r=2.3 /><circle cx=227 cy=1244 r=2.3 /><circle cx=480 cy=1280 r=2.3 /><circle cx=332 cy=964 r=2.3 /><circle cx=415 cy=1096 r=2.3 /><circle cx=351 cy=1004 r=2.3 /><circle cx=480 cy=1129 r=2.3 /><circle cx=512 cy=1137 r=2.3 /><circle cx=101 cy=1092 r=2.3 /><circle cx=437 cy=1200 r=2.3 /><circle cx=271 cy=1395 r=2.3 /><circle cx=81 cy=1132 r=2.3 /><circle cx=247 cy=1235 r=2.3 /><circle cx=269 cy=1042 r=2.3 /><circle cx=456 cy=1217 r=2.3 /><circle cx=218 cy=1113 r=2.3 /><circle cx=106 cy=1087 r=2.3 /><circle cx=265 cy=1235 r=2.3 /><circle cx=350 cy=1243 r=2.3 /><circle cx=120 cy=1071 r=2.3 /><circle cx=231 cy=1125 r=2.3 /><circle cx=259 cy=1053 r=2.3 /><circle cx=89 cy=1085 r=2.3 /><circle cx=502 cy=1175 r=2.3 /><circle cx=293 cy=1402 r=2.3 /><circle cx=97 cy=1076 r=2.3 /><circle cx=276 cy=1373 r=2.3 /><circle cx=268 cy=1114 r=2.3 /><circle cx=475 cy=1115 r=2.3 /><circle cx=258 cy=1341 r=2.3 /><circle cx=445 cy=1201 r=2.3 /><circle cx=466 cy=1273 r=2.3 /><circle cx=269 cy=1048 r=2.3 /><circle cx=297 cy=1392 r=2.3 /><circle cx=536 cy=1157 r=2.3 /><circle cx=462 cy=1292 r=2.3 /><circle cx=273 cy=1404 r=2.3 /><circle cx=495 cy=1142 r=2.3 /><circle cx=348 cy=1023 r=2.3 /><circle cx=236 cy=1052 r=2.3 /><circle cx=272 cy=1060 r=2.3 /><circle cx=328 cy=999 r=2.3 /><circle cx=207 cy=1178 r=2.3 /><circle cx=104 cy=1067 r=2.3 /><circle cx=484 cy=1117 r=2.3 /><circle cx=264 cy=1120 r=2.3 /><circle cx=246 cy=1114 r=2.3 /><circle cx=236 cy=1203 r=2.3 /><circle cx=231 cy=1169 r=2.3 /><circle cx=262 cy=1079 r=2.3 /><circle cx=241 cy=1122 r=2.3 /><circle cx=304 cy=1013 r=2.3 /><circle cx=288 cy=1354 r=2.3 /><circle cx=475 cy=1271 r=2.3 /><circle cx=438 cy=1157 r=2.3 /><circle cx=427 cy=1199 r=2.3 /><circle cx=463 cy=1204 r=2.3 /><circle cx=463 cy=1164 r=2.3 /><circle cx=281 cy=1088 r=2.3 /><circle cx=296 cy=1037 r=2.3 /><circle cx=254 cy=1276 r=2.3 /><circle cx=237 cy=1260 r=2.3 /><circle cx=485 cy=1212 r=2.3 /><circle cx=302 cy=1023 r=2.3 /><circle cx=214 cy=1113 r=2.3 /><circle cx=285 cy=1126 r=2.3 /><circle cx=215 cy=1229 r=2.3 /><circle cx=227 cy=1249 r=2.3 /><circle cx=310 cy=1344 r=2.3 /><circle cx=262 cy=1304 r=2.3 /><circle cx=523 cy=1190 r=2.3 /><circle cx=270 cy=1120 r=2.3 /><circle cx=436 cy=1195 r=2.3 /><circle cx=365 cy=1009 r=2.3 /><circle cx=252 cy=1245 r=2.3 /><circle cx=256 cy=1164 r=2.3 /><circle cx=265 cy=1115 r=2.3 /><circle cx=529 cy=1193 r=2.3 /><circle cx=75 cy=1079 r=2.3 /><circle cx=238 cy=1094 r=2.3 /><circle cx=70 cy=1058 r=2.3 /><circle cx=262 cy=1175 r=2.3 /><circle cx=458 cy=1192 r=2.3 /><circle cx=468 cy=1209 r=2.3 /><circle cx=246 cy=1093 r=2.3 /><circle cx=271 cy=1144 r=2.3 /><circle cx=448 cy=1172 r=2.3 /><circle cx=294 cy=1075 r=2.3 /><circle cx=278 cy=1088 r=2.3 /><circle cx=276 cy=1384 r=2.3 /><circle cx=319 cy=1072 r=2.3 /><circle cx=281 cy=1389 r=2.3 /><circle cx=552 cy=1129 r=2.3 /><circle cx=86 cy=1055 r=2.3 /><circle cx=101 cy=1062 r=2.3 /><circle cx=76 cy=1141 r=2.3 /><circle cx=262 cy=1047 r=2.3 /><circle cx=219 cy=1215 r=2.3 /><circle cx=461 cy=1245 r=2.3 /><circle cx=484 cy=1111 r=2.3 /><circle cx=435 cy=1221 r=2.3 /><circle cx=370 cy=1010 r=2.3 /><circle cx=463 cy=1252 r=2.3 /><circle cx=210 cy=1126 r=2.3 /><circle cx=423 cy=1129 r=2.3 /><circle cx=432 cy=1171 r=2.3 /><circle cx=54 cy=1056 r=2.3 /><circle cx=191 cy=1217 r=2.3 /><circle cx=227 cy=1123 r=2.3 /><circle cx=441 cy=1134 r=2.3 /><circle cx=513 cy=1138 r=2.3 /><circle cx=483 cy=1155 r=2.3 /><circle cx=225 cy=1111 r=2.3 /><circle cx=233 cy=1154 r=2.3 /><circle cx=258 cy=1290 r=2.3 /><circle cx=238 cy=1177 r=2.3 /><circle cx=225 cy=1243 r=2.3 /><circle cx=262 cy=1042 r=2.3 /><circle cx=319 cy=1119 r=2.3 /><circle cx=353 cy=999 r=2.3 /><circle cx=269 cy=1304 r=2.3 /><circle cx=215 cy=1153 r=2.3 /><circle cx=274 cy=1064 r=2.3 /><circle cx=259 cy=1123 r=2.3 /><circle cx=235 cy=1164 r=2.3 /><circle cx=66 cy=1059 r=2.3 /><circle cx=84 cy=1090 r=2.3 /><circle cx=71 cy=1096 r=2.3 /><circle cx=482 cy=1202 r=2.3 /><circle cx=210 cy=1016 r=2.3 /><circle cx=210 cy=1120 r=2.3 /><circle cx=198 cy=1176 r=2.3 /><circle cx=432 cy=1213 r=2.3 /><circle cx=230 cy=1205 r=2.3 /><circle cx=306 cy=997 r=2.3 /><circle cx=483 cy=1277 r=2.3 /><circle cx=277 cy=1139 r=2.3 /><circle cx=263 cy=1260 r=2.3 /><circle cx=274 cy=1320 r=2.3 /><circle cx=320 cy=1009 r=2.3 /><circle cx=238 cy=1034 r=2.3 /><circle cx=274 cy=1345 r=2.3 /><circle cx=191 cy=1181 r=2.3 /><circle cx=218 cy=1213 r=2.3 /><circle cx=300 cy=1381 r=2.3 /><circle cx=274 cy=1073 r=2.3 /><circle cx=468 cy=1182 r=2.3 /><circle cx=203 cy=1233 r=2.3 /><circle cx=450 cy=1258 r=2.3 /><circle cx=332 cy=1064 r=2.3 /><circle cx=284 cy=1111 r=2.3 /><circle cx=261 cy=1275 r=2.3 /><circle cx=244 cy=1191 r=2.3 /><circle cx=288 cy=1066 r=2.3 /><circle cx=231 cy=1269 r=2.3 /><circle cx=496 cy=1160 r=2.3 /><circle cx=236 cy=1216 r=2.3 /><circle cx=319 cy=1078 r=2.3 /><circle cx=349 cy=1012 r=2.3 /><circle cx=564 cy=1118 r=2.3 /><circle cx=519 cy=1184 r=2.3 /><circle cx=273 cy=1317 r=2.3 /><circle cx=104 cy=1056 r=2.3 /><circle cx=311 cy=1107 r=2.3 /><circle cx=526 cy=1099 r=2.3 /><circle cx=64 cy=1117 r=2.3 /><circle cx=123 cy=1074 r=2.3 /><circle cx=256 cy=1342 r=2.3 /><circle cx=220 cy=994 r=2.3 /><circle cx=339 cy=988 r=2.3 /><circle cx=502 cy=1138 r=2.3 /><circle cx=516 cy=1137 r=2.3 /><circle cx=505 cy=1193 r=2.3 /><circle cx=219 cy=1018 r=2.3 /><circle cx=248 cy=1073 r=2.3 /><circle cx=560 cy=1130 r=2.3 /><circle cx=310 cy=1074 r=2.3 /><circle cx=265 cy=1288 r=2.3 /><circle cx=470 cy=1123 r=2.3 /><circle cx=249 cy=1211 r=2.3 /><circle cx=429 cy=1193 r=2.3 /><circle cx=311 cy=1102 r=2.3 /><circle cx=202 cy=1001 r=2.3 /><circle cx=451 cy=1198 r=2.3 /><circle cx=251 cy=1066 r=2.3 /><circle cx=88 cy=1107 r=2.3 /><circle cx=322 cy=969 r=2.3 /><circle cx=253 cy=1164 r=2.3 /><circle cx=526 cy=1132 r=2.3 /><circle cx=472 cy=1141 r=2.3 /><circle cx=324 cy=1357 r=2.3 /><circle cx=72 cy=1104 r=2.3 /><circle cx=529 cy=1177 r=2.3 /><circle cx=281 cy=1447 r=2.3 /><circle cx=345 cy=979 r=2.3 /><circle cx=301 cy=1082 r=2.3 /><circle cx=323 cy=985 r=2.3 /><circle cx=539 cy=1144 r=2.3 /><circle cx=269 cy=1099 r=2.3 /><circle cx=209 cy=1252 r=2.3 /><circle cx=219 cy=1179 r=2.3 /><circle cx=431 cy=1144 r=2.3 /><circle cx=236 cy=1196 r=2.3 /><circle cx=256 cy=1122 r=2.3 /><circle cx=432 cy=1220 r=2.3 /><circle cx=554 cy=1108 r=2.3 /><circle cx=284 cy=1401 r=2.3 /><circle cx=198 cy=1185 r=2.3 /><circle cx=87 cy=1118 r=2.3 /><circle cx=313 cy=1064 r=2.3 /><circle cx=421 cy=1118 r=2.3 /><circle cx=479 cy=1152 r=2.3 /><circle cx=84 cy=1051 r=2.3 /><circle cx=520 cy=1135 r=2.3 /><circle cx=508 cy=1152 r=2.3 /><circle cx=334 cy=1030 r=2.3 /><circle cx=268 cy=1325 r=2.3 /><circle cx=431 cy=1130 r=2.3 /><circle cx=264 cy=1239 r=2.3 /><circle cx=295 cy=1404 r=2.3 /><circle cx=443 cy=1223 r=2.3 /><circle cx=258 cy=1152 r=2.3 /><circle cx=295 cy=1426 r=2.3 /><circle cx=351 cy=981 r=2.3 /><circle cx=302 cy=1010 r=2.3 /><circle cx=546 cy=1088 r=2.3 /><circle cx=444 cy=1229 r=2.3 /><circle cx=261 cy=1163 r=2.3 /><circle cx=250 cy=1270 r=2.3 /><circle cx=62 cy=1067 r=2.3 /><circle cx=256 cy=1253 r=2.3 /><circle cx=528 cy=1138 r=2.3 /><circle cx=266 cy=1317 r=2.3 /><circle cx=482 cy=1295 r=2.3 /><circle cx=451 cy=1173 r=2.3 /><circle cx=458 cy=1152 r=2.3 /><circle cx=441 cy=1251 r=2.3 /><circle cx=249 cy=1188 r=2.3 /><circle cx=454 cy=1158 r=2.3 /><circle cx=321 cy=1357 r=2.3 /><circle cx=466 cy=1160 r=2.3 /><circle cx=256 cy=1076 r=2.3 /><circle cx=73 cy=1111 r=2.3 /><circle cx=214 cy=1167 r=2.3 /><circle cx=215 cy=1264 r=2.3 /><circle cx=295 cy=1067 r=2.3 /><circle cx=317 cy=1067 r=2.3 /><circle cx=256 cy=1223 r=2.3 /><circle cx=200 cy=1189 r=2.3 /><circle cx=100 cy=1067 r=2.3 /><circle cx=438 cy=1137 r=2.3 /><circle cx=548 cy=1099 r=2.3 /><circle cx=264 cy=1132 r=2.3 /><circle cx=242 cy=1215 r=2.3 /><circle cx=372 cy=1006 r=2.3 /><circle cx=263 cy=1306 r=2.3 /><circle cx=246 cy=1270 r=2.3 /><circle cx=224 cy=1330 r=2.3 /><circle cx=473 cy=1215 r=2.3 /><circle cx=225 cy=1135 r=2.3 /><circle cx=282 cy=1106 r=2.3 /><circle cx=223 cy=1104 r=2.3 /><circle cx=292 cy=1044 r=2.3 /><circle cx=214 cy=1328 r=2.3 /><circle cx=231 cy=1213 r=2.3 /><circle cx=306 cy=1052 r=2.3 /><circle cx=483 cy=1149 r=2.3 /><circle cx=239 cy=1136 r=2.3 /><circle cx=354 cy=982 r=2.3 /><circle cx=318 cy=1094 r=2.3 /><circle cx=461 cy=1300 r=2.3 /><circle cx=539 cy=1126 r=2.3 /><circle cx=439 cy=1127 r=2.3 /><circle cx=64 cy=1082 r=2.3 /><circle cx=264 cy=1275 r=2.3 /><circle cx=487 cy=1214 r=2.3 /><circle cx=218 cy=1227 r=2.3 /><circle cx=448 cy=1255 r=2.3 /><circle cx=498 cy=1205 r=2.3 /><circle cx=308 cy=1407 r=2.3 /><circle cx=324 cy=1089 r=2.3 /><circle cx=471 cy=1308 r=2.3 /><circle cx=461 cy=1266 r=2.3 /><circle cx=262 cy=1090 r=2.3 /><circle cx=319 cy=1353 r=2.3 /><circle cx=534 cy=1110 r=2.3 /><circle cx=234 cy=1158 r=2.3 /><circle cx=278 cy=1367 r=2.3 /><circle cx=353 cy=971 r=2.3 /><circle cx=209 cy=1157 r=2.3 /><circle cx=440 cy=1274 r=2.3 /><circle cx=329 cy=1095 r=2.3 /><circle cx=204 cy=994 r=2.3 /><circle cx=274 cy=1254 r=2.3 /><circle cx=327 cy=1035 r=2.3 /><circle cx=219 cy=1330 r=2.3 /><circle cx=329 cy=1363 r=2.3 /><circle cx=454 cy=1234 r=2.3 /><circle cx=425 cy=1144 r=2.3 /><circle cx=232 cy=1176 r=2.3 /><circle cx=264 cy=1312 r=2.3 /><circle cx=258 cy=1114 r=2.3 /><circle cx=306 cy=1372 r=2.3 /><circle cx=446 cy=1215 r=2.3 /><circle cx=79 cy=1121 r=2.3 /><circle cx=72 cy=1047 r=2.3 /><circle cx=275 cy=1325 r=2.3 /><circle cx=515 cy=1188 r=2.3 /><circle cx=261 cy=1355 r=2.3 /><circle cx=260 cy=1370 r=2.3 /><circle cx=464 cy=1320 r=2.3 /><circle cx=259 cy=1242 r=2.3 /><circle cx=200 cy=1167 r=2.3 /><circle cx=253 cy=1138 r=2.3 /><circle cx=245 cy=1245 r=2.3 /><circle cx=236 cy=1102 r=2.3 /><circle cx=61 cy=1071 r=2.3 /><circle cx=284 cy=1056 r=2.3 /><circle cx=444 cy=1147 r=2.3 /><circle cx=189 cy=1188 r=2.3 /><circle cx=265 cy=1368 r=2.3 /><circle cx=265 cy=1109 r=2.3 /><circle cx=245 cy=1106 r=2.3 /><circle cx=542 cy=1142 r=2.3 /><circle cx=533 cy=1183 r=2.3 /><circle cx=423 cy=1133 r=2.3 /><circle cx=278 cy=1382 r=2.3 /><circle cx=502 cy=1104 r=2.3 /><circle cx=279 cy=1067 r=2.3 /><circle cx=325 cy=1038 r=2.3 /><circle cx=486 cy=1273 r=2.3 /><circle cx=344 cy=995 r=2.3 /><circle cx=435 cy=1141 r=2.3 /><circle cx=318 cy=995 r=2.3 /><circle cx=212 cy=1191 r=2.3 /><circle cx=271 cy=1312 r=2.3 /><circle cx=71 cy=1083 r=2.3 /><circle cx=321 cy=1114 r=2.3 /><circle cx=264 cy=1370 r=2.3 /><circle cx=452 cy=1279 r=2.3 /><circle cx=262 cy=1117 r=2.3 /><circle cx=495 cy=1206 r=2.3 /><circle cx=242 cy=1188 r=2.3 /><circle cx=478 cy=1193 r=2.3 /><circle cx=432 cy=1210 r=2.3 /><circle cx=324 cy=973 r=2.3 /><circle cx=218 cy=1123 r=2.3 /><circle cx=212 cy=1125 r=2.3 /><circle cx=304 cy=1383 r=2.3 /><circle cx=506 cy=1157 r=2.3 /><circle cx=249 cy=1145 r=2.3 /><circle cx=323 cy=1401 r=2.3 /><circle cx=458 cy=1180 r=2.3 /><circle cx=211 cy=1210 r=2.3 /><circle cx=441 cy=1238 r=2.3 /><circle cx=340 cy=1376 r=2.3 /><circle cx=478 cy=1170 r=2.3 /><circle cx=294 cy=1442 r=2.3 /><circle cx=322 cy=1362 r=2.3 /><circle cx=268 cy=1357 r=2.3 /><circle cx=323 cy=1373 r=2.3 /><circle cx=322 cy=1093 r=2.3 /><circle cx=202 cy=1220 r=2.3 /><circle cx=531 cy=1123 r=2.3 /><circle cx=344 cy=1020 r=2.3 /><circle cx=310 cy=1007 r=2.3 /><circle cx=511 cy=1107 r=2.3 /><circle cx=251 cy=1117 r=2.3 /><circle cx=309 cy=973 r=2.3 /><circle cx=522 cy=1109 r=2.3 /><circle cx=218 cy=1250 r=2.3 /><circle cx=504 cy=1108 r=2.3 /><circle cx=227 cy=1208 r=2.3 /><circle cx=308 cy=1111 r=2.3 /><circle cx=470 cy=1160 r=2.3 /><circle cx=287 cy=1099 r=2.3 /><circle cx=238 cy=1258 r=2.3 /><circle cx=473 cy=1254 r=2.3 /><circle cx=332 cy=1391 r=2.3 /><circle cx=259 cy=1165 r=2.3 /><circle cx=314 cy=1114 r=2.3 /><circle cx=513 cy=1101 r=2.3 /><circle cx=207 cy=1239 r=2.3 /><circle cx=419 cy=1108 r=2.3 /><circle cx=240 cy=1020 r=2.3 /><circle cx=257 cy=1096 r=2.3 /><circle cx=530 cy=1145 r=2.3 /><circle cx=116 cy=1061 r=2.3 /><circle cx=548 cy=1123 r=2.3 /><circle cx=303 cy=990 r=2.3 /><circle cx=278 cy=1100 r=2.3 /><circle cx=213 cy=1108 r=2.3 /><circle cx=314 cy=1050 r=2.3 /><circle cx=259 cy=1170 r=2.3 /><circle cx=224 cy=1146 r=2.3 /><circle cx=225 cy=1189 r=2.3 /><circle cx=532 cy=1157 r=2.3 /><circle cx=537 cy=1129 r=2.3 /><circle cx=270 cy=1064 r=2.3 /><circle cx=265 cy=1314 r=2.3 /><circle cx=264 cy=1285 r=2.3 /><circle cx=304 cy=995 r=2.3 /><circle cx=200 cy=1306 r=2.3 /><circle cx=452 cy=1187 r=2.3 /><circle cx=258 cy=1258 r=2.3 /><circle cx=252 cy=1109 r=2.3 /><circle cx=488 cy=1118 r=2.3 /><circle cx=323 cy=966 r=2.3 /><circle cx=271 cy=1252 r=2.3 /><circle cx=243 cy=1182 r=2.3 /><circle cx=326 cy=1015 r=2.3 /><circle cx=285 cy=1419 r=2.3 /><circle cx=259 cy=1061 r=2.3 /><circle cx=255 cy=1241 r=2.3 /><circle cx=356 cy=985 r=2.3 /><circle cx=267 cy=1051 r=2.3 /><circle cx=61 cy=1080 r=2.3 /><circle cx=308 cy=998 r=2.3 /><circle cx=416 cy=1110 r=2.3 /><circle cx=488 cy=1132 r=2.3 /><circle cx=260 cy=1118 r=2.3 /><circle cx=257 cy=1106 r=2.3 /><circle cx=205 cy=1233 r=2.3 /><circle cx=504 cy=1132 r=2.3 /><circle cx=293 cy=1101 r=2.3 /><circle cx=233 cy=1197 r=2.3 /><circle cx=222 cy=1173 r=2.3 /><circle cx=251 cy=1147 r=2.3 /><circle cx=436 cy=1279 r=2.3 /><circle cx=267 cy=1322 r=2.3 /><circle cx=538 cy=1167 r=2.3 /><circle cx=98 cy=1074 r=2.3 /><circle cx=501 cy=1110 r=2.3 /><circle cx=220 cy=1227 r=2.3 /><circle cx=262 cy=1348 r=2.3 /><circle cx=295 cy=1341 r=2.3 /><circle cx=473 cy=1241 r=2.3 /><circle cx=270 cy=1086 r=2.3 /><circle cx=446 cy=1259 r=2.3 /><circle cx=337 cy=1016 r=2.3 /><circle cx=343 cy=969 r=2.3 /><circle cx=494 cy=1118 r=2.3 /><circle cx=219 cy=1259 r=2.3 /><circle cx=543 cy=1133 r=2.3 /><circle cx=340 cy=997 r=2.3 /><circle cx=259 cy=1293 r=2.3 /><circle cx=454 cy=1171 r=2.3 /><circle cx=474 cy=1126 r=2.3 /><circle cx=450 cy=1284 r=2.3 /><circle cx=449 cy=1195 r=2.3 /><circle cx=268 cy=1081 r=2.3 /><circle cx=477 cy=1212 r=2.3 /><circle cx=323 cy=1035 r=2.3 /><circle cx=306 cy=1105 r=2.3 /><circle cx=220 cy=1139 r=2.3 /><circle cx=274 cy=1361 r=2.3 /><circle cx=334 cy=996 r=2.3 /><circle cx=476 cy=1286 r=2.3 /><circle cx=540 cy=1114 r=2.3 /><circle cx=450 cy=1276 r=2.3 /><circle cx=328 cy=1357 r=2.3 /><circle cx=321 cy=1069 r=2.3 /><circle cx=291 cy=1029 r=2.3 /><circle cx=266 cy=1293 r=2.3 /><circle cx=328 cy=1354 r=2.3 /><circle cx=526 cy=1172 r=2.3 /><circle cx=467 cy=1140 r=2.3 /><circle cx=209 cy=1247 r=2.3 /><circle cx=442 cy=1296 r=2.3 /><circle cx=67 cy=1108 r=2.3 /><circle cx=332 cy=1356 r=2.3 /><circle cx=478 cy=1219 r=2.3 /><circle cx=464 cy=1282 r=2.3 /><circle cx=269 cy=1055 r=2.3 /><circle cx=86 cy=1065 r=2.3 /><circle cx=267 cy=1147 r=2.3 /><circle cx=183 cy=1318 r=2.3 /><circle cx=71 cy=1051 r=2.3 /><circle cx=298 cy=1398 r=2.3 /><circle cx=442 cy=1159 r=2.3 /><circle cx=313 cy=1391 r=2.3 /><circle cx=97 cy=1097 r=2.3 /><circle cx=303 cy=1338 r=2.3 /><circle cx=250 cy=1128 r=2.3 /><circle cx=326 cy=1045 r=2.3 /><circle cx=222 cy=993 r=2.3 /><circle cx=315 cy=1389 r=2.3 /><circle cx=266 cy=1290 r=2.3 /><circle cx=229 cy=1113 r=2.3 /><circle cx=506 cy=1145 r=2.3 /><circle cx=231 cy=1115 r=2.3 /><circle cx=316 cy=1507 r=2.3 /><circle cx=443 cy=1202 r=2.3 /><circle cx=319 cy=1023 r=2.3 /><circle cx=538 cy=1092 r=2.3 /><circle cx=356 cy=992 r=2.3 /><circle cx=221 cy=1195 r=2.3 /><circle cx=359 cy=994 r=2.3 /><circle cx=240 cy=1089 r=2.3 /><circle cx=251 cy=1191 r=2.3 /><circle cx=283 cy=1428 r=2.3 /><circle cx=236 cy=1113 r=2.3 /><circle cx=459 cy=1311 r=2.3 /><circle cx=229 cy=1111 r=2.3 /><circle cx=276 cy=1257 r=2.3 /><circle cx=491 cy=1136 r=2.3 /><circle cx=465 cy=1290 r=2.3 /><circle cx=544 cy=1163 r=2.3 /><circle cx=413 cy=1105 r=2.3 /><circle cx=452 cy=1311 r=2.3 /><circle cx=323 cy=1061 r=2.3 /><circle cx=447 cy=1155 r=2.3 /><circle cx=346 cy=994 r=2.3 /><circle cx=79 cy=1087 r=2.3 /><circle cx=267 cy=1320 r=2.3 /><circle cx=483 cy=1158 r=2.3 /><circle cx=493 cy=1107 r=2.3 /><circle cx=480 cy=1167 r=2.3 /><circle cx=230 cy=1248 r=2.3 /><circle cx=93 cy=1106 r=2.3 /><circle cx=441 cy=1284 r=2.3 /><circle cx=472 cy=1114 r=2.3 /><circle cx=316 cy=1105 r=2.3 /><circle cx=515 cy=1123 r=2.3 /><circle cx=296 cy=1043 r=2.3 /><circle cx=286 cy=1426 r=2.3 /><circle cx=248 cy=1136 r=2.3 /><circle cx=491 cy=1211 r=2.3 /><circle cx=444 cy=1216 r=2.3 /><circle cx=232 cy=1101 r=2.3 /><circle cx=422 cy=1130 r=2.3 /><circle cx=313 cy=1047 r=2.3 /><circle cx=210 cy=1225 r=2.3 /><circle cx=305 cy=1017 r=2.3 /><circle cx=300 cy=1363 r=2.3 /><circle cx=285 cy=1416 r=2.3 /><circle cx=93 cy=1073 r=2.3 /><circle cx=461 cy=1243 r=2.3 /><circle cx=304 cy=991 r=2.3 /><circle cx=462 cy=1160 r=2.3 /><circle cx=505 cy=1177 r=2.3 /><circle cx=474 cy=1124 r=2.3 /><circle cx=352 cy=986 r=2.3 /><circle cx=297 cy=1370 r=2.3 /><circle cx=255 cy=1148 r=2.3 /><circle cx=312 cy=997 r=2.3 /><circle cx=474 cy=1208 r=2.3 /><circle cx=490 cy=1107 r=2.3 /><circle cx=519 cy=1187 r=2.3 /><circle cx=255 cy=1156 r=2.3 /><circle cx=244 cy=1135 r=2.3 /><circle cx=240 cy=1116 r=2.3 /><circle cx=243 cy=1066 r=2.3 /><circle cx=90 cy=1115 r=2.3 /><circle cx=314 cy=1395 r=2.3 /><circle cx=330 cy=1031 r=2.3 /><circle cx=200 cy=1219 r=2.3 /><circle cx=216 cy=1242 r=2.3 /><circle cx=304 cy=1069 r=2.3 /><circle cx=299 cy=1039 r=2.3 /><circle cx=553 cy=1090 r=2.3 /><circle cx=262 cy=1368 r=2.3 /><circle cx=531 cy=1167 r=2.3 /><circle cx=532 cy=1199 r=2.3 /><circle cx=328 cy=1104 r=2.3 /><circle cx=437 cy=1153 r=2.3 /><circle cx=249 cy=1198 r=2.3 /><circle cx=468 cy=1303 r=2.3 /><circle cx=315 cy=1045 r=2.3 /><circle cx=279 cy=1064 r=2.3 /><circle cx=349 cy=1019 r=2.3 /><circle cx=215 cy=1008 r=2.3 /><circle cx=439 cy=1202 r=2.3 /><circle cx=439 cy=1221 r=2.3 /><circle cx=297 cy=1424 r=2.3 /><circle cx=213 cy=1010 r=2.3 /><circle cx=331 cy=1074 r=2.3 /><circle cx=452 cy=1180 r=2.3 /><circle cx=248 cy=1230 r=2.3 /><circle cx=435 cy=1201 r=2.3 /><circle cx=520 cy=1102 r=2.3 /><circle cx=62 cy=1131 r=2.3 /><circle cx=461 cy=1268 r=2.3 /><circle cx=201 cy=1185 r=2.3 /><circle cx=221 cy=1207 r=2.3 /><circle cx=548 cy=1134 r=2.3 /><circle cx=232 cy=1095 r=2.3 /><circle cx=312 cy=1073 r=2.3 /><circle cx=432 cy=1224 r=2.3 /><circle cx=428 cy=1177 r=2.3 /><circle cx=258 cy=1332 r=2.3 /><circle cx=373 cy=1005 r=2.3 /><circle cx=415 cy=1086 r=2.3 /><circle cx=365 cy=995 r=2.3 /><circle cx=226 cy=1223 r=2.3 /><circle cx=239 cy=1221 r=2.3 /><circle cx=264 cy=1309 r=2.3 /><circle cx=266 cy=1161 r=2.3 /><circle cx=531 cy=1128 r=2.3 /><circle cx=252 cy=1141 r=2.3 /><circle cx=270 cy=1370 r=2.3 /><circle cx=488 cy=1113 r=2.3 /><circle cx=213 cy=1203 r=2.3 /><circle cx=191 cy=1187 r=2.3 /><circle cx=253 cy=1052 r=2.3 /><circle cx=268 cy=1298 r=2.3 /><circle cx=475 cy=1138 r=2.3 /><circle cx=317 cy=965 r=2.3 /><circle cx=262 cy=1330 r=2.3 /><circle cx=331 cy=970 r=2.3 /><circle cx=441 cy=1287 r=2.3 /><circle cx=224 cy=1017 r=2.3 /><circle cx=241 cy=1233 r=2.3 /><circle cx=562 cy=1111 r=2.3 /><circle cx=315 cy=1085 r=2.3 /><circle cx=404 cy=1105 r=2.3 /><circle cx=451 cy=1137 r=2.3 /><circle cx=209 cy=1148 r=2.3 /><circle cx=472 cy=1182 r=2.3 /><circle cx=236 cy=1136 r=2.3 /><circle cx=306 cy=1061 r=2.3 /><circle cx=551 cy=1107 r=2.3 /><circle cx=518 cy=1146 r=2.3 /><circle cx=261 cy=1098 r=2.3 /><circle cx=369 cy=995 r=2.3 /><circle cx=538 cy=1112 r=2.3 /><circle cx=287 cy=1138 r=2.3 /><circle cx=465 cy=1139 r=2.3 /><circle cx=93 cy=1079 r=2.3 /><circle cx=303 cy=1342 r=2.3 /><circle cx=466 cy=1310 r=2.3 /><circle cx=186 cy=1308 r=2.3 /><circle cx=482 cy=1196 r=2.3 /><circle cx=416 cy=1116 r=2.3 /><circle cx=211 cy=1306 r=2.3 /><circle cx=525 cy=1204 r=2.3 /><circle cx=324 cy=1031 r=2.3 /><circle cx=434 cy=1129 r=2.3 /><circle cx=238 cy=1039 r=2.3 /><circle cx=61 cy=1143 r=2.3 /><circle cx=208 cy=1236 r=2.3 /><circle cx=511 cy=1167 r=2.3 /><circle cx=318 cy=1057 r=2.3 /><circle cx=462 cy=1280 r=2.3 /><circle cx=288 cy=1394 r=2.3 /><circle cx=319 cy=969 r=2.3 /><circle cx=479 cy=1289 r=2.3 /><circle cx=513 cy=1161 r=2.3 /><circle cx=435 cy=1138 r=2.3 /><circle cx=514 cy=1184 r=2.3 /><circle cx=426 cy=1096 r=2.3 /><circle cx=446 cy=1157 r=2.3 /><circle cx=328 cy=1070 r=2.3 /><circle cx=89 cy=1063 r=2.3 /><circle cx=262 cy=1301 r=2.3 /><circle cx=239 cy=1063 r=2.3 /><circle cx=435 cy=1227 r=2.3 /><circle cx=263 cy=1138 r=2.3 /><circle cx=205 cy=1222 r=2.3 /><circle cx=316 cy=1041 r=2.3 /><circle cx=78 cy=1053 r=2.3 /><circle cx=285 cy=1389 r=2.3 /><circle cx=79 cy=1071 r=2.3 /><circle cx=309 cy=1066 r=2.3 /><circle cx=327 cy=972 r=2.3 /><circle cx=331 cy=1023 r=2.3 /><circle cx=459 cy=1242 r=2.3 /><circle cx=241 cy=1224 r=2.3 /><circle cx=428 cy=1188 r=2.3 /><circle cx=113 cy=1075 r=2.3 /><circle cx=493 cy=1201 r=2.3 /><circle cx=364 cy=971 r=2.3 /><circle cx=218 cy=1221 r=2.3 /><circle cx=269 cy=1347 r=2.3 /><circle cx=458 cy=1155 r=2.3 /><circle cx=234 cy=1258 r=2.3 /><circle cx=75 cy=1112 r=2.3 /><circle cx=442 cy=1146 r=2.3 /><circle cx=471 cy=1189 r=2.3 /><circle cx=291 cy=1034 r=2.3 /><circle cx=274 cy=1267 r=2.3 /><circle cx=418 cy=1092 r=2.3 /><circle cx=425 cy=1099 r=2.3 /><circle cx=363 cy=1009 r=2.3 /><circle cx=84 cy=1097 r=2.3 /><circle cx=204 cy=1210 r=2.3 /><circle cx=378 cy=990 r=2.3 /><circle cx=531 cy=1099 r=2.3 /><circle cx=273 cy=1053 r=2.3 /><circle cx=457 cy=1182 r=2.3 /><circle cx=218 cy=1138 r=2.3 /><circle cx=103 cy=1070 r=2.3 /><circle cx=274 cy=1381 r=2.3 /><circle cx=273 cy=1248 r=2.3 /><circle cx=498 cy=1137 r=2.3 /><circle cx=470 cy=1118 r=2.3 /><circle cx=475 cy=1189 r=2.3 /><circle cx=441 cy=1173 r=2.3 /><circle cx=217 cy=1017 r=2.3 /><circle cx=272 cy=1314 r=2.3 /><circle cx=542 cy=1113 r=2.3 /><circle cx=240 cy=1128 r=2.3 /><circle cx=529 cy=1109 r=2.3 /><circle cx=448 cy=1261 r=2.3 /><circle cx=233 cy=1122 r=2.3 /><circle cx=367 cy=992 r=2.3 /><circle cx=296 cy=1023 r=2.3 /><circle cx=546 cy=1114 r=2.3 /><circle cx=76 cy=1085 r=2.3 /><circle cx=544 cy=1145 r=2.3 /><circle cx=468 cy=1152 r=2.3 /><circle cx=407 cy=1089 r=2.3 /><circle cx=104 cy=1083 r=2.3 /><circle cx=442 cy=1255 r=2.3 /><circle cx=451 cy=1304 r=2.3 /><circle cx=271 cy=1309 r=2.3 /><circle cx=487 cy=1209 r=2.3 /><circle cx=528 cy=1095 r=2.3 /><circle cx=502 cy=1099 r=2.3 /><circle cx=226 cy=1261 r=2.3 /><circle cx=488 cy=1111 r=2.3 /><circle cx=278 cy=1145 r=2.3 /><circle cx=319 cy=1397 r=2.3 /><circle cx=330 cy=1054 r=2.3 /><circle cx=327 cy=1027 r=2.3 /><circle cx=250 cy=1056 r=2.3 /><circle cx=297 cy=1116 r=2.3 /><circle cx=366 cy=982 r=2.3 /><circle cx=444 cy=1167 r=2.3 /><circle cx=233 cy=1134 r=2.3 /><circle cx=312 cy=1045 r=2.3 /><circle cx=537 cy=1179 r=2.3 /><circle cx=283 cy=1347 r=2.3 /><circle cx=285 cy=1049 r=2.3 /><circle cx=62 cy=1090 r=2.3 /><circle cx=71 cy=1124 r=2.3 /><circle cx=311 cy=1112 r=2.3 /><circle cx=347 cy=1007 r=2.3 /><circle cx=214 cy=1118 r=2.3 /><circle cx=218 cy=1241 r=2.3 /><circle cx=299 cy=1416 r=2.3 /><circle cx=502 cy=1136 r=2.3 /><circle cx=271 cy=1376 r=2.3 /><circle cx=313 cy=1010 r=2.3 /><circle cx=458 cy=1237 r=2.3 /><circle cx=222 cy=1202 r=2.3 /><circle cx=202 cy=993 r=2.3 /><circle cx=210 cy=991 r=2.3 /><circle cx=243 cy=1169 r=2.3 /><circle cx=327 cy=1066 r=2.3 /><circle cx=454 cy=1231 r=2.3 /><circle cx=358 cy=1014 r=2.3 /><circle cx=353 cy=975 r=2.3 /><circle cx=254 cy=1150 r=2.3 /><circle cx=317 cy=973 r=2.3 /><circle cx=256 cy=1085 r=2.3 /><circle cx=315 cy=1095 r=2.3 /><circle cx=97 cy=1055 r=2.3 /><circle cx=214 cy=1250 r=2.3 /><circle cx=256 cy=1087 r=2.3 /><circle cx=511 cy=1094 r=2.3 /><circle cx=288 cy=1040 r=2.3 /><circle cx=452 cy=1301 r=2.3 /><circle cx=220 cy=1158 r=2.3 /><circle cx=235 cy=1332 r=2.3 /><circle cx=499 cy=1103 r=2.3 /><circle cx=87 cy=1060 r=2.3 /><circle cx=219 cy=1198 r=2.3 /><circle cx=197 cy=1222 r=2.3 /><circle cx=83 cy=1049 r=2.3 /><circle cx=308 cy=1401 r=2.3 /></g>
<g class="q3c" fill="#ffffff" stroke="#4a4a4a" stroke-width="1.3"><circle cx=274 cy=1081 r=2.6 /><circle cx=454 cy=1273 r=2.6 /><circle cx=240 cy=1119 r=2.6 /><circle cx=364 cy=1005 r=2.6 /><circle cx=305 cy=1385 r=2.6 /><circle cx=240 cy=1200 r=2.6 /><circle cx=493 cy=1171 r=2.6 /><circle cx=422 cy=1101 r=2.6 /><circle cx=459 cy=1124 r=2.6 /><circle cx=301 cy=1379 r=2.6 /><circle cx=274 cy=1390 r=2.6 /><circle cx=431 cy=1185 r=2.6 /><circle cx=477 cy=1129 r=2.6 /><circle cx=458 cy=1168 r=2.6 /><circle cx=254 cy=1233 r=2.6 /><circle cx=265 cy=1072 r=2.6 /><circle cx=326 cy=1068 r=2.6 /><circle cx=550 cy=1089 r=2.6 /><circle cx=111 cy=1051 r=2.6 /><circle cx=318 cy=1007 r=2.6 /><circle cx=281 cy=1038 r=2.6 /><circle cx=502 cy=1185 r=2.6 /><circle cx=287 cy=1047 r=2.6 /><circle cx=468 cy=1129 r=2.6 /><circle cx=214 cy=1257 r=2.6 /><circle cx=269 cy=1110 r=2.6 /><circle cx=477 cy=1178 r=2.6 /><circle cx=285 cy=1100 r=2.6 /><circle cx=520 cy=1113 r=2.6 /><circle cx=541 cy=1186 r=2.6 /><circle cx=314 cy=1368 r=2.6 /><circle cx=438 cy=1274 r=2.6 /><circle cx=222 cy=1026 r=2.6 /><circle cx=275 cy=1126 r=2.6 /><circle cx=356 cy=979 r=2.6 /><circle cx=306 cy=1366 r=2.6 /><circle cx=301 cy=1035 r=2.6 /><circle cx=242 cy=1195 r=2.6 /><circle cx=311 cy=989 r=2.6 /><circle cx=249 cy=1167 r=2.6 /><circle cx=337 cy=1000 r=2.6 /><circle cx=551 cy=1091 r=2.6 /><circle cx=332 cy=1032 r=2.6 /><circle cx=309 cy=991 r=2.6 /><circle cx=450 cy=1201 r=2.6 /><circle cx=245 cy=1050 r=2.6 /><circle cx=82 cy=1051 r=2.6 /><circle cx=519 cy=1143 r=2.6 /><circle cx=422 cy=1141 r=2.6 /><circle cx=328 cy=1398 r=2.6 /><circle cx=252 cy=1187 r=2.6 /><circle cx=322 cy=1010 r=2.6 /><circle cx=69 cy=1091 r=2.6 /><circle cx=486 cy=1290 r=2.6 /><circle cx=261 cy=1094 r=2.6 /><circle cx=555 cy=1093 r=2.6 /><circle cx=284 cy=1042 r=2.6 /><circle cx=472 cy=1128 r=2.6 /><circle cx=272 cy=1338 r=2.6 /><circle cx=55 cy=1131 r=2.6 /><circle cx=464 cy=1272 r=2.6 /><circle cx=229 cy=1091 r=2.6 /><circle cx=544 cy=1182 r=2.6 /><circle cx=70 cy=1126 r=2.6 /><circle cx=428 cy=1129 r=2.6 /><circle cx=268 cy=1045 r=2.6 /><circle cx=81 cy=1102 r=2.6 /><circle cx=87 cy=1112 r=2.6 /><circle cx=466 cy=1185 r=2.6 /><circle cx=546 cy=1101 r=2.6 /><circle cx=321 cy=999 r=2.6 /><circle cx=120 cy=1067 r=2.6 /><circle cx=443 cy=1189 r=2.6 /><circle cx=476 cy=1275 r=2.6 /><circle cx=273 cy=1078 r=2.6 /><circle cx=272 cy=1328 r=2.6 /><circle cx=264 cy=1070 r=2.6 /><circle cx=95 cy=1055 r=2.6 /><circle cx=236 cy=1013 r=2.6 /><circle cx=214 cy=1133 r=2.6 /><circle cx=219 cy=1192 r=2.6 /><circle cx=284 cy=1448 r=2.6 /><circle cx=466 cy=1142 r=2.6 /><circle cx=461 cy=1179 r=2.6 /><circle cx=456 cy=1302 r=2.6 /><circle cx=491 cy=1180 r=2.6 /><circle cx=315 cy=1368 r=2.6 /><circle cx=264 cy=1282 r=2.6 /><circle cx=215 cy=1210 r=2.6 /><circle cx=277 cy=1129 r=2.6 /><circle cx=436 cy=1156 r=2.6 /><circle cx=234 cy=1111 r=2.6 /><circle cx=517 cy=1180 r=2.6 /><circle cx=79 cy=1106 r=2.6 /><circle cx=326 cy=1091 r=2.6 /><circle cx=502 cy=1193 r=2.6 /><circle cx=419 cy=1115 r=2.6 /><circle cx=210 cy=1196 r=2.6 /><circle cx=304 cy=1107 r=2.6 /><circle cx=297 cy=1123 r=2.6 /><circle cx=233 cy=1180 r=2.6 /><circle cx=277 cy=1347 r=2.6 /><circle cx=265 cy=1255 r=2.6 /><circle cx=474 cy=1268 r=2.6 /><circle cx=285 cy=1404 r=2.6 /><circle cx=287 cy=1079 r=2.6 /><circle cx=263 cy=1084 r=2.6 /><circle cx=252 cy=1256 r=2.6 /><circle cx=91 cy=1058 r=2.6 /><circle cx=317 cy=1078 r=2.6 /><circle cx=508 cy=1093 r=2.6 /><circle cx=333 cy=1019 r=2.6 /><circle cx=513 cy=1195 r=2.6 /><circle cx=256 cy=1347 r=2.6 /><circle cx=225 cy=1128 r=2.6 /><circle cx=55 cy=1074 r=2.6 /><circle cx=498 cy=1130 r=2.6 /><circle cx=253 cy=1100 r=2.6 /><circle cx=559 cy=1102 r=2.6 /><circle cx=268 cy=1313 r=2.6 /><circle cx=301 cy=1066 r=2.6 /><circle cx=112 cy=1081 r=2.6 /><circle cx=493 cy=1110 r=2.6 /><circle cx=464 cy=1232 r=2.6 /><circle cx=478 cy=1108 r=2.6 /><circle cx=354 cy=973 r=2.6 /><circle cx=296 cy=1433 r=2.6 /><circle cx=238 cy=1141 r=2.6 /><circle cx=263 cy=1294 r=2.6 /><circle cx=363 cy=1017 r=2.6 /><circle cx=299 cy=1108 r=2.6 /><circle cx=542 cy=1170 r=2.6 /><circle cx=224 cy=1127 r=2.6 /><circle cx=330 cy=1046 r=2.6 /><circle cx=542 cy=1159 r=2.6 /><circle cx=282 cy=1131 r=2.6 /><circle cx=214 cy=1233 r=2.6 /><circle cx=283 cy=1061 r=2.6 /><circle cx=69 cy=1086 r=2.6 /><circle cx=222 cy=992 r=2.6 /><circle cx=83 cy=1042 r=2.6 /><circle cx=541 cy=1105 r=2.6 /><circle cx=207 cy=1188 r=2.6 /><circle cx=248 cy=1065 r=2.6 /><circle cx=260 cy=1356 r=2.6 /><circle cx=440 cy=1185 r=2.6 /><circle cx=261 cy=1286 r=2.6 /><circle cx=521 cy=1121 r=2.6 /><circle cx=258 cy=1227 r=2.6 /><circle cx=299 cy=1032 r=2.6 /><circle cx=280 cy=1429 r=2.6 /><circle cx=90 cy=1055 r=2.6 /><circle cx=244 cy=1154 r=2.6 /><circle cx=319 cy=1054 r=2.6 /><circle cx=263 cy=1248 r=2.6 /><circle cx=240 cy=1185 r=2.6 /><circle cx=492 cy=1164 r=2.6 /><circle cx=283 cy=1079 r=2.6 /><circle cx=71 cy=1118 r=2.6 /><circle cx=63 cy=1043 r=2.6 /><circle cx=465 cy=1148 r=2.6 /><circle cx=503 cy=1146 r=2.6 /><circle cx=93 cy=1061 r=2.6 /><circle cx=517 cy=1173 r=2.6 /><circle cx=258 cy=1091 r=2.6 /><circle cx=294 cy=1332 r=2.6 /><circle cx=282 cy=1419 r=2.6 /><circle cx=275 cy=1132 r=2.6 /><circle cx=499 cy=1098 r=2.6 /><circle cx=210 cy=1139 r=2.6 /><circle cx=301 cy=1053 r=2.6 /><circle cx=508 cy=1173 r=2.6 /><circle cx=496 cy=1196 r=2.6 /><circle cx=499 cy=1160 r=2.6 /><circle cx=538 cy=1160 r=2.6 /><circle cx=244 cy=1254 r=2.6 /><circle cx=317 cy=1394 r=2.6 /><circle cx=93 cy=1110 r=2.6 /><circle cx=260 cy=1051 r=2.6 /><circle cx=202 cy=1014 r=2.6 /><circle cx=362 cy=1227 r=2.6 /><circle cx=216 cy=1162 r=2.6 /><circle cx=317 cy=1360 r=2.6 /><circle cx=430 cy=1153 r=2.6 /><circle cx=212 cy=1160 r=2.6 /><circle cx=94 cy=1118 r=2.6 /><circle cx=429 cy=1130 r=2.6 /><circle cx=512 cy=1154 r=2.6 /><circle cx=488 cy=1124 r=2.6 /><circle cx=272 cy=1094 r=2.6 /><circle cx=239 cy=1057 r=2.6 /><circle cx=331 cy=973 r=2.6 /><circle cx=119 cy=1073 r=2.6 /><circle cx=242 cy=1248 r=2.6 /><circle cx=270 cy=1321 r=2.6 /><circle cx=437 cy=1186 r=2.6 /><circle cx=497 cy=1110 r=2.6 /><circle cx=249 cy=1256 r=2.6 /><circle cx=441 cy=1206 r=2.6 /><circle cx=70 cy=1130 r=2.6 /><circle cx=236 cy=1133 r=2.6 /><circle cx=491 cy=1142 r=2.6 /><circle cx=262 cy=1272 r=2.6 /><circle cx=463 cy=1240 r=2.6 /><circle cx=215 cy=1012 r=2.6 /><circle cx=297 cy=1028 r=2.6 /><circle cx=198 cy=1198 r=2.6 /><circle cx=229 cy=1169 r=2.6 /><circle cx=209 cy=1239 r=2.6 /><circle cx=498 cy=1141 r=2.6 /><circle cx=272 cy=1273 r=2.6 /><circle cx=330 cy=1067 r=2.6 /><circle cx=200 cy=1182 r=2.6 /><circle cx=230 cy=1235 r=2.6 /><circle cx=368 cy=1012 r=2.6 /><circle cx=292 cy=1396 r=2.6 /><circle cx=448 cy=1150 r=2.6 /><circle cx=328 cy=1047 r=2.6 /><circle cx=485 cy=1295 r=2.6 /><circle cx=296 cy=1126 r=2.6 /><circle cx=287 cy=1411 r=2.6 /><circle cx=431 cy=1177 r=2.6 /><circle cx=278 cy=1331 r=2.6 /><circle cx=76 cy=1061 r=2.6 /><circle cx=231 cy=1196 r=2.6 /><circle cx=481 cy=1163 r=2.6 /><circle cx=251 cy=1166 r=2.6 /><circle cx=87 cy=1078 r=2.6 /><circle cx=463 cy=1301 r=2.6 /><circle cx=285 cy=1113 r=2.6 /><circle cx=510 cy=1199 r=2.6 /><circle cx=445 cy=1183 r=2.6 /><circle cx=286 cy=1084 r=2.6 /><circle cx=472 cy=1148 r=2.6 /><circle cx=325 cy=1381 r=2.6 /><circle cx=357 cy=1230 r=2.6 /><circle cx=558 cy=1140 r=2.6 /><circle cx=243 cy=1220 r=2.6 /><circle cx=251 cy=1197 r=2.6 /><circle cx=268 cy=1310 r=2.6 /><circle cx=211 cy=1214 r=2.6 /><circle cx=442 cy=1172 r=2.6 /><circle cx=522 cy=1140 r=2.6 /><circle cx=307 cy=1101 r=2.6 /><circle cx=265 cy=1163 r=2.6 /><circle cx=350 cy=962 r=2.6 /><circle cx=189 cy=1209 r=2.6 /><circle cx=202 cy=1187 r=2.6 /><circle cx=277 cy=1336 r=2.6 /><circle cx=290 cy=1428 r=2.6 /><circle cx=234 cy=1186 r=2.6 /><circle cx=66 cy=1129 r=2.6 /><circle cx=62 cy=1121 r=2.6 /><circle cx=263 cy=1266 r=2.6 /><circle cx=477 cy=1292 r=2.6 /><circle cx=90 cy=1098 r=2.6 /><circle cx=457 cy=1138 r=2.6 /><circle cx=326 cy=1388 r=2.6 /><circle cx=231 cy=1128 r=2.6 /><circle cx=493 cy=1190 r=2.6 /><circle cx=107 cy=1052 r=2.6 /><circle cx=270 cy=1397 r=2.6 /><circle cx=247 cy=1164 r=2.6 /><circle cx=308 cy=1508 r=2.6 /><circle cx=303 cy=1040 r=2.6 /><circle cx=215 cy=999 r=2.6 /><circle cx=263 cy=1076 r=2.6 /><circle cx=227 cy=1183 r=2.6 /><circle cx=270 cy=1404 r=2.6 /><circle cx=203 cy=1165 r=2.6 /><circle cx=55 cy=1057 r=2.6 /><circle cx=410 cy=1103 r=2.6 /><circle cx=266 cy=1078 r=2.6 /><circle cx=299 cy=1098 r=2.6 /><circle cx=442 cy=1277 r=2.6 /><circle cx=323 cy=1048 r=2.6 /><circle cx=497 cy=1146 r=2.6 /><circle cx=537 cy=1193 r=2.6 /><circle cx=328 cy=1003 r=2.6 /><circle cx=284 cy=1123 r=2.6 /><circle cx=308 cy=1394 r=2.6 /><circle cx=299 cy=1404 r=2.6 /><circle cx=190 cy=1315 r=2.6 /><circle cx=254 cy=1247 r=2.6 /><circle cx=277 cy=1364 r=2.6 /><circle cx=252 cy=1113 r=2.6 /><circle cx=521 cy=1091 r=2.6 /><circle cx=360 cy=975 r=2.6 /><circle cx=427 cy=1133 r=2.6 /><circle cx=320 cy=1035 r=2.6 /><circle cx=259 cy=1096 r=2.6 /><circle cx=193 cy=1180 r=2.6 /><circle cx=453 cy=1203 r=2.6 /><circle cx=231 cy=1238 r=2.6 /><circle cx=224 cy=1195 r=2.6 /><circle cx=429 cy=1134 r=2.6 /><circle cx=265 cy=1299 r=2.6 /><circle cx=245 cy=1198 r=2.6 /><circle cx=251 cy=1261 r=2.6 /><circle cx=342 cy=971 r=2.6 /><circle cx=472 cy=1157 r=2.6 /><circle cx=266 cy=1273 r=2.6 /><circle cx=447 cy=1171 r=2.6 /><circle cx=525 cy=1127 r=2.6 /><circle cx=245 cy=1184 r=2.6 /><circle cx=221 cy=1122 r=2.6 /><circle cx=265 cy=1122 r=2.6 /><circle cx=284 cy=1393 r=2.6 /><circle cx=218 cy=1185 r=2.6 /><circle cx=205 cy=1019 r=2.6 /><circle cx=300 cy=1356 r=2.6 /><circle cx=310 cy=1029 r=2.6 /><circle cx=289 cy=1069 r=2.6 /><circle cx=103 cy=1057 r=2.6 /><circle cx=286 cy=1108 r=2.6 /><circle cx=528 cy=1184 r=2.6 /><circle cx=487 cy=1154 r=2.6 /><circle cx=327 cy=1386 r=2.6 /><circle cx=444 cy=1152 r=2.6 /><circle cx=525 cy=1181 r=2.6 /><circle cx=98 cy=1083 r=2.6 /><circle cx=202 cy=1007 r=2.6 /><circle cx=225 cy=1020 r=2.6 /><circle cx=205 cy=1160 r=2.6 /><circle cx=274 cy=1076 r=2.6 /><circle cx=225 cy=1151 r=2.6 /><circle cx=366 cy=1004 r=2.6 /><circle cx=307 cy=1000 r=2.6 /><circle cx=119 cy=1081 r=2.6 /><circle cx=320 cy=1042 r=2.6 /><circle cx=264 cy=1257 r=2.6 /><circle cx=413 cy=1100 r=2.6 /><circle cx=237 cy=1111 r=2.6 /><circle cx=269 cy=1315 r=2.6 /><circle cx=487 cy=1193 r=2.6 /><circle cx=259 cy=1261 r=2.6 /><circle cx=480 cy=1123 r=2.6 /><circle cx=379 cy=989 r=2.6 /><circle cx=291 cy=1049 r=2.6 /><circle cx=495 cy=1201 r=2.6 /><circle cx=246 cy=1177 r=2.6 /><circle cx=335 cy=969 r=2.6 /><circle cx=304 cy=1050 r=2.6 /><circle cx=285 cy=1359 r=2.6 /><circle cx=470 cy=1225 r=2.6 /><circle cx=466 cy=1204 r=2.6 /><circle cx=83 cy=1055 r=2.6 /><circle cx=223 cy=1019 r=2.6 /><circle cx=445 cy=1283 r=2.6 /><circle cx=329 cy=982 r=2.6 /><circle cx=310 cy=1370 r=2.6 /><circle cx=298 cy=1041 r=2.6 /><circle cx=261 cy=1075 r=2.6 /><circle cx=269 cy=1136 r=2.6 /><circle cx=245 cy=1241 r=2.6 /><circle cx=455 cy=1293 r=2.6 /><circle cx=245 cy=1150 r=2.6 /><circle cx=535 cy=1174 r=2.6 /><circle cx=281 cy=1422 r=2.6 /><circle cx=317 cy=1010 r=2.6 /><circle cx=483 cy=1104 r=2.6 /><circle cx=265 cy=1302 r=2.6 /><circle cx=267 cy=1337 r=2.6 /><circle cx=452 cy=1139 r=2.6 /><circle cx=552 cy=1117 r=2.6 /><circle cx=494 cy=1192 r=2.6 /><circle cx=79 cy=1083 r=2.6 /><circle cx=78 cy=1089 r=2.6 /><circle cx=210 cy=1245 r=2.6 /><circle cx=259 cy=1160 r=2.6 /><circle cx=272 cy=1135 r=2.6 /><circle cx=276 cy=1036 r=2.6 /><circle cx=267 cy=1343 r=2.6 /><circle cx=264 cy=1144 r=2.6 /><circle cx=458 cy=1317 r=2.6 /><circle cx=526 cy=1159 r=2.6 /><circle cx=283 cy=1445 r=2.6 /><circle cx=329 cy=1394 r=2.6 /><circle cx=516 cy=1148 r=2.6 /><circle cx=317 cy=1053 r=2.6 /><circle cx=323 cy=1022 r=2.6 /><circle cx=525 cy=1088 r=2.6 /><circle cx=213 cy=1022 r=2.6 /><circle cx=278 cy=1069 r=2.6 /><circle cx=218 cy=1262 r=2.6 /><circle cx=70 cy=1048 r=2.6 /><circle cx=463 cy=1195 r=2.6 /><circle cx=229 cy=1167 r=2.6 /><circle cx=464 cy=1169 r=2.6 /><circle cx=237 cy=1234 r=2.6 /><circle cx=243 cy=1162 r=2.6 /><circle cx=351 cy=979 r=2.6 /><circle cx=305 cy=1079 r=2.6 /><circle cx=539 cy=1190 r=2.6 /><circle cx=459 cy=1133 r=2.6 /><circle cx=276 cy=1098 r=2.6 /><circle cx=282 cy=1032 r=2.6 /><circle cx=427 cy=1141 r=2.6 /><circle cx=300 cy=1343 r=2.6 /><circle cx=332 cy=1395 r=2.6 /><circle cx=74 cy=1102 r=2.6 /><circle cx=372 cy=983 r=2.6 /><circle cx=262 cy=1378 r=2.6 /><circle cx=268 cy=1247 r=2.6 /><circle cx=556 cy=1105 r=2.6 /><circle cx=92 cy=1102 r=2.6 /><circle cx=333 cy=988 r=2.6 /><circle cx=514 cy=1201 r=2.6 /><circle cx=426 cy=1094 r=2.6 /><circle cx=213 cy=1171 r=2.6 /><circle cx=317 cy=1350 r=2.6 /><circle cx=211 cy=1232 r=2.6 /><circle cx=238 cy=1133 r=2.6 /><circle cx=84 cy=1076 r=2.6 /><circle cx=310 cy=1375 r=2.6 /><circle cx=485 cy=1151 r=2.6 /><circle cx=88 cy=1101 r=2.6 /><circle cx=346 cy=1016 r=2.6 /><circle cx=277 cy=1376 r=2.6 /><circle cx=62 cy=1047 r=2.6 /><circle cx=326 cy=1026 r=2.6 /><circle cx=225 cy=1095 r=2.6 /><circle cx=222 cy=1216 r=2.6 /><circle cx=353 cy=967 r=2.6 /><circle cx=315 cy=1019 r=2.6 /><circle cx=305 cy=1411 r=2.6 /><circle cx=453 cy=1221 r=2.6 /><circle cx=101 cy=1055 r=2.6 /><circle cx=321 cy=1350 r=2.6 /><circle cx=450 cy=1289 r=2.6 /><circle cx=546 cy=1109 r=2.6 /><circle cx=463 cy=1199 r=2.6 /><circle cx=271 cy=1101 r=2.6 /><circle cx=59 cy=1129 r=2.6 /><circle cx=506 cy=1137 r=2.6 /><circle cx=474 cy=1132 r=2.6 /><circle cx=271 cy=1264 r=2.6 /><circle cx=240 cy=1105 r=2.6 /><circle cx=521 cy=1105 r=2.6 /><circle cx=372 cy=977 r=2.6 /><circle cx=236 cy=1049 r=2.6 /><circle cx=546 cy=1154 r=2.6 /><circle cx=262 cy=1291 r=2.6 /><circle cx=55 cy=1139 r=2.6 /><circle cx=236 cy=1268 r=2.6 /><circle cx=468 cy=1312 r=2.6 /><circle cx=289 cy=1408 r=2.6 /><circle cx=370 cy=1004 r=2.6 /><circle cx=321 cy=1056 r=2.6 /><circle cx=204 cy=1192 r=2.6 /><circle cx=284 cy=1047 r=2.6 /><circle cx=259 cy=1366 r=2.6 /><circle cx=241 cy=1180 r=2.6 /><circle cx=434 cy=1167 r=2.6 /><circle cx=354 cy=987 r=2.6 /><circle cx=474 cy=1118 r=2.6 /><circle cx=93 cy=1063 r=2.6 /><circle cx=288 cy=1033 r=2.6 /><circle cx=317 cy=1122 r=2.6 /><circle cx=280 cy=1059 r=2.6 /><circle cx=279 cy=1416 r=2.6 /><circle cx=308 cy=1353 r=2.6 /><circle cx=420 cy=1103 r=2.6 /><circle cx=477 cy=1136 r=2.6 /><circle cx=290 cy=1337 r=2.6 /><circle cx=268 cy=1275 r=2.6 /><circle cx=202 cy=1164 r=2.6 /><circle cx=559 cy=1110 r=2.6 /><circle cx=238 cy=1028 r=2.6 /><circle cx=499 cy=1156 r=2.6 /><circle cx=243 cy=1148 r=2.6 /><circle cx=267 cy=1352 r=2.6 /><circle cx=466 cy=1121 r=2.6 /><circle cx=475 cy=1150 r=2.6 /><circle cx=248 cy=1286 r=2.6 /><circle cx=253 cy=1157 r=2.6 /><circle cx=249 cy=1150 r=2.6 /><circle cx=234 cy=1192 r=2.6 /><circle cx=212 cy=1154 r=2.6 /><circle cx=297 cy=1407 r=2.6 /><circle cx=373 cy=977 r=2.6 /><circle cx=472 cy=1206 r=2.6 /><circle cx=458 cy=1145 r=2.6 /><circle cx=494 cy=1098 r=2.6 /><circle cx=317 cy=1001 r=2.6 /><circle cx=77 cy=1107 r=2.6 /><circle cx=545 cy=1135 r=2.6 /><circle cx=60 cy=1121 r=2.6 /><circle cx=95 cy=1122 r=2.6 /><circle cx=270 cy=1350 r=2.6 /><circle cx=207 cy=1000 r=2.6 /><circle cx=267 cy=1103 r=2.6 /><circle cx=441 cy=1226 r=2.6 /><circle cx=474 cy=1257 r=2.6 /><circle cx=278 cy=1112 r=2.6 /><circle cx=447 cy=1293 r=2.6 /><circle cx=285 cy=1438 r=2.6 /><circle cx=270 cy=1318 r=2.6 /><circle cx=361 cy=1012 r=2.6 /><circle cx=452 cy=1189 r=2.6 /><circle cx=466 cy=1220 r=2.6 /><circle cx=212 cy=1013 r=2.6 /><circle cx=233 cy=1172 r=2.6 /><circle cx=254 cy=1087 r=2.6 /><circle cx=324 cy=1106 r=2.6 /><circle cx=216 cy=1203 r=2.6 /><circle cx=481 cy=1218 r=2.6 /><circle cx=331 cy=1004 r=2.6 /><circle cx=227 cy=1148 r=2.6 /><circle cx=509 cy=1102 r=2.6 /><circle cx=255 cy=1116 r=2.6 /><circle cx=218 cy=1206 r=2.6 /><circle cx=194 cy=1197 r=2.6 /><circle cx=523 cy=1203 r=2.6 /><circle cx=524 cy=1146 r=2.6 /><circle cx=73 cy=1087 r=2.6 /><circle cx=242 cy=1206 r=2.6 /><circle cx=258 cy=1103 r=2.6 /><circle cx=305 cy=1379 r=2.6 /><circle cx=199 cy=997 r=2.6 /><circle cx=271 cy=1169 r=2.6 /><circle cx=225 cy=1004 r=2.6 /><circle cx=363 cy=975 r=2.6 /><circle cx=315 cy=1012 r=2.6 /><circle cx=531 cy=1187 r=2.6 /><circle cx=318 cy=1106 r=2.6 /><circle cx=483 cy=1193 r=2.6 /><circle cx=466 cy=1123 r=2.6 /><circle cx=226 cy=1117 r=2.6 /><circle cx=206 cy=1176 r=2.6 /><circle cx=297 cy=1342 r=2.6 /><circle cx=335 cy=1023 r=2.6 /><circle cx=306 cy=1085 r=2.6 /><circle cx=258 cy=1140 r=2.6 /><circle cx=292 cy=1336 r=2.6 /><circle cx=446 cy=1148 r=2.6 /><circle cx=336 cy=1026 r=2.6 /><circle cx=427 cy=1196 r=2.6 /><circle cx=264 cy=1297 r=2.6 /><circle cx=342 cy=1011 r=2.6 /><circle cx=205 cy=1204 r=2.6 /><circle cx=533 cy=1139 r=2.6 /><circle cx=258 cy=1255 r=2.6 /><circle cx=456 cy=1290 r=2.6 /><circle cx=467 cy=1170 r=2.6 /><circle cx=328 cy=1007 r=2.6 /><circle cx=517 cy=1202 r=2.6 /><circle cx=213 cy=1017 r=2.6 /><circle cx=435 cy=1182 r=2.6 /><circle cx=463 cy=1213 r=2.6 /><circle cx=517 cy=1139 r=2.6 /><circle cx=454 cy=1318 r=2.6 /><circle cx=274 cy=1095 r=2.6 /><circle cx=270 cy=1261 r=2.6 /><circle cx=275 cy=1370 r=2.6 /><circle cx=251 cy=1098 r=2.6 /><circle cx=274 cy=1113 r=2.6 /><circle cx=54 cy=1068 r=2.6 /><circle cx=215 cy=1261 r=2.6 /><circle cx=268 cy=1395 r=2.6 /><circle cx=274 cy=1373 r=2.6 /><circle cx=535 cy=1190 r=2.6 /><circle cx=265 cy=1363 r=2.6 /><circle cx=234 cy=1015 r=2.6 /><circle cx=457 cy=1203 r=2.6 /><circle cx=483 cy=1281 r=2.6 /><circle cx=89 cy=1082 r=2.6 /><circle cx=477 cy=1160 r=2.6 /><circle cx=439 cy=1239 r=2.6 /><circle cx=207 cy=1016 r=2.6 /><circle cx=58 cy=1068 r=2.6 /><circle cx=220 cy=1141 r=2.6 /><circle cx=468 cy=1289 r=2.6 /><circle cx=340 cy=1364 r=2.6 /><circle cx=198 cy=1203 r=2.6 /><circle cx=266 cy=1305 r=2.6 /><circle cx=75 cy=1051 r=2.6 /><circle cx=93 cy=1098 r=2.6 /><circle cx=500 cy=1180 r=2.6 /><circle cx=441 cy=1160 r=2.6 /><circle cx=231 cy=1255 r=2.6 /><circle cx=499 cy=1120 r=2.6 /><circle cx=207 cy=1208 r=2.6 /><circle cx=455 cy=1262 r=2.6 /><circle cx=452 cy=1246 r=2.6 /><circle cx=477 cy=1168 r=2.6 /><circle cx=273 cy=1335 r=2.6 /><circle cx=241 cy=1171 r=2.6 /><circle cx=468 cy=1227 r=2.6 /><circle cx=267 cy=1389 r=2.6 /><circle cx=189 cy=1184 r=2.6 /><circle cx=314 cy=1001 r=2.6 /><circle cx=267 cy=1307 r=2.6 /><circle cx=248 cy=1219 r=2.6 /><circle cx=321 cy=1019 r=2.6 /><circle cx=540 cy=1117 r=2.6 /><circle cx=261 cy=1082 r=2.6 /><circle cx=442 cy=1143 r=2.6 /><circle cx=229 cy=1106 r=2.6 /><circle cx=468 cy=1191 r=2.6 /><circle cx=314 cy=1350 r=2.6 /><circle cx=476 cy=1154 r=2.6 /><circle cx=480 cy=1211 r=2.6 /><circle cx=245 cy=1044 r=2.6 /><circle cx=70 cy=1064 r=2.6 /><circle cx=293 cy=1372 r=2.6 /><circle cx=438 cy=1235 r=2.6 /><circle cx=253 cy=1125 r=2.6 /><circle cx=259 cy=1134 r=2.6 /><circle cx=329 cy=1381 r=2.6 /><circle cx=262 cy=1263 r=2.6 /><circle cx=59 cy=1076 r=2.6 /><circle cx=495 cy=1150 r=2.6 /><circle cx=258 cy=1350 r=2.6 /><circle cx=71 cy=1092 r=2.6 /><circle cx=330 cy=1060 r=2.6 /><circle cx=82 cy=1135 r=2.6 /><circle cx=275 cy=1375 r=2.6 /><circle cx=426 cy=1121 r=2.6 /><circle cx=105 cy=1060 r=2.6 /><circle cx=306 cy=1382 r=2.6 /><circle cx=60 cy=1144 r=2.6 /><circle cx=313 cy=984 r=2.6 /><circle cx=533 cy=1189 r=2.6 /><circle cx=211 cy=1148 r=2.6 /><circle cx=510 cy=1105 r=2.6 /><circle cx=224 cy=1258 r=2.6 /><circle cx=508 cy=1142 r=2.6 /><circle cx=535 cy=1115 r=2.6 /><circle cx=287 cy=1392 r=2.6 /><circle cx=282 cy=1400 r=2.6 /><circle cx=75 cy=1054 r=2.6 /><circle cx=504 cy=1190 r=2.6 /><circle cx=462 cy=1319 r=2.6 /><circle cx=436 cy=1175 r=2.6 /><circle cx=216 cy=1235 r=2.6 /><circle cx=343 cy=1006 r=2.6 /><circle cx=91 cy=1092 r=2.6 /><circle cx=314 cy=1026 r=2.6 /><circle cx=499 cy=1201 r=2.6 /><circle cx=371 cy=985 r=2.6 /><circle cx=304 cy=1094 r=2.6 /><circle cx=231 cy=1113 r=2.6 /><circle cx=301 cy=1060 r=2.6 /><circle cx=445 cy=1154 r=2.6 /><circle cx=478 cy=1146 r=2.6 /><circle cx=553 cy=1113 r=2.6 /><circle cx=459 cy=1145 r=2.6 /><circle cx=440 cy=1260 r=2.6 /><circle cx=317 cy=1031 r=2.6 /><circle cx=243 cy=1272 r=2.6 /><circle cx=213 cy=992 r=2.6 /><circle cx=241 cy=1072 r=2.6 /><circle cx=503 cy=1127 r=2.6 /><circle cx=234 cy=1220 r=2.6 /><circle cx=336 cy=1007 r=2.6 /><circle cx=310 cy=1038 r=2.6 /><circle cx=453 cy=1209 r=2.6 /><circle cx=247 cy=1057 r=2.6 /><circle cx=296 cy=1119 r=2.6 /><circle cx=300 cy=1350 r=2.6 /><circle cx=469 cy=1126 r=2.6 /><circle cx=223 cy=1129 r=2.6 /><circle cx=280 cy=1141 r=2.6 /><circle cx=340 cy=1006 r=2.6 /><circle cx=333 cy=1372 r=2.6 /><circle cx=323 cy=1376 r=2.6 /><circle cx=267 cy=1144 r=2.6 /><circle cx=520 cy=1173 r=2.6 /><circle cx=216 cy=1223 r=2.6 /><circle cx=211 cy=1217 r=2.6 /><circle cx=253 cy=1252 r=2.6 /><circle cx=356 cy=1242 r=2.6 /><circle cx=482 cy=1183 r=2.6 /><circle cx=455 cy=1199 r=2.6 /><circle cx=233 cy=1253 r=2.6 /><circle cx=261 cy=1087 r=2.6 /><circle cx=224 cy=1245 r=2.6 /><circle cx=467 cy=1265 r=2.6 /><circle cx=321 cy=1029 r=2.6 /><circle cx=286 cy=1132 r=2.6 /><circle cx=478 cy=1183 r=2.6 /><circle cx=291 cy=1085 r=2.6 /><circle cx=220 cy=1109 r=2.6 /><circle cx=289 cy=1364 r=2.6 /><circle cx=485 cy=1119 r=2.6 /><circle cx=505 cy=1194 r=2.6 /><circle cx=232 cy=1133 r=2.6 /><circle cx=341 cy=967 r=2.6 /><circle cx=268 cy=1062 r=2.6 /><circle cx=181 cy=1311 r=2.6 /><circle cx=263 cy=1054 r=2.6 /><circle cx=275 cy=1252 r=2.6 /><circle cx=272 cy=1172 r=2.6 /><circle cx=367 cy=979 r=2.6 /><circle cx=261 cy=1066 r=2.6 /><circle cx=481 cy=1208 r=2.6 /><circle cx=122 cy=1064 r=2.6 /><circle cx=539 cy=1088 r=2.6 /><circle cx=200 cy=1010 r=2.6 /><circle cx=289 cy=1113 r=2.6 /><circle cx=499 cy=1133 r=2.6 /><circle cx=328 cy=1109 r=2.6 /><circle cx=357 cy=987 r=2.6 /><circle cx=467 cy=1268 r=2.6 /><circle cx=231 cy=1181 r=2.6 /><circle cx=289 cy=1125 r=2.6 /><circle cx=305 cy=1401 r=2.6 /><circle cx=306 cy=1113 r=2.6 /><circle cx=269 cy=1074 r=2.6 /><circle cx=221 cy=1170 r=2.6 /><circle cx=493 cy=1121 r=2.6 /><circle cx=228 cy=1158 r=2.6 /><circle cx=299 cy=1408 r=2.6 /><circle cx=349 cy=967 r=2.6 /><circle cx=272 cy=1065 r=2.6 /><circle cx=106 cy=1089 r=2.6 /><circle cx=466 cy=1167 r=2.6 /><circle cx=294 cy=1362 r=2.6 /><circle cx=472 cy=1146 r=2.6 /><circle cx=328 cy=962 r=2.6 /><circle cx=493 cy=1196 r=2.6 /><circle cx=221 cy=1251 r=2.6 /><circle cx=276 cy=1328 r=2.6 /><circle cx=363 cy=979 r=2.6 /><circle cx=261 cy=1103 r=2.6 /><circle cx=294 cy=1436 r=2.6 /><circle cx=320 cy=1047 r=2.6 /><circle cx=554 cy=1145 r=2.6 /><circle cx=200 cy=1197 r=2.6 /><circle cx=319 cy=1359 r=2.6 /><circle cx=322 cy=1055 r=2.6 /><circle cx=311 cy=1056 r=2.6 /><circle cx=300 cy=1077 r=2.6 /><circle cx=258 cy=1153 r=2.6 /><circle cx=319 cy=1037 r=2.6 /><circle cx=322 cy=964 r=2.6 /><circle cx=203 cy=1225 r=2.6 /><circle cx=224 cy=998 r=2.6 /><circle cx=267 cy=1108 r=2.6 /><circle cx=324 cy=1112 r=2.6 /><circle cx=236 cy=1130 r=2.6 /><circle cx=486 cy=1132 r=2.6 /><circle cx=313 cy=1379 r=2.6 /><circle cx=440 cy=1241 r=2.6 /><circle cx=520 cy=1155 r=2.6 /><circle cx=84 cy=1111 r=2.6 /><circle cx=295 cy=1392 r=2.6 /><circle cx=411 cy=1119 r=2.6 /><circle cx=515 cy=1114 r=2.6 /><circle cx=251 cy=1127 r=2.6 /><circle cx=439 cy=1271 r=2.6 /><circle cx=459 cy=1177 r=2.6 /><circle cx=479 cy=1303 r=2.6 /><circle cx=299 cy=1090 r=2.6 /><circle cx=238 cy=1122 r=2.6 /><circle cx=281 cy=1090 r=2.6 /><circle cx=316 cy=996 r=2.6 /><circle cx=354 cy=1012 r=2.6 /><circle cx=299 cy=1419 r=2.6 /><circle cx=241 cy=1239 r=2.6 /><circle cx=310 cy=1022 r=2.6 /><circle cx=344 cy=990 r=2.6 /><circle cx=335 cy=1017 r=2.6 /><circle cx=291 cy=1123 r=2.6 /><circle cx=454 cy=1204 r=2.6 /><circle cx=285 cy=1432 r=2.6 /><circle cx=339 cy=966 r=2.6 /><circle cx=61 cy=1123 r=2.6 /><circle cx=344 cy=974 r=2.6 /><circle cx=289 cy=1039 r=2.6 /><circle cx=255 cy=1129 r=2.6 /><circle cx=224 cy=1224 r=2.6 /><circle cx=299 cy=1063 r=2.6 /><circle cx=433 cy=1125 r=2.6 /><circle cx=552 cy=1105 r=2.6 /><circle cx=417 cy=1122 r=2.6 /><circle cx=503 cy=1157 r=2.6 /><circle cx=561 cy=1128 r=2.6 /><circle cx=464 cy=1189 r=2.6 /><circle cx=279 cy=1346 r=2.6 /><circle cx=326 cy=1019 r=2.6 /><circle cx=212 cy=1134 r=2.6 /><circle cx=279 cy=1043 r=2.6 /><circle cx=263 cy=1108 r=2.6 /><circle cx=328 cy=985 r=2.6 /><circle cx=272 cy=1245 r=2.6 /><circle cx=487 cy=1165 r=2.6 /><circle cx=431 cy=1190 r=2.6 /><circle cx=427 cy=1125 r=2.6 /><circle cx=221 cy=997 r=2.6 /><circle cx=245 cy=1251 r=2.6 /><circle cx=280 cy=1041 r=2.6 /><circle cx=349 cy=1009 r=2.6 /><circle cx=292 cy=1379 r=2.6 /><circle cx=211 cy=1242 r=2.6 /><circle cx=313 cy=1510 r=2.6 /><circle cx=507 cy=1096 r=2.6 /><circle cx=220 cy=1009 r=2.6 /><circle cx=334 cy=960 r=2.6 /><circle cx=290 cy=1058 r=2.6 /><circle cx=285 cy=1411 r=2.6 /><circle cx=487 cy=1166 r=2.6 /><circle cx=497 cy=1116 r=2.6 /><circle cx=417 cy=1125 r=2.6 /><circle cx=525 cy=1151 r=2.6 /><circle cx=556 cy=1130 r=2.6 /><circle cx=209 cy=1019 r=2.6 /><circle cx=243 cy=1051 r=2.6 /><circle cx=293 cy=1046 r=2.6 /><circle cx=255 cy=1355 r=2.6 /><circle cx=435 cy=1149 r=2.6 /><circle cx=226 cy=1154 r=2.6 /><circle cx=236 cy=1106 r=2.6 /><circle cx=561 cy=1113 r=2.6 /><circle cx=493 cy=1207 r=2.6 /><circle cx=263 cy=1058 r=2.6 /><circle cx=213 cy=1019 r=2.6 /><circle cx=311 cy=1019 r=2.6 /><circle cx=281 cy=1330 r=2.6 /><circle cx=96 cy=1090 r=2.6 /><circle cx=271 cy=1113 r=2.6 /><circle cx=318 cy=1064 r=2.6 /><circle cx=219 cy=1255 r=2.6 /><circle cx=56 cy=1071 r=2.6 /><circle cx=238 cy=1194 r=2.6 /><circle cx=252 cy=1172 r=2.6 /><circle cx=477 cy=1204 r=2.6 /><circle cx=59 cy=1140 r=2.6 /><circle cx=525 cy=1114 r=2.6 /><circle cx=229 cy=1154 r=2.6 /><circle cx=271 cy=1323 r=2.6 /><circle cx=555 cy=1154 r=2.6 /><circle cx=54 cy=1138 r=2.6 /><circle cx=537 cy=1123 r=2.6 /><circle cx=417 cy=1102 r=2.6 /><circle cx=273 cy=1392 r=2.6 /><circle cx=284 cy=1115 r=2.6 /><circle cx=281 cy=1336 r=2.6 /><circle cx=218 cy=1006 r=2.6 /><circle cx=297 cy=1074 r=2.6 /><circle cx=485 cy=1195 r=2.6 /><circle cx=448 cy=1175 r=2.6 /><circle cx=504 cy=1184 r=2.6 /><circle cx=265 cy=1356 r=2.6 /><circle cx=448 cy=1268 r=2.6 /><circle cx=89 cy=1120 r=2.6 /><circle cx=447 cy=1264 r=2.6 /><circle cx=314 cy=1383 r=2.6 /><circle cx=288 cy=1045 r=2.6 /><circle cx=268 cy=1038 r=2.6 /><circle cx=242 cy=1176 r=2.6 /><circle cx=203 cy=1003 r=2.6 /><circle cx=333 cy=995 r=2.6 /><circle cx=329 cy=1057 r=2.6 /><circle cx=225 cy=1167 r=2.6 /><circle cx=95 cy=1083 r=2.6 /><circle cx=242 cy=1076 r=2.6 /><circle cx=316 cy=1029 r=2.6 /><circle cx=269 cy=1140 r=2.6 /><circle cx=92 cy=1083 r=2.6 /><circle cx=310 cy=1394 r=2.6 /><circle cx=272 cy=1103 r=2.6 /><circle cx=208 cy=1198 r=2.6 /><circle cx=549 cy=1117 r=2.6 /><circle cx=261 cy=1068 r=2.6 /><circle cx=533 cy=1141 r=2.6 /><circle cx=481 cy=1153 r=2.6 /><circle cx=426 cy=1192 r=2.6 /><circle cx=238 cy=1222 r=2.6 /><circle cx=258 cy=1179 r=2.6 /><circle cx=271 cy=1358 r=2.6 /><circle cx=55 cy=1049 r=2.6 /><circle cx=445 cy=1277 r=2.6 /><circle cx=461 cy=1257 r=2.6 /><circle cx=198 cy=1206 r=2.6 /><circle cx=526 cy=1162 r=2.6 /><circle cx=232 cy=1024 r=2.6 /><circle cx=303 cy=1008 r=2.6 /><circle cx=292 cy=1113 r=2.6 /><circle cx=323 cy=1391 r=2.6 /><circle cx=288 cy=1117 r=2.6 /><circle cx=82 cy=1070 r=2.6 /><circle cx=256 cy=1339 r=2.6 /><circle cx=77 cy=1077 r=2.6 /><circle cx=280 cy=1441 r=2.6 /><circle cx=454 cy=1146 r=2.6 /><circle cx=320 cy=1103 r=2.6 /><circle cx=358 cy=1020 r=2.6 /><circle cx=413 cy=1092 r=2.6 /><circle cx=437 cy=1139 r=2.6 /><circle cx=498 cy=1167 r=2.6 /><circle cx=286 cy=1357 r=2.6 /><circle cx=69 cy=1099 r=2.6 /><circle cx=315 cy=995 r=2.6 /><circle cx=348 cy=1015 r=2.6 /><circle cx=92 cy=1115 r=2.6 /><circle cx=246 cy=1184 r=2.6 /><circle cx=430 cy=1179 r=2.6 /><circle cx=215 cy=994 r=2.6 /><circle cx=114 cy=1059 r=2.6 /><circle cx=243 cy=1225 r=2.6 /><circle cx=312 cy=1373 r=2.6 /><circle cx=311 cy=1120 r=2.6 /><circle cx=109 cy=1080 r=2.6 /><circle cx=321 cy=1088 r=2.6 /><circle cx=368 cy=974 r=2.6 /><circle cx=332 cy=1035 r=2.6 /><circle cx=314 cy=972 r=2.6 /><circle cx=219 cy=1149 r=2.6 /><circle cx=499 cy=1189 r=2.6 /><circle cx=195 cy=1226 r=2.6 /><circle cx=374 cy=992 r=2.6 /><circle cx=317 cy=992 r=2.6 /><circle cx=489 cy=1165 r=2.6 /><circle cx=258 cy=1356 r=2.6 /><circle cx=75 cy=1135 r=2.6 /><circle cx=67 cy=1132 r=2.6 /><circle cx=535 cy=1117 r=2.6 /><circle cx=458 cy=1251 r=2.6 /><circle cx=514 cy=1119 r=2.6 /><circle cx=234 cy=1205 r=2.6 /><circle cx=312 cy=1353 r=2.6 /><circle cx=295 cy=1059 r=2.6 /><circle cx=443 cy=1271 r=2.6 /><circle cx=220 cy=1175 r=2.6 /><circle cx=68 cy=1071 r=2.6 /><circle cx=200 cy=1230 r=2.6 /><circle cx=84 cy=1096 r=2.6 /><circle cx=205 cy=1228 r=2.6 /><circle cx=341 cy=979 r=2.6 /><circle cx=440 cy=1208 r=2.6 /><circle cx=307 cy=1008 r=2.6 /><circle cx=311 cy=1026 r=2.6 /><circle cx=540 cy=1170 r=2.6 /><circle cx=455 cy=1210 r=2.6 /><circle cx=417 cy=1112 r=2.6 /><circle cx=57 cy=1048 r=2.6 /><circle cx=329 cy=1088 r=2.6 /><circle cx=428 cy=1151 r=2.6 /><circle cx=516 cy=1168 r=2.6 /><circle cx=472 cy=1295 r=2.6 /><circle cx=485 cy=1203 r=2.6 /><circle cx=283 cy=1378 r=2.6 /><circle cx=267 cy=1382 r=2.6 /><circle cx=546 cy=1174 r=2.6 /><circle cx=324 cy=1079 r=2.6 /><circle cx=269 cy=1267 r=2.6 /><circle cx=512 cy=1145 r=2.6 /><circle cx=529 cy=1143 r=2.6 /><circle cx=210 cy=1175 r=2.6 /><circle cx=88 cy=1104 r=2.6 /><circle cx=292 cy=1037 r=2.6 /><circle cx=220 cy=1219 r=2.6 /><circle cx=549 cy=1126 r=2.6 /><circle cx=230 cy=1210 r=2.6 /><circle cx=504 cy=1165 r=2.6 /><circle cx=300 cy=1113 r=2.6 /><circle cx=225 cy=1182 r=2.6 /><circle cx=267 cy=1177 r=2.6 /><circle cx=281 cy=1408 r=2.6 /><circle cx=288 cy=1029 r=2.6 /><circle cx=335 cy=1387 r=2.6 /><circle cx=452 cy=1251 r=2.6 /><circle cx=227 cy=1176 r=2.6 /><circle cx=468 cy=1173 r=2.6 /><circle cx=324 cy=1111 r=2.6 /><circle cx=283 cy=1326 r=2.6 /><circle cx=287 cy=1398 r=2.6 /><circle cx=553 cy=1120 r=2.6 /><circle cx=456 cy=1259 r=2.6 /><circle cx=467 cy=1215 r=2.6 /><circle cx=310 cy=1373 r=2.6 /><circle cx=373 cy=986 r=2.6 /><circle cx=505 cy=1174 r=2.6 /><circle cx=214 cy=1160 r=2.6 /><circle cx=215 cy=1123 r=2.6 /><circle cx=458 cy=1320 r=2.6 /><circle cx=424 cy=1103 r=2.6 /><circle cx=303 cy=1511 r=2.6 /><circle cx=251 cy=1237 r=2.6 /><circle cx=62 cy=1054 r=2.6 /><circle cx=241 cy=1099 r=2.6 /><circle cx=295 cy=1082 r=2.6 /><circle cx=198 cy=1230 r=2.6 /><circle cx=497 cy=1198 r=2.6 /><circle cx=342 cy=1002 r=2.6 /><circle cx=216 cy=1150 r=2.6 /><circle cx=307 cy=1515 r=2.6 /><circle cx=343 cy=987 r=2.6 /><circle cx=259 cy=1044 r=2.6 /><circle cx=270 cy=1103 r=2.6 /><circle cx=446 cy=1295 r=2.6 /><circle cx=261 cy=1335 r=2.6 /><circle cx=238 cy=1246 r=2.6 /><circle cx=535 cy=1152 r=2.6 /><circle cx=75 cy=1049 r=2.6 /><circle cx=84 cy=1134 r=2.6 /><circle cx=240 cy=1235 r=2.6 /><circle cx=228 cy=1201 r=2.6 /><circle cx=222 cy=1100 r=2.6 /><circle cx=207 cy=1169 r=2.6 /><circle cx=521 cy=1151 r=2.6 /><circle cx=72 cy=1060 r=2.6 /><circle cx=325 cy=1006 r=2.6 /><circle cx=268 cy=1269 r=2.6 /><circle cx=528 cy=1191 r=2.6 /><circle cx=322 cy=1067 r=2.6 /><circle cx=194 cy=1184 r=2.6 /><circle cx=474 cy=1309 r=2.6 /><circle cx=330 cy=1101 r=2.6 /><circle cx=87 cy=1068 r=2.6 /><circle cx=282 cy=1338 r=2.6 /><circle cx=252 cy=1216 r=2.6 /><circle cx=330 cy=1017 r=2.6 /><circle cx=337 cy=976 r=2.6 /><circle cx=474 cy=1276 r=2.6 /><circle cx=305 cy=1123 r=2.6 /><circle cx=450 cy=1154 r=2.6 /><circle cx=64 cy=1140 r=2.6 /><circle cx=501 cy=1131 r=2.6 /><circle cx=308 cy=1379 r=2.6 /><circle cx=275 cy=1356 r=2.6 /><circle cx=464 cy=1121 r=2.6 /><circle cx=295 cy=1122 r=2.6 /><circle cx=243 cy=1064 r=2.6 /><circle cx=285 cy=1367 r=2.6 /><circle cx=545 cy=1104 r=2.6 /><circle cx=215 cy=1179 r=2.6 /><circle cx=542 cy=1110 r=2.6 /><circle cx=112 cy=1061 r=2.6 /><circle cx=504 cy=1096 r=2.6 /><circle cx=64 cy=1076 r=2.6 /><circle cx=352 cy=991 r=2.6 /><circle cx=262 cy=1289 r=2.6 /><circle cx=514 cy=1164 r=2.6 /><circle cx=281 cy=1384 r=2.6 /><circle cx=482 cy=1264 r=2.6 /><circle cx=303 cy=1031 r=2.6 /><circle cx=281 cy=1374 r=2.6 /><circle cx=502 cy=1155 r=2.6 /><circle cx=228 cy=1271 r=2.6 /><circle cx=534 cy=1148 r=2.6 /><circle cx=116 cy=1079 r=2.6 /><circle cx=467 cy=1283 r=2.6 /><circle cx=278 cy=1057 r=2.6 /><circle cx=317 cy=1045 r=2.6 /><circle cx=222 cy=1142 r=2.6 /><circle cx=432 cy=1183 r=2.6 /><circle cx=331 cy=998 r=2.6 /><circle cx=309 cy=1099 r=2.6 /><circle cx=498 cy=1180 r=2.6 /><circle cx=316 cy=1399 r=2.6 /><circle cx=188 cy=1198 r=2.6 /><circle cx=417 cy=1129 r=2.6 /><circle cx=257 cy=1262 r=2.6 /><circle cx=272 cy=1326 r=2.6 /><circle cx=235 cy=1095 r=2.6 /><circle cx=417 cy=1106 r=2.6 /><circle cx=243 cy=1137 r=2.6 /><circle cx=268 cy=1152 r=2.6 /><circle cx=306 cy=1044 r=2.6 /><circle cx=241 cy=1160 r=2.6 /><circle cx=568 cy=1107 r=2.6 /><circle cx=281 cy=1381 r=2.6 /><circle cx=231 cy=1180 r=2.6 /><circle cx=309 cy=1079 r=2.6 /><circle cx=253 cy=1226 r=2.6 /><circle cx=332 cy=974 r=2.6 /><circle cx=277 cy=1341 r=2.6 /><circle cx=472 cy=1275 r=2.6 /><circle cx=285 cy=1351 r=2.6 /><circle cx=213 cy=1201 r=2.6 /><circle cx=263 cy=1100 r=2.6 /><circle cx=195 cy=1196 r=2.6 /><circle cx=215 cy=1101 r=2.6 /><circle cx=462 cy=1131 r=2.6 /><circle cx=476 cy=1151 r=2.6 /><circle cx=270 cy=1380 r=2.6 /><circle cx=534 cy=1185 r=2.6 /><circle cx=350 cy=969 r=2.6 /><circle cx=286 cy=1063 r=2.6 /><circle cx=111 cy=1071 r=2.6 /><circle cx=252 cy=1224 r=2.6 /><circle cx=208 cy=1160 r=2.6 /><circle cx=271 cy=1174 r=2.6 /><circle cx=238 cy=1169 r=2.6 /><circle cx=443 cy=1246 r=2.6 /><circle cx=210 cy=998 r=2.6 /><circle cx=285 cy=1035 r=2.6 /><circle cx=214 cy=1207 r=2.6 /><circle cx=302 cy=1367 r=2.6 /><circle cx=212 cy=1172 r=2.6 /><circle cx=283 cy=1335 r=2.6 /><circle cx=307 cy=1039 r=2.6 /><circle cx=274 cy=1246 r=2.6 /><circle cx=450 cy=1271 r=2.6 /><circle cx=273 cy=1384 r=2.6 /><circle cx=281 cy=1392 r=2.6 /><circle cx=517 cy=1089 r=2.6 /><circle cx=541 cy=1098 r=2.6 /><circle cx=224 cy=1208 r=2.6 /><circle cx=244 cy=1165 r=2.6 /><circle cx=497 cy=1126 r=2.6 /><circle cx=282 cy=1432 r=2.6 /><circle cx=59 cy=1080 r=2.6 /><circle cx=282 cy=1439 r=2.6 /><circle cx=289 cy=1094 r=2.6 /><circle cx=302 cy=1113 r=2.6 /><circle cx=243 cy=1116 r=2.6 /><circle cx=481 cy=1138 r=2.6 /><circle cx=276 cy=1398 r=2.6 /><circle cx=467 cy=1293 r=2.6 /><circle cx=223 cy=1167 r=2.6 /><circle cx=440 cy=1280 r=2.6 /><circle cx=213 cy=1199 r=2.6 /><circle cx=292 cy=1386 r=2.6 /><circle cx=65 cy=1042 r=2.6 /><circle cx=241 cy=1047 r=2.6 /><circle cx=303 cy=1062 r=2.6 /><circle cx=222 cy=1136 r=2.6 /><circle cx=301 cy=1397 r=2.6 /><circle cx=207 cy=1244 r=2.6 /><circle cx=331 cy=1360 r=2.6 /><circle cx=252 cy=1170 r=2.6 /><circle cx=303 cy=1363 r=2.6 /><circle cx=362 cy=984 r=2.6 /><circle cx=513 cy=1129 r=2.6 /><circle cx=195 cy=1189 r=2.6 /><circle cx=290 cy=1050 r=2.6 /><circle cx=320 cy=978 r=2.6 /><circle cx=447 cy=1176 r=2.6 /></g>
<g class="q4c" fill="#ffffff" stroke="#4a4a4a" stroke-width="1.3"><circle cx=523 cy=1156 r=2.9 /><circle cx=287 cy=1370 r=2.9 /><circle cx=267 cy=1075 r=2.9 /><circle cx=498 cy=1124 r=2.9 /><circle cx=333 cy=965 r=2.9 /><circle cx=243 cy=1127 r=2.9 /><circle cx=226 cy=1234 r=2.9 /><circle cx=213 cy=1003 r=2.9 /><circle cx=480 cy=1118 r=2.9 /><circle cx=82 cy=1107 r=2.9 /><circle cx=244 cy=1095 r=2.9 /><circle cx=302 cy=1078 r=2.9 /><circle cx=275 cy=1145 r=2.9 /><circle cx=418 cy=1122 r=2.9 /><circle cx=310 cy=1388 r=2.9 /><circle cx=479 cy=1113 r=2.9 /><circle cx=196 cy=1218 r=2.9 /><circle cx=471 cy=1171 r=2.9 /><circle cx=98 cy=1061 r=2.9 /><circle cx=277 cy=1360 r=2.9 /><circle cx=523 cy=1087 r=2.9 /><circle cx=292 cy=1373 r=2.9 /><circle cx=506 cy=1117 r=2.9 /><circle cx=237 cy=1054 r=2.9 /><circle cx=287 cy=1422 r=2.9 /><circle cx=481 cy=1133 r=2.9 /><circle cx=471 cy=1251 r=2.9 /><circle cx=443 cy=1207 r=2.9 /><circle cx=461 cy=1157 r=2.9 /><circle cx=327 cy=1009 r=2.9 /><circle cx=467 cy=1315 r=2.9 /><circle cx=438 cy=1234 r=2.9 /><circle cx=218 cy=1222 r=2.9 /><circle cx=478 cy=1165 r=2.9 /><circle cx=213 cy=1109 r=2.9 /><circle cx=222 cy=1258 r=2.9 /><circle cx=177 cy=1315 r=2.9 /><circle cx=214 cy=1248 r=2.9 /><circle cx=207 cy=998 r=2.9 /><circle cx=285 cy=1092 r=2.9 /><circle cx=487 cy=1206 r=2.9 /><circle cx=195 cy=1219 r=2.9 /><circle cx=492 cy=1129 r=2.9 /><circle cx=441 cy=1128 r=2.9 /><circle cx=67 cy=1090 r=2.9 /><circle cx=236 cy=1252 r=2.9 /><circle cx=547 cy=1126 r=2.9 /><circle cx=282 cy=1057 r=2.9 /><circle cx=307 cy=1088 r=2.9 /><circle cx=479 cy=1195 r=2.9 /><circle cx=213 cy=1226 r=2.9 /><circle cx=524 cy=1142 r=2.9 /><circle cx=483 cy=1283 r=2.9 /><circle cx=250 cy=1213 r=2.9 /><circle cx=207 cy=1218 r=2.9 /><circle cx=245 cy=1047 r=2.9 /><circle cx=254 cy=1160 r=2.9 /><circle cx=196 cy=1202 r=2.9 /><circle cx=451 cy=1143 r=2.9 /><circle cx=316 cy=1109 r=2.9 /><circle cx=452 cy=1226 r=2.9 /><circle cx=69 cy=1054 r=2.9 /><circle cx=470 cy=1298 r=2.9 /><circle cx=359 cy=978 r=2.9 /><circle cx=295 cy=1397 r=2.9 /><circle cx=452 cy=1298 r=2.9 /><circle cx=287 cy=1136 r=2.9 /><circle cx=467 cy=1256 r=2.9 /><circle cx=279 cy=1085 r=2.9 /><circle cx=292 cy=1097 r=2.9 /><circle cx=218 cy=1013 r=2.9 /><circle cx=276 cy=1147 r=2.9 /><circle cx=509 cy=1186 r=2.9 /><circle cx=312 cy=1403 r=2.9 /><circle cx=529 cy=1134 r=2.9 /><circle cx=308 cy=1047 r=2.9 /><circle cx=212 cy=1180 r=2.9 /><circle cx=292 cy=1055 r=2.9 /><circle cx=355 cy=1235 r=2.9 /><circle cx=325 cy=1000 r=2.9 /><circle cx=551 cy=1121 r=2.9 /><circle cx=461 cy=1315 r=2.9 /><circle cx=512 cy=1176 r=2.9 /><circle cx=332 cy=1363 r=2.9 /><circle cx=556 cy=1118 r=2.9 /><circle cx=99 cy=1088 r=2.9 /><circle cx=332 cy=985 r=2.9 /><circle cx=490 cy=1208 r=2.9 /><circle cx=248 cy=1225 r=2.9 /><circle cx=496 cy=1172 r=2.9 /><circle cx=314 cy=1400 r=2.9 /><circle cx=269 cy=1243 r=2.9 /><circle cx=457 cy=1207 r=2.9 /><circle cx=102 cy=1080 r=2.9 /><circle cx=463 cy=1296 r=2.9 /><circle cx=403 cy=1099 r=2.9 /><circle cx=449 cy=1199 r=2.9 /><circle cx=302 cy=1403 r=2.9 /><circle cx=528 cy=1155 r=2.9 /><circle cx=443 cy=1211 r=2.9 /><circle cx=265 cy=1094 r=2.9 /><circle cx=528 cy=1203 r=2.9 /><circle cx=477 cy=1197 r=2.9 /><circle cx=304 cy=1056 r=2.9 /><circle cx=260 cy=1351 r=2.9 /><circle cx=518 cy=1171 r=2.9 /><circle cx=241 cy=1141 r=2.9 /><circle cx=360 cy=992 r=2.9 /><circle cx=211 cy=1200 r=2.9 /><circle cx=490 cy=1100 r=2.9 /><circle cx=555 cy=1142 r=2.9 /><circle cx=321 cy=989 r=2.9 /><circle cx=299 cy=1109 r=2.9 /><circle cx=209 cy=994 r=2.9 /><circle cx=327 cy=1367 r=2.9 /><circle cx=288 cy=1418 r=2.9 /><circle cx=529 cy=1121 r=2.9 /><circle cx=251 cy=1179 r=2.9 /><circle cx=66 cy=1049 r=2.9 /><circle cx=320 cy=1097 r=2.9 /><circle cx=329 cy=1370 r=2.9 /><circle cx=205 cy=1014 r=2.9 /><circle cx=62 cy=1145 r=2.9 /><circle cx=250 cy=1107 r=2.9 /><circle cx=228 cy=1009 r=2.9 /><circle cx=492 cy=1106 r=2.9 /><circle cx=405 cy=1096 r=2.9 /><circle cx=216 cy=1100 r=2.9 /><circle cx=336 cy=981 r=2.9 /><circle cx=292 cy=1382 r=2.9 /><circle cx=294 cy=1028 r=2.9 /><circle cx=220 cy=1264 r=2.9 /><circle cx=566 cy=1116 r=2.9 /><circle cx=323 cy=990 r=2.9 /><circle cx=511 cy=1183 r=2.9 /><circle cx=245 cy=1097 r=2.9 /><circle cx=217 cy=1233 r=2.9 /><circle cx=455 cy=1235 r=2.9 /><circle cx=234 cy=1272 r=2.9 /><circle cx=457 cy=1300 r=2.9 /><circle cx=366 cy=973 r=2.9 /><circle cx=216 cy=1255 r=2.9 /><circle cx=99 cy=1059 r=2.9 /><circle cx=439 cy=1226 r=2.9 /><circle cx=477 cy=1263 r=2.9 /><circle cx=505 cy=1166 r=2.9 /><circle cx=469 cy=1304 r=2.9 /><circle cx=351 cy=987 r=2.9 /><circle cx=551 cy=1146 r=2.9 /><circle cx=464 cy=1308 r=2.9 /><circle cx=294 cy=1073 r=2.9 /><circle cx=61 cy=1136 r=2.9 /><circle cx=504 cy=1155 r=2.9 /><circle cx=330 cy=987 r=2.9 /><circle cx=272 cy=1340 r=2.9 /><circle cx=290 cy=1425 r=2.9 /><circle cx=110 cy=1065 r=2.9 /><circle cx=279 cy=1073 r=2.9 /><circle cx=560 cy=1104 r=2.9 /><circle cx=232 cy=1227 r=2.9 /><circle cx=82 cy=1086 r=2.9 /><circle cx=435 cy=1125 r=2.9 /><circle cx=477 cy=1256 r=2.9 /><circle cx=270 cy=1148 r=2.9 /><circle cx=69 cy=1076 r=2.9 /><circle cx=225 cy=1119 r=2.9 /><circle cx=486 cy=1189 r=2.9 /><circle cx=317 cy=1372 r=2.9 /><circle cx=205 cy=1010 r=2.9 /><circle cx=426 cy=1187 r=2.9 /><circle cx=474 cy=1291 r=2.9 /><circle cx=350 cy=1004 r=2.9 /><circle cx=472 cy=1156 r=2.9 /><circle cx=201 cy=1174 r=2.9 /><circle cx=308 cy=1116 r=2.9 /><circle cx=410 cy=1092 r=2.9 /><circle cx=63 cy=1134 r=2.9 /><circle cx=354 cy=968 r=2.9 /><circle cx=77 cy=1058 r=2.9 /><circle cx=319 cy=963 r=2.9 /><circle cx=315 cy=1082 r=2.9 /><circle cx=451 cy=1241 r=2.9 /><circle cx=457 cy=1295 r=2.9 /><circle cx=279 cy=1340 r=2.9 /><circle cx=360 cy=1232 r=2.9 /><circle cx=544 cy=1142 r=2.9 /><circle cx=305 cy=1355 r=2.9 /><circle cx=232 cy=1249 r=2.9 /><circle cx=472 cy=1314 r=2.9 /><circle cx=455 cy=1148 r=2.9 /><circle cx=66 cy=1063 r=2.9 /><circle cx=277 cy=1073 r=2.9 /><circle cx=264 cy=1352 r=2.9 /><circle cx=305 cy=1011 r=2.9 /><circle cx=345 cy=997 r=2.9 /><circle cx=454 cy=1222 r=2.9 /><circle cx=54 cy=1136 r=2.9 /><circle cx=439 cy=1131 r=2.9 /><circle cx=267 cy=1267 r=2.9 /><circle cx=300 cy=1012 r=2.9 /><circle cx=447 cy=1165 r=2.9 /><circle cx=276 cy=1120 r=2.9 /><circle cx=346 cy=988 r=2.9 /><circle cx=522 cy=1176 r=2.9 /><circle cx=260 cy=1079 r=2.9 /><circle cx=313 cy=1067 r=2.9 /><circle cx=202 cy=997 r=2.9 /><circle cx=288 cy=1448 r=2.9 /><circle cx=273 cy=1123 r=2.9 /><circle cx=520 cy=1130 r=2.9 /><circle cx=208 cy=1008 r=2.9 /><circle cx=71 cy=1073 r=2.9 /><circle cx=375 cy=1007 r=2.9 /><circle cx=227 cy=1230 r=2.9 /><circle cx=286 cy=1444 r=2.9 /><circle cx=265 cy=1166 r=2.9 /><circle cx=82 cy=1105 r=2.9 /><circle cx=306 cy=1110 r=2.9 /><circle cx=220 cy=1092 r=2.9 /><circle cx=455 cy=1135 r=2.9 /><circle cx=447 cy=1281 r=2.9 /><circle cx=407 cy=1105 r=2.9 /><circle cx=486 cy=1105 r=2.9 /><circle cx=243 cy=1150 r=2.9 /><circle cx=319 cy=1389 r=2.9 /><circle cx=463 cy=1261 r=2.9 /><circle cx=304 cy=1020 r=2.9 /><circle cx=262 cy=1123 r=2.9 /><circle cx=478 cy=1200 r=2.9 /><circle cx=286 cy=1069 r=2.9 /><circle cx=279 cy=1361 r=2.9 /><circle cx=342 cy=992 r=2.9 /><circle cx=326 cy=1379 r=2.9 /><circle cx=508 cy=1192 r=2.9 /><circle cx=504 cy=1114 r=2.9 /><circle cx=321 cy=1025 r=2.9 /><circle cx=223 cy=1241 r=2.9 /><circle cx=103 cy=1081 r=2.9 /><circle cx=249 cy=1204 r=2.9 /><circle cx=249 cy=1282 r=2.9 /><circle cx=278 cy=1081 r=2.9 /><circle cx=252 cy=1119 r=2.9 /><circle cx=468 cy=1148 r=2.9 /><circle cx=321 cy=1100 r=2.9 /><circle cx=507 cy=1108 r=2.9 /><circle cx=413 cy=1113 r=2.9 /><circle cx=60 cy=1059 r=2.9 /><circle cx=502 cy=1117 r=2.9 /><circle cx=301 cy=1048 r=2.9 /><circle cx=471 cy=1207 r=2.9 /><circle cx=480 cy=1300 r=2.9 /><circle cx=487 cy=1148 r=2.9 /><circle cx=58 cy=1072 r=2.9 /><circle cx=87 cy=1092 r=2.9 /><circle cx=466 cy=1306 r=2.9 /><circle cx=307 cy=1003 r=2.9 /><circle cx=306 cy=1092 r=2.9 /><circle cx=533 cy=1176 r=2.9 /><circle cx=335 cy=1367 r=2.9 /><circle cx=294 cy=1068 r=2.9 /><circle cx=264 cy=1332 r=2.9 /><circle cx=522 cy=1157 r=2.9 /><circle cx=352 cy=1239 r=2.9 /><circle cx=252 cy=1247 r=2.9 /><circle cx=266 cy=1349 r=2.9 /><circle cx=462 cy=1185 r=2.9 /><circle cx=538 cy=1117 r=2.9 /><circle cx=335 cy=972 r=2.9 /><circle cx=203 cy=1183 r=2.9 /><circle cx=232 cy=1097 r=2.9 /><circle cx=454 cy=1248 r=2.9 /><circle cx=325 cy=1369 r=2.9 /><circle cx=495 cy=1137 r=2.9 /><circle cx=440 cy=1224 r=2.9 /><circle cx=541 cy=1173 r=2.9 /><circle cx=312 cy=1349 r=2.9 /><circle cx=256 cy=1083 r=2.9 /><circle cx=407 cy=1094 r=2.9 /><circle cx=307 cy=1094 r=2.9 /><circle cx=457 cy=1130 r=2.9 /><circle cx=476 cy=1124 r=2.9 /><circle cx=525 cy=1121 r=2.9 /><circle cx=474 cy=1230 r=2.9 /><circle cx=313 cy=990 r=2.9 /><circle cx=233 cy=1260 r=2.9 /><circle cx=259 cy=1107 r=2.9 /><circle cx=269 cy=1130 r=2.9 /><circle cx=220 cy=1107 r=2.9 /><circle cx=205 cy=1184 r=2.9 /><circle cx=459 cy=1162 r=2.9 /><circle cx=476 cy=1252 r=2.9 /><circle cx=234 cy=1010 r=2.9 /><circle cx=79 cy=1065 r=2.9 /><circle cx=278 cy=1106 r=2.9 /><circle cx=195 cy=1217 r=2.9 /><circle cx=66 cy=1143 r=2.9 /><circle cx=446 cy=1290 r=2.9 /><circle cx=294 cy=1054 r=2.9 /><circle cx=544 cy=1109 r=2.9 /><circle cx=221 cy=1230 r=2.9 /><circle cx=255 cy=1042 r=2.9 /><circle cx=90 cy=1104 r=2.9 /><circle cx=288 cy=1385 r=2.9 /><circle cx=491 cy=1206 r=2.9 /><circle cx=262 cy=1342 r=2.9 /><circle cx=505 cy=1105 r=2.9 /><circle cx=288 cy=1034 r=2.9 /><circle cx=348 cy=977 r=2.9 /><circle cx=484 cy=1292 r=2.9 /><circle cx=295 cy=1351 r=2.9 /><circle cx=116 cy=1055 r=2.9 /><circle cx=513 cy=1105 r=2.9 /><circle cx=251 cy=1104 r=2.9 /><circle cx=536 cy=1134 r=2.9 /><circle cx=535 cy=1164 r=2.9 /><circle cx=312 cy=1097 r=2.9 /><circle cx=70 cy=1046 r=2.9 /><circle cx=503 cy=1161 r=2.9 /><circle cx=430 cy=1121 r=2.9 /><circle cx=248 cy=1099 r=2.9 /><circle cx=535 cy=1161 r=2.9 /><circle cx=365 cy=1013 r=2.9 /><circle cx=460 cy=1170 r=2.9 /><circle cx=82 cy=1058 r=2.9 /><circle cx=347 cy=975 r=2.9 /><circle cx=364 cy=970 r=2.9 /><circle cx=428 cy=1184 r=2.9 /><circle cx=225 cy=1199 r=2.9 /><circle cx=524 cy=1118 r=2.9 /><circle cx=215 cy=1104 r=2.9 /><circle cx=528 cy=1127 r=2.9 /><circle cx=415 cy=1085 r=2.9 /><circle cx=486 cy=1184 r=2.9 /><circle cx=514 cy=1181 r=2.9 /><circle cx=472 cy=1245 r=2.9 /><circle cx=322 cy=1044 r=2.9 /><circle cx=245 cy=1084 r=2.9 /><circle cx=472 cy=1186 r=2.9 /><circle cx=276 cy=1038 r=2.9 /><circle cx=248 cy=1260 r=2.9 /><circle cx=443 cy=1268 r=2.9 /><circle cx=451 cy=1295 r=2.9 /><circle cx=453 cy=1320 r=2.9 /><circle cx=250 cy=1068 r=2.9 /><circle cx=448 cy=1137 r=2.9 /><circle cx=472 cy=1227 r=2.9 /><circle cx=297 cy=1100 r=2.9 /><circle cx=296 cy=1114 r=2.9 /><circle cx=338 cy=1379 r=2.9 /><circle cx=458 cy=1286 r=2.9 /><circle cx=232 cy=1160 r=2.9 /><circle cx=374 cy=981 r=2.9 /><circle cx=339 cy=1372 r=2.9 /><circle cx=220 cy=1249 r=2.9 /><circle cx=292 cy=1445 r=2.9 /><circle cx=484 cy=1283 r=2.9 /><circle cx=247 cy=1254 r=2.9 /><circle cx=230 cy=1191 r=2.9 /><circle cx=247 cy=1156 r=2.9 /><circle cx=456 cy=1221 r=2.9 /><circle cx=430 cy=1127 r=2.9 /><circle cx=527 cy=1143 r=2.9 /><circle cx=252 cy=1208 r=2.9 /><circle cx=441 cy=1268 r=2.9 /><circle cx=247 cy=1267 r=2.9 /><circle cx=288 cy=1344 r=2.9 /><circle cx=321 cy=1119 r=2.9 /><circle cx=288 cy=1092 r=2.9 /><circle cx=296 cy=1344 r=2.9 /><circle cx=293 cy=1126 r=2.9 /><circle cx=456 cy=1254 r=2.9 /><circle cx=290 cy=1357 r=2.9 /><circle cx=106 cy=1069 r=2.9 /><circle cx=84 cy=1057 r=2.9 /><circle cx=442 cy=1233 r=2.9 /><circle cx=272 cy=1150 r=2.9 /><circle cx=261 cy=1257 r=2.9 /><circle cx=243 cy=1121 r=2.9 /><circle cx=531 cy=1118 r=2.9 /><circle cx=220 cy=1265 r=2.9 /><circle cx=240 cy=1017 r=2.9 /><circle cx=291 cy=1065 r=2.9 /><circle cx=300 cy=1369 r=2.9 /><circle cx=209 cy=1229 r=2.9 /><circle cx=467 cy=1270 r=2.9 /><circle cx=530 cy=1104 r=2.9 /><circle cx=265 cy=1090 r=2.9 /><circle cx=462 cy=1305 r=2.9 /><circle cx=461 cy=1228 r=2.9 /><circle cx=195 cy=1222 r=2.9 /><circle cx=472 cy=1224 r=2.9 /><circle cx=536 cy=1101 r=2.9 /><circle cx=473 cy=1161 r=2.9 /><circle cx=76 cy=1041 r=2.9 /><circle cx=245 cy=1264 r=2.9 /><circle cx=468 cy=1196 r=2.9 /><circle cx=293 cy=1413 r=2.9 /><circle cx=268 cy=1178 r=2.9 /><circle cx=92 cy=1095 r=2.9 /><circle cx=276 cy=1054 r=2.9 /><circle cx=274 cy=1101 r=2.9 /><circle cx=269 cy=1329 r=2.9 /><circle cx=424 cy=1108 r=2.9 /><circle cx=223 cy=1111 r=2.9 /><circle cx=287 cy=1348 r=2.9 /><circle cx=86 cy=1082 r=2.9 /><circle cx=250 cy=1095 r=2.9 /><circle cx=68 cy=1143 r=2.9 /><circle cx=251 cy=1123 r=2.9 /><circle cx=436 cy=1212 r=2.9 /><circle cx=66 cy=1120 r=2.9 /><circle cx=534 cy=1180 r=2.9 /><circle cx=318 cy=1025 r=2.9 /><circle cx=286 cy=1031 r=2.9 /><circle cx=344 cy=1009 r=2.9 /><circle cx=80 cy=1123 r=2.9 /><circle cx=85 cy=1071 r=2.9 /><circle cx=368 cy=988 r=2.9 /><circle cx=445 cy=1245 r=2.9 /><circle cx=229 cy=1229 r=2.9 /><circle cx=548 cy=1142 r=2.9 /><circle cx=260 cy=1239 r=2.9 /><circle cx=415 cy=1091 r=2.9 /><circle cx=234 cy=1019 r=2.9 /><circle cx=464 cy=1146 r=2.9 /><circle cx=489 cy=1140 r=2.9 /><circle cx=192 cy=1213 r=2.9 /><circle cx=335 cy=1358 r=2.9 /><circle cx=418 cy=1118 r=2.9 /><circle cx=270 cy=1115 r=2.9 /><circle cx=108 cy=1068 r=2.9 /><circle cx=272 cy=1343 r=2.9 /><circle cx=320 cy=1006 r=2.9 /><circle cx=258 cy=1046 r=2.9 /><circle cx=240 cy=1147 r=2.9 /><circle cx=72 cy=1066 r=2.9 /><circle cx=448 cy=1167 r=2.9 /><circle cx=445 cy=1162 r=2.9 /><circle cx=315 cy=976 r=2.9 /><circle cx=241 cy=1100 r=2.9 /><circle cx=230 cy=1261 r=2.9 /><circle cx=292 cy=1375 r=2.9 /><circle cx=318 cy=1020 r=2.9 /><circle cx=479 cy=1185 r=2.9 /><circle cx=202 cy=1016 r=2.9 /><circle cx=327 cy=1061 r=2.9 /><circle cx=472 cy=1168 r=2.9 /><circle cx=364 cy=988 r=2.9 /><circle cx=469 cy=1198 r=2.9 /><circle cx=238 cy=1151 r=2.9 /><circle cx=315 cy=1068 r=2.9 /><circle cx=233 cy=1222 r=2.9 /><circle cx=227 cy=1001 r=2.9 /><circle cx=240 cy=1243 r=2.9 /><circle cx=322 cy=1084 r=2.9 /><circle cx=450 cy=1303 r=2.9 /><circle cx=65 cy=1054 r=2.9 /><circle cx=273 cy=1048 r=2.9 /><circle cx=524 cy=1174 r=2.9 /><circle cx=308 cy=1073 r=2.9 /><circle cx=336 cy=1031 r=2.9 /><circle cx=337 cy=971 r=2.9 /><circle cx=283 cy=1124 r=2.9 /><circle cx=285 cy=1363 r=2.9 /><circle cx=310 cy=995 r=2.9 /><circle cx=289 cy=1445 r=2.9 /><circle cx=320 cy=965 r=2.9 /><circle cx=469 cy=1217 r=2.9 /><circle cx=215 cy=1173 r=2.9 /><circle cx=528 cy=1112 r=2.9 /><circle cx=512 cy=1149 r=2.9 /><circle cx=299 cy=1059 r=2.9 /><circle cx=300 cy=1339 r=2.9 /><circle cx=243 cy=1235 r=2.9 /><circle cx=308 cy=1367 r=2.9 /><circle cx=221 cy=1126 r=2.9 /><circle cx=68 cy=1110 r=2.9 /><circle cx=231 cy=1158 r=2.9 /><circle cx=529 cy=1110 r=2.9 /><circle cx=562 cy=1108 r=2.9 /><circle cx=89 cy=1094 r=2.9 /><circle cx=302 cy=1387 r=2.9 /><circle cx=528 cy=1165 r=2.9 /><circle cx=528 cy=1103 r=2.9 /><circle cx=265 cy=1263 r=2.9 /><circle cx=265 cy=1085 r=2.9 /><circle cx=531 cy=1129 r=2.9 /><circle cx=483 cy=1135 r=2.9 /><circle cx=289 cy=1083 r=2.9 /><circle cx=332 cy=999 r=2.9 /><circle cx=58 cy=1136 r=2.9 /><circle cx=440 cy=1183 r=2.9 /><circle cx=263 cy=1082 r=2.9 /><circle cx=313 cy=1004 r=2.9 /><circle cx=451 cy=1217 r=2.9 /><circle cx=465 cy=1117 r=2.9 /><circle cx=297 cy=1103 r=2.9 /><circle cx=434 cy=1186 r=2.9 /><circle cx=532 cy=1145 r=2.9 /><circle cx=333 cy=1004 r=2.9 /><circle cx=313 cy=966 r=2.9 /><circle cx=215 cy=1156 r=2.9 /><circle cx=84 cy=1092 r=2.9 /><circle cx=463 cy=1155 r=2.9 /><circle cx=262 cy=1148 r=2.9 /><circle cx=508 cy=1182 r=2.9 /><circle cx=282 cy=1137 r=2.9 /><circle cx=263 cy=1088 r=2.9 /><circle cx=443 cy=1280 r=2.9 /><circle cx=317 cy=1014 r=2.9 /><circle cx=452 cy=1147 r=2.9 /><circle cx=293 cy=1025 r=2.9 /><circle cx=290 cy=1064 r=2.9 /><circle cx=456 cy=1132 r=2.9 /><circle cx=539 cy=1096 r=2.9 /><circle cx=475 cy=1282 r=2.9 /><circle cx=304 cy=1039 r=2.9 /><circle cx=417 cy=1099 r=2.9 /><circle cx=307 cy=1107 r=2.9 /><circle cx=241 cy=1263 r=2.9 /><circle cx=318 cy=1402 r=2.9 /><circle cx=309 cy=1010 r=2.9 /><circle cx=535 cy=1127 r=2.9 /><circle cx=290 cy=1370 r=2.9 /><circle cx=275 cy=1331 r=2.9 /><circle cx=249 cy=1247 r=2.9 /><circle cx=469 cy=1205 r=2.9 /><circle cx=309 cy=985 r=2.9 /><circle cx=468 cy=1251 r=2.9 /><circle cx=528 cy=1197 r=2.9 /><circle cx=100 cy=1070 r=2.9 /><circle cx=234 cy=1201 r=2.9 /><circle cx=491 cy=1124 r=2.9 /><circle cx=314 cy=970 r=2.9 /><circle cx=306 cy=1363 r=2.9 /><circle cx=303 cy=1357 r=2.9 /><circle cx=203 cy=1213 r=2.9 /><circle cx=318 cy=988 r=2.9 /><circle cx=460 cy=1209 r=2.9 /><circle cx=218 cy=1131 r=2.9 /><circle cx=486 cy=1158 r=2.9 /><circle cx=476 cy=1111 r=2.9 /><circle cx=230 cy=1097 r=2.9 /><circle cx=304 cy=1087 r=2.9 /><circle cx=241 cy=1066 r=2.9 /><circle cx=440 cy=1154 r=2.9 /><circle cx=297 cy=1025 r=2.9 /><circle cx=510 cy=1114 r=2.9 /><circle cx=304 cy=1349 r=2.9 /><circle cx=222 cy=1097 r=2.9 /><circle cx=305 cy=1035 r=2.9 /><circle cx=496 cy=1119 r=2.9 /><circle cx=502 cy=1150 r=2.9 /><circle cx=236 cy=1151 r=2.9 /><circle cx=458 cy=1281 r=2.9 /><circle cx=486 cy=1143 r=2.9 /><circle cx=232 cy=1162 r=2.9 /><circle cx=442 cy=1248 r=2.9 /><circle cx=188 cy=1201 r=2.9 /><circle cx=289 cy=1413 r=2.9 /><circle cx=543 cy=1095 r=2.9 /><circle cx=373 cy=988 r=2.9 /><circle cx=315 cy=1371 r=2.9 /><circle cx=557 cy=1119 r=2.9 /><circle cx=119 cy=1060 r=2.9 /><circle cx=255 cy=1272 r=2.9 /><circle cx=465 cy=1243 r=2.9 /><circle cx=447 cy=1223 r=2.9 /><circle cx=260 cy=1281 r=2.9 /><circle cx=206 cy=1158 r=2.9 /><circle cx=95 cy=1065 r=2.9 /><circle cx=224 cy=1201 r=2.9 /><circle cx=275 cy=1051 r=2.9 /><circle cx=474 cy=1235 r=2.9 /><circle cx=525 cy=1139 r=2.9 /><circle cx=512 cy=1127 r=2.9 /><circle cx=358 cy=1001 r=2.9 /><circle cx=446 cy=1220 r=2.9 /><circle cx=255 cy=1266 r=2.9 /><circle cx=438 cy=1261 r=2.9 /><circle cx=90 cy=1124 r=2.9 /><circle cx=91 cy=1080 r=2.9 /><circle cx=256 cy=1245 r=2.9 /><circle cx=270 cy=1272 r=2.9 /><circle cx=439 cy=1245 r=2.9 /><circle cx=505 cy=1143 r=2.9 /><circle cx=316 cy=1348 r=2.9 /><circle cx=472 cy=1284 r=2.9 /><circle cx=111 cy=1073 r=2.9 /><circle cx=311 cy=1351 r=2.9 /><circle cx=318 cy=1100 r=2.9 /><circle cx=530 cy=1154 r=2.9 /><circle cx=372 cy=994 r=2.9 /><circle cx=467 cy=1130 r=2.9 /><circle cx=523 cy=1160 r=2.9 /><circle cx=344 cy=986 r=2.9 /><circle cx=287 cy=1059 r=2.9 /><circle cx=549 cy=1095 r=2.9 /><circle cx=82 cy=1073 r=2.9 /><circle cx=231 cy=1267 r=2.9 /><circle cx=350 cy=975 r=2.9 /><circle cx=214 cy=1149 r=2.9 /><circle cx=310 cy=1364 r=2.9 /><circle cx=298 cy=1373 r=2.9 /><circle cx=122 cy=1066 r=2.9 /><circle cx=304 cy=1351 r=2.9 /><circle cx=293 cy=1064 r=2.9 /><circle cx=476 cy=1218 r=2.9 /><circle cx=489 cy=1121 r=2.9 /><circle cx=499 cy=1193 r=2.9 /><circle cx=224 cy=1251 r=2.9 /><circle cx=88 cy=1090 r=2.9 /><circle cx=203 cy=1206 r=2.9 /><circle cx=324 cy=1072 r=2.9 /><circle cx=413 cy=1101 r=2.9 /><circle cx=484 cy=1271 r=2.9 /><circle cx=239 cy=1208 r=2.9 /><circle cx=256 cy=1024 r=2.9 /><circle cx=291 cy=1354 r=2.9 /><circle cx=72 cy=1042 r=2.9 /><circle cx=521 cy=1196 r=2.9 /><circle cx=299 cy=1366 r=2.9 /><circle cx=259 cy=1284 r=2.9 /><circle cx=253 cy=1132 r=2.9 /><circle cx=300 cy=1069 r=2.9 /><circle cx=230 cy=1006 r=2.9 /><circle cx=251 cy=1060 r=2.9 /><circle cx=239 cy=1138 r=2.9 /><circle cx=66 cy=1051 r=2.9 /><circle cx=255 cy=1179 r=2.9 /><circle cx=77 cy=1099 r=2.9 /><circle cx=86 cy=1072 r=2.9 /><circle cx=254 cy=1176 r=2.9 /><circle cx=330 cy=977 r=2.9 /><circle cx=324 cy=1365 r=2.9 /><circle cx=72 cy=1142 r=2.9 /><circle cx=485 cy=1177 r=2.9 /><circle cx=526 cy=1170 r=2.9 /><circle cx=219 cy=1136 r=2.9 /><circle cx=278 cy=1357 r=2.9 /><circle cx=204 cy=1243 r=2.9 /><circle cx=462 cy=1231 r=2.9 /><circle cx=258 cy=1175 r=2.9 /><circle cx=496 cy=1177 r=2.9 /><circle cx=545 cy=1118 r=2.9 /><circle cx=280 cy=1412 r=2.9 /><circle cx=491 cy=1161 r=2.9 /><circle cx=191 cy=1195 r=2.9 /><circle cx=318 cy=981 r=2.9 /><circle cx=106 cy=1082 r=2.9 /><circle cx=229 cy=1125 r=2.9 /><circle cx=482 cy=1114 r=2.9 /><circle cx=438 cy=1179 r=2.9 /><circle cx=211 cy=993 r=2.9 /><circle cx=501 cy=1207 r=2.9 /><circle cx=463 cy=1123 r=2.9 /><circle cx=255 cy=1154 r=2.9 /><circle cx=292 cy=1057 r=2.9 /><circle cx=509 cy=1179 r=2.9 /><circle cx=285 cy=1423 r=2.9 /><circle cx=247 cy=1138 r=2.9 /><circle cx=329 cy=1049 r=2.9 /><circle cx=474 cy=1184 r=2.9 /><circle cx=218 cy=1256 r=2.9 /><circle cx=234 cy=1119 r=2.9 /><circle cx=312 cy=1103 r=2.9 /><circle cx=434 cy=1165 r=2.9 /><circle cx=304 cy=1125 r=2.9 /><circle cx=501 cy=1140 r=2.9 /><circle cx=544 cy=1100 r=2.9 /><circle cx=441 cy=1235 r=2.9 /><circle cx=263 cy=1125 r=2.9 /><circle cx=218 cy=992 r=2.9 /><circle cx=474 cy=1226 r=2.9 /><circle cx=454 cy=1179 r=2.9 /><circle cx=328 cy=1108 r=2.9 /><circle cx=269 cy=1385 r=2.9 /><circle cx=251 cy=1074 r=2.9 /><circle cx=460 cy=1215 r=2.9 /><circle cx=57 cy=1078 r=2.9 /><circle cx=448 cy=1212 r=2.9 /><circle cx=510 cy=1203 r=2.9 /><circle cx=270 cy=1257 r=2.9 /><circle cx=254 cy=1091 r=2.9 /><circle cx=359 cy=1015 r=2.9 /><circle cx=74 cy=1077 r=2.9 /><circle cx=304 cy=1361 r=2.9 /><circle cx=62 cy=1045 r=2.9 /><circle cx=319 cy=1348 r=2.9 /><circle cx=438 cy=1276 r=2.9 /><circle cx=425 cy=1119 r=2.9 /><circle cx=553 cy=1153 r=2.9 /><circle cx=307 cy=1075 r=2.9 /><circle cx=214 cy=1145 r=2.9 /><circle cx=466 cy=1198 r=2.9 /><circle cx=244 cy=1260 r=2.9 /><circle cx=82 cy=1062 r=2.9 /><circle cx=279 cy=1348 r=2.9 /><circle cx=278 cy=1354 r=2.9 /><circle cx=246 cy=1258 r=2.9 /><circle cx=303 cy=1000 r=2.9 /><circle cx=463 cy=1245 r=2.9 /><circle cx=232 cy=1263 r=2.9 /><circle cx=245 cy=1072 r=2.9 /><circle cx=340 cy=1030 r=2.9 /><circle cx=447 cy=1271 r=2.9 /><circle cx=261 cy=1241 r=2.9 /><circle cx=456 cy=1311 r=2.9 /><circle cx=468 cy=1133 r=2.9 /><circle cx=114 cy=1064 r=2.9 /><circle cx=319 cy=1084 r=2.9 /><circle cx=244 cy=1141 r=2.9 /><circle cx=407 cy=1099 r=2.9 /><circle cx=223 cy=1232 r=2.9 /><circle cx=286 cy=1333 r=2.9 /><circle cx=99 cy=1051 r=2.9 /><circle cx=453 cy=1239 r=2.9 /><circle cx=468 cy=1157 r=2.9 /><circle cx=317 cy=1072 r=2.9 /><circle cx=449 cy=1242 r=2.9 /><circle cx=483 cy=1178 r=2.9 /><circle cx=513 cy=1174 r=2.9 /><circle cx=564 cy=1105 r=2.9 /><circle cx=449 cy=1146 r=2.9 /><circle cx=243 cy=1128 r=2.9 /><circle cx=75 cy=1089 r=2.9 /><circle cx=209 cy=1242 r=2.9 /><circle cx=502 cy=1198 r=2.9 /><circle cx=360 cy=968 r=2.9 /><circle cx=292 cy=1091 r=2.9 /><circle cx=529 cy=1091 r=2.9 /><circle cx=238 cy=1163 r=2.9 /><circle cx=550 cy=1151 r=2.9 /><circle cx=445 cy=1188 r=2.9 /><circle cx=471 cy=1133 r=2.9 /><circle cx=317 cy=1076 r=2.9 /><circle cx=412 cy=1122 r=2.9 /><circle cx=438 cy=1168 r=2.9 /><circle cx=454 cy=1163 r=2.9 /><circle cx=242 cy=1156 r=2.9 /><circle cx=213 cy=1220 r=2.9 /><circle cx=554 cy=1140 r=2.9 /><circle cx=330 cy=1038 r=2.9 /><circle cx=475 cy=1202 r=2.9 /><circle cx=297 cy=1414 r=2.9 /><circle cx=306 cy=1047 r=2.9 /><circle cx=302 cy=978 r=2.9 /><circle cx=269 cy=1236 r=2.9 /><circle cx=240 cy=1167 r=2.9 /><circle cx=342 cy=962 r=2.9 /><circle cx=280 cy=1053 r=2.9 /><circle cx=270 cy=1153 r=2.9 /><circle cx=517 cy=1161 r=2.9 /><circle cx=296 cy=1109 r=2.9 /><circle cx=536 cy=1145 r=2.9 /><circle cx=84 cy=1127 r=2.9 /><circle cx=255 cy=1142 r=2.9 /><circle cx=305 cy=978 r=2.9 /><circle cx=340 cy=1382 r=2.9 /><circle cx=283 cy=1370 r=2.9 /><circle cx=263 cy=1136 r=2.9 /><circle cx=438 cy=1176 r=2.9 /><circle cx=455 cy=1280 r=2.9 /><circle cx=260 cy=1359 r=2.9 /><circle cx=277 cy=1142 r=2.9 /><circle cx=477 cy=1141 r=2.9 /><circle cx=304 cy=1119 r=2.9 /><circle cx=222 cy=1092 r=2.9 /><circle cx=306 cy=1012 r=2.9 /><circle cx=525 cy=1108 r=2.9 /><circle cx=347 cy=1020 r=2.9 /><circle cx=299 cy=1354 r=2.9 /><circle cx=265 cy=1156 r=2.9 /><circle cx=280 cy=1098 r=2.9 /><circle cx=305 cy=1098 r=2.9 /><circle cx=265 cy=1140 r=2.9 /><circle cx=347 cy=980 r=2.9 /><circle cx=57 cy=1055 r=2.9 /><circle cx=225 cy=1176 r=2.9 /><circle cx=272 cy=1408 r=2.9 /><circle cx=511 cy=1139 r=2.9 /><circle cx=466 cy=1320 r=2.9 /><circle cx=209 cy=1255 r=2.9 /><circle cx=279 cy=1388 r=2.9 /><circle cx=458 cy=1187 r=2.9 /><circle cx=290 cy=1416 r=2.9 /><circle cx=316 cy=1048 r=2.9 /><circle cx=289 cy=1433 r=2.9 /><circle cx=58 cy=1123 r=2.9 /><circle cx=262 cy=1374 r=2.9 /><circle cx=488 cy=1279 r=2.9 /><circle cx=340 cy=1013 r=2.9 /><circle cx=256 cy=1046 r=2.9 /><circle cx=468 cy=1229 r=2.9 /><circle cx=216 cy=1127 r=2.9 /><circle cx=275 cy=1414 r=2.9 /><circle cx=82 cy=1075 r=2.9 /><circle cx=493 cy=1114 r=2.9 /><circle cx=467 cy=1286 r=2.9 /><circle cx=451 cy=1286 r=2.9 /><circle cx=258 cy=1354 r=2.9 /><circle cx=242 cy=1230 r=2.9 /><circle cx=241 cy=1253 r=2.9 /><circle cx=330 cy=1085 r=2.9 /><circle cx=233 cy=1091 r=2.9 /><circle cx=452 cy=1193 r=2.9 /><circle cx=295 cy=1386 r=2.9 /><circle cx=286 cy=1081 r=2.9 /><circle cx=326 cy=1083 r=2.9 /><circle cx=233 cy=1130 r=2.9 /><circle cx=362 cy=1000 r=2.9 /><circle cx=422 cy=1093 r=2.9 /><circle cx=298 cy=1379 r=2.9 /><circle cx=479 cy=1276 r=2.9 /><circle cx=291 cy=1343 r=2.9 /><circle cx=453 cy=1140 r=2.9 /><circle cx=274 cy=1407 r=2.9 /><circle cx=268 cy=1401 r=2.9 /><circle cx=249 cy=1263 r=2.9 /><circle cx=225 cy=1220 r=2.9 /><circle cx=320 cy=986 r=2.9 /><circle cx=234 cy=1025 r=2.9 /><circle cx=428 cy=1170 r=2.9 /><circle cx=310 cy=999 r=2.9 /><circle cx=312 cy=1016 r=2.9 /><circle cx=550 cy=1158 r=2.9 /><circle cx=270 cy=1044 r=2.9 /><circle cx=278 cy=1351 r=2.9 /><circle cx=335 cy=963 r=2.9 /><circle cx=537 cy=1156 r=2.9 /><circle cx=454 cy=1268 r=2.9 /><circle cx=328 cy=999 r=2.9 /><circle cx=223 cy=1012 r=2.9 /><circle cx=96 cy=1115 r=2.9 /><circle cx=462 cy=1149 r=2.9 /><circle cx=263 cy=1174 r=2.9 /><circle cx=76 cy=1066 r=2.9 /><circle cx=532 cy=1150 r=2.9 /><circle cx=200 cy=1003 r=2.9 /><circle cx=312 cy=1054 r=2.9 /><circle cx=234 cy=1141 r=2.9 /><circle cx=314 cy=1398 r=2.9 /><circle cx=67 cy=1138 r=2.9 /><circle cx=324 cy=1360 r=2.9 /><circle cx=475 cy=1244 r=2.9 /><circle cx=469 cy=1179 r=2.9 /><circle cx=227 cy=1273 r=2.9 /><circle cx=547 cy=1095 r=2.9 /><circle cx=293 cy=1032 r=2.9 /><circle cx=271 cy=1269 r=2.9 /><circle cx=417 cy=1086 r=2.9 /><circle cx=362 cy=1271 r=2.9 /><circle cx=63 cy=1052 r=2.9 /><circle cx=434 cy=1173 r=2.9 /><circle cx=245 cy=1091 r=2.9 /><circle cx=251 cy=1239 r=2.9 /><circle cx=273 cy=1378 r=2.9 /><circle cx=56 cy=1051 r=2.9 /><circle cx=524 cy=1123 r=2.9 /><circle cx=523 cy=1098 r=2.9 /><circle cx=297 cy=1363 r=2.9 /><circle cx=84 cy=1113 r=2.9 /><circle cx=315 cy=1006 r=2.9 /><circle cx=545 cy=1129 r=2.9 /><circle cx=349 cy=994 r=2.9 /><circle cx=340 cy=1369 r=2.9 /><circle cx=278 cy=1047 r=2.9 /><circle cx=256 cy=1057 r=2.9 /><circle cx=478 cy=1279 r=2.9 /><circle cx=540 cy=1101 r=2.9 /><circle cx=534 cy=1105 r=2.9 /><circle cx=96 cy=1051 r=2.9 /><circle cx=265 cy=1135 r=2.9 /><circle cx=198 cy=1180 r=2.9 /><circle cx=287 cy=1073 r=2.9 /><circle cx=500 cy=1195 r=2.9 /><circle cx=333 cy=992 r=2.9 /><circle cx=89 cy=1110 r=2.9 /><circle cx=450 cy=1221 r=2.9 /><circle cx=535 cy=1088 r=2.9 /><circle cx=474 cy=1170 r=2.9 /><circle cx=519 cy=1188 r=2.9 /><circle cx=439 cy=1258 r=2.9 /><circle cx=271 cy=1039 r=2.9 /><circle cx=109 cy=1055 r=2.9 /><circle cx=68 cy=1060 r=2.9 /><circle cx=525 cy=1177 r=2.9 /><circle cx=307 cy=1081 r=2.9 /><circle cx=237 cy=1155 r=2.9 /><circle cx=331 cy=1385 r=2.9 /><circle cx=542 cy=1149 r=2.9 /><circle cx=330 cy=1097 r=2.9 /><circle cx=304 cy=1025 r=2.9 /><circle cx=251 cy=1211 r=2.9 /><circle cx=240 cy=1100 r=2.9 /><circle cx=255 cy=1138 r=2.9 /><circle cx=553 cy=1158 r=2.9 /><circle cx=478 cy=1127 r=2.9 /><circle cx=535 cy=1108 r=2.9 /><circle cx=373 cy=996 r=2.9 /><circle cx=227 cy=1267 r=2.9 /><circle cx=295 cy=1409 r=2.9 /><circle cx=239 cy=1112 r=2.9 /><circle cx=274 cy=1087 r=2.9 /><circle cx=275 cy=1135 r=2.9 /><circle cx=438 cy=1229 r=2.9 /><circle cx=294 cy=1334 r=2.9 /><circle cx=288 cy=1053 r=2.9 /><circle cx=265 cy=1113 r=2.9 /><circle cx=221 cy=1095 r=2.9 /><circle cx=548 cy=1136 r=2.9 /><circle cx=441 cy=1198 r=2.9 /><circle cx=524 cy=1112 r=2.9 /><circle cx=443 cy=1264 r=2.9 /><circle cx=542 cy=1167 r=2.9 /><circle cx=556 cy=1097 r=2.9 /><circle cx=471 cy=1214 r=2.9 /><circle cx=288 cy=1089 r=2.9 /><circle cx=268 cy=1161 r=2.9 /><circle cx=467 cy=1299 r=2.9 /><circle cx=474 cy=1110 r=2.9 /><circle cx=66 cy=1113 r=2.9 /><circle cx=281 cy=1411 r=2.9 /><circle cx=64 cy=1125 r=2.9 /><circle cx=287 cy=1430 r=2.9 /><circle cx=475 cy=1144 r=2.9 /><circle cx=526 cy=1104 r=2.9 /><circle cx=266 cy=1061 r=2.9 /><circle cx=481 cy=1215 r=2.9 /><circle cx=77 cy=1140 r=2.9 /><circle cx=540 cy=1158 r=2.9 /><circle cx=467 cy=1233 r=2.9 /><circle cx=516 cy=1187 r=2.9 /><circle cx=241 cy=1211 r=2.9 /><circle cx=301 cy=1372 r=2.9 /><circle cx=303 cy=1122 r=2.9 /><circle cx=71 cy=1099 r=2.9 /><circle cx=306 cy=988 r=2.9 /><circle cx=328 cy=1086 r=2.9 /><circle cx=283 cy=1050 r=2.9 /><circle cx=281 cy=1425 r=2.9 /><circle cx=457 cy=1315 r=2.9 /><circle cx=64 cy=1079 r=2.9 /><circle cx=489 cy=1197 r=2.9 /><circle cx=281 cy=1081 r=2.9 /><circle cx=506 cy=1203 r=2.9 /><circle cx=354 cy=962 r=2.9 /><circle cx=102 cy=1089 r=2.9 /><circle cx=540 cy=1176 r=2.9 /><circle cx=314 cy=1106 r=2.9 /><circle cx=242 cy=1216 r=2.9 /><circle cx=481 cy=1106 r=2.9 /><circle cx=256 cy=1118 r=2.9 /><circle cx=254 cy=1071 r=2.9 /><circle cx=288 cy=1103 r=2.9 /><circle cx=261 cy=1231 r=2.9 /><circle cx=97 cy=1092 r=2.9 /><circle cx=268 cy=1256 r=2.9 /><circle cx=353 cy=1007 r=2.9 /><circle cx=303 cy=1407 r=2.9 /><circle cx=521 cy=1170 r=2.9 /><circle cx=278 cy=1131 r=2.9 /><circle cx=194 cy=1176 r=2.9 /><circle cx=478 cy=1159 r=2.9 /><circle cx=256 cy=1235 r=2.9 /><circle cx=449 cy=1313 r=2.9 /><circle cx=352 cy=1022 r=2.9 /><circle cx=473 cy=1248 r=2.9 /><circle cx=452 cy=1267 r=2.9 /><circle cx=442 cy=1184 r=2.9 /><circle cx=354 cy=995 r=2.9 /><circle cx=196 cy=1214 r=2.9 /><circle cx=65 cy=1136 r=2.9 /><circle cx=228 cy=1238 r=2.9 /><circle cx=209 cy=1188 r=2.9 /><circle cx=473 cy=1180 r=2.9 /><circle cx=491 cy=1172 r=2.9 /><circle cx=450 cy=1226 r=2.9 /><circle cx=122 cy=1077 r=2.9 /><circle cx=502 cy=1120 r=2.9 /><circle cx=460 cy=1239 r=2.9 /><circle cx=501 cy=1171 r=2.9 /><circle cx=292 cy=1420 r=2.9 /><circle cx=474 cy=1212 r=2.9 /><circle cx=286 cy=1376 r=2.9 /><circle cx=254 cy=1103 r=2.9 /><circle cx=472 cy=1151 r=2.9 /><circle cx=223 cy=1178 r=2.9 /><circle cx=309 cy=980 r=2.9 /><circle cx=216 cy=997 r=2.9 /><circle cx=316 cy=1117 r=2.9 /><circle cx=319 cy=1082 r=2.9 /><circle cx=553 cy=1098 r=2.9 /><circle cx=207 cy=1183 r=2.9 /><circle cx=272 cy=1148 r=2.9 /><circle cx=337 cy=1377 r=2.9 /></g>
<g class="q5c" fill="#ffffff" stroke="#4a4a4a" stroke-width="1.3"><circle cx=432 cy=1061 r=3.3 /></g>
<g class="q0c" fill="#7a66f0" stroke="#4a4a4a" stroke-width="1.3"><circle cx=287 cy=1338 r=1.7 /><circle cx=438 cy=1175 r=1.7 /><circle cx=495 cy=1129 r=1.7 /><circle cx=247 cy=1279 r=1.7 /><circle cx=260 cy=1266 r=1.7 /></g>
<g class="q0c" fill="#8c7cf0" stroke="#4a4a4a" stroke-width="1.3"><circle cx=562 cy=1121 r=1.7 /></g>
<g class="q0c" fill="#6a55ee" stroke="#4a4a4a" stroke-width="1.3"><circle cx=279 cy=1033 r=1.7 /></g>
<g class="q0c" fill="#e86448" stroke="#4a4a4a" stroke-width="1.3"><circle cx=228 cy=1163 r=1.7 /></g>
<g class="q0c" fill="#a89cf4" stroke="#4a4a4a" stroke-width="1.3"><circle cx=457 cy=1200 r=1.7 /><circle cx=514 cy=1134 r=1.7 /></g>
<g class="q0c" fill="#d85a40" stroke="#4a4a4a" stroke-width="1.3"><circle cx=236 cy=1245 r=1.7 /></g>
<g class="q0c" fill="#c86050" stroke="#4a4a4a" stroke-width="1.3"><circle cx=222 cy=1197 r=1.7 /></g>
<g class="q0c" fill="#8a7af0" stroke="#4a4a4a" stroke-width="1.3"><circle cx=254 cy=1279 r=1.7 /></g>
<g class="q0c" fill="#e8603c" stroke="#4a4a4a" stroke-width="1.3"><circle cx=221 cy=1232 r=1.7 /></g>
<g class="q0c" fill="#5a48e8" stroke="#4a4a4a" stroke-width="1.3"><circle cx=248 cy=1272 r=1.7 /></g>
<g class="q1c" fill="#7a66f0" stroke="#4a4a4a" stroke-width="1.3"><circle cx=519 cy=1096 r=2 /><circle cx=517 cy=1128 r=2 /><circle cx=278 cy=1338 r=2 /><circle cx=468 cy=1247 r=2 /><circle cx=261 cy=1338 r=2 /><circle cx=460 cy=1234 r=2 /><circle cx=524 cy=1202 r=2 /><circle cx=459 cy=1218 r=2 /><circle cx=469 cy=1316 r=2 /></g>
<g class="q1c" fill="#8c7cf0" stroke="#4a4a4a" stroke-width="1.3"><circle cx=516 cy=1098 r=2 /><circle cx=524 cy=1104 r=2 /><circle cx=551 cy=1114 r=2 /></g>
<g class="q1c" fill="#e8603c" stroke="#4a4a4a" stroke-width="1.3"><circle cx=244 cy=1180 r=2 /><circle cx=220 cy=1181 r=2 /></g>
<g class="q1c" fill="#6a55ee" stroke="#4a4a4a" stroke-width="1.3"><circle cx=299 cy=1056 r=2 /><circle cx=493 cy=1126 r=2 /><circle cx=507 cy=1101 r=2 /><circle cx=279 cy=1050 r=2 /></g>
<g class="q1c" fill="#a89cf4" stroke="#4a4a4a" stroke-width="1.3"><circle cx=533 cy=1129 r=2 /></g>
<g class="q1c" fill="#f06a48" stroke="#4a4a4a" stroke-width="1.3"><circle cx=236 cy=1186 r=2 /><circle cx=215 cy=1245 r=2 /></g>
<g class="q1c" fill="#d85a40" stroke="#4a4a4a" stroke-width="1.3"><circle cx=245 cy=1182 r=2 /><circle cx=225 cy=1178 r=2 /><circle cx=235 cy=1207 r=2 /><circle cx=235 cy=1227 r=2 /></g>
<g class="q1c" fill="#c86050" stroke="#4a4a4a" stroke-width="1.3"><circle cx=206 cy=1178 r=2 /><circle cx=228 cy=1221 r=2 /></g>
<g class="q1c" fill="#8a7af0" stroke="#4a4a4a" stroke-width="1.3"><circle cx=235 cy=1277 r=2 /></g>
<g class="q1c" fill="#f47a5a" stroke="#4a4a4a" stroke-width="1.3"><circle cx=238 cy=1182 r=2 /></g>
<g class="q2c" fill="#7a66f0" stroke="#4a4a4a" stroke-width="1.3"><circle cx=504 cy=1101 r=2.3 /><circle cx=528 cy=1114 r=2.3 /><circle cx=449 cy=1177 r=2.3 /><circle cx=270 cy=1331 r=2.3 /><circle cx=505 cy=1129 r=2.3 /><circle cx=520 cy=1117 r=2.3 /></g>
<g class="q2c" fill="#6a55ee" stroke="#4a4a4a" stroke-width="1.3"><circle cx=515 cy=1109 r=2.3 /><circle cx=299 cy=1025 r=2.3 /><circle cx=274 cy=1045 r=2.3 /></g>
<g class="q2c" fill="#f07050" stroke="#4a4a4a" stroke-width="1.3"><circle cx=227 cy=1143 r=2.3 /><circle cx=233 cy=1148 r=2.3 /></g>
<g class="q2c" fill="#d85a40" stroke="#4a4a4a" stroke-width="1.3"><circle cx=214 cy=1195 r=2.3 /><circle cx=240 cy=1192 r=2.3 /></g>
<g class="q2c" fill="#f47a5a" stroke="#4a4a4a" stroke-width="1.3"><circle cx=227 cy=1173 r=2.3 /><circle cx=232 cy=1201 r=2.3 /></g>
<g class="q2c" fill="#8c7cf0" stroke="#4a4a4a" stroke-width="1.3"><circle cx=453 cy=1277 r=2.3 /><circle cx=550 cy=1166 r=2.3 /><circle cx=474 cy=1295 r=2.3 /></g>
<g class="q2c" fill="#a89cf4" stroke="#4a4a4a" stroke-width="1.3"><circle cx=509 cy=1162 r=2.3 /><circle cx=508 cy=1120 r=2.3 /><circle cx=461 cy=1283 r=2.3 /></g>
<g class="q2c" fill="#8a7af0" stroke="#4a4a4a" stroke-width="1.3"><circle cx=258 cy=1288 r=2.3 /><circle cx=243 cy=1270 r=2.3 /><circle cx=244 cy=1278 r=2.3 /></g>
<g class="q2c" fill="#5a48e8" stroke="#4a4a4a" stroke-width="1.3"><circle cx=239 cy=1275 r=2.3 /><circle cx=240 cy=1280 r=2.3 /></g>
<g class="q2c" fill="#e86448" stroke="#4a4a4a" stroke-width="1.3"><circle cx=221 cy=1150 r=2.3 /></g>
<g class="q2c" fill="#f06a48" stroke="#4a4a4a" stroke-width="1.3"><circle cx=249 cy=1222 r=2.3 /></g>
<g class="q3c" fill="#d85a40" stroke="#4a4a4a" stroke-width="1.3"><circle cx=202 cy=1222 r=2.6 /></g>
<g class="q3c" fill="#a89cf4" stroke="#4a4a4a" stroke-width="1.3"><circle cx=492 cy=1186 r=2.6 /><circle cx=513 cy=1153 r=2.6 /><circle cx=521 cy=1165 r=2.6 /><circle cx=475 cy=1119 r=2.6 /></g>
<g class="q3c" fill="#e86448" stroke="#4a4a4a" stroke-width="1.3"><circle cx=219 cy=1159 r=2.6 /><circle cx=249 cy=1132 r=2.6 /><circle cx=249 cy=1139 r=2.6 /></g>
<g class="q3c" fill="#8a7af0" stroke="#4a4a4a" stroke-width="1.3"><circle cx=256 cy=1269 r=2.6 /></g>
<g class="q3c" fill="#7a66f0" stroke="#4a4a4a" stroke-width="1.3"><circle cx=463 cy=1210 r=2.6 /><circle cx=489 cy=1159 r=2.6 /><circle cx=532 cy=1132 r=2.6 /><circle cx=464 cy=1315 r=2.6 /><circle cx=529 cy=1090 r=2.6 /><circle cx=236 cy=1273 r=2.6 /></g>
<g class="q3c" fill="#8c7cf0" stroke="#4a4a4a" stroke-width="1.3"><circle cx=496 cy=1209 r=2.6 /><circle cx=488 cy=1183 r=2.6 /><circle cx=424 cy=1183 r=2.6 /><circle cx=559 cy=1137 r=2.6 /><circle cx=450 cy=1265 r=2.6 /><circle cx=452 cy=1308 r=2.6 /><circle cx=518 cy=1121 r=2.6 /></g>
<g class="q3c" fill="#6a55ee" stroke="#4a4a4a" stroke-width="1.3"><circle cx=522 cy=1089 r=2.6 /><circle cx=512 cy=1117 r=2.6 /><circle cx=519 cy=1113 r=2.6 /><circle cx=494 cy=1105 r=2.6 /></g>
<g class="q3c" fill="#f06a48" stroke="#4a4a4a" stroke-width="1.3"><circle cx=208 cy=1210 r=2.6 /><circle cx=236 cy=1210 r=2.6 /></g>
<g class="q3c" fill="#c86050" stroke="#4a4a4a" stroke-width="1.3"><circle cx=233 cy=1210 r=2.6 /><circle cx=226 cy=1211 r=2.6 /></g>
<g class="q3c" fill="#f47a5a" stroke="#4a4a4a" stroke-width="1.3"><circle cx=198 cy=1213 r=2.6 /></g>
<g class="q3c" fill="#e8603c" stroke="#4a4a4a" stroke-width="1.3"><circle cx=218 cy=1228 r=2.6 /></g>
<g class="q3c" fill="#5a48e8" stroke="#4a4a4a" stroke-width="1.3"><circle cx=233 cy=1277 r=2.6 /></g>
<g class="q3c" fill="#c84a38" stroke="#4a4a4a" stroke-width="1.3"><circle cx=180 cy=1298 r=2.6 /></g>
<g class="q4c" fill="#e86448" stroke="#4a4a4a" stroke-width="1.3"><circle cx=216 cy=1135 r=2.9 /><circle cx=249 cy=1119 r=2.9 /></g>
<g class="q4c" fill="#5a48e8" stroke="#4a4a4a" stroke-width="1.3"><circle cx=252 cy=1272 r=2.9 /><circle cx=251 cy=1285 r=2.9 /><circle cx=240 cy=1267 r=2.9 /></g>
<g class="q4c" fill="#8c7cf0" stroke="#4a4a4a" stroke-width="1.3"><circle cx=508 cy=1098 r=2.9 /><circle cx=536 cy=1139 r=2.9 /><circle cx=497 cy=1114 r=2.9 /><circle cx=505 cy=1123 r=2.9 /></g>
<g class="q4c" fill="#f47a5a" stroke="#4a4a4a" stroke-width="1.3"><circle cx=230 cy=1246 r=2.9 /><circle cx=215 cy=1181 r=2.9 /></g>
<g class="q4c" fill="#f07050" stroke="#4a4a4a" stroke-width="1.3"><circle cx=225 cy=1133 r=2.9 /></g>
<g class="q4c" fill="#d85a44" stroke="#4a4a4a" stroke-width="1.3"><circle cx=176 cy=1307 r=2.9 /></g>
<g class="q4c" fill="#7a66f0" stroke="#4a4a4a" stroke-width="1.3"><circle cx=242 cy=1273 r=2.9 /><circle cx=257 cy=1276 r=2.9 /><circle cx=532 cy=1121 r=2.9 /><circle cx=526 cy=1096 r=2.9 /></g>
<g class="q4c" fill="#6a55ee" stroke="#4a4a4a" stroke-width="1.3"><circle cx=513 cy=1092 r=2.9 /></g>
<g class="q4c" fill="#f06a48" stroke="#4a4a4a" stroke-width="1.3"><circle cx=232 cy=1242 r=2.9 /><circle cx=229 cy=1184 r=2.9 /></g>
<g class="q4c" fill="#a89cf4" stroke="#4a4a4a" stroke-width="1.3"><circle cx=450 cy=1168 r=2.9 /></g>
<g class="q4c" fill="#c86050" stroke="#4a4a4a" stroke-width="1.3"><circle cx=206 cy=1213 r=2.9 /><circle cx=220 cy=1189 r=2.9 /></g>
<g class="q4c" fill="#d85a40" stroke="#4a4a4a" stroke-width="1.3"><circle cx=236 cy=1176 r=2.9 /></g>
<g class="q4c" fill="#e8603c" stroke="#4a4a4a" stroke-width="1.3"><circle cx=202 cy=1169 r=2.9 /></g>
<g class="q6c" fill="#b84438" stroke="#4a4a4a" stroke-width="1.3"><circle cx=204 cy=1327 r=3.8 /></g>
<text x="608.5" y="155">Nhood size</text>
<circle cx="640.6" cy="182.7" r="3.3" fill="#fff" stroke="#8a8a8a" stroke-width="1.5"/>
<text x="678.8" y="192.6">10</text>
<circle cx="640.6" cy="218.8" r="4.8" fill="#fff" stroke="#8a8a8a" stroke-width="1.5"/>
<text x="678.8" y="228.9">20</text>
<circle cx="640.6" cy="254.7" r="6" fill="#fff" stroke="#8a8a8a" stroke-width="1.5"/>
<text x="678.8" y="263.3">30</text>
<circle cx="640.6" cy="290.8" r="7.2" fill="#fff" stroke="#8a8a8a" stroke-width="1.5"/>
<text x="678.8" y="299.6">40</text>
<text x="614.8" y="357.8">Color_by</text>
<linearGradient id="ga" x1="0" y1="0" x2="0" y2="1"><stop offset="0" stop-color="#ff1f1f"/><stop offset="0.25" stop-color="#fb8a6a"/><stop offset="0.5" stop-color="#ffffff"/><stop offset="0.75" stop-color="#9c86f4"/><stop offset="1" stop-color="#1a12ff"/></linearGradient>
<rect x="622.9" y="380.6" width="37.1" height="179.7" fill="url(#ga)"/>
<text x="676.2" y="425">2.5</text>
<text x="676.2" y="470.4">0.0</text>
<text x="672.3" y="516">-2.5</text>
<text x="672.3" y="562.5">-5.0</text>
<text x="616" y="618.8">Overlap size</text>
<line x1="630.5" y1="643" x2="656.7" y2="643" stroke="#ececec" stroke-width="2.2"/>
<line x1="630.5" y1="679.8" x2="656.7" y2="679.8" stroke="#e6e6e6" stroke-width="6.5"/>
<text x="677.7" y="655.6">5.0</text>
<text x="671.9" y="689.1">10.0</text>
<text x="604" y="973.9">Nhood size</text>
<circle cx="637.9" cy="1003.8" r="3.3" fill="#fff" stroke="#8a8a8a" stroke-width="1.5"/>
<text x="672.2" y="1011.9">10</text>
<circle cx="637.9" cy="1039.6" r="4.8" fill="#fff" stroke="#8a8a8a" stroke-width="1.5"/>
<text x="672.2" y="1047">20</text>
<circle cx="637.9" cy="1075.7" r="6" fill="#fff" stroke="#8a8a8a" stroke-width="1.5"/>
<text x="672.2" y="1082">30</text>
<circle cx="637.9" cy="1111.9" r="7.2" fill="#fff" stroke="#8a8a8a" stroke-width="1.5"/>
<text x="672.2" y="1117.8">40</text>
<text x="608.8" y="1176">Color_by</text>
<linearGradient id="gc" x1="0" y1="0" x2="0" y2="1"><stop offset="0" stop-color="#ff1f1f"/><stop offset="0.25" stop-color="#fb8a6a"/><stop offset="0.5" stop-color="#ffffff"/><stop offset="0.75" stop-color="#9c86f4"/><stop offset="1" stop-color="#1a12ff"/></linearGradient>
<rect x="620.6" y="1209.3" width="38.7" height="179.6" fill="url(#gc)"/>
<text x="670.4" y="1244.3">2.5</text>
<text x="670.4" y="1288.6">0.0</text>
<text x="667.4" y="1334.7">-2.5</text>
<text x="667.4" y="1380.8">-5.0</text>
<text x="608.8" y="1438">Overlap size</text>
<line x1="624.3" y1="1470" x2="650.1" y2="1470" stroke="#ececec" stroke-width="2.2"/>
<line x1="624.3" y1="1506.2" x2="650.1" y2="1506.2" stroke="#e6e6e6" stroke-width="6.5"/>
<text x="672.2" y="1473.7">5.0</text>
<text x="666.7" y="1507">10.0</text>
<line x1="40.5" y1="721.8" x2="40.5" y2="656.3" stroke="#000" stroke-width="3"/>
<polygon points="40.5,632.3 32.7,655.8 48.3,655.8" fill="#000"/>
<line x1="39" y1="720.3" x2="105.5" y2="720.3" stroke="#000" stroke-width="3"/>
<polygon points="128.5,720.3 105,712.5 105,728.1" fill="#000"/>
<text transform="translate(25 683.3) rotate(-90)" text-anchor="middle">UMAP2</text>
<text x="86.5" y="756.5" text-anchor="middle">UMAP1</text>
<line x1="40.8" y1="1534.5" x2="40.8" y2="1469" stroke="#000" stroke-width="3"/>
<polygon points="40.8,1445 33,1468.5 48.6,1468.5" fill="#000"/>
<line x1="39.3" y1="1533" x2="105.8" y2="1533" stroke="#000" stroke-width="3"/>
<polygon points="128.8,1533 105.3,1525.2 105.3,1540.8" fill="#000"/>
<text transform="translate(26.2 1496) rotate(-90)" text-anchor="middle">UMAP2</text>
<text x="86.8" y="1569.7" text-anchor="middle">UMAP1</text>
<line x1="922.9" y1="72" x2="922.9" y2="608" stroke="#ebebeb" stroke-width="1.2"/>
<line x1="978.4" y1="72" x2="978.4" y2="608" stroke="#f4f4f4" stroke-width="1"/>
<line x1="1033.9" y1="72" x2="1033.9" y2="608" stroke="#ebebeb" stroke-width="1.2"/>
<line x1="1089.4" y1="72" x2="1089.4" y2="608" stroke="#f4f4f4" stroke-width="1"/>
<line x1="1144.9" y1="72" x2="1144.9" y2="608" stroke="#ebebeb" stroke-width="1.2"/>
<line x1="1200.4" y1="72" x2="1200.4" y2="608" stroke="#f4f4f4" stroke-width="1"/>
<line x1="1255.9" y1="72" x2="1255.9" y2="608" stroke="#ebebeb" stroke-width="1.2"/>
<line x1="1311.4" y1="72" x2="1311.4" y2="608" stroke="#f4f4f4" stroke-width="1"/>
<line x1="916" y1="95.2" x2="1367" y2="95.2" stroke="#ebebeb" stroke-width="2.2"/>
<line x1="916" y1="135.9" x2="1367" y2="135.9" stroke="#ebebeb" stroke-width="2.2"/>
<line x1="916" y1="176.5" x2="1367" y2="176.5" stroke="#ebebeb" stroke-width="2.2"/>
<line x1="916" y1="217.2" x2="1367" y2="217.2" stroke="#ebebeb" stroke-width="2.2"/>
<line x1="916" y1="257.8" x2="1367" y2="257.8" stroke="#ebebeb" stroke-width="2.2"/>
<line x1="916" y1="298.5" x2="1367" y2="298.5" stroke="#ebebeb" stroke-width="2.2"/>
<line x1="916" y1="339.2" x2="1367" y2="339.2" stroke="#ebebeb" stroke-width="2.2"/>
<line x1="916" y1="379.8" x2="1367" y2="379.8" stroke="#ebebeb" stroke-width="2.2"/>
<line x1="916" y1="420.5" x2="1367" y2="420.5" stroke="#ebebeb" stroke-width="2.2"/>
<line x1="916" y1="461.1" x2="1367" y2="461.1" stroke="#ebebeb" stroke-width="2.2"/>
<line x1="916" y1="501.8" x2="1367" y2="501.8" stroke="#ebebeb" stroke-width="2.2"/>
<line x1="916" y1="542.5" x2="1367" y2="542.5" stroke="#ebebeb" stroke-width="2.2"/>
<line x1="916" y1="583.1" x2="1367" y2="583.1" stroke="#ebebeb" stroke-width="2.2"/>
<polygon points="998,92.2 1003,87.2 1009,83.2 1017,80.2 1029,78.2 1045,78.7 1053,79.2 1194,79.7 1215,83.2 1240,87.2 1260,90.2 1276,92.7 1276,97.7 1260,100.2 1240,103.2 1215,107.2 1194,110.7 1053,111.2 1045,111.7 1029,112.2 1017,110.2 1009,107.2 1003,103.2 998,98.2" fill="#6e6e6e"/>
<path d="M975 92h3v3h-3zM967 94h3v3h-3zM966 94h3v3h-3zM979 93h3v3h-3zM979 94h3v3h-3zM972 94h3v3h-3zM984 93h3v3h-3zM966 95h3v3h-3zM969 93h3v3h-3zM991 93h3v3h-3zM986 93h3v3h-3zM967 93h3v3h-3zM987 93h3v3h-3zM984 94h3v3h-3zM991 94h3v3h-3zM983 94h3v3h-3z" fill="#666666"/>
<path d="M1325 93h3v3h-3zM1284 93h3v3h-3zM1287 94h3v3h-3zM1321 94h3v3h-3zM1335 93h3v3h-3zM1316 94h3v3h-3zM1333 95h3v3h-3zM1321 93h3v3h-3zM1320 95h3v3h-3zM1296 93h3v3h-3zM1278 94h3v3h-3zM1284 93h3v3h-3zM1285 93h3v3h-3zM1335 93h3v3h-3zM1313 95h3v3h-3zM1334 93h3v3h-3zM1301 95h3v3h-3zM1287 93h3v3h-3zM1292 94h3v3h-3zM1294 93h3v3h-3zM1301 94h3v3h-3zM1323 94h3v3h-3zM1322 92h3v3h-3zM1329 95h3v3h-3zM1303 94h3v3h-3zM1319 93h3v3h-3zM1290 93h3v3h-3zM1280 93h3v3h-3zM1283 94h3v3h-3zM1335 94h3v3h-3zM1293 93h3v3h-3zM1285 95h3v3h-3zM1308 94h3v3h-3zM1283 93h3v3h-3zM1332 93h3v3h-3zM1340 94h3v3h-3z" fill="#f0502e"/>
<rect x="1053.1" y="79.6" width="141.2" height="31.2" fill="#fff" stroke="#878787" stroke-width="1.7"/>
<line x1="1129.6" y1="79.6" x2="1129.6" y2="110.8" stroke="#6a6a6a" stroke-width="2.8"/>
<text x="909.6" y="103.7" text-anchor="end">CD14 Mono</text>
<line x1="910" y1="95.2" x2="916" y2="95.2" stroke="#555" stroke-width="2"/>
<line x1="937" y1="135.9" x2="1097.6" y2="135.9" stroke="#878787" stroke-width="1.6"/>
<line x1="1210" y1="135.9" x2="1283" y2="135.9" stroke="#878787" stroke-width="1.6"/>
<path d="M970 132h3v3h-3zM997 136h3v3h-3zM952 134h3v3h-3zM984 135h3v3h-3zM956 133h3v3h-3zM998 136h3v3h-3zM987 135h3v3h-3zM968 134h3v3h-3zM937 134h3v3h-3zM979 136h3v3h-3zM995 137h3v3h-3zM958 134h3v3h-3zM1010 131h3v3h-3zM1053 138h3v3h-3zM1038 136h3v3h-3zM1038 140h3v3h-3zM1044 134h3v3h-3zM1046 132h3v3h-3zM1057 133h3v3h-3zM1055 136h3v3h-3zM1006 129h3v3h-3zM1047 129h3v3h-3zM1057 136h3v3h-3zM1031 132h3v3h-3zM1057 136h3v3h-3zM1055 133h3v3h-3zM1048 132h3v3h-3zM1016 131h3v3h-3zM1014 134h3v3h-3zM1053 133h3v3h-3zM1034 138h3v3h-3zM1054 134h3v3h-3zM1030 129h3v3h-3zM1009 127h3v3h-3zM1009 134h3v3h-3zM1032 132h3v3h-3zM1032 136h3v3h-3zM1032 132h3v3h-3zM1045 134h3v3h-3zM1044 139h3v3h-3zM1035 134h3v3h-3zM1040 134h3v3h-3zM1027 140h3v3h-3zM1051 138h3v3h-3zM1032 141h3v3h-3zM1007 131h3v3h-3zM1003 133h3v3h-3zM1039 139h3v3h-3zM1008 137h3v3h-3zM1007 140h3v3h-3zM1012 139h3v3h-3zM1028 141h3v3h-3zM1008 134h3v3h-3zM1019 132h3v3h-3zM1042 129h3v3h-3zM1025 130h3v3h-3zM1036 134h3v3h-3zM1096 142h3v3h-3zM1062 132h3v3h-3zM1088 132h3v3h-3zM1075 145h3v3h-3zM1068 125h3v3h-3zM1080 137h3v3h-3zM1061 138h3v3h-3zM1061 144h3v3h-3zM1089 124h3v3h-3zM1061 141h3v3h-3zM1071 136h3v3h-3zM1069 127h3v3h-3zM1068 129h3v3h-3zM1060 130h3v3h-3zM1070 138h3v3h-3zM1078 129h3v3h-3zM1059 132h3v3h-3zM1086 135h3v3h-3zM1077 139h3v3h-3zM1090 133h3v3h-3zM1090 132h3v3h-3zM1085 142h3v3h-3zM1090 139h3v3h-3zM1074 133h3v3h-3zM1063 124h3v3h-3zM1068 131h3v3h-3zM1090 143h3v3h-3zM1069 130h3v3h-3zM1076 128h3v3h-3zM1069 147h3v3h-3zM1079 127h3v3h-3zM1070 133h3v3h-3zM1073 134h3v3h-3zM1066 134h3v3h-3zM1069 127h3v3h-3zM1060 127h3v3h-3zM1067 136h3v3h-3zM1087 138h3v3h-3zM1092 133h3v3h-3zM1096 126h3v3h-3zM1083 123h3v3h-3zM1092 137h3v3h-3zM1089 127h3v3h-3zM1078 143h3v3h-3zM1090 137h3v3h-3zM1084 137h3v3h-3zM1060 128h3v3h-3zM1062 141h3v3h-3zM1082 137h3v3h-3zM1077 122h3v3h-3zM1087 134h3v3h-3zM1084 124h3v3h-3zM1068 128h3v3h-3zM1086 128h3v3h-3zM1096 134h3v3h-3zM1077 139h3v3h-3zM1082 136h3v3h-3zM1064 129h3v3h-3zM1070 135h3v3h-3zM1061 129h3v3h-3zM1236 137h3v3h-3zM1229 134h3v3h-3zM1213 140h3v3h-3zM1248 139h3v3h-3zM1227 143h3v3h-3zM1226 131h3v3h-3zM1246 128h3v3h-3zM1214 135h3v3h-3zM1214 140h3v3h-3zM1244 137h3v3h-3zM1244 134h3v3h-3zM1209 134h3v3h-3zM1221 129h3v3h-3zM1221 138h3v3h-3zM1239 138h3v3h-3zM1246 140h3v3h-3zM1220 132h3v3h-3zM1248 136h3v3h-3zM1226 132h3v3h-3zM1213 139h3v3h-3zM1246 131h3v3h-3zM1229 129h3v3h-3zM1247 144h3v3h-3zM1234 145h3v3h-3zM1230 137h3v3h-3zM1238 133h3v3h-3zM1234 132h3v3h-3zM1246 128h3v3h-3zM1222 130h3v3h-3zM1248 129h3v3h-3zM1221 135h3v3h-3zM1215 130h3v3h-3zM1245 134h3v3h-3zM1245 143h3v3h-3zM1214 131h3v3h-3zM1222 129h3v3h-3zM1219 136h3v3h-3zM1238 133h3v3h-3zM1229 132h3v3h-3zM1211 128h3v3h-3zM1214 134h3v3h-3zM1243 130h3v3h-3zM1218 133h3v3h-3zM1247 143h3v3h-3zM1209 124h3v3h-3zM1244 134h3v3h-3zM1209 131h3v3h-3zM1242 144h3v3h-3zM1218 129h3v3h-3zM1229 139h3v3h-3zM1237 138h3v3h-3zM1227 135h3v3h-3zM1240 127h3v3h-3zM1234 132h3v3h-3zM1219 137h3v3h-3zM1213 126h3v3h-3zM1232 133h3v3h-3zM1233 127h3v3h-3zM1227 144h3v3h-3zM1244 134h3v3h-3zM1218 145h3v3h-3zM1221 125h3v3h-3zM1235 133h3v3h-3zM1235 140h3v3h-3zM1210 132h3v3h-3zM1236 127h3v3h-3zM1238 134h3v3h-3zM1247 130h3v3h-3zM1218 128h3v3h-3zM1220 143h3v3h-3zM1216 130h3v3h-3zM1235 140h3v3h-3zM1224 126h3v3h-3zM1214 129h3v3h-3zM1224 145h3v3h-3zM1238 148h3v3h-3zM1222 126h3v3h-3zM1238 124h3v3h-3zM1224 132h3v3h-3zM1215 127h3v3h-3zM1223 140h3v3h-3zM1247 130h3v3h-3zM1241 140h3v3h-3zM1210 134h3v3h-3zM1245 129h3v3h-3zM1244 126h3v3h-3zM1241 137h3v3h-3zM1210 123h3v3h-3zM1219 141h3v3h-3zM1222 128h3v3h-3zM1233 129h3v3h-3zM1221 132h3v3h-3zM1239 143h3v3h-3zM1246 128h3v3h-3zM1228 147h3v3h-3zM1261 132h3v3h-3zM1265 138h3v3h-3zM1275 138h3v3h-3zM1274 135h3v3h-3zM1259 132h3v3h-3zM1251 130h3v3h-3zM1257 131h3v3h-3zM1267 131h3v3h-3zM1278 139h3v3h-3zM1251 129h3v3h-3zM1272 134h3v3h-3zM1262 136h3v3h-3zM1273 139h3v3h-3zM1252 138h3v3h-3zM1267 132h3v3h-3zM1255 132h3v3h-3zM1254 139h3v3h-3zM1259 132h3v3h-3zM1265 130h3v3h-3zM1270 138h3v3h-3zM1264 140h3v3h-3zM1279 130h3v3h-3zM1252 129h3v3h-3zM1268 139h3v3h-3zM1277 134h3v3h-3zM1274 138h3v3h-3zM1268 135h3v3h-3zM1261 131h3v3h-3zM1257 136h3v3h-3zM1255 129h3v3h-3zM1271 131h3v3h-3zM1255 138h3v3h-3zM1251 130h3v3h-3zM1267 135h3v3h-3zM1254 137h3v3h-3zM1258 131h3v3h-3zM1259 135h3v3h-3zM1262 141h3v3h-3zM1261 130h3v3h-3zM1255 126h3v3h-3zM1262 138h3v3h-3zM1278 134h3v3h-3zM1249 135h3v3h-3zM1279 129h3v3h-3zM1261 134h3v3h-3zM1258 135h3v3h-3zM1252 134h3v3h-3zM1280 132h3v3h-3zM1280 140h3v3h-3zM1250 139h3v3h-3z" fill="#666666"/>
<path d="M1333 135h3v3h-3zM1295 135h3v3h-3zM1307 136h3v3h-3zM1296 134h3v3h-3zM1313 134h3v3h-3zM1299 135h3v3h-3zM1289 135h3v3h-3zM1288 135h3v3h-3zM1317 135h3v3h-3zM1302 134h3v3h-3zM1308 135h3v3h-3zM1309 133h3v3h-3zM1311 133h3v3h-3zM1326 134h3v3h-3z" fill="#f0502e"/>
<rect x="1097.6" y="120.3" width="112.4" height="31.2" fill="#fff" stroke="#878787" stroke-width="1.7"/>
<line x1="1157.2" y1="120.3" x2="1157.2" y2="151.5" stroke="#6a6a6a" stroke-width="2.8"/>
<text x="909.6" y="144.5" text-anchor="end">CD16 Mono</text>
<line x1="910" y1="135.9" x2="916" y2="135.9" stroke="#555" stroke-width="2"/>
<line x1="1098.3" y1="176.5" x2="1110.7" y2="176.5" stroke="#878787" stroke-width="1.6"/>
<line x1="1136.3" y1="176.5" x2="1144.8" y2="176.5" stroke="#878787" stroke-width="1.6"/>
<path d="M1098 175h3v3h-3zM1144 186h3v3h-3zM1108 172h3v3h-3z" fill="#666666"/>
<rect x="1110.7" y="160.9" width="25.6" height="31.2" fill="#fff" stroke="#878787" stroke-width="1.7"/>
<line x1="1123" y1="160.9" x2="1123" y2="192.1" stroke="#6a6a6a" stroke-width="2.8"/>
<text x="909.6" y="185.4" text-anchor="end">cDC1</text>
<line x1="910" y1="176.5" x2="916" y2="176.5" stroke="#555" stroke-width="2"/>
<line x1="994.3" y1="217.2" x2="1035.4" y2="217.2" stroke="#878787" stroke-width="1.6"/>
<line x1="1135.8" y1="217.2" x2="1240.3" y2="217.2" stroke="#878787" stroke-width="1.6"/>
<path d="M1012 212h3v3h-3zM1010 209h3v3h-3zM1013 207h3v3h-3zM996 220h3v3h-3zM1013 208h3v3h-3zM1008 220h3v3h-3zM1028 226h3v3h-3zM1026 208h3v3h-3zM1013 226h3v3h-3zM999 222h3v3h-3zM995 213h3v3h-3zM999 221h3v3h-3zM1026 210h3v3h-3zM1030 212h3v3h-3zM1013 214h3v3h-3zM1000 208h3v3h-3zM1020 220h3v3h-3zM1025 209h3v3h-3zM1019 213h3v3h-3zM1015 217h3v3h-3zM997 225h3v3h-3zM1009 219h3v3h-3zM1238 216h3v3h-3zM1214 215h3v3h-3zM1212 211h3v3h-3zM1161 217h3v3h-3zM1195 217h3v3h-3zM1135 213h3v3h-3zM1199 215h3v3h-3zM1228 213h3v3h-3zM1202 214h3v3h-3zM1171 213h3v3h-3zM1158 216h3v3h-3zM1156 217h3v3h-3zM1149 218h3v3h-3zM1150 212h3v3h-3z" fill="#666666"/>
<rect x="1035.4" y="201.6" width="100.4" height="31.2" fill="#fff" stroke="#878787" stroke-width="1.7"/>
<line x1="1064.6" y1="201.6" x2="1064.6" y2="232.8" stroke="#6a6a6a" stroke-width="2.8"/>
<text x="909.6" y="226.2" text-anchor="end">cDC2</text>
<line x1="910" y1="217.2" x2="916" y2="217.2" stroke="#555" stroke-width="2"/>
<line x1="1007.8" y1="257.8" x2="1111.8" y2="257.8" stroke="#878787" stroke-width="1.6"/>
<line x1="1210" y1="257.8" x2="1235.8" y2="257.8" stroke="#878787" stroke-width="1.6"/>
<path d="M1034 258h3v3h-3zM1015 252h3v3h-3zM1024 255h3v3h-3zM1021 261h3v3h-3zM1014 258h3v3h-3zM1024 256h3v3h-3zM1090 258h3v3h-3zM1101 259h3v3h-3zM1093 258h3v3h-3zM1103 259h3v3h-3zM1217 255h3v3h-3zM1232 262h3v3h-3zM1209 263h3v3h-3zM1221 260h3v3h-3zM1214 252h3v3h-3zM1210 253h3v3h-3zM1227 263h3v3h-3zM1215 257h3v3h-3zM1229 257h3v3h-3zM1225 262h3v3h-3z" fill="#666666"/>
<rect x="1111.8" y="242.2" width="98.2" height="31.2" fill="#fff" stroke="#878787" stroke-width="1.7"/>
<line x1="1149.3" y1="242.2" x2="1149.3" y2="273.4" stroke="#6a6a6a" stroke-width="2.8"/>
<text x="909.6" y="267.1" text-anchor="end">pDC</text>
<line x1="910" y1="257.8" x2="916" y2="257.8" stroke="#555" stroke-width="2"/>
<line x1="949" y1="298.5" x2="1011.1" y2="298.5" stroke="#878787" stroke-width="1.6"/>
<line x1="1112.9" y1="298.5" x2="1254" y2="298.5" stroke="#878787" stroke-width="1.6"/>
<path d="M968 295h3v3h-3zM953 298h3v3h-3zM965 296h3v3h-3zM955 296h3v3h-3zM962 298h3v3h-3zM970 297h3v3h-3zM964 298h3v3h-3zM964 297h3v3h-3zM952 297h3v3h-3zM968 296h3v3h-3zM950 298h3v3h-3zM951 296h3v3h-3zM983 300h3v3h-3zM984 289h3v3h-3zM977 304h3v3h-3zM987 287h3v3h-3zM987 301h3v3h-3zM974 294h3v3h-3zM986 303h3v3h-3zM985 299h3v3h-3zM972 289h3v3h-3zM974 294h3v3h-3zM971 294h3v3h-3zM983 295h3v3h-3zM988 297h3v3h-3zM982 290h3v3h-3zM978 301h3v3h-3zM983 297h3v3h-3zM986 288h3v3h-3zM974 291h3v3h-3zM984 301h3v3h-3zM979 297h3v3h-3zM974 297h3v3h-3zM985 291h3v3h-3zM976 291h3v3h-3zM979 290h3v3h-3zM972 303h3v3h-3zM985 299h3v3h-3zM978 295h3v3h-3zM972 300h3v3h-3zM974 292h3v3h-3zM980 294h3v3h-3zM975 296h3v3h-3zM984 302h3v3h-3zM977 295h3v3h-3zM986 300h3v3h-3zM974 296h3v3h-3zM981 291h3v3h-3zM986 294h3v3h-3zM976 301h3v3h-3zM973 293h3v3h-3zM976 297h3v3h-3zM976 290h3v3h-3zM984 288h3v3h-3zM972 294h3v3h-3zM985 301h3v3h-3zM974 298h3v3h-3zM974 296h3v3h-3zM978 303h3v3h-3zM980 299h3v3h-3zM973 299h3v3h-3zM984 303h3v3h-3zM981 301h3v3h-3zM975 302h3v3h-3zM984 301h3v3h-3zM983 299h3v3h-3zM976 298h3v3h-3zM978 303h3v3h-3zM982 293h3v3h-3zM979 299h3v3h-3zM983 302h3v3h-3zM982 301h3v3h-3zM999 303h3v3h-3zM1000 288h3v3h-3zM1008 297h3v3h-3zM1001 298h3v3h-3zM999 301h3v3h-3zM999 294h3v3h-3zM993 301h3v3h-3zM1005 285h3v3h-3zM996 290h3v3h-3zM997 287h3v3h-3zM997 301h3v3h-3zM994 290h3v3h-3zM1008 297h3v3h-3zM1005 295h3v3h-3zM991 305h3v3h-3zM1002 296h3v3h-3zM993 306h3v3h-3zM1002 306h3v3h-3zM998 292h3v3h-3zM991 303h3v3h-3zM1006 293h3v3h-3zM994 296h3v3h-3zM989 301h3v3h-3zM994 293h3v3h-3zM997 300h3v3h-3zM996 309h3v3h-3zM990 307h3v3h-3zM1005 287h3v3h-3zM1002 291h3v3h-3zM1008 300h3v3h-3zM991 291h3v3h-3zM1005 295h3v3h-3zM1007 301h3v3h-3zM1007 300h3v3h-3zM1003 308h3v3h-3zM1006 289h3v3h-3zM1000 302h3v3h-3zM1007 298h3v3h-3zM993 289h3v3h-3zM990 297h3v3h-3zM999 297h3v3h-3zM1007 283h3v3h-3zM998 299h3v3h-3zM1006 295h3v3h-3zM1009 287h3v3h-3zM1002 286h3v3h-3zM1003 305h3v3h-3zM1009 297h3v3h-3zM1007 285h3v3h-3zM1002 292h3v3h-3zM996 296h3v3h-3zM1005 291h3v3h-3zM997 299h3v3h-3zM995 303h3v3h-3zM999 292h3v3h-3zM1009 301h3v3h-3zM995 294h3v3h-3zM1001 301h3v3h-3zM989 304h3v3h-3zM1000 289h3v3h-3zM989 288h3v3h-3zM1001 301h3v3h-3zM1008 300h3v3h-3zM1002 302h3v3h-3zM1003 290h3v3h-3zM998 300h3v3h-3zM992 284h3v3h-3zM1008 300h3v3h-3zM1006 304h3v3h-3zM994 293h3v3h-3zM995 295h3v3h-3zM1008 287h3v3h-3zM989 286h3v3h-3zM1001 306h3v3h-3zM989 294h3v3h-3zM1008 307h3v3h-3zM997 287h3v3h-3zM993 293h3v3h-3zM989 300h3v3h-3zM1009 285h3v3h-3zM991 284h3v3h-3zM994 301h3v3h-3zM990 304h3v3h-3zM1006 300h3v3h-3zM1002 301h3v3h-3zM1008 289h3v3h-3zM1004 291h3v3h-3zM1002 301h3v3h-3zM995 300h3v3h-3zM1007 297h3v3h-3zM996 299h3v3h-3zM1003 287h3v3h-3zM996 301h3v3h-3zM997 294h3v3h-3zM1008 304h3v3h-3zM995 283h3v3h-3zM1003 303h3v3h-3zM1001 311h3v3h-3zM1001 293h3v3h-3zM1007 294h3v3h-3zM1001 308h3v3h-3zM994 289h3v3h-3zM997 299h3v3h-3zM1007 284h3v3h-3zM1006 305h3v3h-3zM994 307h3v3h-3zM1003 305h3v3h-3zM990 298h3v3h-3zM993 305h3v3h-3zM993 300h3v3h-3zM998 292h3v3h-3zM1004 303h3v3h-3zM990 305h3v3h-3zM993 299h3v3h-3zM1007 297h3v3h-3zM1001 292h3v3h-3zM992 301h3v3h-3zM1000 295h3v3h-3zM992 282h3v3h-3zM996 287h3v3h-3zM1141 293h3v3h-3zM1124 297h3v3h-3zM1113 303h3v3h-3zM1129 297h3v3h-3zM1140 296h3v3h-3zM1140 301h3v3h-3zM1121 294h3v3h-3zM1118 295h3v3h-3zM1132 300h3v3h-3zM1147 299h3v3h-3zM1134 296h3v3h-3zM1147 295h3v3h-3zM1135 302h3v3h-3zM1126 297h3v3h-3zM1147 300h3v3h-3zM1113 295h3v3h-3zM1145 302h3v3h-3zM1113 300h3v3h-3zM1135 300h3v3h-3zM1117 300h3v3h-3zM1137 295h3v3h-3zM1140 294h3v3h-3zM1121 294h3v3h-3zM1118 295h3v3h-3zM1137 291h3v3h-3zM1119 291h3v3h-3zM1120 303h3v3h-3zM1144 294h3v3h-3zM1115 302h3v3h-3zM1135 297h3v3h-3zM1142 297h3v3h-3zM1117 295h3v3h-3zM1138 297h3v3h-3zM1144 295h3v3h-3zM1117 294h3v3h-3zM1124 294h3v3h-3zM1123 299h3v3h-3zM1148 291h3v3h-3zM1136 294h3v3h-3zM1122 295h3v3h-3zM1125 304h3v3h-3zM1146 294h3v3h-3zM1145 292h3v3h-3zM1122 299h3v3h-3zM1141 296h3v3h-3zM1112 300h3v3h-3zM1118 296h3v3h-3zM1120 297h3v3h-3zM1118 300h3v3h-3zM1119 295h3v3h-3zM1134 297h3v3h-3zM1119 298h3v3h-3zM1142 298h3v3h-3zM1114 299h3v3h-3zM1138 292h3v3h-3zM1124 301h3v3h-3zM1130 291h3v3h-3zM1129 300h3v3h-3zM1118 300h3v3h-3zM1118 296h3v3h-3zM1149 297h3v3h-3zM1179 294h3v3h-3zM1197 299h3v3h-3zM1190 296h3v3h-3zM1152 301h3v3h-3zM1178 297h3v3h-3zM1180 292h3v3h-3zM1162 296h3v3h-3zM1163 298h3v3h-3zM1154 298h3v3h-3zM1150 298h3v3h-3zM1179 298h3v3h-3zM1200 298h3v3h-3zM1156 297h3v3h-3zM1165 295h3v3h-3zM1157 298h3v3h-3zM1157 298h3v3h-3zM1158 300h3v3h-3zM1171 296h3v3h-3zM1180 296h3v3h-3zM1194 296h3v3h-3zM1168 296h3v3h-3zM1196 301h3v3h-3zM1199 294h3v3h-3zM1205 299h3v3h-3zM1173 298h3v3h-3zM1180 294h3v3h-3zM1178 295h3v3h-3zM1206 300h3v3h-3zM1186 300h3v3h-3zM1201 293h3v3h-3zM1164 298h3v3h-3zM1180 300h3v3h-3zM1163 297h3v3h-3zM1205 296h3v3h-3zM1187 294h3v3h-3zM1205 297h3v3h-3zM1176 297h3v3h-3zM1156 295h3v3h-3zM1172 296h3v3h-3zM1154 297h3v3h-3zM1184 298h3v3h-3zM1160 298h3v3h-3zM1181 298h3v3h-3zM1167 296h3v3h-3zM1179 296h3v3h-3zM1149 296h3v3h-3zM1163 297h3v3h-3zM1165 300h3v3h-3zM1194 296h3v3h-3zM1200 297h3v3h-3zM1171 297h3v3h-3zM1155 294h3v3h-3zM1192 295h3v3h-3zM1169 298h3v3h-3zM1246 298h3v3h-3zM1241 298h3v3h-3zM1229 298h3v3h-3zM1249 296h3v3h-3zM1208 298h3v3h-3zM1230 298h3v3h-3zM1226 298h3v3h-3zM1235 297h3v3h-3z" fill="#666666"/>
<rect x="1011.1" y="282.9" width="101.8" height="31.2" fill="#fff" stroke="#878787" stroke-width="1.7"/>
<line x1="1048.7" y1="282.9" x2="1048.7" y2="314.1" stroke="#6a6a6a" stroke-width="2.8"/>
<text x="909.6" y="308" text-anchor="end">CD4 Naïve</text>
<line x1="910" y1="298.5" x2="916" y2="298.5" stroke="#555" stroke-width="2"/>
<line x1="935" y1="339.2" x2="1047.5" y2="339.2" stroke="#878787" stroke-width="1.6"/>
<line x1="1144.8" y1="339.2" x2="1284" y2="339.2" stroke="#878787" stroke-width="1.6"/>
<polygon points="981,337.2 990,335.2 1000,332.2 1003,329.2 1012,327.2 1022,325.2 1047,325.2 1145,326.2 1165,327.2 1180,328.2 1187,332.2 1200,334.2 1215,334.7 1245,335.2 1255,337.2 1255,341.2 1245,343.2 1215,343.7 1200,344.2 1187,346.2 1180,350.2 1165,351.2 1145,352.2 1047,353.2 1022,353.2 1012,351.2 1003,349.2 1000,346.2 990,343.2 981,341.2" fill="#6e6e6e"/>
<path d="M955 338h3v3h-3zM951 338h3v3h-3zM948 339h3v3h-3zM956 338h3v3h-3zM947 337h3v3h-3zM960 336h3v3h-3zM948 339h3v3h-3zM978 337h3v3h-3zM975 337h3v3h-3zM959 338h3v3h-3zM969 338h3v3h-3zM957 338h3v3h-3zM951 337h3v3h-3zM950 339h3v3h-3zM1262 336h3v3h-3zM1256 338h3v3h-3zM1277 340h3v3h-3zM1258 338h3v3h-3zM1254 338h3v3h-3zM1246 337h3v3h-3zM1275 338h3v3h-3zM1278 339h3v3h-3zM1282 339h3v3h-3zM1245 337h3v3h-3zM1261 337h3v3h-3zM1266 338h3v3h-3z" fill="#666666"/>
<rect x="1047.5" y="323.6" width="97.3" height="31.2" fill="#fff" stroke="#878787" stroke-width="1.7"/>
<line x1="1102.6" y1="323.6" x2="1102.6" y2="354.8" stroke="#6a6a6a" stroke-width="2.8"/>
<text x="909.6" y="348.8" text-anchor="end">CD4 TCM</text>
<line x1="910" y1="339.2" x2="916" y2="339.2" stroke="#555" stroke-width="2"/>
<line x1="1010" y1="379.8" x2="1048.2" y2="379.8" stroke="#878787" stroke-width="1.6"/>
<line x1="1144.2" y1="379.8" x2="1263.9" y2="379.8" stroke="#878787" stroke-width="1.6"/>
<path d="M1046 380h3v3h-3zM1024 383h3v3h-3zM1035 371h3v3h-3zM1041 380h3v3h-3zM1016 378h3v3h-3zM1019 381h3v3h-3zM1046 380h3v3h-3zM1013 370h3v3h-3zM1013 373h3v3h-3zM1028 385h3v3h-3zM1039 374h3v3h-3zM1038 374h3v3h-3zM1022 373h3v3h-3zM1012 387h3v3h-3zM1022 377h3v3h-3zM1011 386h3v3h-3zM1045 377h3v3h-3zM1018 366h3v3h-3zM1041 373h3v3h-3zM1040 374h3v3h-3zM1045 378h3v3h-3zM1018 376h3v3h-3zM1017 373h3v3h-3zM1027 382h3v3h-3zM1015 376h3v3h-3zM1045 374h3v3h-3zM1013 379h3v3h-3zM1024 373h3v3h-3zM1040 376h3v3h-3zM1016 375h3v3h-3zM1145 380h3v3h-3zM1152 380h3v3h-3zM1159 381h3v3h-3zM1169 384h3v3h-3zM1152 376h3v3h-3zM1165 383h3v3h-3zM1200 378h3v3h-3zM1170 372h3v3h-3zM1158 384h3v3h-3zM1165 375h3v3h-3zM1155 382h3v3h-3zM1173 379h3v3h-3zM1189 377h3v3h-3zM1177 376h3v3h-3zM1148 372h3v3h-3zM1162 380h3v3h-3zM1176 376h3v3h-3zM1160 374h3v3h-3zM1156 372h3v3h-3zM1159 377h3v3h-3zM1189 385h3v3h-3zM1150 377h3v3h-3zM1183 380h3v3h-3zM1167 381h3v3h-3zM1157 382h3v3h-3zM1180 376h3v3h-3zM1197 382h3v3h-3zM1145 374h3v3h-3zM1154 376h3v3h-3zM1145 375h3v3h-3z" fill="#666666"/>
<rect x="1048.2" y="364.2" width="96" height="31.2" fill="#fff" stroke="#878787" stroke-width="1.7"/>
<line x1="1095.4" y1="364.2" x2="1095.4" y2="395.4" stroke="#6a6a6a" stroke-width="2.8"/>
<text x="909.6" y="389.7" text-anchor="end">CD4 TEM</text>
<line x1="910" y1="379.8" x2="916" y2="379.8" stroke="#555" stroke-width="2"/>
<line x1="997.6" y1="420.5" x2="1028" y2="420.5" stroke="#878787" stroke-width="1.6"/>
<line x1="1076.7" y1="420.5" x2="1131.3" y2="420.5" stroke="#878787" stroke-width="1.6"/>
<path d="M1001 425h3v3h-3zM1018 415h3v3h-3zM1017 418h3v3h-3zM1021 423h3v3h-3zM997 425h3v3h-3zM997 416h3v3h-3zM1020 412h3v3h-3zM1019 411h3v3h-3zM1008 424h3v3h-3zM1004 409h3v3h-3zM1009 427h3v3h-3zM1018 425h3v3h-3zM1010 410h3v3h-3zM1009 419h3v3h-3zM1082 420h3v3h-3zM1113 420h3v3h-3zM1105 422h3v3h-3zM1105 418h3v3h-3zM1095 419h3v3h-3zM1092 417h3v3h-3zM1112 418h3v3h-3zM1103 419h3v3h-3zM1094 417h3v3h-3zM1083 419h3v3h-3zM1157 419h3v3h-3z" fill="#666666"/>
<rect x="1028" y="404.9" width="48.7" height="31.2" fill="#fff" stroke="#878787" stroke-width="1.7"/>
<line x1="1044.2" y1="404.9" x2="1044.2" y2="436.1" stroke="#6a6a6a" stroke-width="2.8"/>
<text x="909.6" y="430.5" text-anchor="end">CD4 CTL</text>
<line x1="910" y1="420.5" x2="916" y2="420.5" stroke="#555" stroke-width="2"/>
<line x1="1040.3" y1="461.1" x2="1108.2" y2="461.1" stroke="#878787" stroke-width="1.6"/>
<line x1="1155.4" y1="461.1" x2="1215.6" y2="461.1" stroke="#878787" stroke-width="1.6"/>
<path d="M1099 460h3v3h-3zM1075 461h3v3h-3zM1086 462h3v3h-3zM1073 458h3v3h-3zM1076 457h3v3h-3zM1076 461h3v3h-3zM1160 457h3v3h-3zM1176 457h3v3h-3zM1154 468h3v3h-3zM1159 464h3v3h-3zM1188 454h3v3h-3zM1180 455h3v3h-3zM1020 460h3v3h-3zM1026 462h3v3h-3z" fill="#666666"/>
<rect x="1108.2" y="445.5" width="47.2" height="31.2" fill="#fff" stroke="#878787" stroke-width="1.7"/>
<line x1="1126.9" y1="445.5" x2="1126.9" y2="476.7" stroke="#6a6a6a" stroke-width="2.8"/>
<text x="909.6" y="471.4" text-anchor="end">Treg</text>
<line x1="910" y1="461.1" x2="916" y2="461.1" stroke="#555" stroke-width="2"/>
<line x1="950.4" y1="501.8" x2="1051.1" y2="501.8" stroke="#878787" stroke-width="1.6"/>
<line x1="1160.6" y1="501.8" x2="1306.6" y2="501.8" stroke="#878787" stroke-width="1.6"/>
<path d="M982 507h3v3h-3zM995 507h3v3h-3zM987 498h3v3h-3zM982 505h3v3h-3zM988 495h3v3h-3zM999 504h3v3h-3zM998 506h3v3h-3zM988 495h3v3h-3zM988 498h3v3h-3zM989 504h3v3h-3zM982 501h3v3h-3zM999 504h3v3h-3zM1020 500h3v3h-3zM1013 497h3v3h-3zM1012 502h3v3h-3zM1015 504h3v3h-3zM1012 500h3v3h-3zM1018 491h3v3h-3zM1043 505h3v3h-3zM1031 503h3v3h-3zM1034 498h3v3h-3zM1039 508h3v3h-3zM1029 497h3v3h-3zM1037 499h3v3h-3zM1027 498h3v3h-3zM1045 509h3v3h-3zM1045 509h3v3h-3zM1042 492h3v3h-3zM1038 497h3v3h-3zM1045 500h3v3h-3zM1182 497h3v3h-3zM1161 495h3v3h-3zM1194 494h3v3h-3zM1188 501h3v3h-3zM1201 501h3v3h-3zM1168 494h3v3h-3zM1202 493h3v3h-3zM1179 495h3v3h-3zM1179 500h3v3h-3zM1177 501h3v3h-3zM1200 501h3v3h-3zM1191 495h3v3h-3zM1228 501h3v3h-3zM1219 493h3v3h-3zM1216 493h3v3h-3zM1190 494h3v3h-3zM1204 503h3v3h-3zM1221 496h3v3h-3zM1188 493h3v3h-3zM1176 497h3v3h-3zM1193 506h3v3h-3zM1228 501h3v3h-3zM1228 495h3v3h-3zM1186 504h3v3h-3zM1225 496h3v3h-3zM1217 508h3v3h-3zM949 500h3v3h-3zM970 500h3v3h-3zM1272 500h3v3h-3zM1304 500h3v3h-3z" fill="#666666"/>
<rect x="1051.1" y="486.2" width="109.5" height="31.2" fill="#fff" stroke="#878787" stroke-width="1.7"/>
<line x1="1108.9" y1="486.2" x2="1108.9" y2="517.4" stroke="#6a6a6a" stroke-width="2.8"/>
<text x="909.6" y="512.2" text-anchor="end">CD8 Naïve</text>
<line x1="910" y1="501.8" x2="916" y2="501.8" stroke="#555" stroke-width="2"/>
<line x1="1006.6" y1="542.5" x2="1052.9" y2="542.5" stroke="#878787" stroke-width="1.6"/>
<line x1="1130.9" y1="542.5" x2="1215.6" y2="542.5" stroke="#878787" stroke-width="1.6"/>
<path d="M1007 542h3v3h-3zM1030 544h3v3h-3zM1048 543h3v3h-3zM1014 540h3v3h-3zM1032 538h3v3h-3zM1010 544h3v3h-3zM1031 538h3v3h-3zM1022 534h3v3h-3zM1030 544h3v3h-3zM1049 535h3v3h-3zM1012 541h3v3h-3zM1042 537h3v3h-3zM1043 543h3v3h-3zM1027 535h3v3h-3zM1023 547h3v3h-3zM1008 539h3v3h-3zM1047 542h3v3h-3zM1012 539h3v3h-3zM1032 540h3v3h-3zM1005 542h3v3h-3zM1005 540h3v3h-3zM1007 535h3v3h-3zM1017 538h3v3h-3zM1017 542h3v3h-3zM1049 545h3v3h-3zM1163 545h3v3h-3zM1175 543h3v3h-3zM1151 538h3v3h-3zM1181 547h3v3h-3zM1147 544h3v3h-3zM1160 542h3v3h-3zM1162 540h3v3h-3zM1149 538h3v3h-3zM1158 540h3v3h-3zM1143 540h3v3h-3zM1130 545h3v3h-3zM1156 542h3v3h-3zM1139 537h3v3h-3zM1148 544h3v3h-3zM1185 539h3v3h-3zM1164 538h3v3h-3zM1164 545h3v3h-3zM1175 540h3v3h-3zM1133 541h3v3h-3zM1146 540h3v3h-3z" fill="#666666"/>
<rect x="1052.9" y="526.9" width="78" height="31.2" fill="#fff" stroke="#878787" stroke-width="1.7"/>
<line x1="1099.9" y1="526.9" x2="1099.9" y2="558.1" stroke="#6a6a6a" stroke-width="2.8"/>
<text x="909.6" y="553.1" text-anchor="end">CD8 TCM</text>
<line x1="910" y1="542.5" x2="916" y2="542.5" stroke="#555" stroke-width="2"/>
<polygon points="974,581.1 990,578.1 997,576.1 1003,571.1 1017,569.1 1021,567.1 1046,567.1 1155,572.6 1170,573.6 1186,574.6 1210,575.6 1220,577.6 1240,579.1 1266,580.1 1270,581.6 1270,584.6 1266,586.1 1240,587.1 1220,588.6 1210,590.6 1186,591.6 1170,592.6 1155,593.6 1046,599.1 1021,599.1 1017,597.1 1003,595.1 997,590.1 990,588.1 974,585.1" fill="#6e6e6e"/>
<path d="M1262 581h3v3h-3zM1263 581h3v3h-3zM1268 583h3v3h-3zM1298 582h3v3h-3z" fill="#666666"/>
<path d="M1274 582h3v3h-3zM1276 583h3v3h-3zM1327 582h3v3h-3z" fill="#f0502e"/>
<rect x="1046.4" y="567.5" width="108.5" height="31.2" fill="#fff" stroke="#878787" stroke-width="1.7"/>
<line x1="1102.6" y1="567.5" x2="1102.6" y2="598.7" stroke="#6a6a6a" stroke-width="2.8"/>
<text x="909.6" y="594" text-anchor="end">CD8 TEM</text>
<line x1="910" y1="583.1" x2="916" y2="583.1" stroke="#555" stroke-width="2"/>
<line x1="1144.9" y1="72" x2="1144.9" y2="608" stroke="#6a6a6a" stroke-width="1.8" stroke-dasharray="4.5 2.6"/>
<rect x="916" y="72" width="451" height="536" fill="none" stroke="#9a9a9a" stroke-width="1.6"/>
<line x1="922.9" y1="608" x2="922.9" y2="613.5" stroke="#707070" stroke-width="2"/>
<text x="919.4" y="633.7" text-anchor="middle">-5.0</text>
<line x1="1033.9" y1="608" x2="1033.9" y2="613.5" stroke="#707070" stroke-width="2"/>
<text x="1030.4" y="633.7" text-anchor="middle">-2.5</text>
<line x1="1144.9" y1="608" x2="1144.9" y2="613.5" stroke="#707070" stroke-width="2"/>
<text x="1144.9" y="633.7" text-anchor="middle">0.0</text>
<line x1="1255.9" y1="608" x2="1255.9" y2="613.5" stroke="#707070" stroke-width="2"/>
<text x="1255.9" y="633.7" text-anchor="middle">2.5</text>
<line x1="1366.9" y1="608" x2="1366.9" y2="613.5" stroke="#707070" stroke-width="2"/>
<text x="1366.9" y="633.7" text-anchor="middle">5.0</text>
<text x="1144.9" y="660" text-anchor="middle">log<tspan font-size="16" dy="5">2</tspan><tspan dy="-5">FC</tspan></text>
<line x1="939.4" y1="675.6" x2="1124" y2="675.6" stroke="#2a2aff" stroke-width="2.2"/>
<polygon points="919.4,675.6 942.4,664.1 942.4,687.1" fill="#2a2aff"/>
<line x1="1167" y1="675.6" x2="1346.4" y2="675.6" stroke="#ff1a1a" stroke-width="2.2"/>
<polygon points="1366.4,675.6 1343.4,664.1 1343.4,687.1" fill="#ff1a1a"/>
<text x="939" y="710.4">Decrease in SRC</text>
<text x="1172" y="710.4">Increase in SRC</text>
<line x1="1587.5" y1="71" x2="1587.5" y2="565" stroke="#ebebeb" stroke-width="1.2"/>
<line x1="1643.2" y1="71" x2="1643.2" y2="565" stroke="#f4f4f4" stroke-width="1"/>
<line x1="1699" y1="71" x2="1699" y2="565" stroke="#ebebeb" stroke-width="1.2"/>
<line x1="1754.8" y1="71" x2="1754.8" y2="565" stroke="#f4f4f4" stroke-width="1"/>
<line x1="1810.5" y1="71" x2="1810.5" y2="565" stroke="#ebebeb" stroke-width="1.2"/>
<line x1="1866.2" y1="71" x2="1866.2" y2="565" stroke="#f4f4f4" stroke-width="1"/>
<line x1="1922" y1="71" x2="1922" y2="565" stroke="#ebebeb" stroke-width="1.2"/>
<line x1="1977.8" y1="71" x2="1977.8" y2="565" stroke="#f4f4f4" stroke-width="1"/>
<line x1="1581" y1="93.6" x2="2034" y2="93.6" stroke="#ebebeb" stroke-width="2.2"/>
<line x1="1581" y1="134.3" x2="2034" y2="134.3" stroke="#ebebeb" stroke-width="2.2"/>
<line x1="1581" y1="175" x2="2034" y2="175" stroke="#ebebeb" stroke-width="2.2"/>
<line x1="1581" y1="215.7" x2="2034" y2="215.7" stroke="#ebebeb" stroke-width="2.2"/>
<line x1="1581" y1="256.4" x2="2034" y2="256.4" stroke="#ebebeb" stroke-width="2.2"/>
<line x1="1581" y1="297.1" x2="2034" y2="297.1" stroke="#ebebeb" stroke-width="2.2"/>
<line x1="1581" y1="337.8" x2="2034" y2="337.8" stroke="#ebebeb" stroke-width="2.2"/>
<line x1="1581" y1="378.5" x2="2034" y2="378.5" stroke="#ebebeb" stroke-width="2.2"/>
<line x1="1581" y1="419.2" x2="2034" y2="419.2" stroke="#ebebeb" stroke-width="2.2"/>
<line x1="1581" y1="459.9" x2="2034" y2="459.9" stroke="#ebebeb" stroke-width="2.2"/>
<line x1="1581" y1="500.6" x2="2034" y2="500.6" stroke="#ebebeb" stroke-width="2.2"/>
<line x1="1581" y1="541.3" x2="2034" y2="541.3" stroke="#ebebeb" stroke-width="2.2"/>
<line x1="1646.5" y1="93.6" x2="1683.6" y2="93.6" stroke="#878787" stroke-width="1.6"/>
<line x1="1778.7" y1="93.6" x2="1832" y2="93.6" stroke="#878787" stroke-width="1.6"/>
<path d="M1652 98h3v3h-3zM1667 83h3v3h-3zM1678 90h3v3h-3zM1652 93h3v3h-3zM1669 97h3v3h-3zM1657 97h3v3h-3zM1660 95h3v3h-3zM1647 91h3v3h-3zM1668 89h3v3h-3zM1667 88h3v3h-3zM1645 99h3v3h-3zM1682 84h3v3h-3zM1820 90h3v3h-3zM1787 85h3v3h-3zM1783 97h3v3h-3zM1809 94h3v3h-3zM1816 93h3v3h-3zM1821 87h3v3h-3zM1823 96h3v3h-3zM1823 99h3v3h-3zM1794 93h3v3h-3zM1785 84h3v3h-3zM1816 96h3v3h-3zM1836 87h3v3h-3z" fill="#666666"/>
<rect x="1683.6" y="78" width="95.1" height="31.2" fill="#fff" stroke="#878787" stroke-width="1.7"/>
<line x1="1729.2" y1="78" x2="1729.2" y2="109.2" stroke="#6a6a6a" stroke-width="2.8"/>
<text x="1571.5" y="102.8" text-anchor="end">MAIT</text>
<line x1="1575" y1="93.6" x2="1581" y2="93.6" stroke="#555" stroke-width="2"/>
<line x1="1674.6" y1="134.3" x2="1694.4" y2="134.3" stroke="#878787" stroke-width="1.6"/>
<line x1="1792.6" y1="134.3" x2="1857.8" y2="134.3" stroke="#878787" stroke-width="1.6"/>
<path d="M1674 128h3v3h-3zM1674 133h3v3h-3zM1676 139h3v3h-3zM1675 126h3v3h-3zM1691 130h3v3h-3zM1842 130h3v3h-3zM1824 134h3v3h-3zM1844 133h3v3h-3zM1850 129h3v3h-3zM1796 134h3v3h-3z" fill="#666666"/>
<rect x="1694.4" y="118.7" width="98.2" height="31.2" fill="#fff" stroke="#878787" stroke-width="1.7"/>
<line x1="1725.9" y1="118.7" x2="1725.9" y2="149.9" stroke="#6a6a6a" stroke-width="2.8"/>
<text x="1571.5" y="143.6" text-anchor="end">dnT</text>
<line x1="1575" y1="134.3" x2="1581" y2="134.3" stroke="#555" stroke-width="2"/>
<line x1="1669" y1="175" x2="1761.8" y2="175" stroke="#878787" stroke-width="1.6"/>
<line x1="1832.6" y1="175" x2="1936.9" y2="175" stroke="#878787" stroke-width="1.6"/>
<path d="M1748 167h3v3h-3zM1706 182h3v3h-3zM1726 171h3v3h-3zM1692 173h3v3h-3zM1686 177h3v3h-3zM1695 178h3v3h-3zM1720 167h3v3h-3zM1748 170h3v3h-3zM1744 171h3v3h-3zM1713 177h3v3h-3zM1731 175h3v3h-3zM1721 177h3v3h-3zM1750 171h3v3h-3zM1748 168h3v3h-3zM1935 172h3v3h-3zM1843 176h3v3h-3zM1926 169h3v3h-3zM1842 169h3v3h-3zM1841 171h3v3h-3zM1906 180h3v3h-3zM1835 170h3v3h-3zM1903 168h3v3h-3zM1856 173h3v3h-3zM1834 178h3v3h-3zM1923 169h3v3h-3zM1846 173h3v3h-3zM1960 174h3v3h-3z" fill="#666666"/>
<rect x="1761.8" y="159.4" width="70.8" height="31.2" fill="#fff" stroke="#878787" stroke-width="1.7"/>
<line x1="1796" y1="159.4" x2="1796" y2="190.6" stroke="#6a6a6a" stroke-width="2.8"/>
<text x="1571.5" y="184.4" text-anchor="end">gdT</text>
<line x1="1575" y1="175" x2="1581" y2="175" stroke="#555" stroke-width="2"/>
<line x1="1628" y1="215.7" x2="1738.7" y2="215.7" stroke="#878787" stroke-width="1.6"/>
<line x1="1858.9" y1="215.7" x2="1985" y2="215.7" stroke="#878787" stroke-width="1.6"/>
<path d="M1644 213h3v3h-3zM1640 213h3v3h-3zM1639 215h3v3h-3zM1662 225h3v3h-3zM1686 212h3v3h-3zM1665 210h3v3h-3zM1676 213h3v3h-3zM1669 205h3v3h-3zM1683 215h3v3h-3zM1684 225h3v3h-3zM1686 213h3v3h-3zM1672 221h3v3h-3zM1670 213h3v3h-3zM1698 205h3v3h-3zM1695 210h3v3h-3zM1670 211h3v3h-3zM1658 221h3v3h-3zM1694 206h3v3h-3zM1667 217h3v3h-3zM1667 218h3v3h-3zM1687 220h3v3h-3zM1680 220h3v3h-3zM1681 218h3v3h-3zM1685 212h3v3h-3zM1681 217h3v3h-3zM1681 215h3v3h-3zM1681 209h3v3h-3zM1674 218h3v3h-3zM1674 211h3v3h-3zM1695 215h3v3h-3zM1677 218h3v3h-3zM1660 219h3v3h-3zM1682 222h3v3h-3zM1692 208h3v3h-3zM1691 217h3v3h-3zM1660 212h3v3h-3zM1669 219h3v3h-3zM1673 208h3v3h-3zM1698 217h3v3h-3zM1675 220h3v3h-3zM1659 217h3v3h-3zM1676 210h3v3h-3zM1668 213h3v3h-3zM1662 215h3v3h-3zM1661 217h3v3h-3zM1667 209h3v3h-3zM1657 217h3v3h-3zM1662 213h3v3h-3zM1681 213h3v3h-3zM1673 212h3v3h-3zM1666 212h3v3h-3zM1690 212h3v3h-3zM1679 219h3v3h-3zM1697 217h3v3h-3zM1683 213h3v3h-3zM1687 212h3v3h-3zM1675 222h3v3h-3zM1654 216h3v3h-3zM1674 219h3v3h-3zM1674 220h3v3h-3zM1675 214h3v3h-3zM1683 218h3v3h-3zM1654 217h3v3h-3zM1688 217h3v3h-3zM1663 205h3v3h-3zM1657 206h3v3h-3zM1678 206h3v3h-3zM1685 214h3v3h-3zM1684 213h3v3h-3zM1698 221h3v3h-3zM1659 211h3v3h-3zM1653 220h3v3h-3zM1665 212h3v3h-3zM1692 215h3v3h-3zM1672 208h3v3h-3zM1692 221h3v3h-3zM1664 211h3v3h-3zM1677 212h3v3h-3zM1675 215h3v3h-3zM1689 207h3v3h-3zM1678 208h3v3h-3zM1677 213h3v3h-3zM1667 209h3v3h-3zM1666 219h3v3h-3zM1680 213h3v3h-3zM1673 218h3v3h-3zM1672 215h3v3h-3zM1692 207h3v3h-3zM1661 221h3v3h-3zM1689 214h3v3h-3zM1684 212h3v3h-3zM1691 206h3v3h-3zM1662 210h3v3h-3zM1689 221h3v3h-3zM1683 209h3v3h-3zM1684 211h3v3h-3zM1685 204h3v3h-3zM1666 210h3v3h-3zM1667 215h3v3h-3zM1694 210h3v3h-3zM1659 221h3v3h-3zM1671 208h3v3h-3zM1682 210h3v3h-3zM1657 213h3v3h-3zM1672 216h3v3h-3zM1691 206h3v3h-3zM1698 221h3v3h-3zM1666 211h3v3h-3zM1675 218h3v3h-3zM1675 221h3v3h-3zM1677 210h3v3h-3zM1665 223h3v3h-3zM1663 218h3v3h-3zM1721 221h3v3h-3zM1734 216h3v3h-3zM1711 214h3v3h-3zM1727 208h3v3h-3zM1710 207h3v3h-3zM1702 215h3v3h-3zM1721 214h3v3h-3zM1718 207h3v3h-3zM1704 215h3v3h-3zM1713 216h3v3h-3zM1705 220h3v3h-3zM1731 220h3v3h-3zM1704 205h3v3h-3zM1703 214h3v3h-3zM1703 214h3v3h-3zM1719 214h3v3h-3zM1706 213h3v3h-3zM1703 208h3v3h-3zM1718 218h3v3h-3zM1734 214h3v3h-3zM1720 216h3v3h-3zM1727 210h3v3h-3zM1700 212h3v3h-3zM1710 218h3v3h-3zM1720 209h3v3h-3zM1728 216h3v3h-3zM1708 217h3v3h-3zM1700 216h3v3h-3zM1729 211h3v3h-3zM1716 218h3v3h-3zM1734 213h3v3h-3zM1702 209h3v3h-3zM1724 209h3v3h-3zM1704 211h3v3h-3zM1711 226h3v3h-3zM1729 214h3v3h-3zM1728 222h3v3h-3zM1723 209h3v3h-3zM1731 217h3v3h-3zM1726 213h3v3h-3zM1735 218h3v3h-3zM1704 222h3v3h-3zM1733 219h3v3h-3zM1729 216h3v3h-3zM1730 220h3v3h-3zM1710 222h3v3h-3zM1734 205h3v3h-3zM1728 209h3v3h-3zM1707 210h3v3h-3zM1707 214h3v3h-3zM1725 217h3v3h-3zM1728 220h3v3h-3zM1734 219h3v3h-3zM1702 217h3v3h-3zM1711 216h3v3h-3zM1729 206h3v3h-3zM1699 206h3v3h-3zM1714 216h3v3h-3zM1711 210h3v3h-3zM1731 216h3v3h-3zM1702 210h3v3h-3zM1715 218h3v3h-3zM1703 216h3v3h-3zM1730 210h3v3h-3zM1735 213h3v3h-3zM1732 217h3v3h-3zM1713 214h3v3h-3zM1718 220h3v3h-3zM1730 209h3v3h-3zM1699 207h3v3h-3zM1716 218h3v3h-3zM1712 207h3v3h-3zM1731 214h3v3h-3zM1734 222h3v3h-3zM1701 216h3v3h-3zM1735 212h3v3h-3zM1723 212h3v3h-3zM1724 221h3v3h-3zM1712 219h3v3h-3zM1730 217h3v3h-3zM1716 220h3v3h-3zM1726 216h3v3h-3zM1711 206h3v3h-3zM1732 208h3v3h-3zM1720 208h3v3h-3zM1727 216h3v3h-3zM1727 211h3v3h-3zM1714 223h3v3h-3zM1729 217h3v3h-3zM1735 218h3v3h-3zM1709 208h3v3h-3zM1730 218h3v3h-3zM1704 215h3v3h-3zM1705 217h3v3h-3zM1710 208h3v3h-3zM1872 225h3v3h-3zM1865 210h3v3h-3zM1865 211h3v3h-3zM1862 211h3v3h-3zM1872 220h3v3h-3zM1865 221h3v3h-3zM1889 217h3v3h-3zM1869 207h3v3h-3zM1875 215h3v3h-3zM1886 211h3v3h-3zM1892 215h3v3h-3zM1881 209h3v3h-3zM1859 220h3v3h-3zM1871 220h3v3h-3zM1867 207h3v3h-3zM1886 217h3v3h-3zM1888 209h3v3h-3zM1882 223h3v3h-3zM1884 218h3v3h-3zM1893 218h3v3h-3zM1872 218h3v3h-3zM1865 220h3v3h-3zM1877 218h3v3h-3zM1863 213h3v3h-3zM1873 214h3v3h-3zM1883 215h3v3h-3zM1879 209h3v3h-3zM1887 218h3v3h-3zM1883 218h3v3h-3zM1892 222h3v3h-3zM1889 217h3v3h-3zM1862 218h3v3h-3zM1881 212h3v3h-3zM1880 218h3v3h-3zM1866 211h3v3h-3zM1883 224h3v3h-3zM1871 216h3v3h-3zM1889 213h3v3h-3zM1881 210h3v3h-3zM1860 213h3v3h-3zM1888 204h3v3h-3zM1862 209h3v3h-3zM1870 211h3v3h-3zM1866 218h3v3h-3zM1889 219h3v3h-3zM1859 217h3v3h-3zM1877 213h3v3h-3zM1881 218h3v3h-3zM1873 214h3v3h-3zM1866 223h3v3h-3zM1888 220h3v3h-3zM1895 207h3v3h-3zM1863 213h3v3h-3zM1884 214h3v3h-3zM1865 213h3v3h-3zM1865 218h3v3h-3zM1874 208h3v3h-3zM1865 210h3v3h-3zM1884 224h3v3h-3zM1894 222h3v3h-3zM1885 209h3v3h-3zM1858 221h3v3h-3zM1881 211h3v3h-3zM1864 217h3v3h-3zM1869 209h3v3h-3zM1871 223h3v3h-3zM1875 210h3v3h-3zM1863 219h3v3h-3zM1895 223h3v3h-3zM1876 218h3v3h-3zM1862 215h3v3h-3zM1865 212h3v3h-3zM1892 219h3v3h-3zM1895 213h3v3h-3zM1872 221h3v3h-3zM1863 208h3v3h-3zM1880 213h3v3h-3zM1889 219h3v3h-3zM1859 221h3v3h-3zM1860 211h3v3h-3zM1891 214h3v3h-3zM1865 208h3v3h-3zM1872 207h3v3h-3zM1862 210h3v3h-3zM1880 217h3v3h-3zM1874 206h3v3h-3zM1860 214h3v3h-3zM1883 217h3v3h-3zM1882 217h3v3h-3zM1863 221h3v3h-3zM1860 208h3v3h-3zM1866 212h3v3h-3zM1889 217h3v3h-3zM1859 205h3v3h-3zM1888 210h3v3h-3zM1867 219h3v3h-3zM1883 222h3v3h-3zM1892 212h3v3h-3zM1858 217h3v3h-3zM1894 217h3v3h-3zM1930 211h3v3h-3zM1900 217h3v3h-3zM1935 209h3v3h-3zM1919 217h3v3h-3zM1922 215h3v3h-3zM1899 210h3v3h-3zM1908 214h3v3h-3zM1928 209h3v3h-3zM1930 214h3v3h-3zM1923 212h3v3h-3zM1900 218h3v3h-3zM1911 210h3v3h-3zM1932 216h3v3h-3zM1911 212h3v3h-3zM1902 215h3v3h-3zM1929 212h3v3h-3zM1900 216h3v3h-3zM1918 214h3v3h-3zM1922 216h3v3h-3zM1927 218h3v3h-3zM1931 215h3v3h-3zM1925 217h3v3h-3zM1933 211h3v3h-3zM1914 215h3v3h-3zM1908 213h3v3h-3zM1900 214h3v3h-3zM1924 219h3v3h-3zM1931 219h3v3h-3zM1907 212h3v3h-3zM1896 211h3v3h-3zM1935 212h3v3h-3zM1929 218h3v3h-3zM1918 210h3v3h-3zM1909 215h3v3h-3zM1963 215h3v3h-3zM1962 215h3v3h-3zM1981 214h3v3h-3zM1970 215h3v3h-3zM1948 213h3v3h-3zM1939 213h3v3h-3zM1983 213h3v3h-3zM1969 215h3v3h-3zM1972 213h3v3h-3zM1940 215h3v3h-3zM1950 216h3v3h-3zM1965 215h3v3h-3zM1970 214h3v3h-3zM1942 212h3v3h-3zM1945 213h3v3h-3zM1982 215h3v3h-3zM1973 213h3v3h-3zM1952 214h3v3h-3z" fill="#666666"/>
<path d="M1994 214h3v3h-3z" fill="#f0502e"/>
<rect x="1738.7" y="200.1" width="120.2" height="31.2" fill="#fff" stroke="#878787" stroke-width="1.7"/>
<line x1="1803.8" y1="200.1" x2="1803.8" y2="231.3" stroke="#6a6a6a" stroke-width="2.8"/>
<text x="1571.5" y="225.3" text-anchor="end">B Naïve</text>
<line x1="1575" y1="215.7" x2="1581" y2="215.7" stroke="#555" stroke-width="2"/>
<line x1="1691.5" y1="256.4" x2="1754.9" y2="256.4" stroke="#878787" stroke-width="1.6"/>
<line x1="1809.5" y1="256.4" x2="1840.9" y2="256.4" stroke="#878787" stroke-width="1.6"/>
<path d="M1709 256h3v3h-3zM1748 253h3v3h-3zM1675 258h3v3h-3zM1742 259h3v3h-3zM1695 251h3v3h-3zM1746 251h3v3h-3zM1720 256h3v3h-3zM1684 249h3v3h-3zM1704 257h3v3h-3zM1691 252h3v3h-3zM1742 249h3v3h-3zM1702 256h3v3h-3zM1833 253h3v3h-3zM1825 252h3v3h-3zM1833 253h3v3h-3zM1832 253h3v3h-3zM1815 254h3v3h-3zM1828 254h3v3h-3zM1810 257h3v3h-3zM1816 250h3v3h-3zM1888 255h3v3h-3z" fill="#666666"/>
<rect x="1754.9" y="240.8" width="54.6" height="31.2" fill="#fff" stroke="#878787" stroke-width="1.7"/>
<line x1="1781.4" y1="240.8" x2="1781.4" y2="272" stroke="#6a6a6a" stroke-width="2.8"/>
<text x="1571.5" y="266.1" text-anchor="end">B intermediate</text>
<line x1="1575" y1="256.4" x2="1581" y2="256.4" stroke="#555" stroke-width="2"/>
<line x1="1690" y1="297.1" x2="1721.8" y2="297.1" stroke="#878787" stroke-width="1.6"/>
<line x1="1826.8" y1="297.1" x2="1919.6" y2="297.1" stroke="#878787" stroke-width="1.6"/>
<path d="M1684 295h3v3h-3zM1683 289h3v3h-3zM1686 291h3v3h-3zM1684 289h3v3h-3zM1696 304h3v3h-3zM1682 289h3v3h-3zM1699 306h3v3h-3zM1710 285h3v3h-3zM1698 292h3v3h-3zM1710 292h3v3h-3zM1689 303h3v3h-3zM1705 288h3v3h-3zM1691 289h3v3h-3zM1692 285h3v3h-3zM1696 292h3v3h-3zM1702 296h3v3h-3zM1696 300h3v3h-3zM1688 296h3v3h-3zM1702 287h3v3h-3zM1713 302h3v3h-3zM1692 301h3v3h-3zM1687 298h3v3h-3zM1682 293h3v3h-3zM1695 291h3v3h-3zM1706 298h3v3h-3zM1863 297h3v3h-3zM1914 292h3v3h-3zM1873 302h3v3h-3zM1918 297h3v3h-3zM1903 290h3v3h-3zM1868 290h3v3h-3zM1855 295h3v3h-3zM1888 290h3v3h-3zM1841 298h3v3h-3zM1882 292h3v3h-3zM1878 297h3v3h-3zM1848 288h3v3h-3zM1839 291h3v3h-3zM1880 299h3v3h-3zM1847 291h3v3h-3zM1868 294h3v3h-3zM1887 303h3v3h-3zM1851 301h3v3h-3z" fill="#666666"/>
<rect x="1721.8" y="281.5" width="105" height="31.2" fill="#fff" stroke="#878787" stroke-width="1.7"/>
<line x1="1788.6" y1="281.5" x2="1788.6" y2="312.7" stroke="#6a6a6a" stroke-width="2.8"/>
<text x="1571.5" y="307" text-anchor="end">B memory</text>
<line x1="1575" y1="297.1" x2="1581" y2="297.1" stroke="#555" stroke-width="2"/>
<line x1="1723" y1="337.8" x2="1766.3" y2="337.8" stroke="#878787" stroke-width="1.6"/>
<line x1="1800.5" y1="337.8" x2="1834.2" y2="337.8" stroke="#878787" stroke-width="1.6"/>
<path d="M1716 338h3v3h-3zM1714 335h3v3h-3zM1763 338h3v3h-3zM1816 339h3v3h-3zM1821 336h3v3h-3zM1807 337h3v3h-3zM1826 339h3v3h-3zM1862 334h3v3h-3z" fill="#666666"/>
<rect x="1766.3" y="322.2" width="34.2" height="31.2" fill="#fff" stroke="#878787" stroke-width="1.7"/>
<line x1="1784" y1="322.2" x2="1784" y2="353.4" stroke="#6a6a6a" stroke-width="2.8"/>
<text x="1571.5" y="347.8" text-anchor="end">PB</text>
<line x1="1575" y1="337.8" x2="1581" y2="337.8" stroke="#555" stroke-width="2"/>
<polygon points="1669,376.5 1673,372.5 1688,370.5 1712,370.5 1716,369.5 1735,368 1756,367.5 1851,366.5 1864,366.5 1866,371 1900,371.5 1923,373 1950,374.5 1960,376.5 1960,380.5 1950,382.5 1923,384 1900,385.5 1866,386 1864,390.5 1851,390.5 1756,389.5 1735,389 1716,387.5 1712,386.5 1688,386.5 1673,384.5 1669,380.5" fill="#6e6e6e"/>
<path d="M1641 375h3v3h-3zM1653 376h3v3h-3zM1643 376h3v3h-3zM1652 377h3v3h-3zM1659 377h3v3h-3zM1657 377h3v3h-3zM1650 378h3v3h-3zM1656 376h3v3h-3zM1660 376h3v3h-3zM1666 376h3v3h-3z" fill="#666666"/>
<path d="M2013 378h3v3h-3zM2000 376h3v3h-3zM2002 376h3v3h-3zM1971 377h3v3h-3zM1966 377h3v3h-3zM1963 377h3v3h-3zM1991 376h3v3h-3zM1983 376h3v3h-3zM1960 377h3v3h-3zM1980 379h3v3h-3zM2006 378h3v3h-3zM1999 378h3v3h-3zM2002 376h3v3h-3zM2005 377h3v3h-3zM2008 377h3v3h-3zM1959 377h3v3h-3zM1974 376h3v3h-3zM1968 377h3v3h-3z" fill="#f0502e"/>
<rect x="1756.2" y="362.9" width="94.8" height="31.2" fill="#fff" stroke="#878787" stroke-width="1.7"/>
<line x1="1806.1" y1="362.9" x2="1806.1" y2="394.1" stroke="#6a6a6a" stroke-width="2.8"/>
<text x="1571.5" y="388.6" text-anchor="end">NK</text>
<line x1="1575" y1="378.5" x2="1581" y2="378.5" stroke="#555" stroke-width="2"/>
<line x1="1675.8" y1="419.2" x2="1712.8" y2="419.2" stroke="#878787" stroke-width="1.6"/>
<line x1="1798.2" y1="419.2" x2="1852.2" y2="419.2" stroke="#878787" stroke-width="1.6"/>
<path d="M1682 414h3v3h-3zM1711 414h3v3h-3zM1709 422h3v3h-3zM1686 418h3v3h-3zM1689 417h3v3h-3zM1676 414h3v3h-3zM1677 420h3v3h-3zM1683 423h3v3h-3zM1815 418h3v3h-3zM1847 418h3v3h-3zM1805 420h3v3h-3zM1835 413h3v3h-3zM1840 412h3v3h-3zM1807 421h3v3h-3zM1839 415h3v3h-3zM1832 418h3v3h-3z" fill="#666666"/>
<rect x="1712.8" y="403.6" width="85.4" height="31.2" fill="#fff" stroke="#878787" stroke-width="1.7"/>
<line x1="1764.5" y1="403.6" x2="1764.5" y2="434.8" stroke="#6a6a6a" stroke-width="2.8"/>
<text x="1571.5" y="429.5" text-anchor="end">NK_CD56bright</text>
<line x1="1575" y1="419.2" x2="1581" y2="419.2" stroke="#555" stroke-width="2"/>
<line x1="1685" y1="459.9" x2="1685.4" y2="459.9" stroke="#878787" stroke-width="1.6"/>
<line x1="1697.1" y1="459.9" x2="1706.5" y2="459.9" stroke="#878787" stroke-width="1.6"/>
<path d="M1684 458h3v3h-3zM1706 454h3v3h-3z" fill="#666666"/>
<rect x="1685.4" y="444.3" width="11.7" height="31.2" fill="#fff" stroke="#878787" stroke-width="1.7"/>
<line x1="1687" y1="444.3" x2="1687" y2="475.5" stroke="#6a6a6a" stroke-width="2.8"/>
<text x="1571.5" y="470.3" text-anchor="end">ILC</text>
<line x1="1575" y1="459.9" x2="1581" y2="459.9" stroke="#555" stroke-width="2"/>
<line x1="1666.3" y1="500.6" x2="1726.3" y2="500.6" stroke="#878787" stroke-width="1.6"/>
<line x1="1831.3" y1="500.6" x2="1918.9" y2="500.6" stroke="#878787" stroke-width="1.6"/>
<path d="M1676 500h3v3h-3zM1703 496h3v3h-3zM1690 500h3v3h-3zM1666 501h3v3h-3zM1682 501h3v3h-3zM1701 503h3v3h-3zM1683 501h3v3h-3zM1674 494h3v3h-3zM1714 503h3v3h-3zM1712 497h3v3h-3zM1708 492h3v3h-3zM1670 493h3v3h-3zM1843 505h3v3h-3zM1870 497h3v3h-3zM1874 499h3v3h-3zM1893 499h3v3h-3zM1839 495h3v3h-3zM1872 496h3v3h-3zM1849 497h3v3h-3zM1892 502h3v3h-3zM1869 506h3v3h-3zM1884 495h3v3h-3zM1886 498h3v3h-3zM1916 502h3v3h-3z" fill="#666666"/>
<rect x="1726.3" y="485" width="105" height="31.2" fill="#fff" stroke="#878787" stroke-width="1.7"/>
<line x1="1788.6" y1="485" x2="1788.6" y2="516.2" stroke="#6a6a6a" stroke-width="2.8"/>
<text x="1571.5" y="511.2" text-anchor="end">Proliferating</text>
<line x1="1575" y1="500.6" x2="1581" y2="500.6" stroke="#555" stroke-width="2"/>
<line x1="1829.2" y1="526.8" x2="1829.2" y2="555.8" stroke="#6a6a6a" stroke-width="2.8"/>
<text x="1571.5" y="552" text-anchor="end">HSPC</text>
<line x1="1575" y1="541.3" x2="1581" y2="541.3" stroke="#555" stroke-width="2"/>
<line x1="1810.5" y1="71" x2="1810.5" y2="565" stroke="#6a6a6a" stroke-width="1.8" stroke-dasharray="4.5 2.6"/>
<rect x="1581" y="71" width="453" height="494" fill="none" stroke="#9a9a9a" stroke-width="1.6"/>
<line x1="1587.5" y1="565" x2="1587.5" y2="570.5" stroke="#707070" stroke-width="2"/>
<text x="1584" y="592.5" text-anchor="middle">-5.0</text>
<line x1="1699" y1="565" x2="1699" y2="570.5" stroke="#707070" stroke-width="2"/>
<text x="1695.5" y="592.5" text-anchor="middle">-2.5</text>
<line x1="1810.5" y1="565" x2="1810.5" y2="570.5" stroke="#707070" stroke-width="2"/>
<text x="1810.5" y="592.5" text-anchor="middle">0.0</text>
<line x1="1922" y1="565" x2="1922" y2="570.5" stroke="#707070" stroke-width="2"/>
<text x="1922" y="592.5" text-anchor="middle">2.5</text>
<line x1="2033.5" y1="565" x2="2033.5" y2="570.5" stroke="#707070" stroke-width="2"/>
<text x="2033.5" y="592.5" text-anchor="middle">5.0</text>
<text x="1810.5" y="619" text-anchor="middle">log<tspan font-size="16" dy="5">2</tspan><tspan dy="-5">FC</tspan></text>
<line x1="1603.5" y1="634.5" x2="1789" y2="634.5" stroke="#2a2aff" stroke-width="2.2"/>
<polygon points="1583.5,634.5 1606.5,623 1606.5,646" fill="#2a2aff"/>
<line x1="1832" y1="634.5" x2="2011" y2="634.5" stroke="#ff1a1a" stroke-width="2.2"/>
<polygon points="2031,634.5 2008,623 2008,646" fill="#ff1a1a"/>
<text x="1603.4" y="669.5">Decrease in SRC</text>
<text x="1835.4" y="669.5">Increase in SRC</text>
<line x1="918.8" y1="897" x2="918.8" y2="1434" stroke="#ebebeb" stroke-width="1.2"/>
<line x1="976.3" y1="897" x2="976.3" y2="1434" stroke="#f4f4f4" stroke-width="1"/>
<line x1="1033.8" y1="897" x2="1033.8" y2="1434" stroke="#ebebeb" stroke-width="1.2"/>
<line x1="1091.3" y1="897" x2="1091.3" y2="1434" stroke="#f4f4f4" stroke-width="1"/>
<line x1="1148.8" y1="897" x2="1148.8" y2="1434" stroke="#ebebeb" stroke-width="1.2"/>
<line x1="1206.3" y1="897" x2="1206.3" y2="1434" stroke="#f4f4f4" stroke-width="1"/>
<line x1="1263.8" y1="897" x2="1263.8" y2="1434" stroke="#ebebeb" stroke-width="1.2"/>
<line x1="1321.3" y1="897" x2="1321.3" y2="1434" stroke="#f4f4f4" stroke-width="1"/>
<line x1="917.4" y1="921.6" x2="1370.5" y2="921.6" stroke="#ebebeb" stroke-width="2.2"/>
<line x1="917.4" y1="962.2" x2="1370.5" y2="962.2" stroke="#ebebeb" stroke-width="2.2"/>
<line x1="917.4" y1="1002.9" x2="1370.5" y2="1002.9" stroke="#ebebeb" stroke-width="2.2"/>
<line x1="917.4" y1="1043.5" x2="1370.5" y2="1043.5" stroke="#ebebeb" stroke-width="2.2"/>
<line x1="917.4" y1="1084.2" x2="1370.5" y2="1084.2" stroke="#ebebeb" stroke-width="2.2"/>
<line x1="917.4" y1="1124.8" x2="1370.5" y2="1124.8" stroke="#ebebeb" stroke-width="2.2"/>
<line x1="917.4" y1="1165.4" x2="1370.5" y2="1165.4" stroke="#ebebeb" stroke-width="2.2"/>
<line x1="917.4" y1="1206.1" x2="1370.5" y2="1206.1" stroke="#ebebeb" stroke-width="2.2"/>
<line x1="917.4" y1="1246.7" x2="1370.5" y2="1246.7" stroke="#ebebeb" stroke-width="2.2"/>
<line x1="917.4" y1="1287.4" x2="1370.5" y2="1287.4" stroke="#ebebeb" stroke-width="2.2"/>
<line x1="917.4" y1="1328" x2="1370.5" y2="1328" stroke="#ebebeb" stroke-width="2.2"/>
<line x1="917.4" y1="1368.6" x2="1370.5" y2="1368.6" stroke="#ebebeb" stroke-width="2.2"/>
<line x1="917.4" y1="1409.3" x2="1370.5" y2="1409.3" stroke="#ebebeb" stroke-width="2.2"/>
<polygon points="1031,917.6 1049,914.6 1077,911.6 1098,907.6 1175,908.6 1200,911.6 1213,916.1 1240,917.6 1256,918.6 1256,924.6 1240,925.6 1213,927.1 1200,931.6 1175,934.6 1098,935.6 1077,931.6 1049,928.6 1031,925.6" fill="#6e6e6e"/>
<polygon points="988,919.1 1000,918.1 1031,917.6 1031,925.6 1000,925.1 988,924.1" fill="#8672ee"/>
<path d="M1270 920h3v3h-3zM1258 921h3v3h-3zM1269 919h3v3h-3zM1259 921h3v3h-3zM1265 921h3v3h-3zM1260 919h3v3h-3zM1272 921h3v3h-3zM1262 921h3v3h-3zM1266 919h3v3h-3zM1285 919h3v3h-3zM1278 922h3v3h-3zM1270 922h3v3h-3zM1265 920h3v3h-3zM1278 919h3v3h-3zM1284 918h3v3h-3zM1266 919h3v3h-3zM1300 920h3v3h-3z" fill="#f0502e"/>
<path d="M954 920h3v3h-3zM958 920h3v3h-3zM962 920h3v3h-3zM974 920h3v3h-3zM980 920h3v3h-3zM984 920h3v3h-3z" fill="#6a4ff0"/>
<rect x="1099.6" y="906" width="75.3" height="31.2" fill="#fff" stroke="#878787" stroke-width="1.7"/>
<line x1="1137.8" y1="906" x2="1137.8" y2="937.2" stroke="#6a6a6a" stroke-width="2.8"/>
<text x="909.2" y="927.6" text-anchor="end">CD14 Mono</text>
<line x1="911.4" y1="921.6" x2="917.4" y2="921.6" stroke="#555" stroke-width="2"/>
<path d="M1043 963h3v3h-3zM1054 960h3v3h-3zM1051 960h3v3h-3zM1042 964h3v3h-3zM1046 957h3v3h-3zM1047 965h3v3h-3zM1039 964h3v3h-3zM1037 960h3v3h-3zM1040 960h3v3h-3zM1036 963h3v3h-3zM1048 964h3v3h-3zM1037 964h3v3h-3zM1058 963h3v3h-3zM1053 959h3v3h-3zM1041 962h3v3h-3zM1045 959h3v3h-3zM1040 964h3v3h-3zM1055 957h3v3h-3zM1051 962h3v3h-3zM1031 963h3v3h-3zM1043 959h3v3h-3zM1052 963h3v3h-3zM1039 960h3v3h-3zM1039 957h3v3h-3zM1069 956h3v3h-3zM1092 955h3v3h-3zM1077 969h3v3h-3zM1072 964h3v3h-3zM1080 970h3v3h-3zM1073 968h3v3h-3zM1063 963h3v3h-3zM1082 960h3v3h-3zM1098 963h3v3h-3zM1075 957h3v3h-3zM1090 951h3v3h-3zM1060 962h3v3h-3zM1091 960h3v3h-3zM1082 968h3v3h-3zM1075 954h3v3h-3zM1095 953h3v3h-3zM1103 960h3v3h-3zM1090 967h3v3h-3zM1072 957h3v3h-3zM1067 962h3v3h-3zM1089 951h3v3h-3zM1103 962h3v3h-3zM1067 969h3v3h-3zM1093 967h3v3h-3zM1100 958h3v3h-3zM1081 971h3v3h-3zM1101 961h3v3h-3zM1084 953h3v3h-3zM1095 959h3v3h-3zM1070 957h3v3h-3zM1082 960h3v3h-3zM1059 957h3v3h-3zM1092 957h3v3h-3zM1082 954h3v3h-3zM1099 955h3v3h-3zM1091 966h3v3h-3zM1090 955h3v3h-3zM1100 949h3v3h-3zM1078 956h3v3h-3zM1094 963h3v3h-3zM1079 965h3v3h-3zM1074 965h3v3h-3zM1067 955h3v3h-3zM1086 958h3v3h-3zM1068 955h3v3h-3zM1073 961h3v3h-3zM1080 959h3v3h-3zM1080 969h3v3h-3zM1067 962h3v3h-3zM1066 951h3v3h-3zM1102 959h3v3h-3zM1078 957h3v3h-3zM1076 952h3v3h-3zM1084 948h3v3h-3zM1091 958h3v3h-3zM1100 959h3v3h-3zM1072 962h3v3h-3zM1092 966h3v3h-3zM1075 969h3v3h-3zM1085 964h3v3h-3zM1101 962h3v3h-3zM1067 951h3v3h-3zM1095 953h3v3h-3zM1080 961h3v3h-3zM1099 958h3v3h-3zM1100 963h3v3h-3zM1073 958h3v3h-3zM1094 957h3v3h-3zM1076 957h3v3h-3zM1083 957h3v3h-3zM1095 953h3v3h-3zM1059 957h3v3h-3zM1095 956h3v3h-3zM1061 955h3v3h-3zM1091 972h3v3h-3zM1083 966h3v3h-3zM1100 960h3v3h-3zM1092 967h3v3h-3zM1063 970h3v3h-3zM1085 966h3v3h-3zM1061 957h3v3h-3zM1090 962h3v3h-3zM1066 954h3v3h-3zM1089 968h3v3h-3zM1103 960h3v3h-3zM1070 953h3v3h-3zM1103 963h3v3h-3zM1067 955h3v3h-3zM1092 952h3v3h-3zM1089 952h3v3h-3zM1094 962h3v3h-3zM1098 962h3v3h-3zM1076 972h3v3h-3zM1100 961h3v3h-3zM1066 958h3v3h-3zM1059 968h3v3h-3zM1082 949h3v3h-3zM1077 964h3v3h-3zM1091 958h3v3h-3zM1101 970h3v3h-3zM1073 959h3v3h-3zM1099 968h3v3h-3zM1095 972h3v3h-3zM1073 964h3v3h-3zM1086 952h3v3h-3zM1080 955h3v3h-3zM1062 971h3v3h-3zM1065 966h3v3h-3zM1099 962h3v3h-3zM1101 951h3v3h-3zM1181 958h3v3h-3zM1209 959h3v3h-3zM1187 966h3v3h-3zM1181 961h3v3h-3zM1185 963h3v3h-3zM1191 972h3v3h-3zM1213 959h3v3h-3zM1207 965h3v3h-3zM1209 958h3v3h-3zM1195 952h3v3h-3zM1183 963h3v3h-3zM1213 962h3v3h-3zM1182 963h3v3h-3zM1186 964h3v3h-3zM1195 950h3v3h-3zM1210 952h3v3h-3zM1194 966h3v3h-3zM1190 966h3v3h-3zM1182 965h3v3h-3zM1184 961h3v3h-3zM1183 969h3v3h-3zM1206 954h3v3h-3zM1185 969h3v3h-3zM1212 967h3v3h-3zM1197 967h3v3h-3zM1181 971h3v3h-3zM1202 964h3v3h-3zM1194 970h3v3h-3zM1211 953h3v3h-3zM1197 960h3v3h-3zM1182 960h3v3h-3zM1187 958h3v3h-3zM1205 962h3v3h-3zM1209 957h3v3h-3zM1213 953h3v3h-3zM1212 958h3v3h-3zM1189 954h3v3h-3zM1182 956h3v3h-3zM1198 971h3v3h-3zM1191 970h3v3h-3zM1197 969h3v3h-3zM1190 962h3v3h-3zM1212 954h3v3h-3zM1180 951h3v3h-3zM1185 961h3v3h-3zM1208 965h3v3h-3zM1211 972h3v3h-3zM1203 955h3v3h-3zM1193 968h3v3h-3zM1198 952h3v3h-3zM1210 963h3v3h-3zM1178 957h3v3h-3zM1207 950h3v3h-3zM1187 968h3v3h-3zM1189 969h3v3h-3zM1203 950h3v3h-3zM1213 952h3v3h-3zM1187 955h3v3h-3zM1201 973h3v3h-3zM1213 963h3v3h-3zM1183 965h3v3h-3zM1190 967h3v3h-3zM1183 956h3v3h-3zM1199 965h3v3h-3zM1196 962h3v3h-3zM1192 961h3v3h-3zM1180 960h3v3h-3zM1205 954h3v3h-3zM1186 953h3v3h-3zM1191 957h3v3h-3zM1186 965h3v3h-3zM1194 961h3v3h-3zM1199 957h3v3h-3zM1180 959h3v3h-3zM1201 960h3v3h-3zM1196 967h3v3h-3zM1183 958h3v3h-3zM1210 964h3v3h-3zM1183 955h3v3h-3zM1208 963h3v3h-3zM1200 952h3v3h-3zM1190 951h3v3h-3zM1203 961h3v3h-3zM1202 959h3v3h-3zM1181 965h3v3h-3zM1186 959h3v3h-3zM1181 966h3v3h-3zM1190 956h3v3h-3zM1186 959h3v3h-3zM1193 957h3v3h-3zM1244 965h3v3h-3zM1219 961h3v3h-3zM1225 962h3v3h-3zM1260 959h3v3h-3zM1260 961h3v3h-3zM1241 958h3v3h-3zM1253 962h3v3h-3zM1216 963h3v3h-3zM1220 960h3v3h-3zM1247 962h3v3h-3zM1253 960h3v3h-3zM1229 964h3v3h-3zM1214 957h3v3h-3zM1263 961h3v3h-3zM1263 962h3v3h-3zM1235 961h3v3h-3zM1216 959h3v3h-3zM1270 959h3v3h-3zM1258 963h3v3h-3zM1269 962h3v3h-3zM1246 959h3v3h-3zM1241 960h3v3h-3zM1243 961h3v3h-3zM1229 961h3v3h-3zM1237 962h3v3h-3zM1244 959h3v3h-3zM1254 963h3v3h-3zM1228 964h3v3h-3zM1235 959h3v3h-3zM1254 963h3v3h-3zM1255 959h3v3h-3zM1234 960h3v3h-3zM1257 962h3v3h-3zM1227 963h3v3h-3zM1252 962h3v3h-3zM1229 958h3v3h-3z" fill="#666666"/>
<path d="M994 963h3v3h-3zM1017 963h3v3h-3zM1001 960h3v3h-3zM1022 962h3v3h-3zM1006 960h3v3h-3zM1019 963h3v3h-3zM1025 961h3v3h-3zM1004 962h3v3h-3zM998 959h3v3h-3zM1024 960h3v3h-3zM1025 961h3v3h-3zM1021 960h3v3h-3z" fill="#6a4ff0"/>
<path d="M1278 961h3v3h-3zM1294 961h3v3h-3z" fill="#f0502e"/>
<rect x="1105.3" y="946.6" width="73.4" height="31.2" fill="#fff" stroke="#878787" stroke-width="1.7"/>
<line x1="1143.5" y1="946.6" x2="1143.5" y2="977.8" stroke="#6a6a6a" stroke-width="2.8"/>
<text x="909.2" y="968.6" text-anchor="end">CD16 Mono</text>
<line x1="911.4" y1="962.2" x2="917.4" y2="962.2" stroke="#555" stroke-width="2"/>
<line x1="1079.4" y1="1002.9" x2="1099.6" y2="1002.9" stroke="#878787" stroke-width="1.6"/>
<line x1="1124.4" y1="1002.9" x2="1136.7" y2="1002.9" stroke="#878787" stroke-width="1.6"/>
<path d="M1134 995h3v3h-3zM1092 1007h3v3h-3z" fill="#666666"/>
<rect x="1099.6" y="987.3" width="24.8" height="31.2" fill="#fff" stroke="#878787" stroke-width="1.7"/>
<line x1="1111.3" y1="987.3" x2="1111.3" y2="1018.5" stroke="#6a6a6a" stroke-width="2.8"/>
<text x="909.2" y="1009.5" text-anchor="end">cDC1</text>
<line x1="911.4" y1="1002.9" x2="917.4" y2="1002.9" stroke="#555" stroke-width="2"/>
<line x1="1034.5" y1="1043.5" x2="1097.8" y2="1043.5" stroke="#878787" stroke-width="1.6"/>
<line x1="1143.5" y1="1043.5" x2="1207.5" y2="1043.5" stroke="#878787" stroke-width="1.6"/>
<path d="M1090 1041h3v3h-3zM1071 1041h3v3h-3zM1057 1041h3v3h-3zM1056 1044h3v3h-3zM1076 1043h3v3h-3zM1034 1044h3v3h-3zM1051 1038h3v3h-3zM1091 1039h3v3h-3zM1069 1041h3v3h-3zM1053 1044h3v3h-3zM1065 1039h3v3h-3zM1052 1041h3v3h-3zM1090 1036h3v3h-3zM1048 1045h3v3h-3zM1070 1041h3v3h-3zM1083 1045h3v3h-3zM1082 1042h3v3h-3zM1036 1041h3v3h-3zM1072 1046h3v3h-3zM1068 1040h3v3h-3zM1039 1039h3v3h-3zM1061 1045h3v3h-3zM1062 1040h3v3h-3zM1038 1038h3v3h-3zM1060 1042h3v3h-3zM1153 1042h3v3h-3zM1144 1042h3v3h-3zM1148 1047h3v3h-3zM1156 1040h3v3h-3zM1152 1043h3v3h-3zM1143 1050h3v3h-3zM1143 1045h3v3h-3zM1147 1038h3v3h-3zM1147 1040h3v3h-3zM1148 1041h3v3h-3zM1153 1045h3v3h-3zM1148 1036h3v3h-3zM1149 1048h3v3h-3zM1154 1036h3v3h-3zM1158 1046h3v3h-3zM1199 1042h3v3h-3zM1173 1043h3v3h-3zM1180 1043h3v3h-3zM1209 1040h3v3h-3zM1184 1042h3v3h-3zM1198 1042h3v3h-3zM1184 1043h3v3h-3zM1209 1044h3v3h-3zM1177 1042h3v3h-3zM1205 1043h3v3h-3z" fill="#666666"/>
<rect x="1097.8" y="1027.9" width="45.7" height="31.2" fill="#fff" stroke="#878787" stroke-width="1.7"/>
<line x1="1123.2" y1="1027.9" x2="1123.2" y2="1059.1" stroke="#6a6a6a" stroke-width="2.8"/>
<text x="909.2" y="1050.4" text-anchor="end">cDC2</text>
<line x1="911.4" y1="1043.5" x2="917.4" y2="1043.5" stroke="#555" stroke-width="2"/>
<line x1="1059.2" y1="1084.2" x2="1149.8" y2="1084.2" stroke="#878787" stroke-width="1.6"/>
<line x1="1218.7" y1="1084.2" x2="1272.7" y2="1084.2" stroke="#878787" stroke-width="1.6"/>
<path d="M1098 1089h3v3h-3zM1117 1078h3v3h-3zM1061 1089h3v3h-3zM1124 1079h3v3h-3zM1074 1086h3v3h-3zM1059 1087h3v3h-3zM1133 1085h3v3h-3zM1136 1078h3v3h-3zM1088 1078h3v3h-3zM1064 1077h3v3h-3zM1224 1079h3v3h-3zM1233 1091h3v3h-3zM1264 1089h3v3h-3zM1260 1078h3v3h-3zM1261 1085h3v3h-3zM1222 1089h3v3h-3zM1251 1086h3v3h-3zM1255 1082h3v3h-3zM1242 1077h3v3h-3zM1233 1087h3v3h-3z" fill="#666666"/>
<rect x="1149.8" y="1068.6" width="68.9" height="31.2" fill="#fff" stroke="#878787" stroke-width="1.7"/>
<line x1="1186.6" y1="1068.6" x2="1186.6" y2="1099.8" stroke="#6a6a6a" stroke-width="2.8"/>
<text x="909.2" y="1091.3" text-anchor="end">pDC</text>
<line x1="911.4" y1="1084.2" x2="917.4" y2="1084.2" stroke="#555" stroke-width="2"/>
<path d="M1037 1125h3v3h-3zM1037 1120h3v3h-3zM1041 1123h3v3h-3zM1031 1126h3v3h-3zM1055 1122h3v3h-3zM1040 1125h3v3h-3zM1042 1123h3v3h-3zM1056 1123h3v3h-3zM1053 1120h3v3h-3zM1040 1125h3v3h-3zM1038 1124h3v3h-3zM1041 1124h3v3h-3zM1043 1118h3v3h-3zM1038 1126h3v3h-3zM1047 1124h3v3h-3zM1052 1121h3v3h-3zM1053 1125h3v3h-3zM1043 1125h3v3h-3zM1036 1120h3v3h-3zM1045 1121h3v3h-3zM1055 1123h3v3h-3zM1036 1124h3v3h-3zM1044 1124h3v3h-3zM1045 1125h3v3h-3zM1057 1122h3v3h-3zM1052 1124h3v3h-3zM1037 1125h3v3h-3zM1051 1121h3v3h-3zM1049 1122h3v3h-3zM1032 1125h3v3h-3zM1035 1124h3v3h-3zM1033 1127h3v3h-3zM1032 1122h3v3h-3zM1038 1120h3v3h-3zM1038 1122h3v3h-3zM1041 1126h3v3h-3zM1063 1121h3v3h-3zM1073 1116h3v3h-3zM1092 1129h3v3h-3zM1060 1127h3v3h-3zM1099 1122h3v3h-3zM1062 1131h3v3h-3zM1077 1122h3v3h-3zM1094 1123h3v3h-3zM1076 1129h3v3h-3zM1087 1124h3v3h-3zM1083 1119h3v3h-3zM1096 1117h3v3h-3zM1096 1127h3v3h-3zM1085 1126h3v3h-3zM1079 1118h3v3h-3zM1089 1126h3v3h-3zM1086 1126h3v3h-3zM1059 1123h3v3h-3zM1084 1122h3v3h-3zM1087 1119h3v3h-3zM1072 1124h3v3h-3zM1063 1125h3v3h-3zM1099 1114h3v3h-3zM1074 1119h3v3h-3zM1080 1122h3v3h-3zM1081 1119h3v3h-3zM1075 1123h3v3h-3zM1100 1120h3v3h-3zM1094 1121h3v3h-3zM1070 1120h3v3h-3zM1078 1128h3v3h-3zM1077 1127h3v3h-3zM1065 1124h3v3h-3zM1099 1128h3v3h-3zM1083 1123h3v3h-3zM1078 1129h3v3h-3zM1084 1125h3v3h-3zM1098 1118h3v3h-3zM1089 1116h3v3h-3zM1064 1123h3v3h-3zM1065 1121h3v3h-3zM1062 1118h3v3h-3zM1064 1128h3v3h-3zM1069 1118h3v3h-3zM1061 1126h3v3h-3zM1099 1122h3v3h-3zM1096 1120h3v3h-3zM1088 1125h3v3h-3zM1070 1123h3v3h-3zM1077 1119h3v3h-3zM1071 1119h3v3h-3zM1062 1128h3v3h-3zM1068 1117h3v3h-3zM1080 1126h3v3h-3zM1076 1128h3v3h-3zM1101 1133h3v3h-3zM1099 1118h3v3h-3zM1085 1116h3v3h-3zM1086 1129h3v3h-3zM1062 1127h3v3h-3zM1070 1125h3v3h-3zM1078 1125h3v3h-3zM1087 1117h3v3h-3zM1086 1125h3v3h-3zM1067 1130h3v3h-3zM1077 1121h3v3h-3zM1090 1126h3v3h-3zM1083 1123h3v3h-3zM1099 1133h3v3h-3zM1101 1123h3v3h-3zM1069 1128h3v3h-3zM1099 1131h3v3h-3zM1070 1128h3v3h-3zM1072 1121h3v3h-3zM1095 1130h3v3h-3zM1066 1117h3v3h-3zM1068 1122h3v3h-3zM1065 1126h3v3h-3zM1095 1120h3v3h-3zM1072 1120h3v3h-3zM1059 1122h3v3h-3zM1059 1128h3v3h-3zM1059 1129h3v3h-3zM1069 1119h3v3h-3zM1089 1125h3v3h-3zM1069 1118h3v3h-3zM1075 1134h3v3h-3zM1064 1126h3v3h-3zM1089 1129h3v3h-3zM1082 1127h3v3h-3zM1082 1120h3v3h-3zM1067 1127h3v3h-3zM1092 1126h3v3h-3zM1098 1129h3v3h-3zM1073 1129h3v3h-3zM1063 1120h3v3h-3zM1099 1126h3v3h-3zM1099 1128h3v3h-3zM1078 1127h3v3h-3zM1063 1126h3v3h-3zM1168 1128h3v3h-3zM1166 1116h3v3h-3zM1171 1136h3v3h-3zM1173 1130h3v3h-3zM1167 1129h3v3h-3zM1164 1123h3v3h-3zM1174 1121h3v3h-3zM1172 1132h3v3h-3zM1177 1119h3v3h-3zM1174 1121h3v3h-3zM1175 1120h3v3h-3zM1186 1119h3v3h-3zM1163 1119h3v3h-3zM1173 1131h3v3h-3zM1186 1130h3v3h-3zM1176 1115h3v3h-3zM1169 1125h3v3h-3zM1176 1121h3v3h-3zM1172 1114h3v3h-3zM1182 1124h3v3h-3zM1177 1134h3v3h-3zM1181 1112h3v3h-3zM1178 1117h3v3h-3zM1182 1129h3v3h-3zM1176 1121h3v3h-3zM1181 1125h3v3h-3zM1176 1132h3v3h-3zM1184 1125h3v3h-3zM1163 1123h3v3h-3zM1180 1133h3v3h-3zM1174 1126h3v3h-3zM1179 1128h3v3h-3zM1170 1127h3v3h-3zM1181 1113h3v3h-3zM1182 1119h3v3h-3zM1168 1127h3v3h-3zM1177 1120h3v3h-3zM1185 1131h3v3h-3zM1168 1124h3v3h-3zM1171 1127h3v3h-3zM1176 1131h3v3h-3zM1163 1119h3v3h-3zM1185 1115h3v3h-3zM1172 1125h3v3h-3zM1164 1121h3v3h-3zM1166 1119h3v3h-3zM1176 1114h3v3h-3zM1175 1114h3v3h-3zM1182 1116h3v3h-3zM1182 1121h3v3h-3zM1183 1127h3v3h-3zM1181 1129h3v3h-3zM1182 1131h3v3h-3zM1183 1130h3v3h-3zM1179 1128h3v3h-3zM1176 1120h3v3h-3zM1176 1114h3v3h-3zM1184 1118h3v3h-3zM1179 1114h3v3h-3zM1181 1121h3v3h-3zM1169 1128h3v3h-3zM1182 1119h3v3h-3zM1171 1128h3v3h-3zM1164 1126h3v3h-3zM1179 1117h3v3h-3zM1178 1130h3v3h-3zM1173 1116h3v3h-3zM1168 1130h3v3h-3zM1181 1124h3v3h-3zM1166 1122h3v3h-3zM1169 1127h3v3h-3zM1170 1118h3v3h-3zM1178 1123h3v3h-3zM1185 1131h3v3h-3zM1176 1129h3v3h-3zM1205 1121h3v3h-3zM1240 1121h3v3h-3zM1256 1123h3v3h-3zM1245 1126h3v3h-3zM1195 1124h3v3h-3zM1251 1124h3v3h-3zM1223 1122h3v3h-3zM1219 1127h3v3h-3zM1251 1123h3v3h-3zM1196 1127h3v3h-3zM1248 1122h3v3h-3zM1188 1126h3v3h-3zM1213 1125h3v3h-3zM1239 1123h3v3h-3zM1200 1126h3v3h-3zM1193 1126h3v3h-3zM1213 1123h3v3h-3zM1249 1127h3v3h-3zM1212 1122h3v3h-3zM1223 1124h3v3h-3zM1255 1123h3v3h-3zM1216 1120h3v3h-3zM1228 1124h3v3h-3zM1204 1122h3v3h-3zM1218 1127h3v3h-3zM1201 1121h3v3h-3zM1211 1126h3v3h-3zM1203 1125h3v3h-3zM1224 1123h3v3h-3zM1191 1125h3v3h-3zM1213 1127h3v3h-3zM1208 1120h3v3h-3zM1232 1122h3v3h-3zM1221 1119h3v3h-3zM1230 1122h3v3h-3zM1203 1122h3v3h-3zM1244 1123h3v3h-3zM1211 1126h3v3h-3zM1232 1123h3v3h-3zM1200 1127h3v3h-3zM1224 1124h3v3h-3zM1210 1121h3v3h-3zM1187 1123h3v3h-3zM1241 1124h3v3h-3zM1203 1124h3v3h-3z" fill="#666666"/>
<path d="M1019 1123h3v3h-3zM1016 1125h3v3h-3zM1011 1124h3v3h-3zM1023 1122h3v3h-3zM1011 1124h3v3h-3zM1007 1124h3v3h-3z" fill="#6a4ff0"/>
<path d="M1266 1123h3v3h-3zM1282 1123h3v3h-3z" fill="#f0502e"/>
<rect x="1102.6" y="1109.2" width="61.5" height="31.2" fill="#fff" stroke="#878787" stroke-width="1.7"/>
<line x1="1134.5" y1="1109.2" x2="1134.5" y2="1140.4" stroke="#6a6a6a" stroke-width="2.8"/>
<text x="909.2" y="1132.2" text-anchor="end">CD4 Naïve</text>
<line x1="911.4" y1="1124.8" x2="917.4" y2="1124.8" stroke="#555" stroke-width="2"/>
<polygon points="1052,1163.4 1062,1161.9 1075,1160.4 1090,1158.4 1101,1156.9 1117,1154.4 1130,1152.4 1192,1153.4 1201,1154.4 1220,1156.4 1233,1158.4 1242,1161.4 1262,1162.4 1276,1163.4 1276,1167.4 1262,1168.4 1242,1169.4 1233,1172.4 1220,1174.4 1201,1176.4 1192,1177.4 1130,1178.4 1117,1176.4 1101,1173.9 1090,1172.4 1075,1170.4 1062,1168.9 1052,1167.4" fill="#6e6e6e"/>
<path d="M1045 1164h3v3h-3zM1045 1163h3v3h-3zM1029 1163h3v3h-3zM1045 1164h3v3h-3zM1045 1164h3v3h-3zM1040 1164h3v3h-3zM1033 1164h3v3h-3zM1031 1163h3v3h-3z" fill="#666666"/>
<path d="M1308 1163h3v3h-3zM1284 1165h3v3h-3zM1283 1163h3v3h-3zM1292 1166h3v3h-3zM1292 1165h3v3h-3zM1307 1163h3v3h-3zM1327 1163h3v3h-3zM1294 1163h3v3h-3zM1324 1162h3v3h-3zM1294 1162h3v3h-3zM1292 1163h3v3h-3zM1297 1163h3v3h-3zM1291 1164h3v3h-3zM1293 1164h3v3h-3z" fill="#f0502e"/>
<path d="M978 1164h3v3h-3zM1013 1164h3v3h-3zM1028 1164h3v3h-3z" fill="#6a4ff0"/>
<rect x="1130.4" y="1149.8" width="61.4" height="31.2" fill="#fff" stroke="#878787" stroke-width="1.7"/>
<line x1="1161.4" y1="1149.8" x2="1161.4" y2="1181" stroke="#6a6a6a" stroke-width="2.8"/>
<text x="909.2" y="1173.2" text-anchor="end">CD4 TCM</text>
<line x1="911.4" y1="1165.4" x2="917.4" y2="1165.4" stroke="#555" stroke-width="2"/>
<line x1="1085" y1="1206.1" x2="1160.3" y2="1206.1" stroke="#878787" stroke-width="1.6"/>
<line x1="1216.5" y1="1206.1" x2="1283" y2="1206.1" stroke="#878787" stroke-width="1.6"/>
<path d="M1138 1202h3v3h-3zM1143 1205h3v3h-3zM1108 1199h3v3h-3zM1129 1198h3v3h-3zM1150 1199h3v3h-3zM1101 1205h3v3h-3zM1110 1205h3v3h-3zM1098 1206h3v3h-3zM1157 1201h3v3h-3zM1087 1203h3v3h-3zM1095 1205h3v3h-3zM1143 1200h3v3h-3zM1148 1202h3v3h-3zM1141 1204h3v3h-3zM1109 1203h3v3h-3zM1109 1212h3v3h-3zM1099 1205h3v3h-3zM1092 1209h3v3h-3zM1140 1205h3v3h-3zM1155 1199h3v3h-3zM1138 1202h3v3h-3zM1114 1206h3v3h-3zM1154 1203h3v3h-3zM1119 1207h3v3h-3zM1124 1200h3v3h-3zM1089 1209h3v3h-3zM1115 1212h3v3h-3zM1155 1199h3v3h-3zM1138 1205h3v3h-3zM1153 1204h3v3h-3zM1145 1203h3v3h-3zM1153 1203h3v3h-3zM1094 1211h3v3h-3zM1099 1199h3v3h-3zM1133 1205h3v3h-3zM1242 1208h3v3h-3zM1243 1196h3v3h-3zM1221 1213h3v3h-3zM1264 1197h3v3h-3zM1248 1205h3v3h-3zM1249 1207h3v3h-3zM1273 1204h3v3h-3zM1231 1204h3v3h-3zM1253 1210h3v3h-3zM1249 1209h3v3h-3zM1216 1203h3v3h-3zM1223 1204h3v3h-3zM1276 1204h3v3h-3zM1261 1208h3v3h-3zM1235 1207h3v3h-3zM1252 1206h3v3h-3zM1226 1202h3v3h-3zM1268 1209h3v3h-3zM1229 1198h3v3h-3zM1264 1207h3v3h-3zM1249 1206h3v3h-3zM1258 1207h3v3h-3zM1248 1208h3v3h-3zM1223 1204h3v3h-3zM1243 1205h3v3h-3zM1241 1204h3v3h-3zM1280 1202h3v3h-3zM1263 1203h3v3h-3zM1254 1203h3v3h-3zM1216 1212h3v3h-3zM1234 1204h3v3h-3zM1218 1212h3v3h-3zM1231 1201h3v3h-3zM1268 1204h3v3h-3zM1230 1210h3v3h-3z" fill="#666666"/>
<path d="M1006 1205h3v3h-3z" fill="#6a4ff0"/>
<rect x="1160.3" y="1190.5" width="56.2" height="31.2" fill="#fff" stroke="#878787" stroke-width="1.7"/>
<line x1="1189.1" y1="1190.5" x2="1189.1" y2="1221.7" stroke="#6a6a6a" stroke-width="2.8"/>
<text x="909.2" y="1214.1" text-anchor="end">CD4 TEM</text>
<line x1="911.4" y1="1206.1" x2="917.4" y2="1206.1" stroke="#555" stroke-width="2"/>
<line x1="1111" y1="1246.7" x2="1145.7" y2="1246.7" stroke="#878787" stroke-width="1.6"/>
<line x1="1222.6" y1="1246.7" x2="1283" y2="1246.7" stroke="#878787" stroke-width="1.6"/>
<path d="M1140 1238h3v3h-3zM1144 1249h3v3h-3zM1115 1237h3v3h-3zM1112 1251h3v3h-3zM1126 1254h3v3h-3zM1131 1238h3v3h-3zM1124 1239h3v3h-3zM1135 1241h3v3h-3zM1121 1246h3v3h-3zM1125 1249h3v3h-3zM1135 1241h3v3h-3zM1143 1242h3v3h-3zM1113 1244h3v3h-3zM1132 1244h3v3h-3zM1227 1246h3v3h-3zM1238 1247h3v3h-3zM1249 1242h3v3h-3zM1236 1248h3v3h-3zM1235 1244h3v3h-3zM1230 1243h3v3h-3zM1232 1243h3v3h-3zM1263 1244h3v3h-3zM1243 1250h3v3h-3zM1244 1250h3v3h-3zM1275 1246h3v3h-3zM1242 1243h3v3h-3zM1270 1243h3v3h-3zM1246 1245h3v3h-3z" fill="#666666"/>
<path d="M1278 1245h3v3h-3zM1280 1241h3v3h-3zM1280 1249h3v3h-3z" fill="#f0502e"/>
<path d="M998 1245h3v3h-3z" fill="#6a4ff0"/>
<rect x="1145.7" y="1231.1" width="76.9" height="31.2" fill="#fff" stroke="#878787" stroke-width="1.7"/>
<line x1="1190.2" y1="1231.1" x2="1190.2" y2="1262.3" stroke="#6a6a6a" stroke-width="2.8"/>
<text x="909.2" y="1255" text-anchor="end">CD4 CTL</text>
<line x1="911.4" y1="1246.7" x2="917.4" y2="1246.7" stroke="#555" stroke-width="2"/>
<line x1="1058.1" y1="1287.4" x2="1124.4" y2="1287.4" stroke="#878787" stroke-width="1.6"/>
<line x1="1212.7" y1="1287.4" x2="1280.5" y2="1287.4" stroke="#878787" stroke-width="1.6"/>
<path d="M1068 1283h3v3h-3zM1092 1276h3v3h-3zM1085 1280h3v3h-3zM1070 1291h3v3h-3zM1078 1283h3v3h-3zM1075 1283h3v3h-3zM1109 1290h3v3h-3zM1100 1282h3v3h-3zM1067 1282h3v3h-3zM1111 1287h3v3h-3zM1072 1296h3v3h-3zM1079 1275h3v3h-3zM1073 1289h3v3h-3zM1100 1283h3v3h-3zM1076 1281h3v3h-3zM1110 1295h3v3h-3zM1257 1284h3v3h-3zM1217 1290h3v3h-3zM1253 1284h3v3h-3zM1241 1290h3v3h-3zM1223 1288h3v3h-3zM1246 1280h3v3h-3zM1219 1283h3v3h-3zM1246 1286h3v3h-3zM1260 1291h3v3h-3zM1214 1288h3v3h-3zM1233 1281h3v3h-3zM1264 1282h3v3h-3zM1269 1287h3v3h-3zM1257 1289h3v3h-3zM1222 1288h3v3h-3zM1220 1282h3v3h-3z" fill="#666666"/>
<rect x="1124.4" y="1271.8" width="88.3" height="31.2" fill="#fff" stroke="#878787" stroke-width="1.7"/>
<line x1="1178.3" y1="1271.8" x2="1178.3" y2="1303" stroke="#6a6a6a" stroke-width="2.8"/>
<text x="909.2" y="1295.9" text-anchor="end">Treg</text>
<line x1="911.4" y1="1287.4" x2="917.4" y2="1287.4" stroke="#555" stroke-width="2"/>
<line x1="1035.1" y1="1328" x2="1083.9" y2="1328" stroke="#878787" stroke-width="1.6"/>
<line x1="1161" y1="1328" x2="1269.3" y2="1328" stroke="#878787" stroke-width="1.6"/>
<path d="M1040 1325h3v3h-3zM1061 1324h3v3h-3zM1038 1323h3v3h-3zM1076 1335h3v3h-3zM1060 1331h3v3h-3zM1039 1324h3v3h-3zM1076 1324h3v3h-3zM1060 1319h3v3h-3zM1072 1333h3v3h-3zM1049 1319h3v3h-3zM1067 1325h3v3h-3zM1041 1332h3v3h-3zM1073 1324h3v3h-3zM1059 1332h3v3h-3zM1051 1329h3v3h-3zM1076 1331h3v3h-3zM1051 1321h3v3h-3zM1073 1325h3v3h-3zM1043 1331h3v3h-3zM1073 1327h3v3h-3zM1060 1325h3v3h-3zM1038 1331h3v3h-3zM1040 1330h3v3h-3zM1073 1331h3v3h-3zM1036 1321h3v3h-3zM1072 1321h3v3h-3zM1071 1321h3v3h-3zM1078 1330h3v3h-3zM1057 1321h3v3h-3zM1072 1329h3v3h-3zM1239 1326h3v3h-3zM1199 1330h3v3h-3zM1208 1327h3v3h-3zM1217 1328h3v3h-3zM1256 1328h3v3h-3zM1251 1324h3v3h-3zM1237 1329h3v3h-3zM1267 1327h3v3h-3zM1173 1323h3v3h-3zM1194 1325h3v3h-3zM1168 1331h3v3h-3zM1220 1326h3v3h-3zM1225 1325h3v3h-3zM1263 1329h3v3h-3zM1168 1324h3v3h-3zM1173 1326h3v3h-3zM1250 1329h3v3h-3zM1183 1323h3v3h-3zM1166 1327h3v3h-3zM1232 1327h3v3h-3zM1192 1329h3v3h-3zM1237 1326h3v3h-3zM1190 1323h3v3h-3zM1226 1323h3v3h-3zM1254 1330h3v3h-3zM1212 1324h3v3h-3zM1239 1329h3v3h-3zM1160 1325h3v3h-3zM1224 1322h3v3h-3zM1196 1329h3v3h-3z" fill="#666666"/>
<path d="M1288 1326h3v3h-3z" fill="#f0502e"/>
<rect x="1083.9" y="1312.4" width="77.1" height="31.2" fill="#fff" stroke="#878787" stroke-width="1.7"/>
<line x1="1125.5" y1="1312.4" x2="1125.5" y2="1343.6" stroke="#6a6a6a" stroke-width="2.8"/>
<text x="909.2" y="1336.8" text-anchor="end">CD8 Naïve</text>
<line x1="911.4" y1="1328" x2="917.4" y2="1328" stroke="#555" stroke-width="2"/>
<line x1="1068.2" y1="1368.6" x2="1136.3" y2="1368.6" stroke="#878787" stroke-width="1.6"/>
<line x1="1190.7" y1="1368.6" x2="1253.6" y2="1368.6" stroke="#878787" stroke-width="1.6"/>
<path d="M1087 1361h3v3h-3zM1107 1370h3v3h-3zM1103 1372h3v3h-3zM1130 1362h3v3h-3zM1134 1368h3v3h-3zM1084 1358h3v3h-3zM1084 1368h3v3h-3zM1106 1376h3v3h-3zM1126 1363h3v3h-3zM1068 1366h3v3h-3zM1084 1365h3v3h-3zM1083 1370h3v3h-3zM1073 1370h3v3h-3zM1114 1366h3v3h-3zM1072 1376h3v3h-3zM1098 1373h3v3h-3zM1129 1367h3v3h-3zM1102 1375h3v3h-3zM1112 1371h3v3h-3zM1105 1370h3v3h-3zM1125 1360h3v3h-3zM1106 1360h3v3h-3zM1096 1363h3v3h-3zM1107 1367h3v3h-3zM1073 1369h3v3h-3zM1206 1373h3v3h-3zM1245 1365h3v3h-3zM1237 1368h3v3h-3zM1191 1366h3v3h-3zM1227 1372h3v3h-3zM1194 1369h3v3h-3zM1204 1366h3v3h-3zM1210 1365h3v3h-3zM1200 1366h3v3h-3zM1210 1370h3v3h-3zM1196 1369h3v3h-3zM1247 1361h3v3h-3zM1232 1366h3v3h-3zM1228 1371h3v3h-3zM1219 1370h3v3h-3zM1216 1363h3v3h-3zM1224 1375h3v3h-3zM1225 1365h3v3h-3zM1229 1370h3v3h-3zM1233 1373h3v3h-3zM1249 1366h3v3h-3zM1244 1364h3v3h-3zM1251 1362h3v3h-3zM1220 1371h3v3h-3zM1248 1368h3v3h-3z" fill="#666666"/>
<rect x="1136.3" y="1353" width="54.4" height="31.2" fill="#fff" stroke="#878787" stroke-width="1.7"/>
<line x1="1159.2" y1="1353" x2="1159.2" y2="1384.2" stroke="#6a6a6a" stroke-width="2.8"/>
<text x="909.2" y="1377.8" text-anchor="end">CD8 TCM</text>
<line x1="911.4" y1="1368.6" x2="917.4" y2="1368.6" stroke="#555" stroke-width="2"/>
<polygon points="1031,1406.3 1040,1404.3 1055,1401.3 1085,1400.3 1100,1398.3 1110,1396.3 1124,1395.3 1213,1395.3 1245,1396.3 1250,1399.3 1260,1403.3 1265,1406.3 1265,1412.3 1260,1415.3 1250,1419.3 1245,1422.3 1213,1423.3 1124,1423.3 1110,1422.3 1100,1420.3 1085,1418.3 1055,1417.3 1040,1414.3 1031,1412.3" fill="#6e6e6e"/>
<polygon points="990,1406.8 1031,1406.3 1031,1412.3 990,1411.8" fill="#8672ee"/>
<path d="M1267 1406h3v3h-3zM1263 1408h3v3h-3zM1278 1409h3v3h-3zM1345 1407h3v3h-3zM1308 1406h3v3h-3zM1261 1407h3v3h-3zM1338 1408h3v3h-3zM1287 1408h3v3h-3zM1270 1409h3v3h-3zM1307 1407h3v3h-3zM1348 1411h3v3h-3zM1325 1408h3v3h-3zM1264 1410h3v3h-3zM1316 1407h3v3h-3zM1342 1408h3v3h-3zM1290 1407h3v3h-3zM1347 1410h3v3h-3zM1261 1408h3v3h-3zM1324 1410h3v3h-3zM1330 1407h3v3h-3zM1269 1410h3v3h-3zM1306 1406h3v3h-3zM1271 1407h3v3h-3zM1347 1407h3v3h-3zM1331 1408h3v3h-3zM1329 1411h3v3h-3zM1268 1409h3v3h-3zM1289 1407h3v3h-3zM1266 1408h3v3h-3zM1348 1408h3v3h-3zM1306 1409h3v3h-3zM1297 1409h3v3h-3zM1339 1407h3v3h-3zM1325 1408h3v3h-3zM1310 1407h3v3h-3zM1288 1407h3v3h-3zM1324 1409h3v3h-3zM1279 1409h3v3h-3zM1315 1406h3v3h-3zM1295 1407h3v3h-3zM1337 1409h3v3h-3zM1276 1407h3v3h-3zM1266 1407h3v3h-3zM1303 1410h3v3h-3zM1317 1408h3v3h-3zM1293 1404h3v3h-3zM1330 1407h3v3h-3zM1280 1408h3v3h-3zM1262 1408h3v3h-3zM1283 1407h3v3h-3zM1261 1407h3v3h-3zM1289 1407h3v3h-3zM1289 1405h3v3h-3zM1325 1408h3v3h-3zM1281 1410h3v3h-3z" fill="#f0502e"/>
<path d="M947 1409h3v3h-3zM943 1408h3v3h-3zM943 1407h3v3h-3zM972 1408h3v3h-3zM956 1407h3v3h-3zM980 1409h3v3h-3zM940 1408h3v3h-3zM955 1406h3v3h-3zM979 1409h3v3h-3zM985 1407h3v3h-3zM972 1407h3v3h-3zM942 1408h3v3h-3zM944 1407h3v3h-3zM970 1408h3v3h-3z" fill="#6a4ff0"/>
<rect x="1124.4" y="1393.7" width="88.3" height="31.2" fill="#fff" stroke="#878787" stroke-width="1.7"/>
<line x1="1173.8" y1="1393.7" x2="1173.8" y2="1424.9" stroke="#6a6a6a" stroke-width="2.8"/>
<text x="909.2" y="1418.7" text-anchor="end">CD8 TEM</text>
<line x1="911.4" y1="1409.3" x2="917.4" y2="1409.3" stroke="#555" stroke-width="2"/>
<line x1="1148.8" y1="897" x2="1148.8" y2="1434" stroke="#6a6a6a" stroke-width="1.8" stroke-dasharray="4.5 2.6"/>
<rect x="917.4" y="897" width="453.1" height="537" fill="none" stroke="#9a9a9a" stroke-width="1.6"/>
<line x1="918.8" y1="1434" x2="918.8" y2="1439.5" stroke="#707070" stroke-width="2"/>
<text x="915.3" y="1460" text-anchor="middle">-5.0</text>
<line x1="1033.8" y1="1434" x2="1033.8" y2="1439.5" stroke="#707070" stroke-width="2"/>
<text x="1030.3" y="1460" text-anchor="middle">-2.5</text>
<line x1="1148.8" y1="1434" x2="1148.8" y2="1439.5" stroke="#707070" stroke-width="2"/>
<text x="1148.8" y="1460" text-anchor="middle">0.0</text>
<line x1="1263.8" y1="1434" x2="1263.8" y2="1439.5" stroke="#707070" stroke-width="2"/>
<text x="1263.8" y="1460" text-anchor="middle">2.5</text>
<text x="1148.8" y="1486.7" text-anchor="middle">log<tspan font-size="16" dy="5">2</tspan><tspan dy="-5">FC</tspan></text>
<line x1="938.6" y1="1502.4" x2="1128.4" y2="1502.4" stroke="#2a2aff" stroke-width="2.2"/>
<polygon points="918.6,1502.4 941.6,1490.9 941.6,1513.9" fill="#2a2aff"/>
<line x1="1172" y1="1502.4" x2="1346.4" y2="1502.4" stroke="#ff1a1a" stroke-width="2.2"/>
<polygon points="1366.4,1502.4 1343.4,1490.9 1343.4,1513.9" fill="#ff1a1a"/>
<text x="950.6" y="1536.2">Decrease in ILD</text>
<text x="1182.8" y="1536.2">Increase in ILD</text>
<line x1="1641.8" y1="897.4" x2="1641.8" y2="1391" stroke="#f4f4f4" stroke-width="1"/>
<line x1="1699.5" y1="897.4" x2="1699.5" y2="1391" stroke="#ebebeb" stroke-width="1.2"/>
<line x1="1757.1" y1="897.4" x2="1757.1" y2="1391" stroke="#f4f4f4" stroke-width="1"/>
<line x1="1814.7" y1="897.4" x2="1814.7" y2="1391" stroke="#ebebeb" stroke-width="1.2"/>
<line x1="1872.3" y1="897.4" x2="1872.3" y2="1391" stroke="#f4f4f4" stroke-width="1"/>
<line x1="1930" y1="897.4" x2="1930" y2="1391" stroke="#ebebeb" stroke-width="1.2"/>
<line x1="1987.6" y1="897.4" x2="1987.6" y2="1391" stroke="#f4f4f4" stroke-width="1"/>
<line x1="1585" y1="920.9" x2="2036" y2="920.9" stroke="#ebebeb" stroke-width="2.2"/>
<line x1="1585" y1="961.5" x2="2036" y2="961.5" stroke="#ebebeb" stroke-width="2.2"/>
<line x1="1585" y1="1002.1" x2="2036" y2="1002.1" stroke="#ebebeb" stroke-width="2.2"/>
<line x1="1585" y1="1042.6" x2="2036" y2="1042.6" stroke="#ebebeb" stroke-width="2.2"/>
<line x1="1585" y1="1083.2" x2="2036" y2="1083.2" stroke="#ebebeb" stroke-width="2.2"/>
<line x1="1585" y1="1123.8" x2="2036" y2="1123.8" stroke="#ebebeb" stroke-width="2.2"/>
<line x1="1585" y1="1164.4" x2="2036" y2="1164.4" stroke="#ebebeb" stroke-width="2.2"/>
<line x1="1585" y1="1205" x2="2036" y2="1205" stroke="#ebebeb" stroke-width="2.2"/>
<line x1="1585" y1="1245.5" x2="2036" y2="1245.5" stroke="#ebebeb" stroke-width="2.2"/>
<line x1="1585" y1="1286.1" x2="2036" y2="1286.1" stroke="#ebebeb" stroke-width="2.2"/>
<line x1="1585" y1="1326.7" x2="2036" y2="1326.7" stroke="#ebebeb" stroke-width="2.2"/>
<line x1="1585" y1="1367.3" x2="2036" y2="1367.3" stroke="#ebebeb" stroke-width="2.2"/>
<line x1="1736.2" y1="920.9" x2="1779.3" y2="920.9" stroke="#878787" stroke-width="1.6"/>
<line x1="1834.6" y1="920.9" x2="1893.5" y2="920.9" stroke="#878787" stroke-width="1.6"/>
<path d="M1767 915h3v3h-3zM1742 917h3v3h-3zM1738 917h3v3h-3zM1763 915h3v3h-3zM1760 920h3v3h-3zM1739 920h3v3h-3zM1738 922h3v3h-3zM1760 920h3v3h-3zM1775 918h3v3h-3zM1758 926h3v3h-3zM1768 920h3v3h-3zM1762 928h3v3h-3zM1767 915h3v3h-3zM1753 915h3v3h-3zM1847 922h3v3h-3zM1859 923h3v3h-3zM1892 928h3v3h-3zM1849 922h3v3h-3zM1889 919h3v3h-3zM1835 919h3v3h-3zM1852 914h3v3h-3zM1838 915h3v3h-3zM1854 919h3v3h-3zM1856 917h3v3h-3zM1867 924h3v3h-3zM1854 916h3v3h-3zM1863 921h3v3h-3zM1841 916h3v3h-3z" fill="#666666"/>
<path d="M1675 919h3v3h-3z" fill="#6a4ff0"/>
<rect x="1779.3" y="905.3" width="55.3" height="31.2" fill="#fff" stroke="#878787" stroke-width="1.7"/>
<line x1="1804.7" y1="905.3" x2="1804.7" y2="936.5" stroke="#6a6a6a" stroke-width="2.8"/>
<text x="1572.5" y="926.8" text-anchor="end">MAIT</text>
<line x1="1579" y1="920.9" x2="1585" y2="920.9" stroke="#555" stroke-width="2"/>
<line x1="1780" y1="961.5" x2="1822.7" y2="961.5" stroke="#878787" stroke-width="1.6"/>
<line x1="1871.5" y1="961.5" x2="1903.6" y2="961.5" stroke="#878787" stroke-width="1.6"/>
<path d="M1796 958h3v3h-3zM1797 961h3v3h-3zM1806 961h3v3h-3zM1793 953h3v3h-3zM1801 960h3v3h-3zM1811 958h3v3h-3zM1880 965h3v3h-3zM1879 964h3v3h-3zM1879 960h3v3h-3zM1874 955h3v3h-3zM1873 959h3v3h-3zM1893 962h3v3h-3z" fill="#666666"/>
<rect x="1822.7" y="945.9" width="48.8" height="31.2" fill="#fff" stroke="#878787" stroke-width="1.7"/>
<line x1="1854.2" y1="945.9" x2="1854.2" y2="977.1" stroke="#6a6a6a" stroke-width="2.8"/>
<text x="1572.5" y="967.7" text-anchor="end">dnT</text>
<line x1="1579" y1="961.5" x2="1585" y2="961.5" stroke="#555" stroke-width="2"/>
<line x1="1719.3" y1="1002.1" x2="1798.4" y2="1002.1" stroke="#878787" stroke-width="1.6"/>
<line x1="1881.1" y1="1002.1" x2="2007" y2="1002.1" stroke="#878787" stroke-width="1.6"/>
<path d="M1788 998h3v3h-3zM1755 1007h3v3h-3zM1738 995h3v3h-3zM1721 993h3v3h-3zM1763 1004h3v3h-3zM1755 1000h3v3h-3zM1738 1009h3v3h-3zM1758 1003h3v3h-3zM1793 1001h3v3h-3zM1786 996h3v3h-3zM1728 1001h3v3h-3zM1754 1000h3v3h-3zM1774 1001h3v3h-3zM1783 1011h3v3h-3zM1795 994h3v3h-3zM1753 996h3v3h-3zM1978 997h3v3h-3zM1985 1005h3v3h-3zM1891 1000h3v3h-3zM1965 998h3v3h-3zM1987 995h3v3h-3zM1890 1003h3v3h-3zM1980 996h3v3h-3zM1904 998h3v3h-3zM1888 999h3v3h-3zM1918 1002h3v3h-3zM1936 1001h3v3h-3zM1943 1000h3v3h-3zM1970 1002h3v3h-3zM1891 997h3v3h-3z" fill="#666666"/>
<path d="M2002 1003h3v3h-3zM2005 999h3v3h-3zM2003 1000h3v3h-3z" fill="#f0502e"/>
<rect x="1798.4" y="986.5" width="82.7" height="31.2" fill="#fff" stroke="#878787" stroke-width="1.7"/>
<line x1="1840.7" y1="986.5" x2="1840.7" y2="1017.7" stroke="#6a6a6a" stroke-width="2.8"/>
<text x="1572.5" y="1008.6" text-anchor="end">gdT</text>
<line x1="1579" y1="1002.1" x2="1585" y2="1002.1" stroke="#555" stroke-width="2"/>
<path d="M1700 1040h3v3h-3zM1691 1042h3v3h-3zM1706 1040h3v3h-3zM1708 1040h3v3h-3zM1706 1039h3v3h-3zM1706 1041h3v3h-3zM1689 1042h3v3h-3zM1704 1041h3v3h-3zM1693 1042h3v3h-3zM1691 1040h3v3h-3zM1721 1039h3v3h-3zM1722 1039h3v3h-3zM1728 1040h3v3h-3zM1722 1046h3v3h-3zM1713 1042h3v3h-3zM1719 1042h3v3h-3zM1720 1039h3v3h-3zM1727 1041h3v3h-3zM1715 1039h3v3h-3zM1721 1038h3v3h-3zM1720 1040h3v3h-3zM1728 1046h3v3h-3zM1714 1037h3v3h-3zM1709 1045h3v3h-3zM1716 1041h3v3h-3zM1712 1040h3v3h-3zM1724 1042h3v3h-3zM1713 1040h3v3h-3zM1723 1042h3v3h-3zM1721 1044h3v3h-3zM1720 1039h3v3h-3zM1730 1041h3v3h-3zM1717 1038h3v3h-3zM1720 1041h3v3h-3zM1726 1039h3v3h-3zM1725 1042h3v3h-3zM1720 1038h3v3h-3zM1728 1042h3v3h-3zM1711 1045h3v3h-3zM1712 1043h3v3h-3zM1728 1043h3v3h-3zM1711 1041h3v3h-3zM1716 1037h3v3h-3zM1725 1039h3v3h-3zM1721 1045h3v3h-3zM1729 1038h3v3h-3zM1713 1040h3v3h-3zM1719 1037h3v3h-3zM1723 1045h3v3h-3zM1710 1044h3v3h-3zM1758 1041h3v3h-3zM1751 1033h3v3h-3zM1747 1048h3v3h-3zM1741 1045h3v3h-3zM1744 1038h3v3h-3zM1752 1038h3v3h-3zM1745 1043h3v3h-3zM1739 1048h3v3h-3zM1753 1039h3v3h-3zM1745 1049h3v3h-3zM1733 1045h3v3h-3zM1745 1044h3v3h-3zM1737 1043h3v3h-3zM1740 1048h3v3h-3zM1746 1045h3v3h-3zM1742 1042h3v3h-3zM1741 1029h3v3h-3zM1757 1043h3v3h-3zM1755 1036h3v3h-3zM1750 1043h3v3h-3zM1739 1047h3v3h-3zM1753 1046h3v3h-3zM1743 1040h3v3h-3zM1756 1044h3v3h-3zM1747 1045h3v3h-3zM1742 1045h3v3h-3zM1745 1038h3v3h-3zM1750 1037h3v3h-3zM1757 1048h3v3h-3zM1746 1035h3v3h-3zM1734 1041h3v3h-3zM1753 1039h3v3h-3zM1758 1031h3v3h-3zM1755 1030h3v3h-3zM1750 1039h3v3h-3zM1749 1042h3v3h-3zM1757 1040h3v3h-3zM1753 1044h3v3h-3zM1734 1031h3v3h-3zM1742 1040h3v3h-3zM1737 1043h3v3h-3zM1747 1044h3v3h-3zM1753 1052h3v3h-3zM1754 1051h3v3h-3zM1747 1049h3v3h-3zM1749 1043h3v3h-3zM1741 1037h3v3h-3zM1753 1036h3v3h-3zM1733 1035h3v3h-3zM1734 1048h3v3h-3zM1742 1048h3v3h-3zM1749 1040h3v3h-3zM1758 1037h3v3h-3zM1745 1037h3v3h-3zM1746 1046h3v3h-3zM1733 1046h3v3h-3zM1756 1032h3v3h-3zM1736 1037h3v3h-3zM1753 1040h3v3h-3zM1743 1041h3v3h-3zM1758 1038h3v3h-3zM1747 1038h3v3h-3zM1733 1044h3v3h-3zM1757 1038h3v3h-3zM1740 1042h3v3h-3zM1750 1039h3v3h-3zM1740 1040h3v3h-3zM1752 1044h3v3h-3zM1734 1037h3v3h-3zM1737 1035h3v3h-3zM1741 1046h3v3h-3zM1738 1037h3v3h-3zM1751 1042h3v3h-3zM1754 1044h3v3h-3zM1749 1044h3v3h-3zM1734 1038h3v3h-3zM1742 1043h3v3h-3zM1753 1047h3v3h-3zM1742 1041h3v3h-3zM1737 1033h3v3h-3zM1746 1053h3v3h-3zM1756 1051h3v3h-3zM1732 1032h3v3h-3zM1756 1043h3v3h-3zM1744 1040h3v3h-3zM1747 1039h3v3h-3zM1756 1043h3v3h-3zM1740 1042h3v3h-3zM1755 1035h3v3h-3zM1747 1039h3v3h-3zM1745 1042h3v3h-3zM1737 1037h3v3h-3zM1754 1036h3v3h-3zM1732 1032h3v3h-3zM1745 1035h3v3h-3zM1758 1039h3v3h-3zM1743 1041h3v3h-3zM1756 1042h3v3h-3zM1739 1033h3v3h-3zM1755 1039h3v3h-3zM1747 1038h3v3h-3zM1752 1035h3v3h-3zM1732 1035h3v3h-3zM1750 1044h3v3h-3zM1750 1041h3v3h-3zM1758 1041h3v3h-3zM1733 1047h3v3h-3zM1738 1040h3v3h-3zM1748 1035h3v3h-3zM1736 1045h3v3h-3zM1751 1047h3v3h-3zM1751 1039h3v3h-3zM1755 1046h3v3h-3zM1739 1052h3v3h-3zM1758 1037h3v3h-3zM1751 1049h3v3h-3zM1744 1039h3v3h-3zM1750 1042h3v3h-3zM1732 1033h3v3h-3zM1734 1045h3v3h-3zM1756 1038h3v3h-3zM1753 1044h3v3h-3zM1748 1042h3v3h-3zM1746 1042h3v3h-3zM1743 1043h3v3h-3zM1751 1051h3v3h-3zM1747 1040h3v3h-3zM1734 1042h3v3h-3zM1756 1034h3v3h-3zM1754 1041h3v3h-3zM1737 1038h3v3h-3zM1752 1040h3v3h-3zM1756 1039h3v3h-3zM1738 1041h3v3h-3zM1742 1044h3v3h-3zM1732 1048h3v3h-3zM1747 1047h3v3h-3zM1733 1038h3v3h-3zM1755 1041h3v3h-3zM1739 1041h3v3h-3zM1823 1048h3v3h-3zM1821 1042h3v3h-3zM1826 1043h3v3h-3zM1827 1037h3v3h-3zM1828 1049h3v3h-3zM1821 1035h3v3h-3zM1831 1034h3v3h-3zM1822 1040h3v3h-3zM1827 1047h3v3h-3zM1822 1043h3v3h-3zM1826 1042h3v3h-3zM1820 1045h3v3h-3zM1823 1050h3v3h-3zM1824 1046h3v3h-3zM1834 1038h3v3h-3zM1830 1034h3v3h-3zM1818 1035h3v3h-3zM1819 1041h3v3h-3zM1830 1041h3v3h-3zM1832 1033h3v3h-3zM1833 1042h3v3h-3zM1820 1039h3v3h-3zM1821 1043h3v3h-3zM1831 1043h3v3h-3zM1819 1047h3v3h-3zM1828 1036h3v3h-3zM1824 1045h3v3h-3zM1820 1037h3v3h-3zM1818 1044h3v3h-3zM1830 1038h3v3h-3zM1826 1044h3v3h-3zM1826 1037h3v3h-3zM1822 1037h3v3h-3zM1833 1038h3v3h-3zM1830 1037h3v3h-3zM1818 1050h3v3h-3zM1819 1041h3v3h-3zM1829 1036h3v3h-3zM1828 1031h3v3h-3zM1833 1037h3v3h-3zM1832 1045h3v3h-3zM1832 1035h3v3h-3zM1829 1040h3v3h-3zM1831 1054h3v3h-3zM1827 1046h3v3h-3zM1824 1041h3v3h-3zM1821 1036h3v3h-3zM1832 1045h3v3h-3zM1826 1043h3v3h-3zM1818 1040h3v3h-3zM1821 1041h3v3h-3zM1822 1044h3v3h-3zM1831 1048h3v3h-3zM1822 1048h3v3h-3zM1825 1049h3v3h-3zM1829 1038h3v3h-3zM1822 1032h3v3h-3zM1822 1051h3v3h-3zM1821 1044h3v3h-3zM1826 1031h3v3h-3zM1831 1043h3v3h-3zM1823 1036h3v3h-3zM1830 1042h3v3h-3zM1822 1041h3v3h-3zM1818 1041h3v3h-3zM1833 1033h3v3h-3zM1831 1038h3v3h-3zM1834 1043h3v3h-3zM1834 1035h3v3h-3zM1823 1040h3v3h-3zM1844 1047h3v3h-3zM1837 1048h3v3h-3zM1842 1044h3v3h-3zM1843 1046h3v3h-3zM1844 1036h3v3h-3zM1838 1042h3v3h-3zM1841 1042h3v3h-3zM1847 1039h3v3h-3zM1837 1035h3v3h-3zM1847 1037h3v3h-3zM1847 1048h3v3h-3zM1848 1040h3v3h-3zM1838 1041h3v3h-3zM1838 1041h3v3h-3zM1837 1037h3v3h-3zM1836 1038h3v3h-3zM1846 1044h3v3h-3zM1846 1046h3v3h-3zM1839 1043h3v3h-3zM1835 1045h3v3h-3zM1847 1043h3v3h-3zM1836 1042h3v3h-3zM1844 1043h3v3h-3zM1841 1036h3v3h-3zM1843 1044h3v3h-3zM1835 1047h3v3h-3zM1842 1042h3v3h-3zM1845 1041h3v3h-3zM1842 1039h3v3h-3zM1842 1047h3v3h-3zM1837 1041h3v3h-3zM1843 1041h3v3h-3zM1844 1046h3v3h-3zM1845 1043h3v3h-3zM1838 1039h3v3h-3zM1881 1039h3v3h-3zM1898 1040h3v3h-3zM1910 1039h3v3h-3zM1913 1040h3v3h-3zM1902 1040h3v3h-3zM1903 1041h3v3h-3zM1880 1043h3v3h-3zM1910 1042h3v3h-3zM1873 1039h3v3h-3zM1871 1039h3v3h-3zM1857 1042h3v3h-3zM1865 1042h3v3h-3zM1850 1044h3v3h-3zM1907 1040h3v3h-3zM1895 1038h3v3h-3zM1892 1041h3v3h-3zM1867 1040h3v3h-3zM1858 1042h3v3h-3zM1914 1043h3v3h-3zM1899 1040h3v3h-3zM1851 1041h3v3h-3zM1861 1038h3v3h-3zM1901 1039h3v3h-3zM1859 1039h3v3h-3zM1902 1038h3v3h-3zM1885 1043h3v3h-3zM1851 1038h3v3h-3zM1882 1042h3v3h-3zM1867 1039h3v3h-3zM1896 1038h3v3h-3zM1851 1041h3v3h-3zM1900 1043h3v3h-3zM1862 1038h3v3h-3zM1895 1037h3v3h-3zM1909 1040h3v3h-3zM1892 1044h3v3h-3zM1883 1043h3v3h-3zM1851 1041h3v3h-3zM1871 1041h3v3h-3zM1869 1043h3v3h-3zM1879 1043h3v3h-3zM1883 1043h3v3h-3zM1874 1038h3v3h-3zM1889 1042h3v3h-3zM1856 1042h3v3h-3zM1908 1043h3v3h-3zM1887 1042h3v3h-3zM1915 1042h3v3h-3zM1861 1038h3v3h-3zM1897 1042h3v3h-3z" fill="#666666"/>
<path d="M1934 1042h3v3h-3zM1939 1040h3v3h-3zM1929 1041h3v3h-3zM1929 1041h3v3h-3z" fill="#f0502e"/>
<path d="M1702 1040h3v3h-3zM1699 1040h3v3h-3zM1706 1041h3v3h-3zM1668 1040h3v3h-3zM1695 1042h3v3h-3zM1706 1041h3v3h-3zM1662 1041h3v3h-3zM1668 1042h3v3h-3zM1676 1041h3v3h-3zM1663 1040h3v3h-3zM1681 1040h3v3h-3zM1679 1042h3v3h-3zM1670 1040h3v3h-3zM1707 1042h3v3h-3zM1687 1041h3v3h-3z" fill="#6a4ff0"/>
<rect x="1760.9" y="1027" width="57.8" height="31.2" fill="#fff" stroke="#878787" stroke-width="1.7"/>
<line x1="1785.6" y1="1027" x2="1785.6" y2="1058.2" stroke="#6a6a6a" stroke-width="2.8"/>
<text x="1572.5" y="1049.5" text-anchor="end">B Naïve</text>
<line x1="1579" y1="1042.6" x2="1585" y2="1042.6" stroke="#555" stroke-width="2"/>
<line x1="1657.5" y1="1083.2" x2="1751.2" y2="1083.2" stroke="#878787" stroke-width="1.6"/>
<line x1="1840.7" y1="1083.2" x2="1914.8" y2="1083.2" stroke="#878787" stroke-width="1.6"/>
<path d="M1732 1083h3v3h-3zM1715 1082h3v3h-3zM1723 1078h3v3h-3zM1749 1081h3v3h-3zM1734 1086h3v3h-3zM1712 1083h3v3h-3zM1726 1078h3v3h-3zM1699 1080h3v3h-3zM1690 1084h3v3h-3zM1746 1087h3v3h-3zM1740 1086h3v3h-3zM1741 1075h3v3h-3zM1887 1084h3v3h-3zM1846 1082h3v3h-3zM1890 1078h3v3h-3zM1911 1078h3v3h-3zM1911 1083h3v3h-3zM1870 1081h3v3h-3zM1845 1080h3v3h-3zM1906 1080h3v3h-3zM1881 1088h3v3h-3zM1892 1081h3v3h-3z" fill="#666666"/>
<rect x="1751.2" y="1067.6" width="89.5" height="31.2" fill="#fff" stroke="#878787" stroke-width="1.7"/>
<line x1="1767.6" y1="1067.6" x2="1767.6" y2="1098.8" stroke="#6a6a6a" stroke-width="2.8"/>
<text x="1572.5" y="1090.4" text-anchor="end">B intermediate</text>
<line x1="1579" y1="1083.2" x2="1585" y2="1083.2" stroke="#555" stroke-width="2"/>
<line x1="1705.8" y1="1123.8" x2="1750.8" y2="1123.8" stroke="#878787" stroke-width="1.6"/>
<line x1="1832.1" y1="1123.8" x2="1883.4" y2="1123.8" stroke="#878787" stroke-width="1.6"/>
<path d="M1729 1118h3v3h-3zM1705 1124h3v3h-3zM1723 1123h3v3h-3zM1749 1118h3v3h-3zM1747 1123h3v3h-3zM1713 1128h3v3h-3zM1739 1131h3v3h-3zM1735 1123h3v3h-3zM1725 1117h3v3h-3zM1749 1121h3v3h-3zM1724 1113h3v3h-3zM1714 1116h3v3h-3zM1746 1111h3v3h-3zM1730 1122h3v3h-3zM1704 1119h3v3h-3zM1719 1130h3v3h-3zM1742 1130h3v3h-3zM1726 1122h3v3h-3zM1709 1120h3v3h-3zM1726 1121h3v3h-3zM1746 1121h3v3h-3zM1708 1127h3v3h-3zM1711 1126h3v3h-3zM1712 1122h3v3h-3zM1710 1117h3v3h-3zM1843 1127h3v3h-3zM1840 1118h3v3h-3zM1834 1127h3v3h-3zM1868 1126h3v3h-3zM1849 1119h3v3h-3zM1840 1127h3v3h-3zM1835 1120h3v3h-3zM1866 1127h3v3h-3zM1867 1129h3v3h-3zM1840 1116h3v3h-3zM1853 1123h3v3h-3zM1851 1118h3v3h-3zM1867 1114h3v3h-3zM1836 1127h3v3h-3zM1862 1127h3v3h-3zM1853 1125h3v3h-3zM1861 1120h3v3h-3zM1866 1111h3v3h-3zM1866 1127h3v3h-3zM1854 1127h3v3h-3zM1839 1112h3v3h-3zM1848 1115h3v3h-3zM1841 1116h3v3h-3zM1854 1128h3v3h-3zM1847 1121h3v3h-3z" fill="#666666"/>
<rect x="1750.8" y="1108.2" width="81.3" height="31.2" fill="#fff" stroke="#878787" stroke-width="1.7"/>
<line x1="1790.8" y1="1108.2" x2="1790.8" y2="1139.4" stroke="#6a6a6a" stroke-width="2.8"/>
<text x="1572.5" y="1131.3" text-anchor="end">B memory</text>
<line x1="1579" y1="1123.8" x2="1585" y2="1123.8" stroke="#555" stroke-width="2"/>
<line x1="1755.3" y1="1164.4" x2="1838.4" y2="1164.4" stroke="#878787" stroke-width="1.6"/>
<line x1="1905.8" y1="1164.4" x2="1969.9" y2="1164.4" stroke="#878787" stroke-width="1.6"/>
<path d="M1783 1164h3v3h-3zM1778 1164h3v3h-3zM1754 1164h3v3h-3zM1926 1168h3v3h-3zM1925 1166h3v3h-3zM1913 1166h3v3h-3zM1922 1162h3v3h-3zM1938 1162h3v3h-3z" fill="#666666"/>
<rect x="1838.4" y="1148.8" width="67.4" height="31.2" fill="#fff" stroke="#878787" stroke-width="1.7"/>
<line x1="1855.3" y1="1148.8" x2="1855.3" y2="1180" stroke="#6a6a6a" stroke-width="2.8"/>
<text x="1572.5" y="1172.2" text-anchor="end">PB</text>
<line x1="1579" y1="1164.4" x2="1585" y2="1164.4" stroke="#555" stroke-width="2"/>
<polygon points="1688,1202 1700,1201 1737,1200 1742,1198 1760,1197 1778,1195.5 1792,1192 1861,1192 1871,1194 1890,1196 1912,1199 1923,1201 1930,1202 1930,1208 1923,1209 1912,1211 1890,1214 1871,1216 1861,1218 1792,1218 1778,1214.5 1760,1213 1742,1212 1737,1210 1700,1209 1688,1208" fill="#6e6e6e"/>
<path d="M1963 1204h3v3h-3zM1947 1204h3v3h-3zM1930 1202h3v3h-3zM1956 1203h3v3h-3zM1922 1201h3v3h-3zM1979 1202h3v3h-3zM1955 1204h3v3h-3zM1963 1205h3v3h-3zM1981 1202h3v3h-3zM1942 1205h3v3h-3zM1984 1204h3v3h-3zM1956 1204h3v3h-3zM1957 1204h3v3h-3zM1944 1204h3v3h-3zM1946 1204h3v3h-3zM1946 1204h3v3h-3zM1976 1203h3v3h-3zM1947 1204h3v3h-3zM1985 1203h3v3h-3zM1948 1202h3v3h-3zM1959 1201h3v3h-3zM1960 1203h3v3h-3zM1938 1203h3v3h-3zM1933 1203h3v3h-3zM1958 1204h3v3h-3zM1970 1204h3v3h-3zM1964 1203h3v3h-3zM1982 1203h3v3h-3z" fill="#f0502e"/>
<path d="M1645 1204h3v3h-3zM1670 1203h3v3h-3zM1656 1203h3v3h-3zM1665 1204h3v3h-3zM1647 1205h3v3h-3zM1648 1204h3v3h-3zM1675 1205h3v3h-3zM1645 1202h3v3h-3zM1647 1204h3v3h-3zM1638 1202h3v3h-3zM1649 1202h3v3h-3zM1651 1205h3v3h-3zM1677 1203h3v3h-3zM1641 1204h3v3h-3zM1673 1203h3v3h-3zM1673 1204h3v3h-3zM1638 1204h3v3h-3zM1666 1204h3v3h-3z" fill="#6a4ff0"/>
<rect x="1792.4" y="1189.4" width="69.6" height="31.2" fill="#fff" stroke="#878787" stroke-width="1.7"/>
<line x1="1829" y1="1189.4" x2="1829" y2="1220.6" stroke="#6a6a6a" stroke-width="2.8"/>
<text x="1572.5" y="1213.1" text-anchor="end">NK</text>
<line x1="1579" y1="1205" x2="1585" y2="1205" stroke="#555" stroke-width="2"/>
<line x1="1784.5" y1="1245.5" x2="1805.2" y2="1245.5" stroke="#878787" stroke-width="1.6"/>
<line x1="1865.4" y1="1245.5" x2="1954.2" y2="1245.5" stroke="#878787" stroke-width="1.6"/>
<path d="M1783 1249h3v3h-3zM1796 1243h3v3h-3zM1800 1250h3v3h-3zM1787 1250h3v3h-3zM1792 1241h3v3h-3zM1803 1243h3v3h-3zM1791 1243h3v3h-3zM1803 1248h3v3h-3zM1876 1251h3v3h-3zM1871 1243h3v3h-3zM1871 1243h3v3h-3zM1878 1241h3v3h-3zM1864 1242h3v3h-3zM1874 1246h3v3h-3z" fill="#666666"/>
<rect x="1805.2" y="1229.9" width="60.2" height="31.2" fill="#fff" stroke="#878787" stroke-width="1.7"/>
<line x1="1829.9" y1="1229.9" x2="1829.9" y2="1261.1" stroke="#6a6a6a" stroke-width="2.8"/>
<text x="1572.5" y="1254" text-anchor="end">NK_CD56bright</text>
<line x1="1579" y1="1245.5" x2="1585" y2="1245.5" stroke="#555" stroke-width="2"/>
<line x1="1788.5" y1="1286.1" x2="1832.8" y2="1286.1" stroke="#878787" stroke-width="1.6"/>
<line x1="1923.1" y1="1286.1" x2="1966.5" y2="1286.1" stroke="#878787" stroke-width="1.6"/>
<path d="M1966 1293h3v3h-3z" fill="#f0502e"/>
<rect x="1832.8" y="1270.5" width="90.3" height="31.2" fill="#fff" stroke="#878787" stroke-width="1.7"/>
<line x1="1878.4" y1="1270.5" x2="1878.4" y2="1301.7" stroke="#6a6a6a" stroke-width="2.8"/>
<text x="1572.5" y="1294.9" text-anchor="end">ILC</text>
<line x1="1579" y1="1286.1" x2="1585" y2="1286.1" stroke="#555" stroke-width="2"/>
<line x1="1705.8" y1="1326.7" x2="1790.6" y2="1326.7" stroke="#878787" stroke-width="1.6"/>
<line x1="1856" y1="1326.7" x2="1942.9" y2="1326.7" stroke="#878787" stroke-width="1.6"/>
<path d="M1711 1330h3v3h-3zM1745 1326h3v3h-3zM1746 1325h3v3h-3zM1767 1327h3v3h-3zM1770 1324h3v3h-3zM1736 1331h3v3h-3zM1770 1324h3v3h-3zM1741 1326h3v3h-3zM1750 1328h3v3h-3zM1780 1326h3v3h-3zM1766 1328h3v3h-3zM1740 1320h3v3h-3zM1931 1327h3v3h-3zM1898 1325h3v3h-3zM1897 1325h3v3h-3zM1909 1331h3v3h-3zM1870 1327h3v3h-3zM1906 1326h3v3h-3zM1881 1326h3v3h-3zM1923 1325h3v3h-3zM1941 1324h3v3h-3zM1932 1325h3v3h-3z" fill="#666666"/>
<path d="M1974 1325h3v3h-3z" fill="#f0502e"/>
<rect x="1790.6" y="1311.1" width="65.4" height="31.2" fill="#fff" stroke="#878787" stroke-width="1.7"/>
<line x1="1824.9" y1="1311.1" x2="1824.9" y2="1342.3" stroke="#6a6a6a" stroke-width="2.8"/>
<text x="1572.5" y="1335.8" text-anchor="end">Proliferating</text>
<line x1="1579" y1="1326.7" x2="1585" y2="1326.7" stroke="#555" stroke-width="2"/>
<line x1="1760" y1="1367.3" x2="1777.8" y2="1367.3" stroke="#878787" stroke-width="1.6"/>
<line x1="1808.1" y1="1367.3" x2="1841.8" y2="1367.3" stroke="#878787" stroke-width="1.6"/>
<path d="M1773 1370h3v3h-3zM1776 1364h3v3h-3zM1773 1364h3v3h-3zM1765 1364h3v3h-3zM1835 1362h3v3h-3zM1833 1366h3v3h-3zM1817 1368h3v3h-3z" fill="#666666"/>
<rect x="1777.8" y="1351.7" width="30.3" height="31.2" fill="#fff" stroke="#878787" stroke-width="1.7"/>
<line x1="1778.4" y1="1351.7" x2="1778.4" y2="1382.9" stroke="#6a6a6a" stroke-width="2.8"/>
<text x="1572.5" y="1376.8" text-anchor="end">HSPC</text>
<line x1="1579" y1="1367.3" x2="1585" y2="1367.3" stroke="#555" stroke-width="2"/>
<line x1="1814.7" y1="897.4" x2="1814.7" y2="1391" stroke="#6a6a6a" stroke-width="1.8" stroke-dasharray="4.5 2.6"/>
<rect x="1585" y="897.4" width="451" height="493.6" fill="none" stroke="#9a9a9a" stroke-width="1.6"/>
<line x1="1584.2" y1="1391" x2="1584.2" y2="1396.5" stroke="#707070" stroke-width="2"/>
<text x="1580.7" y="1416.6" text-anchor="middle">-5.0</text>
<line x1="1699.5" y1="1391" x2="1699.5" y2="1396.5" stroke="#707070" stroke-width="2"/>
<text x="1696" y="1416.6" text-anchor="middle">-2.5</text>
<line x1="1814.7" y1="1391" x2="1814.7" y2="1396.5" stroke="#707070" stroke-width="2"/>
<text x="1814.7" y="1416.6" text-anchor="middle">0.0</text>
<line x1="1930" y1="1391" x2="1930" y2="1396.5" stroke="#707070" stroke-width="2"/>
<text x="1930" y="1416.6" text-anchor="middle">2.5</text>
<text x="1814.7" y="1442.3" text-anchor="middle">log<tspan font-size="16" dy="5">2</tspan><tspan dy="-5">FC</tspan></text>
<line x1="1604.2" y1="1458.7" x2="1793.7" y2="1458.7" stroke="#2a2aff" stroke-width="2.2"/>
<polygon points="1584.2,1458.7 1607.2,1447.2 1607.2,1470.2" fill="#2a2aff"/>
<line x1="1837" y1="1458.7" x2="2011.2" y2="1458.7" stroke="#ff1a1a" stroke-width="2.2"/>
<polygon points="2031.2,1458.7 2008.2,1447.2 2008.2,1470.2" fill="#ff1a1a"/>
<text x="1615.6" y="1493.6">Decrease in ILD</text>
<text x="1847.3" y="1493.6">Increase in ILD</text>
</svg>
</body></html>
